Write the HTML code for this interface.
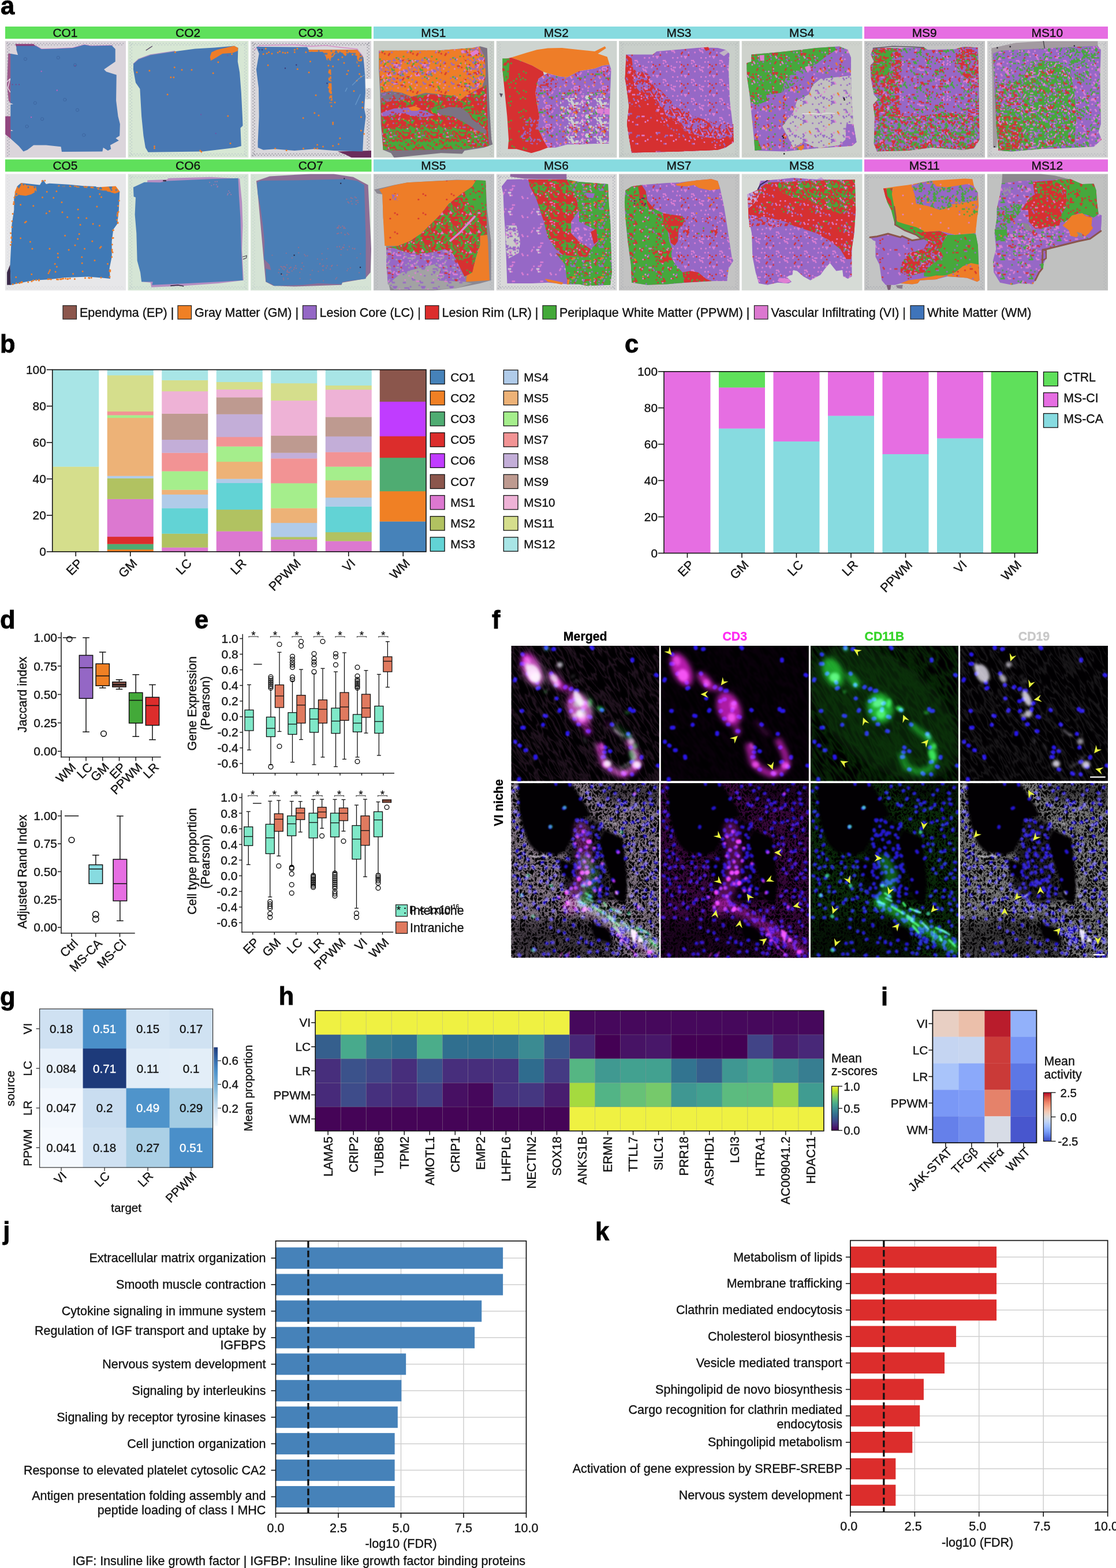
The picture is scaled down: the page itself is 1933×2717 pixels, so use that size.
<!DOCTYPE html>
<html lang="en"><head><meta charset="utf-8"><title>Figure</title>
<style>
html,body{margin:0;padding:0;background:#fff;}
body{width:1933px;height:2717px;overflow:hidden;}
svg{display:block;font-family:"Liberation Sans",sans-serif;fill:#111;}
</style></head><body>
<svg width="1933" height="2717" viewBox="0 0 1933 2717">
<rect x="0" y="0" width="1933" height="2717" fill="#ffffff"/>
<text x="1" y="25" font-size="43.5" font-weight="bold" fill="#000" stroke="#000" stroke-width="0.8">a</text>
<text x="0" y="611" font-size="43.5" font-weight="bold" fill="#000" stroke="#000" stroke-width="0.8">b</text>
<text x="1082" y="611" font-size="43.5" font-weight="bold" fill="#000" stroke="#000" stroke-width="0.8">c</text>
<text x="0" y="1088.5" font-size="43.5" font-weight="bold" fill="#000" stroke="#000" stroke-width="0.8">d</text>
<text x="337" y="1088.5" font-size="43.5" font-weight="bold" fill="#000" stroke="#000" stroke-width="0.8">e</text>
<text x="852" y="1088.5" font-size="43.5" font-weight="bold" fill="#000" stroke="#000" stroke-width="0.8">f</text>
<text x="0" y="1741.5" font-size="43.5" font-weight="bold" fill="#000" stroke="#000" stroke-width="0.8">g</text>
<text x="482.8" y="1741" font-size="43.5" font-weight="bold" fill="#000" stroke="#000" stroke-width="0.8">h</text>
<text x="1526" y="1741.5" font-size="43.5" font-weight="bold" fill="#000" stroke="#000" stroke-width="0.8">i</text>
<text x="5.3" y="2148" font-size="43.5" font-weight="bold" fill="#000" stroke="#000" stroke-width="0.8">j</text>
<text x="1031" y="2148.5" font-size="43.5" font-weight="bold" fill="#000" stroke="#000" stroke-width="0.8">k</text>
<rect x="9" y="46" width="634.5" height="21.2" fill="#5fe05b"/>
<rect x="647" y="46" width="846.5" height="21.2" fill="#87dbe0"/>
<rect x="1497" y="46" width="422" height="21.2" fill="#e66ee2"/>
<rect x="9" y="276.25" width="634.5" height="21.2" fill="#5fe05b"/>
<rect x="647" y="276.25" width="846.5" height="21.2" fill="#87dbe0"/>
<rect x="1497" y="276.25" width="422" height="21.2" fill="#e66ee2"/>
<text x="113" y="63.8" font-size="20.9" text-anchor="middle" stroke="#111" stroke-width="0.35">CO1</text>
<text x="325.6" y="63.8" font-size="20.9" text-anchor="middle" stroke="#111" stroke-width="0.35">CO2</text>
<text x="538.2" y="63.8" font-size="20.9" text-anchor="middle" stroke="#111" stroke-width="0.35">CO3</text>
<text x="750.8" y="63.8" font-size="20.9" text-anchor="middle" stroke="#111" stroke-width="0.35">MS1</text>
<text x="963.4" y="63.8" font-size="20.9" text-anchor="middle" stroke="#111" stroke-width="0.35">MS2</text>
<text x="1176" y="63.8" font-size="20.9" text-anchor="middle" stroke="#111" stroke-width="0.35">MS3</text>
<text x="1388.6" y="63.8" font-size="20.9" text-anchor="middle" stroke="#111" stroke-width="0.35">MS4</text>
<text x="1601.2" y="63.8" font-size="20.9" text-anchor="middle" stroke="#111" stroke-width="0.35">MS9</text>
<text x="1813.8" y="63.8" font-size="20.9" text-anchor="middle" stroke="#111" stroke-width="0.35">MS10</text>
<text x="113" y="294.1" font-size="20.9" text-anchor="middle" stroke="#111" stroke-width="0.35">CO5</text>
<text x="325.6" y="294.1" font-size="20.9" text-anchor="middle" stroke="#111" stroke-width="0.35">CO6</text>
<text x="538.2" y="294.1" font-size="20.9" text-anchor="middle" stroke="#111" stroke-width="0.35">CO7</text>
<text x="750.8" y="294.1" font-size="20.9" text-anchor="middle" stroke="#111" stroke-width="0.35">MS5</text>
<text x="963.4" y="294.1" font-size="20.9" text-anchor="middle" stroke="#111" stroke-width="0.35">MS6</text>
<text x="1176" y="294.1" font-size="20.9" text-anchor="middle" stroke="#111" stroke-width="0.35">MS7</text>
<text x="1388.6" y="294.1" font-size="20.9" text-anchor="middle" stroke="#111" stroke-width="0.35">MS8</text>
<text x="1601.2" y="294.1" font-size="20.9" text-anchor="middle" stroke="#111" stroke-width="0.35">MS11</text>
<text x="1813.8" y="294.1" font-size="20.9" text-anchor="middle" stroke="#111" stroke-width="0.35">MS12</text>
<rect x="109" y="529.5" width="23.5" height="23.5" fill="#8b564c" stroke="#222" stroke-width="1.2"/>
<text x="138" y="548.8" font-size="21.5" stroke="#111" stroke-width="0.35">Ependyma (EP) |</text>
<rect x="308" y="529.5" width="23.5" height="23.5" fill="#f08024" stroke="#222" stroke-width="1.2"/>
<text x="337" y="548.8" font-size="21.5" stroke="#111" stroke-width="0.35">Gray Matter (GM) |</text>
<rect x="524.5" y="529.5" width="23.5" height="23.5" fill="#9467c5" stroke="#222" stroke-width="1.2"/>
<text x="553.5" y="548.8" font-size="21.5" stroke="#111" stroke-width="0.35">Lesion Core (LC) |</text>
<rect x="736.5" y="529.5" width="23.5" height="23.5" fill="#dc2d2c" stroke="#222" stroke-width="1.2"/>
<text x="765.5" y="548.8" font-size="21.5" stroke="#111" stroke-width="0.35">Lesion Rim (LR) |</text>
<rect x="940" y="529.5" width="23.5" height="23.5" fill="#43a939" stroke="#222" stroke-width="1.2"/>
<text x="969" y="548.8" font-size="21.5" stroke="#111" stroke-width="0.35">Periplaque White Matter (PPWM) |</text>
<rect x="1306.5" y="529.5" width="23.5" height="23.5" fill="#dc78d0" stroke="#222" stroke-width="1.2"/>
<text x="1335.5" y="548.8" font-size="21.5" stroke="#111" stroke-width="0.35">Vascular Infiltrating (VI) |</text>
<rect x="1577" y="529.5" width="23.5" height="23.5" fill="#3f74ba" stroke="#222" stroke-width="1.2"/>
<text x="1606" y="548.8" font-size="21.5" stroke="#111" stroke-width="0.35">White Matter (WM)</text>
<defs><pattern id="p0" width="48.96" height="33.04" patternUnits="userSpaceOnUse" stroke-width="3" stroke-linecap="round" fill="none"><rect width="49.96" height="34.04" fill="#ee7d28"/><path d="M4.1 1.2h0M4.1 34.2h0M15 1.2h0M15 34.2h0M17.7 1.2h0M17.7 34.2h0M36.7 1.2h0M36.7 34.2h0M39.4 1.2h0M39.4 34.2h0M47.6 1.2h0M-1.4 1.2h0M47.6 34.2h0M29.9 3.5h0M35.4 3.5h0M40.8 3.5h0M6.8 5.9h0M31.3 5.9h0M47.6 5.9h0M-1.4 5.9h0M2.7 8.3h0M8.2 8.3h0M13.6 8.3h0M32.6 8.3h0M35.4 8.3h0M38.1 8.3h0M25.8 10.6h0M34 10.6h0M36.7 10.6h0M39.4 10.6h0M8.2 13h0M24.5 13h0M38.1 13h0M23.1 15.3h0M25.8 15.3h0M44.9 15.3h0M2.7 17.7h0M24.5 17.7h0M43.5 17.7h0M46.2 17.7h0M13.6 22.4h0M35.4 22.4h0M43.5 22.4h0M1.4 24.8h0M50.3 24.8h0M42.2 24.8h0M44.9 24.8h0M5.4 27.1h0M13.6 27.1h0M21.8 27.1h0M24.5 27.1h0M27.2 27.1h0M38.1 27.1h0M36.7 29.5h0M47.6 29.5h0M-1.4 29.5h0M2.7 31.9h0M2.7 -1.2h0M8.2 31.9h0M8.2 -1.2h0M16.3 31.9h0M16.3 -1.2h0M40.8 31.9h0M40.8 -1.2h0" stroke="#4878b3"/></pattern><pattern id="p1" width="48.96" height="33.04" patternUnits="userSpaceOnUse" stroke-width="3" stroke-linecap="round" fill="none"><rect width="49.96" height="34.04" fill="#ee7d28"/><path d="M9.5 1.2h0M9.5 34.2h0M20.4 1.2h0M20.4 34.2h0M23.1 1.2h0M23.1 34.2h0M31.3 1.2h0M31.3 34.2h0M44.9 1.2h0M44.9 34.2h0M5.4 3.5h0M8.2 3.5h0M13.6 3.5h0M16.3 3.5h0M27.2 3.5h0M38.1 3.5h0M43.5 3.5h0M17.7 5.9h0M20.4 5.9h0M23.1 5.9h0M25.8 5.9h0M34 5.9h0M42.2 5.9h0M47.6 5.9h0M-1.4 5.9h0M10.9 8.3h0M21.8 8.3h0M24.5 8.3h0M29.9 8.3h0M32.6 8.3h0M12.2 10.6h0M15 10.6h0M31.3 10.6h0M34 10.6h0M36.7 10.6h0M39.4 10.6h0M42.2 10.6h0M47.6 10.6h0M-1.4 10.6h0M38.1 13h0M43.5 13h0M49 13h0M0 13h0M1.4 15.3h0M50.3 15.3h0M4.1 15.3h0M6.8 15.3h0M17.7 15.3h0M20.4 15.3h0M39.4 15.3h0M42.2 15.3h0M44.9 15.3h0M2.7 17.7h0M5.4 17.7h0M10.9 17.7h0M13.6 17.7h0M19 17.7h0M27.2 17.7h0M43.5 17.7h0M20.4 20.1h0M23.1 20.1h0M25.8 20.1h0M39.4 20.1h0M42.2 20.1h0M44.9 20.1h0M8.2 22.4h0M27.2 22.4h0M29.9 22.4h0M6.8 24.8h0M9.5 24.8h0M20.4 24.8h0M25.8 24.8h0M36.7 24.8h0M39.4 24.8h0M42.2 24.8h0M44.9 24.8h0M2.7 27.1h0M8.2 27.1h0M10.9 27.1h0M24.5 27.1h0M27.2 27.1h0M38.1 27.1h0M43.5 27.1h0M6.8 29.5h0M12.2 29.5h0M25.8 29.5h0M28.6 29.5h0M31.3 29.5h0M42.2 29.5h0M5.4 31.9h0M5.4 -1.2h0M8.2 31.9h0M8.2 -1.2h0M10.9 31.9h0M10.9 -1.2h0M29.9 31.9h0M29.9 -1.2h0M32.6 31.9h0M32.6 -1.2h0M35.4 31.9h0M35.4 -1.2h0M40.8 31.9h0M40.8 -1.2h0M43.5 31.9h0M43.5 -1.2h0" stroke="#4878b3"/></pattern><pattern id="p2" width="48.96" height="33.04" patternUnits="userSpaceOnUse" stroke-width="3" stroke-linecap="round" fill="none"><rect width="49.96" height="34.04" fill="#ee7d28"/><path d="M8.2 3.5h0M23.1 10.6h0M13.6 13h0M27.2 13h0M36.7 15.3h0M4.1 20.1h0M34 20.1h0M21.8 22.4h0" stroke="#df7fd3"/><path d="M36.7 10.6h0M9.5 15.3h0M12.2 15.3h0M16.3 17.7h0M25.8 24.8h0M29.9 27.1h0M38.1 27.1h0M36.7 29.5h0" stroke="#d63031"/><path d="M1.4 1.2h0M50.3 1.2h0M1.4 34.2h0M5.4 3.5h0M21.8 3.5h0M15 10.6h0M24.5 17.7h0M25.8 20.1h0M27.2 22.4h0M13.6 31.9h0M13.6 -1.2h0" stroke="#46a83c"/><path d="M4.1 1.2h0M4.1 34.2h0M46.2 3.5h0M6.8 5.9h0M28.6 5.9h0M35.4 8.3h0M34 10.6h0M47.6 10.6h0M-1.4 10.6h0M2.7 13h0M49 13h0M0 13h0M10.9 17.7h0M43.5 17.7h0M20.4 24.8h0M42.2 24.8h0" stroke="#9668c6"/></pattern><pattern id="p3" width="48.96" height="33.04" patternUnits="userSpaceOnUse" stroke-width="3" stroke-linecap="round" fill="none"><rect width="49.96" height="34.04" fill="#ee7d28"/><path d="M20.4 1.2h0M20.4 34.2h0M23.1 1.2h0M23.1 34.2h0M2.7 3.5h0M13.6 3.5h0M12.2 5.9h0M23.1 5.9h0M1.4 10.6h0M50.3 10.6h0M28.6 15.3h0M46.2 17.7h0M31.3 24.8h0M38.1 27.1h0M4.1 29.5h0M36.7 29.5h0" stroke="#d63031"/><path d="M39.4 1.2h0M39.4 34.2h0M32.6 3.5h0M25.8 5.9h0M35.4 8.3h0M20.4 10.6h0M31.3 10.6h0M29.9 13h0M42.2 20.1h0M43.5 22.4h0M46.2 22.4h0M46.2 27.1h0M12.2 29.5h0M8.2 31.9h0M8.2 -1.2h0" stroke="#46a83c"/><path d="M25.8 1.2h0M25.8 34.2h0M28.6 5.9h0M34 5.9h0M29.9 8.3h0M9.5 10.6h0M2.7 13h0M46.2 13h0M49 13h0M0 13h0M1.4 15.3h0M50.3 15.3h0M31.3 15.3h0M5.4 17.7h0M8.2 17.7h0M24.5 17.7h0M6.8 20.1h0M13.6 22.4h0M6.8 24.8h0M15 24.8h0M5.4 27.1h0M19 27.1h0M34 29.5h0M39.4 29.5h0M27.2 31.9h0M27.2 -1.2h0M35.4 31.9h0M35.4 -1.2h0M38.1 31.9h0M38.1 -1.2h0M40.8 31.9h0M40.8 -1.2h0" stroke="#df7fd3"/><path d="M19 3.5h0M43.5 3.5h0M46.2 3.5h0M6.8 5.9h0M9.5 5.9h0M36.7 5.9h0M39.4 5.9h0M44.9 5.9h0M47.6 5.9h0M-1.4 5.9h0M8.2 8.3h0M16.3 8.3h0M24.5 8.3h0M38.1 8.3h0M23.1 10.6h0M42.2 10.6h0M44.9 10.6h0M5.4 13h0M8.2 13h0M6.8 15.3h0M39.4 15.3h0M47.6 15.3h0M-1.4 15.3h0M2.7 17.7h0M21.8 17.7h0M32.6 17.7h0M35.4 17.7h0M40.8 17.7h0M49 17.7h0M0 17.7h0M23.1 20.1h0M28.6 20.1h0M36.7 20.1h0M16.3 22.4h0M19 22.4h0M24.5 22.4h0M9.5 24.8h0M12.2 24.8h0M17.7 24.8h0M20.4 24.8h0M28.6 24.8h0M34 24.8h0M36.7 24.8h0M42.2 24.8h0M44.9 24.8h0M10.9 27.1h0M49 27.1h0M0 27.1h0M6.8 29.5h0M9.5 29.5h0M44.9 29.5h0M47.6 29.5h0M-1.4 29.5h0M10.9 31.9h0M10.9 -1.2h0M13.6 31.9h0M13.6 -1.2h0" stroke="#9668c6"/></pattern><pattern id="p4" width="48.96" height="33.04" patternUnits="userSpaceOnUse" stroke-width="3" stroke-linecap="round" fill="none"><rect width="49.96" height="34.04" fill="#ee7d28"/><path d="M36.7 1.2h0M36.7 34.2h0M40.8 8.3h0M9.5 10.6h0M12.2 10.6h0M39.4 10.6h0M21.8 13h0M24.5 13h0M49 13h0M0 13h0M29.9 17.7h0M4.1 20.1h0M31.3 20.1h0M1.4 29.5h0M50.3 29.5h0M5.4 31.9h0M5.4 -1.2h0" stroke="#46a83c"/><path d="M15 1.2h0M15 34.2h0M5.4 3.5h0M46.2 3.5h0M4.1 5.9h0M47.6 5.9h0M-1.4 5.9h0M13.6 8.3h0M21.8 8.3h0M15 10.6h0M43.5 13h0M46.2 13h0M25.8 15.3h0M28.6 15.3h0M44.9 15.3h0M43.5 17.7h0M17.7 20.1h0M16.3 22.4h0M19 22.4h0M27.2 22.4h0M32.6 22.4h0M15 24.8h0M17.7 24.8h0M20.4 24.8h0M43.5 27.1h0M15 29.5h0M16.3 31.9h0M16.3 -1.2h0" stroke="#df7fd3"/><path d="M12.2 1.2h0M12.2 34.2h0M17.7 1.2h0M17.7 34.2h0M8.2 3.5h0M10.9 3.5h0M19 3.5h0M6.8 5.9h0M9.5 5.9h0M23.1 5.9h0M8.2 8.3h0M10.9 8.3h0M16.3 8.3h0M44.9 10.6h0M29.9 13h0M40.8 13h0M21.8 17.7h0M24.5 22.4h0M25.8 24.8h0M44.9 24.8h0M38.1 27.1h0M40.8 27.1h0M46.2 27.1h0M28.6 29.5h0M31.3 29.5h0M42.2 29.5h0M19 31.9h0M19 -1.2h0" stroke="#d63031"/><path d="M1.4 1.2h0M50.3 1.2h0M1.4 34.2h0M4.1 1.2h0M4.1 34.2h0M9.5 1.2h0M9.5 34.2h0M47.6 1.2h0M-1.4 1.2h0M47.6 34.2h0M2.7 3.5h0M13.6 3.5h0M27.2 3.5h0M38.1 3.5h0M43.5 3.5h0M49 3.5h0M0 3.5h0M12.2 5.9h0M31.3 5.9h0M39.4 5.9h0M35.4 8.3h0M38.1 8.3h0M43.5 8.3h0M36.7 10.6h0M5.4 13h0M10.9 13h0M13.6 13h0M6.8 15.3h0M9.5 15.3h0M23.1 15.3h0M39.4 15.3h0M42.2 15.3h0M5.4 17.7h0M8.2 17.7h0M10.9 17.7h0M13.6 17.7h0M24.5 17.7h0M27.2 17.7h0M32.6 17.7h0M40.8 17.7h0M1.4 20.1h0M50.3 20.1h0M34 20.1h0M36.7 20.1h0M39.4 20.1h0M44.9 20.1h0M21.8 22.4h0M43.5 22.4h0M49 22.4h0M0 22.4h0M1.4 24.8h0M50.3 24.8h0M23.1 24.8h0M2.7 27.1h0M16.3 27.1h0M27.2 27.1h0M25.8 29.5h0M36.7 29.5h0M44.9 29.5h0M32.6 31.9h0M32.6 -1.2h0" stroke="#9668c6"/></pattern><pattern id="p5" width="48.96" height="33.04" patternUnits="userSpaceOnUse" stroke-width="3" stroke-linecap="round" fill="none"><rect width="49.96" height="34.04" fill="#d63031"/><path d="M6.8 1.2h0M6.8 34.2h0M25.8 1.2h0M25.8 34.2h0M5.4 8.3h0M5.4 22.4h0M32.6 27.1h0M39.4 29.5h0M8.2 31.9h0M8.2 -1.2h0M24.5 31.9h0M24.5 -1.2h0" stroke="#df7fd3"/><path d="M13.6 8.3h0M23.1 10.6h0M35.4 17.7h0M13.6 27.1h0M1.4 29.5h0M50.3 29.5h0M15 29.5h0M36.7 29.5h0M42.2 29.5h0" stroke="#ee7d28"/><path d="M28.6 1.2h0M28.6 34.2h0M6.8 5.9h0M42.2 5.9h0M43.5 8.3h0M28.6 10.6h0M44.9 15.3h0M34 20.1h0M13.6 22.4h0M19 22.4h0M21.8 22.4h0M38.1 27.1h0M40.8 27.1h0M20.4 29.5h0" stroke="#9668c6"/><path d="M34 1.2h0M34 34.2h0M39.4 1.2h0M39.4 34.2h0M42.2 1.2h0M42.2 34.2h0M44.9 1.2h0M44.9 34.2h0M47.6 1.2h0M-1.4 1.2h0M47.6 34.2h0M38.1 3.5h0M46.2 3.5h0M25.8 5.9h0M10.9 8.3h0M27.2 8.3h0M40.8 8.3h0M49 8.3h0M0 8.3h0M6.8 10.6h0M15 10.6h0M17.7 10.6h0M31.3 10.6h0M19 13h0M21.8 13h0M27.2 13h0M29.9 13h0M1.4 15.3h0M50.3 15.3h0M20.4 15.3h0M23.1 15.3h0M28.6 15.3h0M8.2 17.7h0M19 17.7h0M6.8 20.1h0M27.2 22.4h0M2.7 27.1h0M5.4 27.1h0M4.1 29.5h0M6.8 29.5h0M17.7 29.5h0M34 29.5h0M2.7 31.9h0M2.7 -1.2h0M21.8 31.9h0M21.8 -1.2h0M40.8 31.9h0M40.8 -1.2h0M49 31.9h0M0 31.9h0M49 -1.2h0" stroke="#46a83c"/></pattern><pattern id="p6" width="48.96" height="33.04" patternUnits="userSpaceOnUse" stroke-width="3" stroke-linecap="round" fill="none"><rect width="49.96" height="34.04" fill="#7b7382"/><path d="M10.9 3.5h0M24.5 3.5h0M43.5 3.5h0M9.5 5.9h0M12.2 5.9h0M32.6 8.3h0M35.4 8.3h0M40.8 8.3h0M49 8.3h0M0 8.3h0M1.4 10.6h0M50.3 10.6h0M9.5 10.6h0M4.1 15.3h0M15 15.3h0M16.3 17.7h0M43.5 17.7h0M46.2 17.7h0M49 17.7h0M0 17.7h0M6.8 20.1h0M12.2 20.1h0M15 20.1h0M17.7 20.1h0M10.9 22.4h0M43.5 22.4h0M49 22.4h0M0 22.4h0M1.4 24.8h0M50.3 24.8h0M6.8 24.8h0M20.4 24.8h0M42.2 24.8h0M47.6 24.8h0M-1.4 24.8h0M27.2 27.1h0M29.9 27.1h0M9.5 29.5h0M23.1 29.5h0M31.3 29.5h0M39.4 29.5h0M47.6 29.5h0M-1.4 29.5h0M27.2 31.9h0M27.2 -1.2h0M29.9 31.9h0M29.9 -1.2h0" stroke="#9668c6"/><path d="M9.5 1.2h0M9.5 34.2h0M12.2 1.2h0M12.2 34.2h0M17.7 1.2h0M17.7 34.2h0M44.9 1.2h0M44.9 34.2h0M16.3 3.5h0M21.8 3.5h0M46.2 3.5h0M6.8 5.9h0M17.7 5.9h0M25.8 5.9h0M39.4 5.9h0M44.9 5.9h0M47.6 5.9h0M-1.4 5.9h0M21.8 8.3h0M27.2 8.3h0M43.5 8.3h0M23.1 10.6h0M31.3 10.6h0M42.2 10.6h0M44.9 10.6h0M5.4 13h0M46.2 13h0M49 13h0M0 13h0M6.8 15.3h0M25.8 15.3h0M44.9 15.3h0M10.9 17.7h0M13.6 17.7h0M27.2 17.7h0M20.4 20.1h0M2.7 22.4h0M24.5 22.4h0M9.5 24.8h0M12.2 24.8h0M13.6 27.1h0M16.3 27.1h0M4.1 29.5h0M36.7 29.5h0" stroke="#d63031"/></pattern><pattern id="p7" width="48.96" height="33.04" patternUnits="userSpaceOnUse" stroke-width="3" stroke-linecap="round" fill="none"><rect width="49.96" height="34.04" fill="#9668c6"/><path d="M13.6 3.5h0M4.1 5.9h0M6.8 5.9h0M12.2 5.9h0M9.5 10.6h0M12.2 10.6h0M20.4 10.6h0M39.4 10.6h0M1.4 20.1h0M50.3 20.1h0M4.1 20.1h0M5.4 22.4h0M16.3 27.1h0M21.8 27.1h0" stroke="#ee7d28"/><path d="M39.4 1.2h0M39.4 34.2h0M47.6 1.2h0M-1.4 1.2h0M47.6 34.2h0M19 3.5h0M35.4 3.5h0M38.1 8.3h0M31.3 10.6h0M36.7 10.6h0M5.4 13h0M38.1 13h0M6.8 15.3h0M28.6 15.3h0M42.2 15.3h0M47.6 15.3h0M-1.4 15.3h0M2.7 17.7h0M10.9 17.7h0M39.4 20.1h0M10.9 22.4h0M40.8 22.4h0M28.6 24.8h0M13.6 27.1h0M42.2 29.5h0M44.9 29.5h0M5.4 31.9h0M5.4 -1.2h0M16.3 31.9h0M16.3 -1.2h0M49 31.9h0M0 31.9h0M49 -1.2h0" stroke="#d63031"/></pattern><pattern id="p8" width="48.96" height="33.04" patternUnits="userSpaceOnUse" stroke-width="3" stroke-linecap="round" fill="none"><rect width="49.96" height="34.04" fill="#46a83c"/><path d="M1.4 1.2h0M50.3 1.2h0M1.4 34.2h0M39.4 1.2h0M39.4 34.2h0M2.7 3.5h0M8.2 3.5h0M21.8 3.5h0M38.1 3.5h0M40.8 3.5h0M43.5 3.5h0M39.4 5.9h0M42.2 5.9h0M44.9 5.9h0M47.6 5.9h0M-1.4 5.9h0M16.3 8.3h0M19 8.3h0M29.9 8.3h0M43.5 8.3h0M12.2 10.6h0M20.4 10.6h0M23.1 10.6h0M36.7 10.6h0M39.4 10.6h0M8.2 13h0M16.3 13h0M43.5 13h0M42.2 15.3h0M19 17.7h0M29.9 17.7h0M46.2 17.7h0M4.1 20.1h0M6.8 20.1h0M9.5 20.1h0M12.2 20.1h0M28.6 20.1h0M42.2 20.1h0M44.9 20.1h0M13.6 22.4h0M24.5 22.4h0M29.9 22.4h0M32.6 22.4h0M46.2 22.4h0M49 22.4h0M0 22.4h0M1.4 24.8h0M50.3 24.8h0M44.9 24.8h0M2.7 27.1h0M4.1 29.5h0M6.8 29.5h0M10.9 31.9h0M10.9 -1.2h0M24.5 31.9h0M24.5 -1.2h0M40.8 31.9h0M40.8 -1.2h0M46.2 31.9h0M46.2 -1.2h0" stroke="#d63031"/></pattern><pattern id="p9" width="48.96" height="33.04" patternUnits="userSpaceOnUse" stroke-width="3" stroke-linecap="round" fill="none"><rect width="49.96" height="34.04" fill="#46a83c"/><path d="M1.4 1.2h0M50.3 1.2h0M1.4 34.2h0M17.7 1.2h0M17.7 34.2h0M20.4 1.2h0M20.4 34.2h0M28.6 1.2h0M28.6 34.2h0M31.3 1.2h0M31.3 34.2h0M13.6 3.5h0M19 3.5h0M21.8 3.5h0M32.6 3.5h0M4.1 5.9h0M6.8 5.9h0M12.2 5.9h0M15 5.9h0M23.1 5.9h0M25.8 5.9h0M28.6 5.9h0M44.9 5.9h0M47.6 5.9h0M-1.4 5.9h0M2.7 8.3h0M16.3 8.3h0M19 8.3h0M27.2 8.3h0M29.9 8.3h0M32.6 8.3h0M46.2 8.3h0M1.4 10.6h0M50.3 10.6h0M23.1 10.6h0M28.6 10.6h0M31.3 10.6h0M44.9 10.6h0M5.4 13h0M8.2 13h0M21.8 13h0M29.9 13h0M35.4 13h0M43.5 13h0M6.8 15.3h0M12.2 15.3h0M23.1 15.3h0M31.3 15.3h0M34 15.3h0M42.2 15.3h0M44.9 15.3h0M47.6 15.3h0M-1.4 15.3h0M5.4 17.7h0M27.2 17.7h0M29.9 17.7h0M32.6 17.7h0M38.1 17.7h0M46.2 17.7h0M49 17.7h0M0 17.7h0M4.1 20.1h0M9.5 20.1h0M12.2 20.1h0M39.4 20.1h0M47.6 20.1h0M-1.4 20.1h0M2.7 22.4h0M8.2 22.4h0M13.6 22.4h0M16.3 22.4h0M32.6 22.4h0M35.4 22.4h0M38.1 22.4h0M40.8 22.4h0M49 22.4h0M0 22.4h0M1.4 24.8h0M50.3 24.8h0M6.8 24.8h0M17.7 24.8h0M23.1 24.8h0M25.8 24.8h0M28.6 24.8h0M34 24.8h0M36.7 24.8h0M39.4 24.8h0M42.2 24.8h0M44.9 24.8h0M47.6 24.8h0M-1.4 24.8h0M5.4 27.1h0M8.2 27.1h0M10.9 27.1h0M13.6 27.1h0M16.3 27.1h0M35.4 27.1h0M40.8 27.1h0M46.2 27.1h0M1.4 29.5h0M50.3 29.5h0M6.8 29.5h0M15 29.5h0M28.6 29.5h0M31.3 29.5h0M34 29.5h0M36.7 29.5h0M42.2 29.5h0M47.6 29.5h0M-1.4 29.5h0M5.4 31.9h0M5.4 -1.2h0M19 31.9h0M19 -1.2h0M27.2 31.9h0M27.2 -1.2h0M35.4 31.9h0M35.4 -1.2h0M40.8 31.9h0M40.8 -1.2h0M43.5 31.9h0M43.5 -1.2h0M46.2 31.9h0M46.2 -1.2h0" stroke="#d63031"/></pattern><pattern id="p10" width="48.96" height="33.04" patternUnits="userSpaceOnUse" stroke-width="3" stroke-linecap="round" fill="none"><rect width="49.96" height="34.04" fill="#d63031"/><path d="M39.4 5.9h0M42.2 5.9h0M27.2 8.3h0M27.2 13h0M29.9 13h0M20.4 24.8h0M36.7 24.8h0M40.8 31.9h0M40.8 -1.2h0" stroke="#df7fd3"/><path d="M34 1.2h0M34 34.2h0M46.2 3.5h0M49 3.5h0M0 3.5h0M6.8 10.6h0M23.1 10.6h0M44.9 10.6h0M10.9 13h0M47.6 15.3h0M-1.4 15.3h0M5.4 17.7h0M35.4 17.7h0M38.1 17.7h0M4.1 20.1h0M38.1 27.1h0" stroke="#9668c6"/><path d="M4.1 1.2h0M4.1 34.2h0M12.2 1.2h0M12.2 34.2h0M15 1.2h0M15 34.2h0M17.7 1.2h0M17.7 34.2h0M20.4 1.2h0M20.4 34.2h0M25.8 1.2h0M25.8 34.2h0M36.7 1.2h0M36.7 34.2h0M42.2 1.2h0M42.2 34.2h0M47.6 1.2h0M-1.4 1.2h0M47.6 34.2h0M2.7 3.5h0M8.2 3.5h0M16.3 3.5h0M19 3.5h0M32.6 3.5h0M35.4 3.5h0M38.1 3.5h0M43.5 3.5h0M1.4 5.9h0M50.3 5.9h0M9.5 5.9h0M25.8 5.9h0M34 5.9h0M36.7 5.9h0M44.9 5.9h0M47.6 5.9h0M-1.4 5.9h0M2.7 8.3h0M5.4 8.3h0M10.9 8.3h0M29.9 8.3h0M35.4 8.3h0M38.1 8.3h0M40.8 8.3h0M43.5 8.3h0M46.2 8.3h0M1.4 10.6h0M50.3 10.6h0M4.1 10.6h0M15 10.6h0M17.7 10.6h0M20.4 10.6h0M31.3 10.6h0M34 10.6h0M39.4 10.6h0M47.6 10.6h0M-1.4 10.6h0M16.3 13h0M19 13h0M21.8 13h0M24.5 13h0M32.6 13h0M38.1 13h0M40.8 13h0M49 13h0M0 13h0M1.4 15.3h0M50.3 15.3h0M4.1 15.3h0M6.8 15.3h0M9.5 15.3h0M20.4 15.3h0M23.1 15.3h0M31.3 15.3h0M39.4 15.3h0M42.2 15.3h0M2.7 17.7h0M10.9 17.7h0M24.5 17.7h0M27.2 17.7h0M29.9 17.7h0M32.6 17.7h0M43.5 17.7h0M46.2 17.7h0M12.2 20.1h0M15 20.1h0M20.4 20.1h0M25.8 20.1h0M44.9 20.1h0M47.6 20.1h0M-1.4 20.1h0M2.7 22.4h0M24.5 22.4h0M27.2 22.4h0M29.9 22.4h0M35.4 22.4h0M43.5 22.4h0M49 22.4h0M0 22.4h0M1.4 24.8h0M50.3 24.8h0M4.1 24.8h0M6.8 24.8h0M12.2 24.8h0M17.7 24.8h0M23.1 24.8h0M25.8 24.8h0M28.6 24.8h0M31.3 24.8h0M34 24.8h0M39.4 24.8h0M2.7 27.1h0M5.4 27.1h0M8.2 27.1h0M10.9 27.1h0M13.6 27.1h0M16.3 27.1h0M19 27.1h0M21.8 27.1h0M27.2 27.1h0M29.9 27.1h0M32.6 27.1h0M40.8 27.1h0M43.5 27.1h0M46.2 27.1h0M49 27.1h0M0 27.1h0M6.8 29.5h0M9.5 29.5h0M15 29.5h0M17.7 29.5h0M20.4 29.5h0M23.1 29.5h0M28.6 29.5h0M31.3 29.5h0M36.7 29.5h0M39.4 29.5h0M42.2 29.5h0M47.6 29.5h0M-1.4 29.5h0M2.7 31.9h0M2.7 -1.2h0M10.9 31.9h0M10.9 -1.2h0M27.2 31.9h0M27.2 -1.2h0M29.9 31.9h0M29.9 -1.2h0M32.6 31.9h0M32.6 -1.2h0M35.4 31.9h0M35.4 -1.2h0M43.5 31.9h0M43.5 -1.2h0M46.2 31.9h0M46.2 -1.2h0" stroke="#46a83c"/></pattern><pattern id="p11" width="48.96" height="33.04" patternUnits="userSpaceOnUse" stroke-width="3" stroke-linecap="round" fill="none"><rect width="49.96" height="34.04" fill="#46a83c"/><path d="M12.2 1.2h0M12.2 34.2h0M15 1.2h0M15 34.2h0M17.7 1.2h0M17.7 34.2h0M20.4 1.2h0M20.4 34.2h0M31.3 1.2h0M31.3 34.2h0M39.4 1.2h0M39.4 34.2h0M42.2 1.2h0M42.2 34.2h0M44.9 1.2h0M44.9 34.2h0M32.6 3.5h0M38.1 3.5h0M4.1 5.9h0M9.5 5.9h0M15 5.9h0M42.2 5.9h0M2.7 8.3h0M10.9 8.3h0M29.9 8.3h0M32.6 8.3h0M35.4 8.3h0M38.1 8.3h0M40.8 8.3h0M43.5 8.3h0M1.4 10.6h0M50.3 10.6h0M4.1 10.6h0M6.8 10.6h0M15 10.6h0M39.4 10.6h0M42.2 10.6h0M47.6 10.6h0M-1.4 10.6h0M2.7 13h0M8.2 13h0M10.9 13h0M27.2 13h0M29.9 13h0M38.1 13h0M43.5 13h0M46.2 13h0M17.7 15.3h0M31.3 15.3h0M34 15.3h0M21.8 17.7h0M27.2 17.7h0M32.6 17.7h0M6.8 20.1h0M20.4 20.1h0M23.1 20.1h0M39.4 20.1h0M10.9 22.4h0M35.4 22.4h0M46.2 22.4h0M15 24.8h0M34 24.8h0M36.7 24.8h0M39.4 24.8h0M42.2 24.8h0M44.9 24.8h0M47.6 24.8h0M-1.4 24.8h0M16.3 27.1h0M29.9 27.1h0M32.6 27.1h0M38.1 27.1h0M49 27.1h0M0 27.1h0M1.4 29.5h0M50.3 29.5h0M4.1 29.5h0M6.8 29.5h0M9.5 29.5h0M17.7 29.5h0M20.4 29.5h0M31.3 29.5h0M44.9 29.5h0M8.2 31.9h0M8.2 -1.2h0M19 31.9h0M19 -1.2h0M21.8 31.9h0M21.8 -1.2h0M40.8 31.9h0M40.8 -1.2h0M43.5 31.9h0M43.5 -1.2h0M46.2 31.9h0M46.2 -1.2h0" stroke="#d63031"/></pattern><pattern id="p12" width="48.96" height="33.04" patternUnits="userSpaceOnUse" stroke-width="3" stroke-linecap="round" fill="none"><rect width="49.96" height="34.04" fill="#9668c6"/><path d="M34 1.2h0M34 34.2h0M21.8 3.5h0M27.2 3.5h0M13.6 27.1h0M4.1 29.5h0M6.8 29.5h0M9.5 29.5h0M39.4 29.5h0" stroke="#46a83c"/><path d="M12.2 1.2h0M12.2 34.2h0M49 3.5h0M0 3.5h0M34 10.6h0M16.3 13h0M1.4 15.3h0M50.3 15.3h0M40.8 17.7h0M12.2 24.8h0M44.9 29.5h0" stroke="#ee7d28"/><path d="M24.5 3.5h0M25.8 5.9h0M44.9 5.9h0M1.4 10.6h0M50.3 10.6h0M24.5 17.7h0M24.5 22.4h0M6.8 24.8h0M17.7 24.8h0M23.1 24.8h0M17.7 29.5h0M47.6 29.5h0M-1.4 29.5h0M2.7 31.9h0M2.7 -1.2h0M19 31.9h0M19 -1.2h0" stroke="#d63031"/><path d="M9.5 1.2h0M9.5 34.2h0M10.9 3.5h0M34 5.9h0M2.7 8.3h0M13.6 8.3h0M12.2 10.6h0M13.6 13h0M34 15.3h0M47.6 15.3h0M-1.4 15.3h0M16.3 17.7h0M19 17.7h0M21.8 17.7h0M35.4 17.7h0M49 17.7h0M0 17.7h0M15 20.1h0M23.1 20.1h0M39.4 20.1h0M10.9 22.4h0M16.3 22.4h0M19 22.4h0M29.9 22.4h0M39.4 24.8h0M27.2 27.1h0M25.8 29.5h0M21.8 31.9h0M21.8 -1.2h0" stroke="#df7fd3"/></pattern><pattern id="p13" width="48.96" height="33.04" patternUnits="userSpaceOnUse" stroke-width="3" stroke-linecap="round" fill="none"><rect width="49.96" height="34.04" fill="#9668c6"/><path d="M40.8 3.5h0M42.2 5.9h0M38.1 13h0M42.2 24.8h0M35.4 27.1h0M4.1 29.5h0M5.4 31.9h0M5.4 -1.2h0M49 31.9h0M0 31.9h0M49 -1.2h0" stroke="#46a83c"/><path d="M10.9 22.4h0M40.8 22.4h0M46.2 22.4h0M23.1 24.8h0M46.2 27.1h0M15 29.5h0M17.7 29.5h0M19 31.9h0M19 -1.2h0" stroke="#ee7d28"/><path d="M42.2 1.2h0M42.2 34.2h0M17.7 5.9h0M44.9 5.9h0M36.7 15.3h0M16.3 17.7h0M38.1 17.7h0M31.3 20.1h0M8.2 22.4h0M16.3 22.4h0M12.2 24.8h0M19 27.1h0M32.6 27.1h0M20.4 29.5h0" stroke="#d63031"/><path d="M6.8 1.2h0M6.8 34.2h0M12.2 1.2h0M12.2 34.2h0M28.6 1.2h0M28.6 34.2h0M31.3 1.2h0M31.3 34.2h0M5.4 3.5h0M29.9 3.5h0M23.1 5.9h0M29.9 8.3h0M31.3 10.6h0M34 10.6h0M44.9 10.6h0M27.2 13h0M23.1 15.3h0M31.3 15.3h0M8.2 17.7h0M10.9 17.7h0M35.4 17.7h0M9.5 20.1h0M20.4 20.1h0M15 24.8h0M47.6 24.8h0M-1.4 24.8h0M6.8 29.5h0M9.5 29.5h0M42.2 29.5h0M13.6 31.9h0M13.6 -1.2h0" stroke="#df7fd3"/><path d="M17.7 1.2h0M17.7 34.2h0M36.7 1.2h0M36.7 34.2h0M39.4 1.2h0M39.4 34.2h0M19 3.5h0M35.4 3.5h0M38.1 3.5h0M1.4 5.9h0M50.3 5.9h0M4.1 5.9h0M9.5 5.9h0M12.2 5.9h0M15 5.9h0M36.7 5.9h0M39.4 5.9h0M5.4 8.3h0M10.9 8.3h0M6.8 10.6h0M9.5 10.6h0M12.2 10.6h0M28.6 10.6h0M39.4 10.6h0M10.9 13h0M13.6 13h0M19 13h0M21.8 13h0M29.9 13h0M40.8 13h0M6.8 15.3h0M12.2 15.3h0M15 15.3h0M17.7 15.3h0M20.4 15.3h0M25.8 15.3h0M13.6 17.7h0M29.9 17.7h0M4.1 20.1h0M15 20.1h0M17.7 20.1h0M42.2 20.1h0M44.9 20.1h0M21.8 22.4h0M24.5 22.4h0M43.5 22.4h0M49 22.4h0M0 22.4h0M4.1 24.8h0M5.4 27.1h0M8.2 27.1h0M24.5 27.1h0M31.3 29.5h0M43.5 31.9h0M43.5 -1.2h0M46.2 31.9h0M46.2 -1.2h0" stroke="#cfd2ce"/></pattern><pattern id="p14" width="48.96" height="33.04" patternUnits="userSpaceOnUse" stroke-width="3" stroke-linecap="round" fill="none"><rect width="49.96" height="34.04" fill="#df7fd3"/><path d="M1.4 1.2h0M50.3 1.2h0M1.4 34.2h0M31.3 1.2h0M31.3 34.2h0M36.7 1.2h0M36.7 34.2h0M39.4 1.2h0M39.4 34.2h0M13.6 3.5h0M16.3 3.5h0M6.8 5.9h0M23.1 5.9h0M42.2 5.9h0M44.9 5.9h0M47.6 5.9h0M-1.4 5.9h0M43.5 8.3h0M10.9 13h0M13.6 13h0M16.3 13h0M27.2 13h0M4.1 15.3h0M6.8 15.3h0M31.3 15.3h0M34 15.3h0M5.4 17.7h0M8.2 17.7h0M16.3 17.7h0M40.8 17.7h0M25.8 20.1h0M29.9 22.4h0M35.4 22.4h0M43.5 22.4h0M1.4 24.8h0M50.3 24.8h0M17.7 24.8h0M39.4 24.8h0M42.2 24.8h0M2.7 27.1h0M32.6 27.1h0M49 27.1h0M0 27.1h0M17.7 29.5h0M40.8 31.9h0M40.8 -1.2h0M43.5 31.9h0M43.5 -1.2h0" stroke="#9668c6"/></pattern><pattern id="p15" width="48.96" height="33.04" patternUnits="userSpaceOnUse" stroke-width="3" stroke-linecap="round" fill="none"><rect width="49.96" height="34.04" fill="#d63031"/><path d="M24.5 3.5h0M20.4 5.9h0M28.6 5.9h0M4.1 10.6h0M49 13h0M0 13h0M25.8 24.8h0M29.9 27.1h0M17.7 29.5h0" stroke="#46a83c"/></pattern><pattern id="p16" width="48.96" height="33.04" patternUnits="userSpaceOnUse" stroke-width="3" stroke-linecap="round" fill="none"><rect width="49.96" height="34.04" fill="#d63031"/><path d="M35.4 8.3h0M31.3 10.6h0M34 10.6h0M8.2 13h0M10.9 13h0M24.5 13h0M17.7 15.3h0M32.6 17.7h0" stroke="#46a83c"/><path d="M9.5 1.2h0M9.5 34.2h0M25.8 1.2h0M25.8 34.2h0M28.6 1.2h0M28.6 34.2h0M36.7 1.2h0M36.7 34.2h0M21.8 3.5h0M24.5 3.5h0M12.2 5.9h0M20.4 5.9h0M23.1 5.9h0M36.7 5.9h0M24.5 8.3h0M27.2 8.3h0M38.1 8.3h0M1.4 10.6h0M50.3 10.6h0M4.1 10.6h0M39.4 10.6h0M44.9 10.6h0M5.4 13h0M13.6 13h0M29.9 13h0M32.6 13h0M38.1 13h0M43.5 13h0M9.5 15.3h0M20.4 15.3h0M29.9 17.7h0M38.1 17.7h0M40.8 17.7h0M49 17.7h0M0 17.7h0M20.4 20.1h0M39.4 20.1h0M13.6 22.4h0M24.5 22.4h0M49 22.4h0M0 22.4h0M1.4 24.8h0M50.3 24.8h0M6.8 24.8h0M12.2 24.8h0M17.7 24.8h0M20.4 24.8h0M25.8 24.8h0M36.7 24.8h0M47.6 24.8h0M-1.4 24.8h0M8.2 27.1h0M38.1 27.1h0M28.6 29.5h0M36.7 29.5h0M13.6 31.9h0M13.6 -1.2h0M16.3 31.9h0M16.3 -1.2h0M27.2 31.9h0M27.2 -1.2h0M32.6 31.9h0M32.6 -1.2h0" stroke="#9668c6"/></pattern><pattern id="p17" width="48.96" height="33.04" patternUnits="userSpaceOnUse" stroke-width="3" stroke-linecap="round" fill="none"><rect width="49.96" height="34.04" fill="#9668c6"/><path d="M4.1 1.2h0M4.1 34.2h0M12.2 1.2h0M12.2 34.2h0M20.4 1.2h0M20.4 34.2h0M25.8 1.2h0M25.8 34.2h0M36.7 1.2h0M36.7 34.2h0M2.7 3.5h0M8.2 3.5h0M10.9 3.5h0M13.6 3.5h0M19 3.5h0M27.2 3.5h0M38.1 3.5h0M40.8 3.5h0M43.5 3.5h0M46.2 3.5h0M17.7 5.9h0M25.8 5.9h0M28.6 5.9h0M34 5.9h0M39.4 5.9h0M16.3 8.3h0M24.5 8.3h0M43.5 8.3h0M12.2 10.6h0M36.7 10.6h0M16.3 13h0M19 13h0M24.5 13h0M32.6 13h0M6.8 15.3h0M9.5 15.3h0M12.2 15.3h0M15 15.3h0M17.7 15.3h0M44.9 15.3h0M47.6 15.3h0M-1.4 15.3h0M2.7 17.7h0M5.4 17.7h0M19 17.7h0M32.6 17.7h0M49 17.7h0M0 17.7h0M6.8 20.1h0M23.1 20.1h0M31.3 20.1h0M8.2 22.4h0M13.6 22.4h0M21.8 22.4h0M24.5 22.4h0M27.2 22.4h0M46.2 22.4h0M9.5 24.8h0M23.1 24.8h0M25.8 24.8h0M44.9 24.8h0M2.7 27.1h0M19 27.1h0M27.2 27.1h0M32.6 27.1h0M35.4 27.1h0M43.5 27.1h0M46.2 27.1h0M49 27.1h0M0 27.1h0M15 29.5h0M25.8 29.5h0M34 29.5h0M42.2 29.5h0M44.9 29.5h0M10.9 31.9h0M10.9 -1.2h0M16.3 31.9h0M16.3 -1.2h0M19 31.9h0M19 -1.2h0M21.8 31.9h0M21.8 -1.2h0M24.5 31.9h0M24.5 -1.2h0M35.4 31.9h0M35.4 -1.2h0M38.1 31.9h0M38.1 -1.2h0M40.8 31.9h0M40.8 -1.2h0M49 31.9h0M0 31.9h0M49 -1.2h0" stroke="#d63031"/></pattern><pattern id="p18" width="48.96" height="33.04" patternUnits="userSpaceOnUse" stroke-width="3" stroke-linecap="round" fill="none"><rect width="49.96" height="34.04" fill="#46a83c"/><path d="M6.8 1.2h0M6.8 34.2h0M9.5 1.2h0M9.5 34.2h0M28.6 1.2h0M28.6 34.2h0M34 1.2h0M34 34.2h0M44.9 1.2h0M44.9 34.2h0M8.2 3.5h0M10.9 3.5h0M13.6 3.5h0M24.5 3.5h0M27.2 3.5h0M29.9 3.5h0M17.7 5.9h0M23.1 5.9h0M25.8 5.9h0M47.6 5.9h0M-1.4 5.9h0M13.6 8.3h0M19 8.3h0M21.8 8.3h0M46.2 8.3h0M49 8.3h0M0 8.3h0M12.2 10.6h0M34 10.6h0M42.2 10.6h0M44.9 10.6h0M2.7 13h0M13.6 13h0M21.8 13h0M29.9 13h0M35.4 13h0M40.8 13h0M43.5 13h0M9.5 15.3h0M12.2 15.3h0M15 15.3h0M20.4 15.3h0M23.1 15.3h0M5.4 17.7h0M8.2 17.7h0M10.9 17.7h0M13.6 17.7h0M19 17.7h0M21.8 17.7h0M24.5 17.7h0M29.9 17.7h0M4.1 20.1h0M6.8 20.1h0M9.5 20.1h0M20.4 20.1h0M28.6 20.1h0M31.3 20.1h0M34 20.1h0M39.4 20.1h0M2.7 22.4h0M8.2 22.4h0M16.3 22.4h0M27.2 22.4h0M32.6 22.4h0M35.4 22.4h0M38.1 22.4h0M40.8 22.4h0M4.1 24.8h0M9.5 24.8h0M15 24.8h0M20.4 24.8h0M23.1 24.8h0M25.8 24.8h0M47.6 24.8h0M-1.4 24.8h0M2.7 27.1h0M10.9 27.1h0M13.6 27.1h0M16.3 27.1h0M19 27.1h0M21.8 27.1h0M29.9 27.1h0M32.6 27.1h0M4.1 29.5h0M6.8 29.5h0M9.5 29.5h0M15 29.5h0M17.7 29.5h0M31.3 29.5h0M34 29.5h0M8.2 31.9h0M8.2 -1.2h0M13.6 31.9h0M13.6 -1.2h0M19 31.9h0M19 -1.2h0M21.8 31.9h0M21.8 -1.2h0M29.9 31.9h0M29.9 -1.2h0M35.4 31.9h0M35.4 -1.2h0" stroke="#d63031"/></pattern><pattern id="p19" width="48.96" height="33.04" patternUnits="userSpaceOnUse" stroke-width="3" stroke-linecap="round" fill="none"><rect width="49.96" height="34.04" fill="#9668c6"/><path d="M5.4 13h0M16.3 13h0M9.5 15.3h0M31.3 15.3h0M12.2 20.1h0M6.8 24.8h0M5.4 27.1h0M17.7 29.5h0" stroke="#d63031"/><path d="M12.2 1.2h0M12.2 34.2h0M39.4 1.2h0M39.4 34.2h0M47.6 1.2h0M-1.4 1.2h0M47.6 34.2h0M23.1 5.9h0M25.8 5.9h0M2.7 8.3h0M27.2 8.3h0M46.2 8.3h0M23.1 10.6h0M29.9 13h0M4.1 15.3h0M25.8 15.3h0M36.7 15.3h0M2.7 17.7h0M40.8 17.7h0M43.5 17.7h0M36.7 20.1h0M38.1 22.4h0M40.8 22.4h0M17.7 24.8h0M28.6 24.8h0M42.2 24.8h0M5.4 31.9h0M5.4 -1.2h0M10.9 31.9h0M10.9 -1.2h0M13.6 31.9h0M13.6 -1.2h0" stroke="#df7fd3"/></pattern><pattern id="p20" width="48.96" height="33.04" patternUnits="userSpaceOnUse" stroke-width="3" stroke-linecap="round" fill="none"><rect width="49.96" height="34.04" fill="#9668c6"/><path d="M4.1 1.2h0M4.1 34.2h0M9.5 1.2h0M9.5 34.2h0M20.4 1.2h0M20.4 34.2h0M28.6 1.2h0M28.6 34.2h0M42.2 1.2h0M42.2 34.2h0M21.8 3.5h0M6.8 5.9h0M47.6 5.9h0M-1.4 5.9h0M2.7 8.3h0M13.6 8.3h0M49 8.3h0M0 8.3h0M1.4 10.6h0M50.3 10.6h0M21.8 13h0M43.5 13h0M23.1 15.3h0M17.7 20.1h0M39.4 20.1h0M10.9 22.4h0M40.8 22.4h0M43.5 22.4h0M16.3 27.1h0M27.2 27.1h0M31.3 29.5h0M2.7 31.9h0M2.7 -1.2h0M40.8 31.9h0M40.8 -1.2h0" stroke="#df7fd3"/><path d="M1.4 1.2h0M50.3 1.2h0M1.4 34.2h0M6.8 1.2h0M6.8 34.2h0M17.7 1.2h0M17.7 34.2h0M25.8 1.2h0M25.8 34.2h0M36.7 1.2h0M36.7 34.2h0M39.4 1.2h0M39.4 34.2h0M44.9 1.2h0M44.9 34.2h0M47.6 1.2h0M-1.4 1.2h0M47.6 34.2h0M5.4 3.5h0M8.2 3.5h0M13.6 3.5h0M16.3 3.5h0M29.9 3.5h0M46.2 3.5h0M15 5.9h0M20.4 5.9h0M34 5.9h0M36.7 5.9h0M44.9 5.9h0M8.2 8.3h0M10.9 8.3h0M16.3 8.3h0M27.2 8.3h0M29.9 8.3h0M32.6 8.3h0M35.4 8.3h0M38.1 8.3h0M40.8 8.3h0M43.5 8.3h0M46.2 8.3h0M12.2 10.6h0M20.4 10.6h0M25.8 10.6h0M31.3 10.6h0M36.7 10.6h0M42.2 10.6h0M44.9 10.6h0M8.2 13h0M13.6 13h0M24.5 13h0M27.2 13h0M35.4 13h0M46.2 13h0M49 13h0M0 13h0M1.4 15.3h0M50.3 15.3h0M4.1 15.3h0M12.2 15.3h0M15 15.3h0M2.7 17.7h0M5.4 17.7h0M24.5 17.7h0M38.1 17.7h0M46.2 17.7h0M1.4 20.1h0M50.3 20.1h0M4.1 20.1h0M6.8 20.1h0M23.1 20.1h0M34 20.1h0M2.7 22.4h0M8.2 22.4h0M13.6 22.4h0M21.8 22.4h0M38.1 22.4h0M46.2 22.4h0M49 22.4h0M0 22.4h0M1.4 24.8h0M50.3 24.8h0M15 24.8h0M17.7 24.8h0M20.4 24.8h0M23.1 24.8h0M34 24.8h0M39.4 24.8h0M42.2 24.8h0M44.9 24.8h0M47.6 24.8h0M-1.4 24.8h0M2.7 27.1h0M10.9 27.1h0M21.8 27.1h0M29.9 27.1h0M35.4 27.1h0M40.8 27.1h0M4.1 29.5h0M9.5 29.5h0M15 29.5h0M23.1 29.5h0M28.6 29.5h0M34 29.5h0M36.7 29.5h0M42.2 29.5h0M44.9 29.5h0M47.6 29.5h0M-1.4 29.5h0M5.4 31.9h0M5.4 -1.2h0M8.2 31.9h0M8.2 -1.2h0M13.6 31.9h0M13.6 -1.2h0M16.3 31.9h0M16.3 -1.2h0M21.8 31.9h0M21.8 -1.2h0M24.5 31.9h0M24.5 -1.2h0M32.6 31.9h0M32.6 -1.2h0M35.4 31.9h0M35.4 -1.2h0M38.1 31.9h0M38.1 -1.2h0M49 31.9h0M0 31.9h0M49 -1.2h0" stroke="#d63031"/></pattern><pattern id="p21" width="48.96" height="33.04" patternUnits="userSpaceOnUse" stroke-width="3" stroke-linecap="round" fill="none"><rect width="49.96" height="34.04" fill="#d63031"/><path d="M34 1.2h0M34 34.2h0M43.5 3.5h0M34 5.9h0M28.6 10.6h0M24.5 13h0M44.9 15.3h0M15 20.1h0M12.2 24.8h0M15 24.8h0M13.6 27.1h0M31.3 29.5h0M19 31.9h0M19 -1.2h0M21.8 31.9h0M21.8 -1.2h0" stroke="#df7fd3"/><path d="M1.4 1.2h0M50.3 1.2h0M1.4 34.2h0M42.2 1.2h0M42.2 34.2h0M44.9 1.2h0M44.9 34.2h0M8.2 3.5h0M38.1 3.5h0M9.5 5.9h0M20.4 5.9h0M44.9 5.9h0M21.8 8.3h0M27.2 8.3h0M40.8 8.3h0M13.6 13h0M9.5 15.3h0M17.7 15.3h0M29.9 17.7h0M23.1 20.1h0M31.3 20.1h0M31.3 24.8h0M36.7 24.8h0M10.9 27.1h0M40.8 27.1h0M46.2 27.1h0M27.2 31.9h0M27.2 -1.2h0M29.9 31.9h0M29.9 -1.2h0M40.8 31.9h0M40.8 -1.2h0" stroke="#9668c6"/></pattern><pattern id="p22" width="48.96" height="33.04" patternUnits="userSpaceOnUse" stroke-width="3" stroke-linecap="round" fill="none"><rect width="49.96" height="34.04" fill="#d63031"/><path d="M35.4 3.5h0M38.1 3.5h0M12.2 10.6h0M44.9 10.6h0M19 13h0M40.8 13h0M27.2 17.7h0M10.9 31.9h0M10.9 -1.2h0" stroke="#df7fd3"/><path d="M12.2 1.2h0M12.2 34.2h0M27.2 3.5h0M29.9 3.5h0M1.4 5.9h0M50.3 5.9h0M25.8 5.9h0M24.5 17.7h0M13.6 31.9h0M13.6 -1.2h0M16.3 31.9h0M16.3 -1.2h0" stroke="#9668c6"/></pattern><pattern id="p23" width="48.96" height="33.04" patternUnits="userSpaceOnUse" stroke-width="3" stroke-linecap="round" fill="none"><rect width="49.96" height="34.04" fill="#9668c6"/><path d="M36.7 5.9h0M39.4 5.9h0M28.6 10.6h0M29.9 13h0M2.7 22.4h0M8.2 22.4h0M4.1 24.8h0M13.6 27.1h0" stroke="#ee7d28"/><path d="M20.4 1.2h0M20.4 34.2h0M9.5 5.9h0M15 15.3h0M36.7 15.3h0M40.8 17.7h0M16.3 22.4h0M44.9 24.8h0M10.9 27.1h0" stroke="#46a83c"/><path d="M38.1 3.5h0M43.5 3.5h0M6.8 10.6h0M16.3 17.7h0M6.8 20.1h0M27.2 22.4h0M29.9 22.4h0M49 22.4h0M0 22.4h0M1.4 24.8h0M50.3 24.8h0M28.6 24.8h0M47.6 24.8h0M-1.4 24.8h0M5.4 27.1h0M39.4 29.5h0" stroke="#df7fd3"/><path d="M36.7 1.2h0M36.7 34.2h0M35.4 3.5h0M17.7 5.9h0M8.2 8.3h0M38.1 8.3h0M35.4 13h0M8.2 17.7h0M35.4 17.7h0M1.4 20.1h0M50.3 20.1h0M9.5 20.1h0M20.4 20.1h0M28.6 20.1h0M35.4 22.4h0" stroke="#d63031"/></pattern><pattern id="p24" width="48.96" height="33.04" patternUnits="userSpaceOnUse" stroke-width="3" stroke-linecap="round" fill="none"><rect width="49.96" height="34.04" fill="#46a83c"/><path d="M23.1 1.2h0M23.1 34.2h0M32.6 8.3h0M34 10.6h0M29.9 13h0M17.7 20.1h0M9.5 24.8h0M21.8 31.9h0M21.8 -1.2h0M40.8 31.9h0M40.8 -1.2h0" stroke="#df7fd3"/><path d="M44.9 1.2h0M44.9 34.2h0M13.6 3.5h0M27.2 3.5h0M40.8 3.5h0M42.2 5.9h0M49 8.3h0M0 8.3h0M12.2 10.6h0M39.4 10.6h0M42.2 15.3h0M4.1 24.8h0M17.7 24.8h0M12.2 29.5h0M13.6 31.9h0M13.6 -1.2h0" stroke="#9668c6"/><path d="M28.6 1.2h0M28.6 34.2h0M31.3 1.2h0M31.3 34.2h0M39.4 1.2h0M39.4 34.2h0M10.9 3.5h0M32.6 3.5h0M6.8 5.9h0M44.9 5.9h0M21.8 8.3h0M29.9 8.3h0M20.4 10.6h0M47.6 15.3h0M-1.4 15.3h0M16.3 17.7h0M39.4 20.1h0M16.3 22.4h0M38.1 22.4h0M49 22.4h0M0 22.4h0M16.3 27.1h0M19 27.1h0M21.8 27.1h0M24.5 27.1h0M17.7 29.5h0M23.1 29.5h0M31.3 29.5h0M36.7 29.5h0M8.2 31.9h0M8.2 -1.2h0" stroke="#d63031"/></pattern><pattern id="p25" width="48.96" height="33.04" patternUnits="userSpaceOnUse" stroke-width="3" stroke-linecap="round" fill="none"><rect width="49.96" height="34.04" fill="#9668c6"/><path d="M6.8 1.2h0M6.8 34.2h0M42.2 1.2h0M42.2 34.2h0M5.4 3.5h0M8.2 3.5h0M32.6 3.5h0M36.7 5.9h0M24.5 8.3h0M5.4 13h0M6.8 15.3h0M8.2 17.7h0M6.8 20.1h0M8.2 22.4h0M46.2 22.4h0" stroke="#d63031"/><path d="M9.5 1.2h0M9.5 34.2h0M23.1 1.2h0M23.1 34.2h0M25.8 1.2h0M25.8 34.2h0M28.6 1.2h0M28.6 34.2h0M34 1.2h0M34 34.2h0M36.7 1.2h0M36.7 34.2h0M44.9 1.2h0M44.9 34.2h0M2.7 3.5h0M10.9 3.5h0M16.3 3.5h0M24.5 3.5h0M35.4 3.5h0M38.1 3.5h0M43.5 3.5h0M17.7 5.9h0M23.1 5.9h0M25.8 5.9h0M42.2 5.9h0M44.9 5.9h0M10.9 8.3h0M13.6 8.3h0M29.9 8.3h0M32.6 8.3h0M35.4 8.3h0M49 8.3h0M0 8.3h0M9.5 10.6h0M12.2 10.6h0M20.4 10.6h0M28.6 10.6h0M34 10.6h0M36.7 10.6h0M39.4 10.6h0M2.7 13h0M29.9 13h0M32.6 13h0M40.8 13h0M46.2 13h0M1.4 15.3h0M50.3 15.3h0M20.4 15.3h0M31.3 15.3h0M34 15.3h0M42.2 15.3h0M47.6 15.3h0M-1.4 15.3h0M13.6 17.7h0M19 17.7h0M21.8 17.7h0M27.2 17.7h0M32.6 17.7h0M38.1 17.7h0M43.5 17.7h0M20.4 20.1h0M23.1 20.1h0M34 20.1h0M39.4 20.1h0M42.2 20.1h0M44.9 20.1h0M2.7 22.4h0M5.4 22.4h0M13.6 22.4h0M24.5 22.4h0M32.6 22.4h0M35.4 22.4h0M49 22.4h0M0 22.4h0M4.1 24.8h0M6.8 24.8h0M15 24.8h0M17.7 24.8h0M25.8 24.8h0M28.6 24.8h0M31.3 24.8h0M34 24.8h0M42.2 24.8h0M47.6 24.8h0M-1.4 24.8h0M2.7 27.1h0M19 27.1h0M32.6 27.1h0M43.5 27.1h0M49 27.1h0M0 27.1h0M1.4 29.5h0M50.3 29.5h0M4.1 29.5h0M6.8 29.5h0M28.6 29.5h0M31.3 29.5h0M36.7 29.5h0M42.2 29.5h0M47.6 29.5h0M-1.4 29.5h0M27.2 31.9h0M27.2 -1.2h0M32.6 31.9h0M32.6 -1.2h0" stroke="#46a83c"/></pattern><pattern id="p26" width="48.96" height="33.04" patternUnits="userSpaceOnUse" stroke-width="3" stroke-linecap="round" fill="none"><rect width="49.96" height="34.04" fill="#c3c2c0"/><path d="M16.3 17.7h0M31.3 29.5h0M32.6 31.9h0M32.6 -1.2h0" stroke="#ee7d28"/><path d="M34 1.2h0M34 34.2h0M25.8 10.6h0M27.2 13h0M10.9 22.4h0M8.2 27.1h0M44.9 29.5h0M2.7 31.9h0M2.7 -1.2h0M24.5 31.9h0M24.5 -1.2h0" stroke="#df7fd3"/><path d="M1.4 1.2h0M50.3 1.2h0M1.4 34.2h0M20.4 1.2h0M20.4 34.2h0M5.4 3.5h0M8.2 3.5h0M21.8 3.5h0M40.8 3.5h0M46.2 3.5h0M6.8 5.9h0M12.2 5.9h0M20.4 5.9h0M42.2 5.9h0M16.3 8.3h0M20.4 10.6h0M23.1 10.6h0M2.7 13h0M21.8 13h0M24.5 13h0M20.4 15.3h0M36.7 15.3h0M47.6 15.3h0M-1.4 15.3h0M6.8 20.1h0M42.2 24.8h0M44.9 24.8h0M46.2 27.1h0M47.6 29.5h0M-1.4 29.5h0" stroke="#9668c6"/></pattern><pattern id="p27" width="48.96" height="33.04" patternUnits="userSpaceOnUse" stroke-width="3" stroke-linecap="round" fill="none"><rect width="49.96" height="34.04" fill="#9668c6"/><path d="M9.5 1.2h0M9.5 34.2h0M1.4 5.9h0M50.3 5.9h0M42.2 5.9h0M44.9 5.9h0M47.6 5.9h0M-1.4 5.9h0M2.7 8.3h0M8.2 17.7h0M38.1 17.7h0M19 22.4h0M17.7 24.8h0M1.4 29.5h0M50.3 29.5h0M8.2 31.9h0M8.2 -1.2h0M24.5 31.9h0M24.5 -1.2h0" stroke="#df7fd3"/></pattern><pattern id="p28" width="81.6" height="61.36" patternUnits="userSpaceOnUse" stroke-width="3" stroke-linecap="round" fill="none"><rect width="82.6" height="62.36" fill="#9668c6"/><path d="M57.1 3.5h0M50.3 5.9h0M17.7 10.6h0M34 10.6h0M70.7 13h0M74.8 15.3h0M77.5 15.3h0M10.9 17.7h0M70.7 17.7h0M6.8 20.1h0M9.5 20.1h0M8.2 22.4h0M10.9 22.4h0M36.7 24.8h0M72.1 24.8h0M35.4 27.1h0M72.1 29.5h0M2.7 36.6h0M8.2 36.6h0M9.5 38.9h0M24.5 41.3h0M9.5 43.7h0M53 43.7h0M77.5 43.7h0M2.7 46h0M13.6 46h0M1.4 48.4h0M83 48.4h0M9.5 48.4h0M2.7 50.7h0M8.2 50.7h0M13.6 50.7h0M54.4 50.7h0M28.6 53.1h0M23.1 57.8h0M39.4 57.8h0M42.2 57.8h0M43.5 60.2h0M43.5 -1.2h0M46.2 60.2h0M46.2 -1.2h0M49 60.2h0M49 -1.2h0" stroke="#df7fd3"/><path d="M1.4 1.2h0M83 1.2h0M1.4 62.5h0M20.4 1.2h0M20.4 62.5h0M77.5 1.2h0M77.5 62.5h0M70.7 3.5h0M36.7 5.9h0M39.4 5.9h0M47.6 5.9h0M55.8 5.9h0M72.1 5.9h0M5.4 8.3h0M65.3 8.3h0M23.1 10.6h0M13.6 13h0M29.9 13h0M1.4 15.3h0M83 15.3h0M12.2 15.3h0M28.6 15.3h0M39.4 15.3h0M2.7 17.7h0M5.4 17.7h0M13.6 17.7h0M29.9 17.7h0M57.1 17.7h0M59.8 17.7h0M78.9 17.7h0M39.4 20.1h0M44.9 20.1h0M47.6 20.1h0M46.2 22.4h0M49 22.4h0M57.1 22.4h0M78.9 22.4h0M81.6 22.4h0M0 22.4h0M50.3 24.8h0M65.3 27.1h0M68 27.1h0M76.2 27.1h0M78.9 27.1h0M81.6 27.1h0M0 27.1h0M34 29.5h0M36.7 29.5h0M66.6 29.5h0M54.4 31.9h0M78.9 31.9h0M55.8 34.2h0M5.4 36.6h0M10.9 36.6h0M59.8 36.6h0M65.3 36.6h0M29.9 41.3h0M32.6 41.3h0M54.4 41.3h0M59.8 41.3h0M73.4 41.3h0M78.9 41.3h0M81.6 41.3h0M0 41.3h0M20.4 43.7h0M55.8 43.7h0M72.1 43.7h0M76.2 46h0M23.1 48.4h0M25.8 48.4h0M81.6 50.7h0M0 50.7h0M23.1 53.1h0M42.2 53.1h0M44.9 53.1h0M32.6 55.5h0M46.2 55.5h0M49 55.5h0M54.4 55.5h0M57.1 55.5h0M4.1 57.8h0M9.5 57.8h0M61.2 57.8h0M70.7 60.2h0M70.7 -1.2h0M73.4 60.2h0M73.4 -1.2h0M78.9 60.2h0M78.9 -1.2h0M81.6 60.2h0M0 60.2h0M81.6 -1.2h0" stroke="#d63031"/><path d="M28.6 1.2h0M28.6 62.5h0M53 1.2h0M53 62.5h0M69.4 1.2h0M69.4 62.5h0M72.1 1.2h0M72.1 62.5h0M74.8 1.2h0M74.8 62.5h0M80.2 1.2h0M-1.4 1.2h0M80.2 62.5h0M2.7 3.5h0M32.6 3.5h0M54.4 3.5h0M73.4 3.5h0M34 5.9h0M42.2 5.9h0M66.6 5.9h0M74.8 5.9h0M46.2 8.3h0M70.7 8.3h0M1.4 10.6h0M83 10.6h0M39.4 10.6h0M47.6 10.6h0M80.2 10.6h0M-1.4 10.6h0M61.2 15.3h0M66.6 15.3h0M80.2 15.3h0M-1.4 15.3h0M62.6 17.7h0M17.7 20.1h0M5.4 22.4h0M16.3 22.4h0M32.6 22.4h0M51.7 22.4h0M54.4 22.4h0M9.5 24.8h0M15 24.8h0M17.7 24.8h0M25.8 24.8h0M44.9 24.8h0M2.7 27.1h0M5.4 27.1h0M8.2 27.1h0M10.9 27.1h0M19 27.1h0M43.5 27.1h0M6.8 29.5h0M20.4 29.5h0M39.4 29.5h0M42.2 29.5h0M44.9 29.5h0M77.5 29.5h0M38.1 31.9h0M43.5 31.9h0M57.1 31.9h0M44.9 34.2h0M13.6 36.6h0M38.1 36.6h0M49 36.6h0M1.4 38.9h0M83 38.9h0M53 38.9h0M63.9 38.9h0M72.1 38.9h0M2.7 41.3h0M39.4 43.7h0M58.5 43.7h0M16.3 46h0M24.5 46h0M32.6 46h0M35.4 46h0M57.1 46h0M62.6 46h0M34 48.4h0M36.7 48.4h0M55.8 48.4h0M58.5 48.4h0M69.4 48.4h0M55.8 53.1h0M61.2 53.1h0M78.9 55.5h0M81.6 55.5h0M0 55.5h0M77.5 57.8h0M27.2 60.2h0M27.2 -1.2h0" stroke="#46a83c"/></pattern><pattern id="p29" width="81.6" height="61.36" patternUnits="userSpaceOnUse" stroke-width="3" stroke-linecap="round" fill="none"><rect width="82.6" height="62.36" fill="#9668c6"/><path d="M23.1 1.2h0M23.1 62.5h0M28.6 1.2h0M28.6 62.5h0M69.4 1.2h0M69.4 62.5h0M68 3.5h0M70.7 3.5h0M69.4 5.9h0M58.5 10.6h0M61.2 10.6h0M24.5 13h0M6.8 15.3h0M2.7 17.7h0M5.4 17.7h0M1.4 20.1h0M83 20.1h0M8.2 22.4h0M29.9 22.4h0M65.3 22.4h0M66.6 24.8h0M44.9 34.2h0M2.7 36.6h0M51.7 36.6h0M62.6 36.6h0M76.2 36.6h0M61.2 38.9h0M65.3 41.3h0M17.7 43.7h0M66.6 43.7h0M12.2 48.4h0M13.6 50.7h0M16.3 50.7h0M12.2 53.1h0M15 53.1h0M17.7 53.1h0M28.6 53.1h0M16.3 55.5h0M19 55.5h0M32.6 55.5h0M12.2 57.8h0M15 57.8h0M46.2 60.2h0M46.2 -1.2h0" stroke="#df7fd3"/><path d="M17.7 1.2h0M17.7 62.5h0M34 1.2h0M34 62.5h0M74.8 1.2h0M74.8 62.5h0M77.5 1.2h0M77.5 62.5h0M16.3 3.5h0M19 3.5h0M40.8 3.5h0M65.3 3.5h0M73.4 3.5h0M76.2 3.5h0M81.6 3.5h0M0 3.5h0M15 5.9h0M53 5.9h0M55.8 5.9h0M66.6 5.9h0M16.3 8.3h0M19 8.3h0M24.5 8.3h0M46.2 8.3h0M62.6 8.3h0M70.7 8.3h0M76.2 8.3h0M4.1 10.6h0M15 10.6h0M17.7 10.6h0M25.8 10.6h0M42.2 10.6h0M44.9 10.6h0M72.1 10.6h0M27.2 13h0M38.1 13h0M46.2 13h0M68 13h0M70.7 13h0M73.4 13h0M78.9 13h0M1.4 15.3h0M83 15.3h0M4.1 15.3h0M23.1 15.3h0M47.6 15.3h0M66.6 15.3h0M69.4 15.3h0M24.5 17.7h0M35.4 17.7h0M49 17.7h0M57.1 17.7h0M59.8 17.7h0M68 17.7h0M4.1 20.1h0M34 20.1h0M36.7 20.1h0M47.6 20.1h0M50.3 20.1h0M58.5 20.1h0M61.2 20.1h0M66.6 20.1h0M2.7 22.4h0M76.2 22.4h0M15 24.8h0M17.7 24.8h0M23.1 24.8h0M47.6 24.8h0M69.4 24.8h0M74.8 24.8h0M77.5 24.8h0M2.7 27.1h0M51.7 27.1h0M78.9 27.1h0M81.6 27.1h0M0 27.1h0M34 29.5h0M42.2 29.5h0M53 29.5h0M63.9 29.5h0M10.9 31.9h0M43.5 31.9h0M46.2 31.9h0M54.4 31.9h0M65.3 31.9h0M68 31.9h0M25.8 34.2h0M47.6 34.2h0M55.8 34.2h0M63.9 34.2h0M66.6 34.2h0M72.1 34.2h0M8.2 36.6h0M16.3 36.6h0M43.5 36.6h0M46.2 36.6h0M49 36.6h0M70.7 36.6h0M73.4 36.6h0M78.9 36.6h0M15 38.9h0M17.7 38.9h0M34 38.9h0M36.7 38.9h0M72.1 38.9h0M74.8 38.9h0M77.5 38.9h0M27.2 41.3h0M29.9 41.3h0M38.1 41.3h0M43.5 41.3h0M9.5 43.7h0M31.3 43.7h0M39.4 43.7h0M53 43.7h0M58.5 43.7h0M74.8 43.7h0M77.5 43.7h0M80.2 43.7h0M-1.4 43.7h0M21.8 46h0M32.6 46h0M49 46h0M65.3 46h0M73.4 46h0M78.9 46h0M6.8 48.4h0M20.4 48.4h0M25.8 48.4h0M47.6 48.4h0M50.3 48.4h0M53 48.4h0M66.6 48.4h0M80.2 48.4h0M-1.4 48.4h0M19 50.7h0M38.1 50.7h0M43.5 50.7h0M49 50.7h0M51.7 50.7h0M54.4 50.7h0M62.6 50.7h0M68 50.7h0M70.7 50.7h0M4.1 53.1h0M20.4 53.1h0M63.9 53.1h0M69.4 53.1h0M72.1 53.1h0M8.2 55.5h0M13.6 55.5h0M46.2 55.5h0M54.4 55.5h0M57.1 55.5h0M17.7 57.8h0M23.1 57.8h0M28.6 57.8h0M55.8 57.8h0M72.1 57.8h0M2.7 60.2h0M2.7 -1.2h0M10.9 60.2h0M10.9 -1.2h0M13.6 60.2h0M13.6 -1.2h0M24.5 60.2h0M24.5 -1.2h0M29.9 60.2h0M29.9 -1.2h0M62.6 60.2h0M62.6 -1.2h0" stroke="#46a83c"/><path d="M1.4 1.2h0M83 1.2h0M1.4 62.5h0M9.5 1.2h0M9.5 62.5h0M15 1.2h0M15 62.5h0M20.4 1.2h0M20.4 62.5h0M25.8 1.2h0M25.8 62.5h0M44.9 1.2h0M44.9 62.5h0M47.6 1.2h0M47.6 62.5h0M58.5 1.2h0M58.5 62.5h0M61.2 1.2h0M61.2 62.5h0M66.6 1.2h0M66.6 62.5h0M2.7 3.5h0M5.4 3.5h0M21.8 3.5h0M27.2 3.5h0M29.9 3.5h0M38.1 3.5h0M46.2 3.5h0M51.7 3.5h0M57.1 3.5h0M59.8 3.5h0M78.9 3.5h0M1.4 5.9h0M83 5.9h0M4.1 5.9h0M12.2 5.9h0M17.7 5.9h0M23.1 5.9h0M42.2 5.9h0M44.9 5.9h0M47.6 5.9h0M50.3 5.9h0M58.5 5.9h0M61.2 5.9h0M74.8 5.9h0M80.2 5.9h0M-1.4 5.9h0M2.7 8.3h0M5.4 8.3h0M8.2 8.3h0M13.6 8.3h0M21.8 8.3h0M29.9 8.3h0M32.6 8.3h0M43.5 8.3h0M51.7 8.3h0M54.4 8.3h0M57.1 8.3h0M59.8 8.3h0M65.3 8.3h0M1.4 10.6h0M83 10.6h0M6.8 10.6h0M9.5 10.6h0M31.3 10.6h0M34 10.6h0M36.7 10.6h0M50.3 10.6h0M53 10.6h0M66.6 10.6h0M69.4 10.6h0M77.5 10.6h0M80.2 10.6h0M-1.4 10.6h0M2.7 13h0M5.4 13h0M8.2 13h0M32.6 13h0M40.8 13h0M43.5 13h0M49 13h0M51.7 13h0M65.3 13h0M9.5 15.3h0M12.2 15.3h0M15 15.3h0M17.7 15.3h0M28.6 15.3h0M31.3 15.3h0M34 15.3h0M39.4 15.3h0M42.2 15.3h0M50.3 15.3h0M53 15.3h0M61.2 15.3h0M63.9 15.3h0M72.1 15.3h0M74.8 15.3h0M77.5 15.3h0M80.2 15.3h0M-1.4 15.3h0M10.9 17.7h0M16.3 17.7h0M19 17.7h0M32.6 17.7h0M38.1 17.7h0M43.5 17.7h0M46.2 17.7h0M51.7 17.7h0M62.6 17.7h0M70.7 17.7h0M73.4 17.7h0M76.2 17.7h0M78.9 17.7h0M6.8 20.1h0M9.5 20.1h0M12.2 20.1h0M17.7 20.1h0M20.4 20.1h0M23.1 20.1h0M25.8 20.1h0M28.6 20.1h0M44.9 20.1h0M63.9 20.1h0M69.4 20.1h0M74.8 20.1h0M77.5 20.1h0M80.2 20.1h0M-1.4 20.1h0M16.3 22.4h0M24.5 22.4h0M27.2 22.4h0M40.8 22.4h0M49 22.4h0M57.1 22.4h0M59.8 22.4h0M62.6 22.4h0M68 22.4h0M70.7 22.4h0M73.4 22.4h0M1.4 24.8h0M83 24.8h0M6.8 24.8h0M9.5 24.8h0M12.2 24.8h0M28.6 24.8h0M34 24.8h0M44.9 24.8h0M50.3 24.8h0M61.2 24.8h0M63.9 24.8h0M80.2 24.8h0M-1.4 24.8h0M10.9 27.1h0M13.6 27.1h0M16.3 27.1h0M19 27.1h0M24.5 27.1h0M27.2 27.1h0M32.6 27.1h0M35.4 27.1h0M40.8 27.1h0M43.5 27.1h0M46.2 27.1h0M54.4 27.1h0M59.8 27.1h0M62.6 27.1h0M68 27.1h0M73.4 27.1h0M76.2 27.1h0M1.4 29.5h0M83 29.5h0M4.1 29.5h0M12.2 29.5h0M15 29.5h0M17.7 29.5h0M25.8 29.5h0M28.6 29.5h0M66.6 29.5h0M69.4 29.5h0M74.8 29.5h0M2.7 31.9h0M5.4 31.9h0M8.2 31.9h0M13.6 31.9h0M16.3 31.9h0M19 31.9h0M35.4 31.9h0M51.7 31.9h0M73.4 31.9h0M76.2 31.9h0M81.6 31.9h0M0 31.9h0M1.4 34.2h0M83 34.2h0M4.1 34.2h0M6.8 34.2h0M9.5 34.2h0M12.2 34.2h0M20.4 34.2h0M28.6 34.2h0M34 34.2h0M36.7 34.2h0M50.3 34.2h0M53 34.2h0M58.5 34.2h0M77.5 34.2h0M5.4 36.6h0M10.9 36.6h0M13.6 36.6h0M19 36.6h0M27.2 36.6h0M29.9 36.6h0M32.6 36.6h0M38.1 36.6h0M40.8 36.6h0M54.4 36.6h0M57.1 36.6h0M59.8 36.6h0M68 36.6h0M81.6 36.6h0M0 36.6h0M1.4 38.9h0M83 38.9h0M12.2 38.9h0M25.8 38.9h0M28.6 38.9h0M39.4 38.9h0M42.2 38.9h0M47.6 38.9h0M50.3 38.9h0M53 38.9h0M58.5 38.9h0M69.4 38.9h0M10.9 41.3h0M13.6 41.3h0M24.5 41.3h0M35.4 41.3h0M40.8 41.3h0M54.4 41.3h0M57.1 41.3h0M62.6 41.3h0M73.4 41.3h0M1.4 43.7h0M83 43.7h0M4.1 43.7h0M6.8 43.7h0M25.8 43.7h0M28.6 43.7h0M36.7 43.7h0M61.2 43.7h0M63.9 43.7h0M69.4 43.7h0M2.7 46h0M5.4 46h0M8.2 46h0M10.9 46h0M16.3 46h0M29.9 46h0M35.4 46h0M38.1 46h0M40.8 46h0M59.8 46h0M62.6 46h0M68 46h0M70.7 46h0M1.4 48.4h0M83 48.4h0M4.1 48.4h0M9.5 48.4h0M15 48.4h0M17.7 48.4h0M31.3 48.4h0M34 48.4h0M36.7 48.4h0M39.4 48.4h0M44.9 48.4h0M58.5 48.4h0M61.2 48.4h0M63.9 48.4h0M69.4 48.4h0M72.1 48.4h0M77.5 48.4h0M10.9 50.7h0M32.6 50.7h0M35.4 50.7h0M40.8 50.7h0M57.1 50.7h0M59.8 50.7h0M65.3 50.7h0M73.4 50.7h0M76.2 50.7h0M78.9 50.7h0M81.6 50.7h0M0 50.7h0M6.8 53.1h0M9.5 53.1h0M23.1 53.1h0M44.9 53.1h0M47.6 53.1h0M58.5 53.1h0M61.2 53.1h0M77.5 53.1h0M2.7 55.5h0M5.4 55.5h0M21.8 55.5h0M24.5 55.5h0M35.4 55.5h0M38.1 55.5h0M40.8 55.5h0M49 55.5h0M59.8 55.5h0M68 55.5h0M73.4 55.5h0M81.6 55.5h0M0 55.5h0M1.4 57.8h0M83 57.8h0M6.8 57.8h0M9.5 57.8h0M25.8 57.8h0M34 57.8h0M36.7 57.8h0M39.4 57.8h0M44.9 57.8h0M50.3 57.8h0M61.2 57.8h0M63.9 57.8h0M66.6 57.8h0M69.4 57.8h0M21.8 60.2h0M21.8 -1.2h0M27.2 60.2h0M27.2 -1.2h0M35.4 60.2h0M35.4 -1.2h0M40.8 60.2h0M40.8 -1.2h0M43.5 60.2h0M43.5 -1.2h0M49 60.2h0M49 -1.2h0M51.7 60.2h0M51.7 -1.2h0M59.8 60.2h0M59.8 -1.2h0M65.3 60.2h0M65.3 -1.2h0M78.9 60.2h0M78.9 -1.2h0M81.6 60.2h0M0 60.2h0M81.6 -1.2h0" stroke="#d63031"/></pattern><pattern id="p30" width="81.6" height="61.36" patternUnits="userSpaceOnUse" stroke-width="3" stroke-linecap="round" fill="none"><rect width="82.6" height="62.36" fill="#46a83c"/><path d="M10.9 3.5h0M72.1 5.9h0M74.8 5.9h0M21.8 13h0M23.1 15.3h0M69.4 15.3h0M5.4 22.4h0M27.2 22.4h0M54.4 22.4h0M72.1 24.8h0M2.7 27.1h0M4.1 29.5h0M9.5 29.5h0M16.3 31.9h0M38.1 31.9h0M46.2 31.9h0M47.6 34.2h0M50.3 34.2h0M16.3 36.6h0M51.7 36.6h0M10.9 46h0M24.5 46h0M62.6 46h0M73.4 46h0M20.4 48.4h0M23.1 48.4h0M50.3 48.4h0M53 48.4h0M8.2 50.7h0M16.3 50.7h0M35.4 50.7h0M38.1 50.7h0M40.8 50.7h0M57.1 50.7h0M42.2 53.1h0M12.2 57.8h0M25.8 57.8h0M72.1 57.8h0M29.9 60.2h0M29.9 -1.2h0" stroke="#9668c6"/><path d="M15 1.2h0M15 62.5h0M17.7 1.2h0M17.7 62.5h0M36.7 1.2h0M36.7 62.5h0M44.9 1.2h0M44.9 62.5h0M50.3 1.2h0M50.3 62.5h0M55.8 1.2h0M55.8 62.5h0M61.2 1.2h0M61.2 62.5h0M2.7 3.5h0M5.4 3.5h0M8.2 3.5h0M16.3 3.5h0M19 3.5h0M27.2 3.5h0M32.6 3.5h0M38.1 3.5h0M40.8 3.5h0M49 3.5h0M51.7 3.5h0M70.7 3.5h0M76.2 3.5h0M78.9 3.5h0M6.8 5.9h0M17.7 5.9h0M31.3 5.9h0M34 5.9h0M36.7 5.9h0M39.4 5.9h0M47.6 5.9h0M50.3 5.9h0M58.5 5.9h0M69.4 5.9h0M77.5 5.9h0M13.6 8.3h0M16.3 8.3h0M29.9 8.3h0M35.4 8.3h0M40.8 8.3h0M59.8 8.3h0M65.3 8.3h0M70.7 8.3h0M78.9 8.3h0M81.6 8.3h0M0 8.3h0M15 10.6h0M20.4 10.6h0M34 10.6h0M44.9 10.6h0M63.9 10.6h0M80.2 10.6h0M-1.4 10.6h0M10.9 13h0M19 13h0M24.5 13h0M59.8 13h0M65.3 13h0M68 13h0M81.6 13h0M0 13h0M1.4 15.3h0M83 15.3h0M6.8 15.3h0M17.7 15.3h0M20.4 15.3h0M31.3 15.3h0M36.7 15.3h0M39.4 15.3h0M66.6 15.3h0M72.1 15.3h0M74.8 15.3h0M8.2 17.7h0M19 17.7h0M40.8 17.7h0M51.7 17.7h0M54.4 17.7h0M73.4 17.7h0M78.9 17.7h0M17.7 20.1h0M28.6 20.1h0M31.3 20.1h0M44.9 20.1h0M53 20.1h0M66.6 20.1h0M69.4 20.1h0M74.8 20.1h0M77.5 20.1h0M2.7 22.4h0M24.5 22.4h0M32.6 22.4h0M51.7 22.4h0M57.1 22.4h0M59.8 22.4h0M78.9 22.4h0M4.1 24.8h0M20.4 24.8h0M34 24.8h0M47.6 24.8h0M55.8 24.8h0M58.5 24.8h0M61.2 24.8h0M69.4 24.8h0M74.8 24.8h0M19 27.1h0M21.8 27.1h0M32.6 27.1h0M35.4 27.1h0M38.1 27.1h0M54.4 27.1h0M57.1 27.1h0M59.8 27.1h0M62.6 27.1h0M78.9 27.1h0M81.6 27.1h0M0 27.1h0M6.8 29.5h0M20.4 29.5h0M23.1 29.5h0M36.7 29.5h0M44.9 29.5h0M47.6 29.5h0M58.5 29.5h0M63.9 29.5h0M2.7 31.9h0M5.4 31.9h0M8.2 31.9h0M10.9 31.9h0M29.9 31.9h0M40.8 31.9h0M49 31.9h0M51.7 31.9h0M54.4 31.9h0M76.2 31.9h0M81.6 31.9h0M0 31.9h0M6.8 34.2h0M15 34.2h0M17.7 34.2h0M74.8 34.2h0M77.5 34.2h0M8.2 36.6h0M19 36.6h0M49 36.6h0M57.1 36.6h0M62.6 36.6h0M76.2 36.6h0M1.4 38.9h0M83 38.9h0M15 38.9h0M17.7 38.9h0M20.4 38.9h0M23.1 38.9h0M25.8 38.9h0M31.3 38.9h0M34 38.9h0M47.6 38.9h0M55.8 38.9h0M61.2 38.9h0M63.9 38.9h0M66.6 38.9h0M69.4 38.9h0M10.9 41.3h0M21.8 41.3h0M35.4 41.3h0M49 41.3h0M51.7 41.3h0M54.4 41.3h0M57.1 41.3h0M65.3 41.3h0M15 43.7h0M20.4 43.7h0M25.8 43.7h0M34 43.7h0M42.2 43.7h0M44.9 43.7h0M53 43.7h0M55.8 43.7h0M58.5 43.7h0M61.2 43.7h0M74.8 43.7h0M2.7 46h0M19 46h0M27.2 46h0M46.2 46h0M49 46h0M51.7 46h0M54.4 46h0M65.3 46h0M1.4 48.4h0M83 48.4h0M9.5 48.4h0M12.2 48.4h0M17.7 48.4h0M34 48.4h0M36.7 48.4h0M72.1 48.4h0M2.7 50.7h0M5.4 50.7h0M13.6 50.7h0M19 50.7h0M21.8 50.7h0M24.5 50.7h0M32.6 50.7h0M43.5 50.7h0M46.2 50.7h0M49 50.7h0M65.3 50.7h0M76.2 50.7h0M78.9 50.7h0M81.6 50.7h0M0 50.7h0M9.5 53.1h0M12.2 53.1h0M23.1 53.1h0M31.3 53.1h0M34 53.1h0M61.2 53.1h0M66.6 53.1h0M74.8 53.1h0M77.5 53.1h0M13.6 55.5h0M29.9 55.5h0M32.6 55.5h0M49 55.5h0M54.4 55.5h0M57.1 55.5h0M59.8 55.5h0M62.6 55.5h0M76.2 55.5h0M1.4 57.8h0M83 57.8h0M4.1 57.8h0M6.8 57.8h0M20.4 57.8h0M44.9 57.8h0M58.5 57.8h0M61.2 57.8h0M80.2 57.8h0M-1.4 57.8h0M5.4 60.2h0M5.4 -1.2h0M10.9 60.2h0M10.9 -1.2h0M16.3 60.2h0M16.3 -1.2h0M32.6 60.2h0M32.6 -1.2h0M40.8 60.2h0M40.8 -1.2h0M57.1 60.2h0M57.1 -1.2h0M76.2 60.2h0M76.2 -1.2h0M78.9 60.2h0M78.9 -1.2h0" stroke="#d63031"/></pattern><pattern id="p31" width="81.6" height="61.36" patternUnits="userSpaceOnUse" stroke-width="3" stroke-linecap="round" fill="none"><rect width="82.6" height="62.36" fill="#9668c6"/><path d="M24.5 3.5h0M27.2 3.5h0M76.2 3.5h0M77.5 10.6h0M5.4 13h0M27.2 13h0M29.9 13h0M35.4 13h0M77.5 15.3h0M40.8 17.7h0M80.2 20.1h0M-1.4 20.1h0M66.6 24.8h0M69.4 24.8h0M72.1 24.8h0M13.6 27.1h0M32.6 27.1h0M17.7 29.5h0M2.7 36.6h0M13.6 36.6h0M4.1 38.9h0M74.8 38.9h0M62.6 41.3h0M65.3 41.3h0M70.7 41.3h0M69.4 43.7h0M21.8 46h0M24.5 46h0M73.4 46h0M23.1 48.4h0M44.9 48.4h0M65.3 50.7h0M58.5 53.1h0M61.2 53.1h0M2.7 60.2h0M2.7 -1.2h0M5.4 60.2h0M5.4 -1.2h0M27.2 60.2h0M27.2 -1.2h0M70.7 60.2h0M70.7 -1.2h0M73.4 60.2h0M73.4 -1.2h0M81.6 60.2h0M0 60.2h0M81.6 -1.2h0" stroke="#df7fd3"/><path d="M20.4 1.2h0M20.4 62.5h0M31.3 1.2h0M31.3 62.5h0M42.2 1.2h0M42.2 62.5h0M50.3 1.2h0M50.3 62.5h0M53 1.2h0M53 62.5h0M55.8 1.2h0M55.8 62.5h0M32.6 3.5h0M35.4 3.5h0M43.5 3.5h0M46.2 3.5h0M54.4 3.5h0M70.7 3.5h0M6.8 5.9h0M53 5.9h0M58.5 5.9h0M77.5 5.9h0M8.2 8.3h0M76.2 8.3h0M78.9 8.3h0M81.6 8.3h0M0 8.3h0M25.8 10.6h0M47.6 10.6h0M55.8 10.6h0M66.6 10.6h0M10.9 13h0M16.3 13h0M38.1 13h0M40.8 13h0M49 13h0M51.7 13h0M57.1 13h0M78.9 13h0M36.7 15.3h0M47.6 15.3h0M50.3 15.3h0M58.5 15.3h0M69.4 15.3h0M19 17.7h0M54.4 17.7h0M81.6 17.7h0M0 17.7h0M17.7 20.1h0M23.1 20.1h0M39.4 20.1h0M53 20.1h0M63.9 20.1h0M2.7 22.4h0M8.2 22.4h0M16.3 22.4h0M19 22.4h0M29.9 22.4h0M65.3 22.4h0M1.4 24.8h0M83 24.8h0M20.4 24.8h0M77.5 24.8h0M65.3 27.1h0M68 27.1h0M70.7 27.1h0M20.4 29.5h0M36.7 29.5h0M19 31.9h0M29.9 31.9h0M15 34.2h0M20.4 34.2h0M36.7 34.2h0M50.3 34.2h0M53 34.2h0M55.8 34.2h0M61.2 34.2h0M66.6 34.2h0M77.5 34.2h0M8.2 36.6h0M40.8 36.6h0M54.4 36.6h0M57.1 36.6h0M68 36.6h0M36.7 38.9h0M58.5 38.9h0M69.4 38.9h0M72.1 38.9h0M5.4 41.3h0M19 41.3h0M27.2 41.3h0M29.9 41.3h0M59.8 41.3h0M15 43.7h0M25.8 43.7h0M31.3 43.7h0M39.4 43.7h0M42.2 43.7h0M44.9 43.7h0M58.5 43.7h0M77.5 43.7h0M27.2 46h0M40.8 46h0M49 46h0M70.7 46h0M12.2 48.4h0M25.8 48.4h0M42.2 48.4h0M69.4 48.4h0M16.3 50.7h0M46.2 50.7h0M57.1 50.7h0M68 50.7h0M70.7 50.7h0M23.1 53.1h0M31.3 53.1h0M44.9 53.1h0M69.4 53.1h0M72.1 53.1h0M21.8 55.5h0M27.2 55.5h0M46.2 55.5h0M28.6 57.8h0M42.2 57.8h0M44.9 57.8h0M46.2 60.2h0M46.2 -1.2h0" stroke="#46a83c"/><path d="M1.4 1.2h0M83 1.2h0M1.4 62.5h0M4.1 1.2h0M4.1 62.5h0M6.8 1.2h0M6.8 62.5h0M12.2 1.2h0M12.2 62.5h0M15 1.2h0M15 62.5h0M17.7 1.2h0M17.7 62.5h0M25.8 1.2h0M25.8 62.5h0M28.6 1.2h0M28.6 62.5h0M58.5 1.2h0M58.5 62.5h0M61.2 1.2h0M61.2 62.5h0M66.6 1.2h0M66.6 62.5h0M69.4 1.2h0M69.4 62.5h0M72.1 1.2h0M72.1 62.5h0M77.5 1.2h0M77.5 62.5h0M2.7 3.5h0M8.2 3.5h0M16.3 3.5h0M29.9 3.5h0M38.1 3.5h0M51.7 3.5h0M57.1 3.5h0M59.8 3.5h0M62.6 3.5h0M65.3 3.5h0M73.4 3.5h0M81.6 3.5h0M0 3.5h0M9.5 5.9h0M15 5.9h0M17.7 5.9h0M25.8 5.9h0M34 5.9h0M36.7 5.9h0M39.4 5.9h0M42.2 5.9h0M44.9 5.9h0M47.6 5.9h0M55.8 5.9h0M69.4 5.9h0M2.7 8.3h0M5.4 8.3h0M10.9 8.3h0M16.3 8.3h0M19 8.3h0M21.8 8.3h0M24.5 8.3h0M27.2 8.3h0M35.4 8.3h0M38.1 8.3h0M40.8 8.3h0M43.5 8.3h0M46.2 8.3h0M49 8.3h0M59.8 8.3h0M4.1 10.6h0M6.8 10.6h0M17.7 10.6h0M31.3 10.6h0M34 10.6h0M36.7 10.6h0M39.4 10.6h0M42.2 10.6h0M44.9 10.6h0M50.3 10.6h0M53 10.6h0M63.9 10.6h0M69.4 10.6h0M74.8 10.6h0M19 13h0M24.5 13h0M43.5 13h0M62.6 13h0M65.3 13h0M68 13h0M70.7 13h0M73.4 13h0M76.2 13h0M4.1 15.3h0M15 15.3h0M17.7 15.3h0M23.1 15.3h0M25.8 15.3h0M28.6 15.3h0M31.3 15.3h0M39.4 15.3h0M42.2 15.3h0M55.8 15.3h0M61.2 15.3h0M63.9 15.3h0M72.1 15.3h0M80.2 15.3h0M-1.4 15.3h0M16.3 17.7h0M21.8 17.7h0M24.5 17.7h0M27.2 17.7h0M29.9 17.7h0M32.6 17.7h0M43.5 17.7h0M46.2 17.7h0M49 17.7h0M59.8 17.7h0M62.6 17.7h0M70.7 17.7h0M73.4 17.7h0M76.2 17.7h0M78.9 17.7h0M1.4 20.1h0M83 20.1h0M12.2 20.1h0M15 20.1h0M31.3 20.1h0M42.2 20.1h0M47.6 20.1h0M50.3 20.1h0M66.6 20.1h0M27.2 22.4h0M32.6 22.4h0M38.1 22.4h0M59.8 22.4h0M15 24.8h0M34 24.8h0M42.2 24.8h0M44.9 24.8h0M47.6 24.8h0M50.3 24.8h0M80.2 24.8h0M-1.4 24.8h0M2.7 27.1h0M19 27.1h0M21.8 27.1h0M29.9 27.1h0M35.4 27.1h0M38.1 27.1h0M43.5 27.1h0M46.2 27.1h0M49 27.1h0M51.7 27.1h0M54.4 27.1h0M76.2 27.1h0M78.9 27.1h0M1.4 29.5h0M83 29.5h0M4.1 29.5h0M6.8 29.5h0M9.5 29.5h0M34 29.5h0M39.4 29.5h0M42.2 29.5h0M44.9 29.5h0M50.3 29.5h0M58.5 29.5h0M63.9 29.5h0M66.6 29.5h0M69.4 29.5h0M72.1 29.5h0M74.8 29.5h0M2.7 31.9h0M5.4 31.9h0M13.6 31.9h0M24.5 31.9h0M35.4 31.9h0M38.1 31.9h0M46.2 31.9h0M49 31.9h0M51.7 31.9h0M54.4 31.9h0M57.1 31.9h0M62.6 31.9h0M68 31.9h0M70.7 31.9h0M78.9 31.9h0M1.4 34.2h0M83 34.2h0M6.8 34.2h0M9.5 34.2h0M25.8 34.2h0M28.6 34.2h0M31.3 34.2h0M34 34.2h0M42.2 34.2h0M44.9 34.2h0M58.5 34.2h0M63.9 34.2h0M69.4 34.2h0M16.3 36.6h0M19 36.6h0M21.8 36.6h0M24.5 36.6h0M27.2 36.6h0M32.6 36.6h0M35.4 36.6h0M38.1 36.6h0M43.5 36.6h0M46.2 36.6h0M51.7 36.6h0M65.3 36.6h0M6.8 38.9h0M20.4 38.9h0M23.1 38.9h0M31.3 38.9h0M34 38.9h0M55.8 38.9h0M63.9 38.9h0M10.9 41.3h0M13.6 41.3h0M16.3 41.3h0M24.5 41.3h0M35.4 41.3h0M38.1 41.3h0M43.5 41.3h0M46.2 41.3h0M51.7 41.3h0M54.4 41.3h0M57.1 41.3h0M73.4 41.3h0M1.4 43.7h0M83 43.7h0M12.2 43.7h0M20.4 43.7h0M23.1 43.7h0M28.6 43.7h0M34 43.7h0M47.6 43.7h0M61.2 43.7h0M63.9 43.7h0M66.6 43.7h0M72.1 43.7h0M74.8 43.7h0M80.2 43.7h0M-1.4 43.7h0M2.7 46h0M5.4 46h0M13.6 46h0M19 46h0M35.4 46h0M38.1 46h0M57.1 46h0M62.6 46h0M65.3 46h0M68 46h0M76.2 46h0M78.9 46h0M1.4 48.4h0M83 48.4h0M4.1 48.4h0M6.8 48.4h0M9.5 48.4h0M15 48.4h0M17.7 48.4h0M28.6 48.4h0M31.3 48.4h0M34 48.4h0M36.7 48.4h0M47.6 48.4h0M55.8 48.4h0M61.2 48.4h0M63.9 48.4h0M72.1 48.4h0M74.8 48.4h0M77.5 48.4h0M80.2 48.4h0M-1.4 48.4h0M5.4 50.7h0M8.2 50.7h0M10.9 50.7h0M13.6 50.7h0M19 50.7h0M21.8 50.7h0M32.6 50.7h0M35.4 50.7h0M38.1 50.7h0M40.8 50.7h0M43.5 50.7h0M73.4 50.7h0M76.2 50.7h0M4.1 53.1h0M9.5 53.1h0M20.4 53.1h0M34 53.1h0M42.2 53.1h0M53 53.1h0M55.8 53.1h0M63.9 53.1h0M74.8 53.1h0M5.4 55.5h0M24.5 55.5h0M32.6 55.5h0M35.4 55.5h0M43.5 55.5h0M54.4 55.5h0M59.8 55.5h0M62.6 55.5h0M68 55.5h0M73.4 55.5h0M76.2 55.5h0M78.9 55.5h0M1.4 57.8h0M83 57.8h0M6.8 57.8h0M12.2 57.8h0M34 57.8h0M47.6 57.8h0M50.3 57.8h0M53 57.8h0M61.2 57.8h0M66.6 57.8h0M69.4 57.8h0M72.1 57.8h0M77.5 57.8h0M8.2 60.2h0M8.2 -1.2h0M10.9 60.2h0M10.9 -1.2h0M13.6 60.2h0M13.6 -1.2h0M19 60.2h0M19 -1.2h0M24.5 60.2h0M24.5 -1.2h0M40.8 60.2h0M40.8 -1.2h0M43.5 60.2h0M43.5 -1.2h0M49 60.2h0M49 -1.2h0M51.7 60.2h0M51.7 -1.2h0M57.1 60.2h0M57.1 -1.2h0M59.8 60.2h0M59.8 -1.2h0M68 60.2h0M68 -1.2h0M78.9 60.2h0M78.9 -1.2h0" stroke="#d63031"/></pattern><pattern id="p32" width="81.6" height="61.36" patternUnits="userSpaceOnUse" stroke-width="3" stroke-linecap="round" fill="none"><rect width="82.6" height="62.36" fill="#9668c6"/><path d="M15 1.2h0M15 62.5h0M25.8 1.2h0M25.8 62.5h0M34 1.2h0M34 62.5h0M42.2 1.2h0M42.2 62.5h0M72.1 1.2h0M72.1 62.5h0M24.5 3.5h0M27.2 3.5h0M35.4 3.5h0M20.4 5.9h0M23.1 5.9h0M25.8 5.9h0M36.7 5.9h0M50.3 5.9h0M13.6 8.3h0M29.9 8.3h0M4.1 10.6h0M25.8 10.6h0M31.3 10.6h0M5.4 13h0M57.1 13h0M17.7 15.3h0M42.2 15.3h0M53 15.3h0M55.8 15.3h0M10.9 17.7h0M13.6 17.7h0M16.3 17.7h0M35.4 17.7h0M38.1 17.7h0M40.8 17.7h0M43.5 17.7h0M57.1 17.7h0M59.8 17.7h0M70.7 17.7h0M17.7 20.1h0M31.3 20.1h0M36.7 20.1h0M42.2 20.1h0M77.5 20.1h0M8.2 22.4h0M51.7 22.4h0M25.8 29.5h0M28.6 29.5h0M69.4 29.5h0M13.6 31.9h0M27.2 31.9h0M40.8 31.9h0M43.5 31.9h0M72.1 34.2h0M27.2 36.6h0M53 38.9h0M55.8 38.9h0M69.4 38.9h0M10.9 41.3h0M78.9 41.3h0M25.8 43.7h0M42.2 43.7h0M74.8 43.7h0M77.5 43.7h0M35.4 46h0M1.4 48.4h0M83 48.4h0M12.2 48.4h0M69.4 48.4h0M13.6 50.7h0M16.3 50.7h0M51.7 50.7h0M70.7 50.7h0M29.9 55.5h0M70.7 55.5h0M78.9 55.5h0M6.8 57.8h0M55.8 57.8h0M72.1 57.8h0M10.9 60.2h0M10.9 -1.2h0M19 60.2h0M19 -1.2h0M38.1 60.2h0M38.1 -1.2h0M54.4 60.2h0M54.4 -1.2h0M78.9 60.2h0M78.9 -1.2h0" stroke="#df7fd3"/><path d="M1.4 1.2h0M83 1.2h0M1.4 62.5h0M6.8 1.2h0M6.8 62.5h0M9.5 1.2h0M9.5 62.5h0M12.2 1.2h0M12.2 62.5h0M39.4 1.2h0M39.4 62.5h0M58.5 1.2h0M58.5 62.5h0M10.9 3.5h0M13.6 3.5h0M43.5 3.5h0M46.2 3.5h0M76.2 3.5h0M28.6 5.9h0M42.2 5.9h0M27.2 8.3h0M62.6 8.3h0M68 8.3h0M70.7 8.3h0M78.9 8.3h0M1.4 10.6h0M83 10.6h0M6.8 10.6h0M28.6 10.6h0M8.2 13h0M27.2 13h0M38.1 13h0M40.8 13h0M65.3 13h0M9.5 15.3h0M12.2 15.3h0M36.7 15.3h0M63.9 15.3h0M80.2 15.3h0M-1.4 15.3h0M24.5 17.7h0M32.6 17.7h0M62.6 17.7h0M65.3 17.7h0M73.4 17.7h0M81.6 17.7h0M0 17.7h0M4.1 20.1h0M47.6 20.1h0M63.9 20.1h0M2.7 22.4h0M13.6 22.4h0M24.5 22.4h0M49 22.4h0M68 22.4h0M1.4 24.8h0M83 24.8h0M4.1 24.8h0M23.1 24.8h0M44.9 24.8h0M50.3 24.8h0M58.5 24.8h0M2.7 27.1h0M5.4 27.1h0M27.2 27.1h0M68 27.1h0M4.1 29.5h0M12.2 29.5h0M23.1 29.5h0M66.6 29.5h0M74.8 29.5h0M51.7 31.9h0M70.7 31.9h0M28.6 34.2h0M39.4 34.2h0M44.9 34.2h0M50.3 34.2h0M66.6 34.2h0M74.8 34.2h0M13.6 36.6h0M43.5 36.6h0M46.2 36.6h0M59.8 36.6h0M76.2 36.6h0M6.8 38.9h0M15 38.9h0M17.7 38.9h0M23.1 38.9h0M77.5 38.9h0M5.4 41.3h0M13.6 41.3h0M29.9 41.3h0M40.8 41.3h0M65.3 41.3h0M9.5 43.7h0M20.4 43.7h0M31.3 43.7h0M34 43.7h0M58.5 43.7h0M72.1 43.7h0M21.8 46h0M65.3 46h0M73.4 46h0M78.9 46h0M15 48.4h0M58.5 48.4h0M80.2 48.4h0M-1.4 48.4h0M49 50.7h0M54.4 50.7h0M62.6 50.7h0M65.3 50.7h0M73.4 50.7h0M6.8 53.1h0M12.2 53.1h0M28.6 53.1h0M50.3 53.1h0M55.8 53.1h0M61.2 53.1h0M21.8 55.5h0M38.1 55.5h0M65.3 55.5h0M42.2 57.8h0M44.9 57.8h0M58.5 57.8h0M5.4 60.2h0M5.4 -1.2h0M13.6 60.2h0M13.6 -1.2h0M16.3 60.2h0M16.3 -1.2h0M40.8 60.2h0M40.8 -1.2h0" stroke="#46a83c"/><path d="M4.1 1.2h0M4.1 62.5h0M28.6 1.2h0M28.6 62.5h0M66.6 1.2h0M66.6 62.5h0M69.4 1.2h0M69.4 62.5h0M77.5 1.2h0M77.5 62.5h0M80.2 1.2h0M-1.4 1.2h0M80.2 62.5h0M5.4 3.5h0M21.8 3.5h0M29.9 3.5h0M32.6 3.5h0M38.1 3.5h0M59.8 3.5h0M62.6 3.5h0M70.7 3.5h0M73.4 3.5h0M78.9 3.5h0M6.8 5.9h0M31.3 5.9h0M34 5.9h0M44.9 5.9h0M53 5.9h0M55.8 5.9h0M66.6 5.9h0M72.1 5.9h0M46.2 8.3h0M49 8.3h0M59.8 8.3h0M23.1 10.6h0M39.4 10.6h0M50.3 10.6h0M53 10.6h0M55.8 10.6h0M74.8 10.6h0M77.5 10.6h0M10.9 13h0M46.2 13h0M59.8 13h0M62.6 13h0M1.4 15.3h0M83 15.3h0M39.4 15.3h0M47.6 15.3h0M77.5 15.3h0M2.7 17.7h0M27.2 17.7h0M46.2 17.7h0M51.7 17.7h0M54.4 17.7h0M76.2 17.7h0M78.9 17.7h0M1.4 20.1h0M83 20.1h0M6.8 20.1h0M12.2 20.1h0M15 20.1h0M34 20.1h0M44.9 20.1h0M58.5 20.1h0M80.2 20.1h0M-1.4 20.1h0M5.4 22.4h0M16.3 22.4h0M19 22.4h0M35.4 22.4h0M62.6 22.4h0M15 24.8h0M17.7 24.8h0M20.4 24.8h0M34 24.8h0M53 24.8h0M55.8 24.8h0M69.4 24.8h0M51.7 27.1h0M57.1 27.1h0M59.8 27.1h0M62.6 27.1h0M6.8 29.5h0M9.5 29.5h0M50.3 29.5h0M55.8 29.5h0M77.5 29.5h0M8.2 31.9h0M32.6 31.9h0M38.1 31.9h0M46.2 31.9h0M73.4 31.9h0M78.9 31.9h0M81.6 31.9h0M0 31.9h0M15 34.2h0M25.8 34.2h0M34 34.2h0M36.7 34.2h0M69.4 34.2h0M8.2 36.6h0M54.4 36.6h0M65.3 36.6h0M68 36.6h0M4.1 38.9h0M31.3 38.9h0M50.3 38.9h0M58.5 38.9h0M66.6 38.9h0M72.1 38.9h0M74.8 38.9h0M19 41.3h0M46.2 41.3h0M59.8 41.3h0M73.4 41.3h0M76.2 41.3h0M4.1 43.7h0M12.2 43.7h0M15 43.7h0M44.9 43.7h0M47.6 43.7h0M2.7 46h0M5.4 46h0M8.2 46h0M6.8 48.4h0M20.4 48.4h0M50.3 48.4h0M63.9 48.4h0M74.8 48.4h0M2.7 50.7h0M24.5 50.7h0M46.2 50.7h0M44.9 53.1h0M47.6 53.1h0M58.5 53.1h0M63.9 53.1h0M72.1 53.1h0M77.5 53.1h0M80.2 53.1h0M-1.4 53.1h0M2.7 55.5h0M5.4 55.5h0M8.2 55.5h0M24.5 55.5h0M35.4 55.5h0M59.8 55.5h0M73.4 55.5h0M1.4 57.8h0M83 57.8h0M4.1 57.8h0M9.5 57.8h0M25.8 57.8h0M31.3 57.8h0M34 57.8h0M36.7 57.8h0M80.2 57.8h0M-1.4 57.8h0M2.7 60.2h0M2.7 -1.2h0M8.2 60.2h0M8.2 -1.2h0M24.5 60.2h0M24.5 -1.2h0M29.9 60.2h0M29.9 -1.2h0M32.6 60.2h0M32.6 -1.2h0M51.7 60.2h0M51.7 -1.2h0M59.8 60.2h0M59.8 -1.2h0M62.6 60.2h0M62.6 -1.2h0M65.3 60.2h0M65.3 -1.2h0M70.7 60.2h0M70.7 -1.2h0M76.2 60.2h0M76.2 -1.2h0M81.6 60.2h0M0 60.2h0M81.6 -1.2h0" stroke="#d63031"/></pattern><pattern id="p33" width="81.6" height="61.36" patternUnits="userSpaceOnUse" stroke-width="3" stroke-linecap="round" fill="none"><rect width="82.6" height="62.36" fill="#9668c6"/><path d="M55.8 1.2h0M55.8 62.5h0M59.8 3.5h0M73.4 8.3h0M76.2 8.3h0M25.8 10.6h0M35.4 13h0M38.1 13h0M68 13h0M13.6 17.7h0M27.2 17.7h0M65.3 17.7h0M9.5 20.1h0M36.7 20.1h0M39.4 20.1h0M42.2 20.1h0M10.9 22.4h0M13.6 22.4h0M35.4 27.1h0M76.2 27.1h0M50.3 29.5h0M28.6 34.2h0M50.3 34.2h0M27.2 36.6h0M46.2 36.6h0M73.4 36.6h0M24.5 41.3h0M65.3 41.3h0M8.2 46h0M81.6 46h0M0 46h0M9.5 48.4h0M77.5 48.4h0M57.1 50.7h0M53 53.1h0M17.7 57.8h0M28.6 57.8h0M77.5 57.8h0M19 60.2h0M19 -1.2h0M57.1 60.2h0M57.1 -1.2h0M59.8 60.2h0M59.8 -1.2h0" stroke="#df7fd3"/><path d="M4.1 1.2h0M4.1 62.5h0M9.5 1.2h0M9.5 62.5h0M20.4 1.2h0M20.4 62.5h0M28.6 1.2h0M28.6 62.5h0M58.5 1.2h0M58.5 62.5h0M61.2 1.2h0M61.2 62.5h0M77.5 1.2h0M77.5 62.5h0M80.2 1.2h0M-1.4 1.2h0M80.2 62.5h0M24.5 3.5h0M27.2 3.5h0M35.4 3.5h0M51.7 3.5h0M54.4 3.5h0M57.1 3.5h0M62.6 3.5h0M78.9 3.5h0M1.4 5.9h0M83 5.9h0M34 5.9h0M44.9 5.9h0M47.6 5.9h0M50.3 5.9h0M55.8 5.9h0M63.9 5.9h0M77.5 5.9h0M8.2 8.3h0M16.3 8.3h0M21.8 8.3h0M27.2 8.3h0M29.9 8.3h0M38.1 8.3h0M49 8.3h0M51.7 8.3h0M54.4 8.3h0M65.3 8.3h0M78.9 8.3h0M4.1 10.6h0M20.4 10.6h0M23.1 10.6h0M36.7 10.6h0M39.4 10.6h0M44.9 10.6h0M47.6 10.6h0M50.3 10.6h0M53 10.6h0M63.9 10.6h0M72.1 10.6h0M74.8 10.6h0M13.6 13h0M16.3 13h0M43.5 13h0M57.1 13h0M76.2 13h0M78.9 13h0M6.8 15.3h0M15 15.3h0M17.7 15.3h0M23.1 15.3h0M25.8 15.3h0M34 15.3h0M44.9 15.3h0M55.8 15.3h0M61.2 15.3h0M66.6 15.3h0M69.4 15.3h0M74.8 15.3h0M77.5 15.3h0M2.7 17.7h0M5.4 17.7h0M8.2 17.7h0M10.9 17.7h0M16.3 17.7h0M19 17.7h0M21.8 17.7h0M24.5 17.7h0M35.4 17.7h0M46.2 17.7h0M49 17.7h0M51.7 17.7h0M70.7 17.7h0M76.2 17.7h0M81.6 17.7h0M0 17.7h0M6.8 20.1h0M31.3 20.1h0M44.9 20.1h0M53 20.1h0M24.5 22.4h0M38.1 22.4h0M49 22.4h0M51.7 22.4h0M59.8 22.4h0M62.6 22.4h0M76.2 22.4h0M1.4 24.8h0M83 24.8h0M9.5 24.8h0M39.4 24.8h0M42.2 24.8h0M53 24.8h0M61.2 24.8h0M63.9 24.8h0M2.7 27.1h0M10.9 27.1h0M13.6 27.1h0M16.3 27.1h0M21.8 27.1h0M27.2 27.1h0M38.1 27.1h0M46.2 27.1h0M81.6 27.1h0M0 27.1h0M12.2 29.5h0M17.7 29.5h0M20.4 29.5h0M34 29.5h0M36.7 29.5h0M58.5 29.5h0M61.2 29.5h0M74.8 29.5h0M19 31.9h0M35.4 31.9h0M38.1 31.9h0M62.6 31.9h0M25.8 34.2h0M42.2 34.2h0M53 34.2h0M61.2 34.2h0M63.9 34.2h0M29.9 36.6h0M43.5 36.6h0M54.4 36.6h0M62.6 36.6h0M65.3 36.6h0M68 36.6h0M76.2 36.6h0M6.8 38.9h0M34 38.9h0M53 38.9h0M72.1 38.9h0M2.7 41.3h0M5.4 41.3h0M8.2 41.3h0M10.9 41.3h0M40.8 41.3h0M43.5 41.3h0M76.2 41.3h0M81.6 41.3h0M0 41.3h0M1.4 43.7h0M83 43.7h0M6.8 43.7h0M9.5 43.7h0M47.6 43.7h0M5.4 46h0M13.6 46h0M43.5 46h0M46.2 46h0M49 46h0M62.6 46h0M65.3 46h0M6.8 48.4h0M12.2 48.4h0M15 48.4h0M23.1 48.4h0M31.3 48.4h0M42.2 48.4h0M44.9 48.4h0M47.6 48.4h0M53 48.4h0M19 50.7h0M65.3 50.7h0M68 50.7h0M73.4 50.7h0M76.2 50.7h0M81.6 50.7h0M0 50.7h0M15 53.1h0M23.1 53.1h0M28.6 53.1h0M31.3 53.1h0M34 53.1h0M36.7 53.1h0M80.2 53.1h0M-1.4 53.1h0M16.3 55.5h0M32.6 55.5h0M35.4 55.5h0M38.1 55.5h0M6.8 57.8h0M9.5 57.8h0M20.4 57.8h0M23.1 57.8h0M31.3 57.8h0M36.7 57.8h0M61.2 57.8h0M69.4 57.8h0M27.2 60.2h0M27.2 -1.2h0M49 60.2h0M49 -1.2h0M62.6 60.2h0M62.6 -1.2h0M76.2 60.2h0M76.2 -1.2h0M78.9 60.2h0M78.9 -1.2h0M81.6 60.2h0M0 60.2h0M81.6 -1.2h0" stroke="#d63031"/><path d="M6.8 1.2h0M6.8 62.5h0M12.2 1.2h0M12.2 62.5h0M15 1.2h0M15 62.5h0M23.1 1.2h0M23.1 62.5h0M31.3 1.2h0M31.3 62.5h0M34 1.2h0M34 62.5h0M36.7 1.2h0M36.7 62.5h0M44.9 1.2h0M44.9 62.5h0M53 1.2h0M53 62.5h0M2.7 3.5h0M5.4 3.5h0M16.3 3.5h0M29.9 3.5h0M32.6 3.5h0M38.1 3.5h0M40.8 3.5h0M4.1 5.9h0M20.4 5.9h0M28.6 5.9h0M31.3 5.9h0M36.7 5.9h0M39.4 5.9h0M53 5.9h0M61.2 5.9h0M66.6 5.9h0M69.4 5.9h0M5.4 8.3h0M35.4 8.3h0M40.8 8.3h0M43.5 8.3h0M57.1 8.3h0M62.6 8.3h0M70.7 8.3h0M1.4 10.6h0M83 10.6h0M9.5 10.6h0M15 10.6h0M31.3 10.6h0M42.2 10.6h0M58.5 10.6h0M69.4 10.6h0M77.5 10.6h0M80.2 10.6h0M-1.4 10.6h0M2.7 13h0M5.4 13h0M10.9 13h0M19 13h0M27.2 13h0M32.6 13h0M40.8 13h0M46.2 13h0M54.4 13h0M65.3 13h0M70.7 13h0M4.1 15.3h0M9.5 15.3h0M12.2 15.3h0M20.4 15.3h0M28.6 15.3h0M36.7 15.3h0M39.4 15.3h0M53 15.3h0M72.1 15.3h0M80.2 15.3h0M-1.4 15.3h0M29.9 17.7h0M32.6 17.7h0M38.1 17.7h0M59.8 17.7h0M73.4 17.7h0M78.9 17.7h0M12.2 20.1h0M15 20.1h0M23.1 20.1h0M25.8 20.1h0M34 20.1h0M55.8 20.1h0M58.5 20.1h0M72.1 20.1h0M74.8 20.1h0M77.5 20.1h0M5.4 22.4h0M8.2 22.4h0M21.8 22.4h0M27.2 22.4h0M35.4 22.4h0M43.5 22.4h0M57.1 22.4h0M65.3 22.4h0M78.9 22.4h0M81.6 22.4h0M0 22.4h0M6.8 24.8h0M15 24.8h0M17.7 24.8h0M36.7 24.8h0M55.8 24.8h0M66.6 24.8h0M29.9 27.1h0M40.8 27.1h0M43.5 27.1h0M62.6 27.1h0M70.7 27.1h0M6.8 29.5h0M28.6 29.5h0M31.3 29.5h0M42.2 29.5h0M55.8 29.5h0M80.2 29.5h0M-1.4 29.5h0M5.4 31.9h0M8.2 31.9h0M16.3 31.9h0M24.5 31.9h0M51.7 31.9h0M57.1 31.9h0M59.8 31.9h0M65.3 31.9h0M6.8 34.2h0M9.5 34.2h0M17.7 34.2h0M34 34.2h0M36.7 34.2h0M44.9 34.2h0M55.8 34.2h0M66.6 34.2h0M69.4 34.2h0M74.8 34.2h0M77.5 34.2h0M5.4 36.6h0M8.2 36.6h0M21.8 36.6h0M32.6 36.6h0M51.7 36.6h0M70.7 36.6h0M78.9 36.6h0M4.1 38.9h0M20.4 38.9h0M28.6 38.9h0M31.3 38.9h0M36.7 38.9h0M42.2 38.9h0M50.3 38.9h0M58.5 38.9h0M69.4 38.9h0M16.3 41.3h0M35.4 41.3h0M54.4 41.3h0M59.8 41.3h0M70.7 41.3h0M78.9 41.3h0M12.2 43.7h0M20.4 43.7h0M23.1 43.7h0M34 43.7h0M36.7 43.7h0M39.4 43.7h0M44.9 43.7h0M50.3 43.7h0M53 43.7h0M55.8 43.7h0M61.2 43.7h0M69.4 43.7h0M72.1 43.7h0M10.9 46h0M16.3 46h0M19 46h0M24.5 46h0M27.2 46h0M29.9 46h0M32.6 46h0M35.4 46h0M38.1 46h0M40.8 46h0M51.7 46h0M54.4 46h0M73.4 46h0M76.2 46h0M78.9 46h0M17.7 48.4h0M25.8 48.4h0M28.6 48.4h0M50.3 48.4h0M55.8 48.4h0M58.5 48.4h0M69.4 48.4h0M72.1 48.4h0M74.8 48.4h0M2.7 50.7h0M8.2 50.7h0M13.6 50.7h0M16.3 50.7h0M29.9 50.7h0M32.6 50.7h0M35.4 50.7h0M43.5 50.7h0M49 50.7h0M51.7 50.7h0M54.4 50.7h0M59.8 50.7h0M70.7 50.7h0M4.1 53.1h0M9.5 53.1h0M17.7 53.1h0M20.4 53.1h0M39.4 53.1h0M42.2 53.1h0M44.9 53.1h0M47.6 53.1h0M55.8 53.1h0M66.6 53.1h0M69.4 53.1h0M77.5 53.1h0M5.4 55.5h0M21.8 55.5h0M24.5 55.5h0M27.2 55.5h0M49 55.5h0M57.1 55.5h0M65.3 55.5h0M68 55.5h0M70.7 55.5h0M76.2 55.5h0M81.6 55.5h0M0 55.5h0M1.4 57.8h0M83 57.8h0M4.1 57.8h0M44.9 57.8h0M53 57.8h0M63.9 57.8h0M72.1 57.8h0M5.4 60.2h0M5.4 -1.2h0M8.2 60.2h0M8.2 -1.2h0M10.9 60.2h0M10.9 -1.2h0M13.6 60.2h0M13.6 -1.2h0M43.5 60.2h0M43.5 -1.2h0M46.2 60.2h0M46.2 -1.2h0M70.7 60.2h0M70.7 -1.2h0M73.4 60.2h0M73.4 -1.2h0" stroke="#46a83c"/></pattern><pattern id="p34" width="81.6" height="61.36" patternUnits="userSpaceOnUse" stroke-width="3" stroke-linecap="round" fill="none"><rect width="82.6" height="62.36" fill="#9668c6"/><path d="M44.9 1.2h0M44.9 62.5h0M53 5.9h0M74.8 5.9h0M12.2 10.6h0M31.3 10.6h0M34 10.6h0M70.7 13h0M57.1 17.7h0M34 20.1h0M72.1 20.1h0M74.8 20.1h0M76.2 22.4h0M25.8 29.5h0M80.2 34.2h0M-1.4 34.2h0M32.6 36.6h0M61.2 38.9h0M6.8 43.7h0M9.5 43.7h0M6.8 48.4h0M20.4 48.4h0M61.2 48.4h0M73.4 55.5h0M31.3 57.8h0" stroke="#d63031"/><path d="M1.4 1.2h0M83 1.2h0M1.4 62.5h0M28.6 1.2h0M28.6 62.5h0M31.3 1.2h0M31.3 62.5h0M29.9 3.5h0M32.6 3.5h0M40.8 3.5h0M12.2 5.9h0M20.4 5.9h0M31.3 5.9h0M34 5.9h0M5.4 8.3h0M21.8 8.3h0M6.8 10.6h0M10.9 13h0M62.6 13h0M20.4 15.3h0M27.2 17.7h0M17.7 20.1h0M23.1 20.1h0M19 22.4h0M27.2 22.4h0M15 24.8h0M35.4 27.1h0M51.7 27.1h0M57.1 27.1h0M68 27.1h0M78.9 27.1h0M17.7 29.5h0M20.4 29.5h0M66.6 29.5h0M69.4 29.5h0M38.1 31.9h0M76.2 31.9h0M1.4 34.2h0M83 34.2h0M38.1 36.6h0M70.7 36.6h0M81.6 36.6h0M0 36.6h0M1.4 38.9h0M83 38.9h0M17.7 38.9h0M34 38.9h0M36.7 38.9h0M2.7 41.3h0M16.3 41.3h0M19 41.3h0M47.6 43.7h0M50.3 43.7h0M66.6 43.7h0M2.7 46h0M24.5 46h0M51.7 46h0M62.6 46h0M76.2 46h0M81.6 46h0M0 46h0M15 48.4h0M17.7 48.4h0M31.3 48.4h0M39.4 48.4h0M80.2 48.4h0M-1.4 48.4h0M5.4 50.7h0M13.6 50.7h0M16.3 50.7h0M19 50.7h0M6.8 53.1h0M20.4 53.1h0M61.2 53.1h0M29.9 55.5h0M54.4 55.5h0M76.2 55.5h0M15 57.8h0M25.8 57.8h0M28.6 57.8h0M69.4 57.8h0M72.1 57.8h0M8.2 60.2h0M8.2 -1.2h0M24.5 60.2h0M24.5 -1.2h0M27.2 60.2h0M27.2 -1.2h0M32.6 60.2h0M32.6 -1.2h0M38.1 60.2h0M38.1 -1.2h0" stroke="#df7fd3"/><path d="M4.1 1.2h0M4.1 62.5h0M6.8 1.2h0M6.8 62.5h0M5.4 3.5h0M8.2 3.5h0M35.4 3.5h0M70.7 3.5h0M81.6 3.5h0M0 3.5h0M6.8 5.9h0M28.6 5.9h0M66.6 5.9h0M77.5 5.9h0M8.2 8.3h0M29.9 8.3h0M40.8 8.3h0M51.7 8.3h0M54.4 8.3h0M57.1 8.3h0M59.8 8.3h0M68 8.3h0M70.7 8.3h0M78.9 8.3h0M81.6 8.3h0M0 8.3h0M1.4 10.6h0M83 10.6h0M42.2 10.6h0M58.5 10.6h0M72.1 10.6h0M74.8 10.6h0M5.4 13h0M54.4 13h0M68 13h0M76.2 13h0M12.2 15.3h0M25.8 15.3h0M42.2 15.3h0M53 15.3h0M72.1 15.3h0M77.5 15.3h0M80.2 15.3h0M-1.4 15.3h0M24.5 17.7h0M35.4 17.7h0M46.2 17.7h0M49 17.7h0M81.6 17.7h0M0 17.7h0M36.7 20.1h0M47.6 20.1h0M55.8 20.1h0M77.5 20.1h0M5.4 22.4h0M10.9 22.4h0M21.8 22.4h0M35.4 22.4h0M43.5 22.4h0M57.1 22.4h0M59.8 22.4h0M20.4 24.8h0M23.1 24.8h0M42.2 24.8h0M53 24.8h0M21.8 27.1h0M40.8 27.1h0M59.8 27.1h0M53 29.5h0M13.6 31.9h0M24.5 31.9h0M40.8 31.9h0M49 31.9h0M62.6 31.9h0M65.3 31.9h0M12.2 34.2h0M53 34.2h0M61.2 34.2h0M66.6 34.2h0M16.3 36.6h0M19 36.6h0M46.2 36.6h0M6.8 38.9h0M15 38.9h0M23.1 38.9h0M25.8 38.9h0M39.4 38.9h0M42.2 38.9h0M13.6 41.3h0M59.8 41.3h0M58.5 43.7h0M61.2 43.7h0M8.2 46h0M35.4 46h0M38.1 46h0M73.4 46h0M1.4 48.4h0M83 48.4h0M42.2 48.4h0M44.9 48.4h0M50.3 48.4h0M74.8 48.4h0M57.1 50.7h0M59.8 50.7h0M70.7 50.7h0M78.9 50.7h0M81.6 50.7h0M0 50.7h0M4.1 53.1h0M36.7 53.1h0M63.9 53.1h0M80.2 53.1h0M-1.4 53.1h0M5.4 55.5h0M8.2 55.5h0M24.5 55.5h0M49 55.5h0M59.8 55.5h0M70.7 55.5h0M47.6 57.8h0M53 57.8h0M61.2 57.8h0M21.8 60.2h0M21.8 -1.2h0M35.4 60.2h0M35.4 -1.2h0M54.4 60.2h0M54.4 -1.2h0M57.1 60.2h0M57.1 -1.2h0M65.3 60.2h0M65.3 -1.2h0" stroke="#46a83c"/></pattern><pattern id="p35" width="81.6" height="61.36" patternUnits="userSpaceOnUse" stroke-width="3" stroke-linecap="round" fill="none"><rect width="82.6" height="62.36" fill="#46a83c"/><path d="M9.5 1.2h0M9.5 62.5h0M20.4 1.2h0M20.4 62.5h0M25.8 1.2h0M25.8 62.5h0M28.6 1.2h0M28.6 62.5h0M44.9 1.2h0M44.9 62.5h0M10.9 3.5h0M13.6 3.5h0M21.8 3.5h0M24.5 3.5h0M27.2 3.5h0M73.4 3.5h0M17.7 5.9h0M47.6 5.9h0M50.3 5.9h0M69.4 5.9h0M10.9 8.3h0M57.1 8.3h0M62.6 8.3h0M65.3 8.3h0M70.7 8.3h0M36.7 10.6h0M63.9 10.6h0M66.6 10.6h0M8.2 13h0M19 13h0M17.7 15.3h0M74.8 15.3h0M19 17.7h0M78.9 17.7h0M47.6 20.1h0M74.8 20.1h0M49 22.4h0M51.7 22.4h0M25.8 24.8h0M28.6 24.8h0M66.6 24.8h0M5.4 27.1h0M59.8 27.1h0M62.6 27.1h0M70.7 27.1h0M76.2 27.1h0M72.1 29.5h0M8.2 31.9h0M27.2 31.9h0M6.8 34.2h0M12.2 34.2h0M25.8 34.2h0M44.9 34.2h0M50.3 34.2h0M2.7 36.6h0M13.6 36.6h0M27.2 36.6h0M38.1 36.6h0M40.8 36.6h0M51.7 36.6h0M54.4 36.6h0M15 38.9h0M50.3 38.9h0M53 38.9h0M55.8 38.9h0M17.7 43.7h0M34 43.7h0M40.8 46h0M66.6 48.4h0M5.4 50.7h0M8.2 50.7h0M57.1 50.7h0M42.2 53.1h0M55.8 53.1h0M58.5 53.1h0M77.5 53.1h0M32.6 55.5h0M61.2 57.8h0M63.9 57.8h0M24.5 60.2h0M24.5 -1.2h0M29.9 60.2h0M29.9 -1.2h0M62.6 60.2h0M62.6 -1.2h0M65.3 60.2h0M65.3 -1.2h0" stroke="#d63031"/><path d="M17.7 1.2h0M17.7 62.5h0M47.6 1.2h0M47.6 62.5h0M72.1 1.2h0M72.1 62.5h0M74.8 1.2h0M74.8 62.5h0M5.4 3.5h0M19 3.5h0M40.8 3.5h0M57.1 3.5h0M65.3 3.5h0M76.2 3.5h0M78.9 3.5h0M4.1 5.9h0M20.4 5.9h0M25.8 5.9h0M44.9 5.9h0M63.9 5.9h0M66.6 5.9h0M74.8 5.9h0M2.7 8.3h0M49 8.3h0M51.7 8.3h0M9.5 10.6h0M23.1 10.6h0M55.8 10.6h0M72.1 10.6h0M74.8 10.6h0M77.5 10.6h0M57.1 13h0M20.4 15.3h0M62.6 17.7h0M70.7 17.7h0M9.5 20.1h0M13.6 22.4h0M38.1 22.4h0M40.8 22.4h0M12.2 24.8h0M15 24.8h0M72.1 24.8h0M40.8 27.1h0M31.3 29.5h0M63.9 29.5h0M2.7 31.9h0M24.5 31.9h0M54.4 31.9h0M57.1 31.9h0M65.3 31.9h0M68 31.9h0M76.2 31.9h0M78.9 31.9h0M9.5 34.2h0M31.3 34.2h0M72.1 38.9h0M74.8 38.9h0M13.6 41.3h0M32.6 41.3h0M40.8 41.3h0M49 41.3h0M62.6 41.3h0M20.4 43.7h0M61.2 43.7h0M72.1 43.7h0M46.2 46h0M59.8 46h0M78.9 46h0M25.8 48.4h0M34 48.4h0M72.1 48.4h0M80.2 48.4h0M-1.4 48.4h0M32.6 50.7h0M20.4 53.1h0M31.3 53.1h0M72.1 53.1h0M57.1 55.5h0M17.7 57.8h0M5.4 60.2h0M5.4 -1.2h0M8.2 60.2h0M8.2 -1.2h0M21.8 60.2h0M21.8 -1.2h0M46.2 60.2h0M46.2 -1.2h0" stroke="#df7fd3"/><path d="M4.1 1.2h0M4.1 62.5h0M15 1.2h0M15 62.5h0M53 1.2h0M53 62.5h0M35.4 3.5h0M49 3.5h0M54.4 3.5h0M23.1 5.9h0M31.3 5.9h0M34 5.9h0M55.8 5.9h0M58.5 5.9h0M38.1 8.3h0M43.5 8.3h0M59.8 8.3h0M76.2 8.3h0M78.9 8.3h0M81.6 8.3h0M0 8.3h0M12.2 10.6h0M20.4 10.6h0M61.2 10.6h0M69.4 10.6h0M80.2 10.6h0M-1.4 10.6h0M13.6 13h0M16.3 13h0M24.5 13h0M27.2 13h0M29.9 13h0M46.2 13h0M54.4 13h0M68 13h0M70.7 13h0M81.6 13h0M0 13h0M4.1 15.3h0M15 15.3h0M36.7 15.3h0M47.6 15.3h0M50.3 15.3h0M55.8 15.3h0M66.6 15.3h0M69.4 15.3h0M5.4 17.7h0M8.2 17.7h0M24.5 17.7h0M38.1 17.7h0M40.8 17.7h0M49 17.7h0M57.1 17.7h0M58.5 20.1h0M10.9 22.4h0M21.8 22.4h0M32.6 22.4h0M57.1 22.4h0M76.2 22.4h0M78.9 22.4h0M1.4 24.8h0M83 24.8h0M6.8 24.8h0M17.7 24.8h0M31.3 24.8h0M34 24.8h0M44.9 24.8h0M50.3 24.8h0M53 24.8h0M61.2 24.8h0M80.2 24.8h0M-1.4 24.8h0M2.7 27.1h0M16.3 27.1h0M19 27.1h0M24.5 27.1h0M35.4 27.1h0M46.2 27.1h0M65.3 27.1h0M23.1 29.5h0M25.8 29.5h0M28.6 29.5h0M34 29.5h0M39.4 29.5h0M69.4 29.5h0M77.5 29.5h0M29.9 31.9h0M43.5 31.9h0M46.2 31.9h0M49 31.9h0M1.4 34.2h0M83 34.2h0M28.6 34.2h0M47.6 34.2h0M63.9 34.2h0M77.5 34.2h0M8.2 36.6h0M29.9 36.6h0M32.6 36.6h0M46.2 36.6h0M49 36.6h0M68 36.6h0M17.7 38.9h0M23.1 38.9h0M25.8 38.9h0M34 38.9h0M36.7 38.9h0M58.5 38.9h0M2.7 41.3h0M5.4 41.3h0M19 41.3h0M21.8 41.3h0M24.5 41.3h0M29.9 41.3h0M51.7 41.3h0M4.1 43.7h0M69.4 43.7h0M74.8 43.7h0M77.5 43.7h0M2.7 46h0M5.4 46h0M8.2 46h0M16.3 46h0M38.1 46h0M57.1 46h0M65.3 46h0M81.6 46h0M0 46h0M1.4 48.4h0M83 48.4h0M15 48.4h0M20.4 48.4h0M36.7 48.4h0M55.8 48.4h0M58.5 48.4h0M63.9 48.4h0M74.8 48.4h0M19 50.7h0M43.5 50.7h0M70.7 50.7h0M73.4 50.7h0M78.9 50.7h0M81.6 50.7h0M0 50.7h0M1.4 53.1h0M83 53.1h0M15 53.1h0M28.6 53.1h0M47.6 53.1h0M69.4 53.1h0M80.2 53.1h0M-1.4 53.1h0M21.8 55.5h0M24.5 55.5h0M27.2 55.5h0M38.1 55.5h0M46.2 55.5h0M59.8 55.5h0M70.7 55.5h0M76.2 55.5h0M50.3 57.8h0M58.5 57.8h0M72.1 57.8h0M74.8 57.8h0M13.6 60.2h0M13.6 -1.2h0M16.3 60.2h0M16.3 -1.2h0M27.2 60.2h0M27.2 -1.2h0M43.5 60.2h0M43.5 -1.2h0M68 60.2h0M68 -1.2h0M76.2 60.2h0M76.2 -1.2h0" stroke="#9668c6"/></pattern><pattern id="p36" width="81.6" height="61.36" patternUnits="userSpaceOnUse" stroke-width="3" stroke-linecap="round" fill="none"><rect width="82.6" height="62.36" fill="#46a83c"/><path d="M63.9 1.2h0M63.9 62.5h0M5.4 3.5h0M38.1 3.5h0M69.4 5.9h0M72.1 5.9h0M10.9 8.3h0M19 8.3h0M51.7 8.3h0M57.1 8.3h0M20.4 10.6h0M50.3 10.6h0M10.9 13h0M13.6 13h0M4.1 15.3h0M6.8 15.3h0M9.5 15.3h0M12.2 15.3h0M17.7 15.3h0M34 15.3h0M36.7 15.3h0M5.4 17.7h0M38.1 17.7h0M17.7 20.1h0M23.1 20.1h0M2.7 22.4h0M16.3 22.4h0M65.3 22.4h0M81.6 22.4h0M0 22.4h0M17.7 24.8h0M23.1 24.8h0M63.9 24.8h0M77.5 24.8h0M80.2 24.8h0M-1.4 24.8h0M16.3 27.1h0M24.5 27.1h0M29.9 27.1h0M38.1 27.1h0M73.4 27.1h0M17.7 29.5h0M20.4 29.5h0M31.3 29.5h0M47.6 29.5h0M19 31.9h0M35.4 31.9h0M76.2 31.9h0M55.8 34.2h0M8.2 41.3h0M24.5 41.3h0M81.6 41.3h0M0 41.3h0M44.9 43.7h0M49 46h0M28.6 48.4h0M31.3 48.4h0M66.6 48.4h0M8.2 50.7h0M65.3 50.7h0M78.9 50.7h0M4.1 53.1h0M23.1 53.1h0M34 53.1h0M42.2 53.1h0M77.5 53.1h0M32.6 55.5h0M35.4 55.5h0M46.2 55.5h0M62.6 55.5h0M65.3 55.5h0M1.4 57.8h0M83 57.8h0M15 57.8h0M20.4 57.8h0M58.5 57.8h0M69.4 57.8h0M74.8 57.8h0M77.5 57.8h0M8.2 60.2h0M8.2 -1.2h0M10.9 60.2h0M10.9 -1.2h0M59.8 60.2h0M59.8 -1.2h0M78.9 60.2h0M78.9 -1.2h0" stroke="#df7fd3"/><path d="M28.6 1.2h0M28.6 62.5h0M36.7 1.2h0M36.7 62.5h0M39.4 1.2h0M39.4 62.5h0M42.2 1.2h0M42.2 62.5h0M43.5 3.5h0M51.7 3.5h0M65.3 3.5h0M81.6 3.5h0M0 3.5h0M20.4 5.9h0M23.1 5.9h0M25.8 5.9h0M53 5.9h0M12.2 10.6h0M42.2 10.6h0M2.7 13h0M78.9 13h0M81.6 13h0M0 13h0M23.1 15.3h0M63.9 15.3h0M72.1 15.3h0M77.5 15.3h0M80.2 15.3h0M-1.4 15.3h0M68 17.7h0M73.4 17.7h0M76.2 17.7h0M78.9 17.7h0M50.3 20.1h0M74.8 20.1h0M5.4 22.4h0M8.2 22.4h0M78.9 22.4h0M6.8 24.8h0M39.4 24.8h0M66.6 24.8h0M21.8 27.1h0M35.4 27.1h0M4.1 29.5h0M53 29.5h0M58.5 29.5h0M1.4 34.2h0M83 34.2h0M42.2 34.2h0M44.9 34.2h0M53 34.2h0M10.9 36.6h0M16.3 36.6h0M54.4 36.6h0M65.3 36.6h0M81.6 36.6h0M0 36.6h0M25.8 38.9h0M34 38.9h0M69.4 38.9h0M5.4 41.3h0M38.1 41.3h0M40.8 41.3h0M4.1 43.7h0M25.8 43.7h0M42.2 43.7h0M54.4 46h0M78.9 46h0M6.8 48.4h0M36.7 48.4h0M16.3 50.7h0M19 50.7h0M38.1 50.7h0M46.2 50.7h0M59.8 50.7h0M76.2 50.7h0M20.4 53.1h0M50.3 53.1h0M66.6 53.1h0M10.9 55.5h0M51.7 55.5h0M17.7 57.8h0M23.1 57.8h0M36.7 57.8h0M50.3 57.8h0M2.7 60.2h0M2.7 -1.2h0M24.5 60.2h0M24.5 -1.2h0" stroke="#9668c6"/><path d="M1.4 1.2h0M83 1.2h0M1.4 62.5h0M12.2 1.2h0M12.2 62.5h0M15 1.2h0M15 62.5h0M23.1 1.2h0M23.1 62.5h0M44.9 1.2h0M44.9 62.5h0M50.3 1.2h0M50.3 62.5h0M53 1.2h0M53 62.5h0M72.1 1.2h0M72.1 62.5h0M80.2 1.2h0M-1.4 1.2h0M80.2 62.5h0M2.7 3.5h0M10.9 3.5h0M19 3.5h0M21.8 3.5h0M29.9 3.5h0M32.6 3.5h0M35.4 3.5h0M40.8 3.5h0M46.2 3.5h0M49 3.5h0M68 3.5h0M70.7 3.5h0M73.4 3.5h0M76.2 3.5h0M4.1 5.9h0M17.7 5.9h0M31.3 5.9h0M39.4 5.9h0M42.2 5.9h0M44.9 5.9h0M50.3 5.9h0M58.5 5.9h0M61.2 5.9h0M80.2 5.9h0M-1.4 5.9h0M21.8 8.3h0M29.9 8.3h0M32.6 8.3h0M35.4 8.3h0M40.8 8.3h0M43.5 8.3h0M46.2 8.3h0M49 8.3h0M59.8 8.3h0M62.6 8.3h0M65.3 8.3h0M70.7 8.3h0M73.4 8.3h0M76.2 8.3h0M1.4 10.6h0M83 10.6h0M4.1 10.6h0M6.8 10.6h0M9.5 10.6h0M23.1 10.6h0M25.8 10.6h0M39.4 10.6h0M44.9 10.6h0M47.6 10.6h0M55.8 10.6h0M63.9 10.6h0M66.6 10.6h0M69.4 10.6h0M74.8 10.6h0M77.5 10.6h0M16.3 13h0M21.8 13h0M24.5 13h0M29.9 13h0M32.6 13h0M35.4 13h0M40.8 13h0M49 13h0M62.6 13h0M68 13h0M76.2 13h0M1.4 15.3h0M83 15.3h0M15 15.3h0M31.3 15.3h0M42.2 15.3h0M47.6 15.3h0M50.3 15.3h0M66.6 15.3h0M8.2 17.7h0M13.6 17.7h0M16.3 17.7h0M19 17.7h0M27.2 17.7h0M29.9 17.7h0M32.6 17.7h0M35.4 17.7h0M46.2 17.7h0M49 17.7h0M51.7 17.7h0M59.8 17.7h0M62.6 17.7h0M70.7 17.7h0M81.6 17.7h0M0 17.7h0M12.2 20.1h0M15 20.1h0M25.8 20.1h0M28.6 20.1h0M34 20.1h0M42.2 20.1h0M44.9 20.1h0M47.6 20.1h0M69.4 20.1h0M10.9 22.4h0M13.6 22.4h0M27.2 22.4h0M35.4 22.4h0M43.5 22.4h0M57.1 22.4h0M59.8 22.4h0M70.7 22.4h0M4.1 24.8h0M9.5 24.8h0M15 24.8h0M53 24.8h0M58.5 24.8h0M69.4 24.8h0M72.1 24.8h0M8.2 27.1h0M19 27.1h0M27.2 27.1h0M43.5 27.1h0M46.2 27.1h0M59.8 27.1h0M68 27.1h0M78.9 27.1h0M81.6 27.1h0M0 27.1h0M1.4 29.5h0M83 29.5h0M6.8 29.5h0M9.5 29.5h0M23.1 29.5h0M28.6 29.5h0M44.9 29.5h0M55.8 29.5h0M61.2 29.5h0M69.4 29.5h0M72.1 29.5h0M74.8 29.5h0M77.5 29.5h0M80.2 29.5h0M-1.4 29.5h0M5.4 31.9h0M13.6 31.9h0M16.3 31.9h0M24.5 31.9h0M27.2 31.9h0M29.9 31.9h0M40.8 31.9h0M43.5 31.9h0M46.2 31.9h0M51.7 31.9h0M57.1 31.9h0M68 31.9h0M70.7 31.9h0M73.4 31.9h0M81.6 31.9h0M0 31.9h0M15 34.2h0M17.7 34.2h0M20.4 34.2h0M23.1 34.2h0M36.7 34.2h0M39.4 34.2h0M58.5 34.2h0M61.2 34.2h0M63.9 34.2h0M66.6 34.2h0M69.4 34.2h0M72.1 34.2h0M74.8 34.2h0M2.7 36.6h0M8.2 36.6h0M19 36.6h0M21.8 36.6h0M24.5 36.6h0M27.2 36.6h0M35.4 36.6h0M40.8 36.6h0M43.5 36.6h0M49 36.6h0M57.1 36.6h0M59.8 36.6h0M62.6 36.6h0M70.7 36.6h0M78.9 36.6h0M1.4 38.9h0M83 38.9h0M4.1 38.9h0M6.8 38.9h0M17.7 38.9h0M23.1 38.9h0M39.4 38.9h0M42.2 38.9h0M44.9 38.9h0M50.3 38.9h0M53 38.9h0M58.5 38.9h0M63.9 38.9h0M66.6 38.9h0M74.8 38.9h0M77.5 38.9h0M19 41.3h0M21.8 41.3h0M27.2 41.3h0M32.6 41.3h0M51.7 41.3h0M54.4 41.3h0M57.1 41.3h0M65.3 41.3h0M68 41.3h0M70.7 41.3h0M76.2 41.3h0M78.9 41.3h0M1.4 43.7h0M83 43.7h0M6.8 43.7h0M9.5 43.7h0M12.2 43.7h0M15 43.7h0M20.4 43.7h0M23.1 43.7h0M28.6 43.7h0M34 43.7h0M36.7 43.7h0M39.4 43.7h0M50.3 43.7h0M53 43.7h0M58.5 43.7h0M66.6 43.7h0M69.4 43.7h0M72.1 43.7h0M74.8 43.7h0M77.5 43.7h0M2.7 46h0M8.2 46h0M10.9 46h0M19 46h0M29.9 46h0M40.8 46h0M43.5 46h0M46.2 46h0M57.1 46h0M62.6 46h0M70.7 46h0M73.4 46h0M81.6 46h0M0 46h0M4.1 48.4h0M9.5 48.4h0M17.7 48.4h0M20.4 48.4h0M23.1 48.4h0M25.8 48.4h0M39.4 48.4h0M42.2 48.4h0M44.9 48.4h0M47.6 48.4h0M50.3 48.4h0M55.8 48.4h0M58.5 48.4h0M61.2 48.4h0M69.4 48.4h0M72.1 48.4h0M77.5 48.4h0M2.7 50.7h0M10.9 50.7h0M24.5 50.7h0M49 50.7h0M57.1 50.7h0M68 50.7h0M81.6 50.7h0M0 50.7h0M1.4 53.1h0M83 53.1h0M9.5 53.1h0M12.2 53.1h0M17.7 53.1h0M25.8 53.1h0M28.6 53.1h0M39.4 53.1h0M44.9 53.1h0M47.6 53.1h0M55.8 53.1h0M58.5 53.1h0M61.2 53.1h0M63.9 53.1h0M69.4 53.1h0M74.8 53.1h0M5.4 55.5h0M8.2 55.5h0M19 55.5h0M21.8 55.5h0M29.9 55.5h0M38.1 55.5h0M40.8 55.5h0M43.5 55.5h0M49 55.5h0M70.7 55.5h0M76.2 55.5h0M4.1 57.8h0M6.8 57.8h0M9.5 57.8h0M12.2 57.8h0M31.3 57.8h0M39.4 57.8h0M44.9 57.8h0M47.6 57.8h0M53 57.8h0M55.8 57.8h0M61.2 57.8h0M13.6 60.2h0M13.6 -1.2h0M16.3 60.2h0M16.3 -1.2h0M32.6 60.2h0M32.6 -1.2h0M38.1 60.2h0M38.1 -1.2h0M46.2 60.2h0M46.2 -1.2h0M51.7 60.2h0M51.7 -1.2h0M57.1 60.2h0M57.1 -1.2h0M68 60.2h0M68 -1.2h0" stroke="#d63031"/></pattern><pattern id="p37" width="81.6" height="61.36" patternUnits="userSpaceOnUse" stroke-width="3" stroke-linecap="round" fill="none"><rect width="82.6" height="62.36" fill="#9668c6"/><path d="M1.4 1.2h0M83 1.2h0M1.4 62.5h0M4.1 1.2h0M4.1 62.5h0M5.4 3.5h0M54.4 3.5h0M4.1 5.9h0M20.4 5.9h0M47.6 5.9h0M66.6 5.9h0M68 8.3h0M78.9 8.3h0M36.7 10.6h0M6.8 15.3h0M9.5 15.3h0M42.2 15.3h0M10.9 17.7h0M13.6 17.7h0M4.1 24.8h0M5.4 27.1h0M9.5 29.5h0M25.8 29.5h0M50.3 29.5h0M59.8 31.9h0M58.5 34.2h0M21.8 36.6h0M16.3 41.3h0M51.7 41.3h0M76.2 41.3h0M9.5 43.7h0M23.1 43.7h0M50.3 48.4h0M13.6 50.7h0M19 50.7h0M62.6 50.7h0M15 53.1h0M17.7 53.1h0M20.4 53.1h0M13.6 55.5h0M19 55.5h0M68 55.5h0" stroke="#df7fd3"/><path d="M6.8 1.2h0M6.8 62.5h0M12.2 1.2h0M12.2 62.5h0M20.4 1.2h0M20.4 62.5h0M34 1.2h0M34 62.5h0M36.7 1.2h0M36.7 62.5h0M39.4 1.2h0M39.4 62.5h0M47.6 1.2h0M47.6 62.5h0M50.3 1.2h0M50.3 62.5h0M58.5 1.2h0M58.5 62.5h0M61.2 1.2h0M61.2 62.5h0M63.9 1.2h0M63.9 62.5h0M72.1 1.2h0M72.1 62.5h0M8.2 3.5h0M13.6 3.5h0M21.8 3.5h0M24.5 3.5h0M35.4 3.5h0M43.5 3.5h0M49 3.5h0M51.7 3.5h0M57.1 3.5h0M59.8 3.5h0M62.6 3.5h0M17.7 5.9h0M34 5.9h0M36.7 5.9h0M50.3 5.9h0M53 5.9h0M55.8 5.9h0M63.9 5.9h0M69.4 5.9h0M72.1 5.9h0M74.8 5.9h0M80.2 5.9h0M-1.4 5.9h0M5.4 8.3h0M19 8.3h0M21.8 8.3h0M32.6 8.3h0M38.1 8.3h0M57.1 8.3h0M59.8 8.3h0M65.3 8.3h0M70.7 8.3h0M73.4 8.3h0M9.5 10.6h0M31.3 10.6h0M47.6 10.6h0M53 10.6h0M61.2 10.6h0M72.1 10.6h0M77.5 10.6h0M80.2 10.6h0M-1.4 10.6h0M2.7 13h0M16.3 13h0M27.2 13h0M29.9 13h0M32.6 13h0M40.8 13h0M49 13h0M57.1 13h0M62.6 13h0M65.3 13h0M68 13h0M70.7 13h0M73.4 13h0M76.2 13h0M12.2 15.3h0M15 15.3h0M17.7 15.3h0M23.1 15.3h0M25.8 15.3h0M31.3 15.3h0M36.7 15.3h0M39.4 15.3h0M47.6 15.3h0M58.5 15.3h0M61.2 15.3h0M63.9 15.3h0M66.6 15.3h0M74.8 15.3h0M77.5 15.3h0M8.2 17.7h0M19 17.7h0M24.5 17.7h0M27.2 17.7h0M32.6 17.7h0M35.4 17.7h0M38.1 17.7h0M43.5 17.7h0M65.3 17.7h0M73.4 17.7h0M76.2 17.7h0M78.9 17.7h0M81.6 17.7h0M0 17.7h0M1.4 20.1h0M83 20.1h0M4.1 20.1h0M12.2 20.1h0M15 20.1h0M20.4 20.1h0M23.1 20.1h0M28.6 20.1h0M34 20.1h0M39.4 20.1h0M47.6 20.1h0M50.3 20.1h0M58.5 20.1h0M61.2 20.1h0M63.9 20.1h0M66.6 20.1h0M74.8 20.1h0M2.7 22.4h0M5.4 22.4h0M8.2 22.4h0M10.9 22.4h0M16.3 22.4h0M24.5 22.4h0M29.9 22.4h0M32.6 22.4h0M40.8 22.4h0M46.2 22.4h0M49 22.4h0M51.7 22.4h0M62.6 22.4h0M65.3 22.4h0M20.4 24.8h0M25.8 24.8h0M28.6 24.8h0M34 24.8h0M44.9 24.8h0M50.3 24.8h0M58.5 24.8h0M63.9 24.8h0M69.4 24.8h0M80.2 24.8h0M-1.4 24.8h0M2.7 27.1h0M8.2 27.1h0M27.2 27.1h0M29.9 27.1h0M49 27.1h0M54.4 27.1h0M59.8 27.1h0M62.6 27.1h0M65.3 27.1h0M70.7 27.1h0M78.9 27.1h0M81.6 27.1h0M0 27.1h0M1.4 29.5h0M83 29.5h0M4.1 29.5h0M6.8 29.5h0M20.4 29.5h0M23.1 29.5h0M28.6 29.5h0M31.3 29.5h0M34 29.5h0M44.9 29.5h0M53 29.5h0M58.5 29.5h0M69.4 29.5h0M72.1 29.5h0M74.8 29.5h0M80.2 29.5h0M-1.4 29.5h0M5.4 31.9h0M13.6 31.9h0M19 31.9h0M24.5 31.9h0M51.7 31.9h0M68 31.9h0M81.6 31.9h0M0 31.9h0M1.4 34.2h0M83 34.2h0M4.1 34.2h0M6.8 34.2h0M9.5 34.2h0M15 34.2h0M17.7 34.2h0M20.4 34.2h0M50.3 34.2h0M53 34.2h0M55.8 34.2h0M61.2 34.2h0M66.6 34.2h0M72.1 34.2h0M2.7 36.6h0M5.4 36.6h0M13.6 36.6h0M16.3 36.6h0M24.5 36.6h0M27.2 36.6h0M38.1 36.6h0M40.8 36.6h0M43.5 36.6h0M46.2 36.6h0M49 36.6h0M57.1 36.6h0M59.8 36.6h0M81.6 36.6h0M0 36.6h0M1.4 38.9h0M83 38.9h0M6.8 38.9h0M9.5 38.9h0M15 38.9h0M17.7 38.9h0M20.4 38.9h0M28.6 38.9h0M34 38.9h0M44.9 38.9h0M47.6 38.9h0M50.3 38.9h0M58.5 38.9h0M69.4 38.9h0M80.2 38.9h0M-1.4 38.9h0M10.9 41.3h0M29.9 41.3h0M32.6 41.3h0M38.1 41.3h0M54.4 41.3h0M65.3 41.3h0M70.7 41.3h0M73.4 41.3h0M78.9 41.3h0M1.4 43.7h0M83 43.7h0M12.2 43.7h0M17.7 43.7h0M28.6 43.7h0M34 43.7h0M36.7 43.7h0M39.4 43.7h0M42.2 43.7h0M55.8 43.7h0M61.2 43.7h0M63.9 43.7h0M66.6 43.7h0M69.4 43.7h0M72.1 43.7h0M74.8 43.7h0M19 46h0M21.8 46h0M35.4 46h0M43.5 46h0M49 46h0M54.4 46h0M57.1 46h0M59.8 46h0M62.6 46h0M65.3 46h0M68 46h0M70.7 46h0M78.9 46h0M81.6 46h0M0 46h0M4.1 48.4h0M23.1 48.4h0M25.8 48.4h0M28.6 48.4h0M31.3 48.4h0M44.9 48.4h0M47.6 48.4h0M55.8 48.4h0M61.2 48.4h0M63.9 48.4h0M77.5 48.4h0M5.4 50.7h0M16.3 50.7h0M21.8 50.7h0M24.5 50.7h0M27.2 50.7h0M49 50.7h0M57.1 50.7h0M73.4 50.7h0M4.1 53.1h0M23.1 53.1h0M28.6 53.1h0M31.3 53.1h0M42.2 53.1h0M44.9 53.1h0M47.6 53.1h0M61.2 53.1h0M69.4 53.1h0M72.1 53.1h0M74.8 53.1h0M77.5 53.1h0M24.5 55.5h0M27.2 55.5h0M29.9 55.5h0M32.6 55.5h0M38.1 55.5h0M40.8 55.5h0M46.2 55.5h0M57.1 55.5h0M59.8 55.5h0M65.3 55.5h0M76.2 55.5h0M1.4 57.8h0M83 57.8h0M4.1 57.8h0M6.8 57.8h0M17.7 57.8h0M25.8 57.8h0M28.6 57.8h0M36.7 57.8h0M39.4 57.8h0M42.2 57.8h0M47.6 57.8h0M61.2 57.8h0M69.4 57.8h0M74.8 57.8h0M8.2 60.2h0M8.2 -1.2h0M13.6 60.2h0M13.6 -1.2h0M27.2 60.2h0M27.2 -1.2h0M32.6 60.2h0M32.6 -1.2h0M35.4 60.2h0M35.4 -1.2h0M49 60.2h0M49 -1.2h0M51.7 60.2h0M51.7 -1.2h0M65.3 60.2h0M65.3 -1.2h0M76.2 60.2h0M76.2 -1.2h0M78.9 60.2h0M78.9 -1.2h0" stroke="#46a83c"/></pattern><pattern id="p38" width="81.6" height="61.36" patternUnits="userSpaceOnUse" stroke-width="3" stroke-linecap="round" fill="none"><rect width="82.6" height="62.36" fill="#9668c6"/><path d="M1.4 1.2h0M83 1.2h0M1.4 62.5h0M6.8 1.2h0M6.8 62.5h0M55.8 1.2h0M55.8 62.5h0M61.2 1.2h0M61.2 62.5h0M51.7 3.5h0M47.6 5.9h0M13.6 8.3h0M40.8 8.3h0M59.8 8.3h0M12.2 10.6h0M15 10.6h0M42.2 10.6h0M38.1 13h0M49 13h0M51.7 13h0M12.2 15.3h0M58.5 15.3h0M21.8 17.7h0M57.1 17.7h0M65.3 17.7h0M6.8 20.1h0M61.2 20.1h0M77.5 20.1h0M5.4 22.4h0M10.9 22.4h0M1.4 24.8h0M83 24.8h0M4.1 24.8h0M6.8 24.8h0M19 27.1h0M27.2 27.1h0M51.7 27.1h0M57.1 27.1h0M59.8 27.1h0M23.1 29.5h0M25.8 29.5h0M53 29.5h0M58.5 29.5h0M61.2 29.5h0M43.5 31.9h0M62.6 31.9h0M9.5 34.2h0M15 34.2h0M17.7 34.2h0M34 34.2h0M50.3 34.2h0M53 34.2h0M55.8 34.2h0M8.2 36.6h0M51.7 36.6h0M12.2 38.9h0M15 38.9h0M61.2 38.9h0M69.4 38.9h0M16.3 41.3h0M35.4 41.3h0M73.4 41.3h0M28.6 43.7h0M36.7 43.7h0M66.6 43.7h0M32.6 46h0M49 46h0M25.8 48.4h0M19 50.7h0M32.6 50.7h0M49 50.7h0M59.8 50.7h0M62.6 50.7h0M39.4 53.1h0M61.2 53.1h0M43.5 55.5h0M70.7 55.5h0M23.1 57.8h0M31.3 57.8h0M44.9 57.8h0M55.8 57.8h0M77.5 57.8h0M5.4 60.2h0M5.4 -1.2h0M24.5 60.2h0M24.5 -1.2h0" stroke="#df7fd3"/><path d="M12.2 1.2h0M12.2 62.5h0M17.7 1.2h0M17.7 62.5h0M72.1 1.2h0M72.1 62.5h0M13.6 3.5h0M16.3 3.5h0M46.2 3.5h0M70.7 3.5h0M73.4 3.5h0M25.8 5.9h0M39.4 5.9h0M44.9 5.9h0M72.1 5.9h0M74.8 5.9h0M77.5 5.9h0M2.7 8.3h0M21.8 8.3h0M24.5 8.3h0M29.9 8.3h0M32.6 8.3h0M35.4 8.3h0M46.2 8.3h0M65.3 8.3h0M81.6 8.3h0M0 8.3h0M1.4 10.6h0M83 10.6h0M23.1 10.6h0M25.8 10.6h0M53 10.6h0M55.8 10.6h0M66.6 10.6h0M21.8 13h0M24.5 13h0M27.2 13h0M29.9 13h0M20.4 15.3h0M23.1 15.3h0M42.2 15.3h0M2.7 17.7h0M51.7 17.7h0M54.4 17.7h0M70.7 17.7h0M78.9 17.7h0M12.2 20.1h0M23.1 20.1h0M47.6 20.1h0M53 20.1h0M80.2 20.1h0M-1.4 20.1h0M2.7 22.4h0M29.9 22.4h0M70.7 22.4h0M9.5 24.8h0M17.7 24.8h0M20.4 24.8h0M23.1 24.8h0M39.4 24.8h0M44.9 24.8h0M53 24.8h0M58.5 24.8h0M2.7 27.1h0M8.2 27.1h0M21.8 27.1h0M24.5 27.1h0M38.1 27.1h0M62.6 27.1h0M68 27.1h0M12.2 29.5h0M28.6 29.5h0M36.7 29.5h0M42.2 29.5h0M29.9 31.9h0M32.6 31.9h0M38.1 31.9h0M51.7 31.9h0M54.4 31.9h0M59.8 31.9h0M65.3 31.9h0M31.3 34.2h0M19 36.6h0M21.8 36.6h0M24.5 36.6h0M43.5 36.6h0M57.1 36.6h0M1.4 38.9h0M83 38.9h0M9.5 38.9h0M17.7 38.9h0M23.1 38.9h0M36.7 38.9h0M42.2 38.9h0M58.5 38.9h0M21.8 41.3h0M43.5 41.3h0M46.2 41.3h0M59.8 41.3h0M62.6 41.3h0M70.7 41.3h0M76.2 41.3h0M9.5 43.7h0M15 43.7h0M23.1 43.7h0M44.9 43.7h0M47.6 43.7h0M61.2 43.7h0M13.6 46h0M27.2 46h0M43.5 46h0M65.3 46h0M17.7 48.4h0M20.4 48.4h0M36.7 48.4h0M39.4 48.4h0M42.2 48.4h0M53 48.4h0M61.2 48.4h0M8.2 50.7h0M16.3 50.7h0M21.8 50.7h0M29.9 50.7h0M35.4 50.7h0M46.2 50.7h0M70.7 50.7h0M78.9 50.7h0M20.4 53.1h0M31.3 53.1h0M42.2 53.1h0M69.4 53.1h0M72.1 53.1h0M8.2 55.5h0M10.9 55.5h0M13.6 55.5h0M32.6 55.5h0M35.4 55.5h0M49 55.5h0M65.3 55.5h0M73.4 55.5h0M76.2 55.5h0M78.9 55.5h0M1.4 57.8h0M83 57.8h0M4.1 57.8h0M9.5 57.8h0M36.7 57.8h0M39.4 57.8h0M42.2 57.8h0M47.6 57.8h0M50.3 57.8h0M53 57.8h0M63.9 57.8h0M74.8 57.8h0M10.9 60.2h0M10.9 -1.2h0M13.6 60.2h0M13.6 -1.2h0M16.3 60.2h0M16.3 -1.2h0M19 60.2h0M19 -1.2h0M32.6 60.2h0M32.6 -1.2h0M35.4 60.2h0M35.4 -1.2h0M62.6 60.2h0M62.6 -1.2h0M73.4 60.2h0M73.4 -1.2h0M76.2 60.2h0M76.2 -1.2h0M78.9 60.2h0M78.9 -1.2h0" stroke="#d63031"/><path d="M4.1 1.2h0M4.1 62.5h0M15 1.2h0M15 62.5h0M28.6 1.2h0M28.6 62.5h0M34 1.2h0M34 62.5h0M36.7 1.2h0M36.7 62.5h0M50.3 1.2h0M50.3 62.5h0M53 1.2h0M53 62.5h0M69.4 1.2h0M69.4 62.5h0M74.8 1.2h0M74.8 62.5h0M77.5 1.2h0M77.5 62.5h0M2.7 3.5h0M10.9 3.5h0M19 3.5h0M24.5 3.5h0M27.2 3.5h0M32.6 3.5h0M54.4 3.5h0M57.1 3.5h0M68 3.5h0M78.9 3.5h0M4.1 5.9h0M9.5 5.9h0M12.2 5.9h0M20.4 5.9h0M23.1 5.9h0M55.8 5.9h0M58.5 5.9h0M66.6 5.9h0M80.2 5.9h0M-1.4 5.9h0M5.4 8.3h0M8.2 8.3h0M27.2 8.3h0M38.1 8.3h0M51.7 8.3h0M54.4 8.3h0M57.1 8.3h0M62.6 8.3h0M76.2 8.3h0M78.9 8.3h0M4.1 10.6h0M6.8 10.6h0M17.7 10.6h0M34 10.6h0M39.4 10.6h0M44.9 10.6h0M50.3 10.6h0M61.2 10.6h0M63.9 10.6h0M80.2 10.6h0M-1.4 10.6h0M8.2 13h0M16.3 13h0M19 13h0M32.6 13h0M35.4 13h0M43.5 13h0M46.2 13h0M57.1 13h0M68 13h0M70.7 13h0M78.9 13h0M81.6 13h0M0 13h0M17.7 15.3h0M28.6 15.3h0M39.4 15.3h0M44.9 15.3h0M50.3 15.3h0M61.2 15.3h0M63.9 15.3h0M69.4 15.3h0M72.1 15.3h0M77.5 15.3h0M80.2 15.3h0M-1.4 15.3h0M8.2 17.7h0M10.9 17.7h0M13.6 17.7h0M16.3 17.7h0M24.5 17.7h0M29.9 17.7h0M35.4 17.7h0M38.1 17.7h0M40.8 17.7h0M59.8 17.7h0M62.6 17.7h0M68 17.7h0M81.6 17.7h0M0 17.7h0M9.5 20.1h0M15 20.1h0M20.4 20.1h0M28.6 20.1h0M55.8 20.1h0M58.5 20.1h0M66.6 20.1h0M69.4 20.1h0M8.2 22.4h0M21.8 22.4h0M24.5 22.4h0M32.6 22.4h0M43.5 22.4h0M49 22.4h0M59.8 22.4h0M73.4 22.4h0M76.2 22.4h0M81.6 22.4h0M0 22.4h0M15 24.8h0M31.3 24.8h0M34 24.8h0M47.6 24.8h0M50.3 24.8h0M69.4 24.8h0M72.1 24.8h0M5.4 27.1h0M16.3 27.1h0M40.8 27.1h0M43.5 27.1h0M46.2 27.1h0M49 27.1h0M54.4 27.1h0M76.2 27.1h0M4.1 29.5h0M6.8 29.5h0M15 29.5h0M34 29.5h0M44.9 29.5h0M66.6 29.5h0M5.4 31.9h0M8.2 31.9h0M10.9 31.9h0M24.5 31.9h0M27.2 31.9h0M57.1 31.9h0M68 31.9h0M81.6 31.9h0M0 31.9h0M1.4 34.2h0M83 34.2h0M6.8 34.2h0M12.2 34.2h0M25.8 34.2h0M28.6 34.2h0M36.7 34.2h0M39.4 34.2h0M42.2 34.2h0M44.9 34.2h0M47.6 34.2h0M58.5 34.2h0M61.2 34.2h0M74.8 34.2h0M10.9 36.6h0M13.6 36.6h0M16.3 36.6h0M27.2 36.6h0M32.6 36.6h0M40.8 36.6h0M46.2 36.6h0M49 36.6h0M54.4 36.6h0M70.7 36.6h0M73.4 36.6h0M76.2 36.6h0M4.1 38.9h0M6.8 38.9h0M25.8 38.9h0M28.6 38.9h0M39.4 38.9h0M50.3 38.9h0M74.8 38.9h0M77.5 38.9h0M80.2 38.9h0M-1.4 38.9h0M2.7 41.3h0M10.9 41.3h0M13.6 41.3h0M29.9 41.3h0M40.8 41.3h0M51.7 41.3h0M65.3 41.3h0M68 41.3h0M78.9 41.3h0M6.8 43.7h0M12.2 43.7h0M31.3 43.7h0M39.4 43.7h0M42.2 43.7h0M50.3 43.7h0M53 43.7h0M58.5 43.7h0M63.9 43.7h0M69.4 43.7h0M80.2 43.7h0M-1.4 43.7h0M16.3 46h0M19 46h0M24.5 46h0M57.1 46h0M62.6 46h0M68 46h0M81.6 46h0M0 46h0M12.2 48.4h0M15 48.4h0M23.1 48.4h0M47.6 48.4h0M50.3 48.4h0M55.8 48.4h0M66.6 48.4h0M69.4 48.4h0M72.1 48.4h0M74.8 48.4h0M2.7 50.7h0M68 50.7h0M76.2 50.7h0M81.6 50.7h0M0 50.7h0M1.4 53.1h0M83 53.1h0M28.6 53.1h0M34 53.1h0M44.9 53.1h0M47.6 53.1h0M58.5 53.1h0M66.6 53.1h0M2.7 55.5h0M5.4 55.5h0M16.3 55.5h0M19 55.5h0M38.1 55.5h0M40.8 55.5h0M54.4 55.5h0M68 55.5h0M6.8 57.8h0M12.2 57.8h0M17.7 57.8h0M25.8 57.8h0M66.6 57.8h0M8.2 60.2h0M8.2 -1.2h0M27.2 60.2h0M27.2 -1.2h0M29.9 60.2h0M29.9 -1.2h0M57.1 60.2h0M57.1 -1.2h0M59.8 60.2h0M59.8 -1.2h0M68 60.2h0M68 -1.2h0M70.7 60.2h0M70.7 -1.2h0" stroke="#46a83c"/></pattern><pattern id="p39" width="48.96" height="33.04" patternUnits="userSpaceOnUse" stroke-width="3" stroke-linecap="round" fill="none"><rect width="49.96" height="34.04" fill="#ee7d28"/><path d="M12.2 1.2h0M12.2 34.2h0M28.6 5.9h0M32.6 8.3h0M4.1 15.3h0M31.3 15.3h0M39.4 15.3h0M44.9 15.3h0M16.3 17.7h0M12.2 20.1h0M15 20.1h0M47.6 20.1h0M-1.4 20.1h0M19 22.4h0M24.5 22.4h0M27.2 22.4h0M32.6 22.4h0M35.4 22.4h0M40.8 22.4h0M46.2 22.4h0M25.8 24.8h0M28.6 24.8h0M31.3 24.8h0M34 24.8h0M10.9 27.1h0M32.6 27.1h0M49 27.1h0M0 27.1h0" stroke="#3f79b6"/></pattern><pattern id="p40" width="48.96" height="33.04" patternUnits="userSpaceOnUse" stroke-width="3" stroke-linecap="round" fill="none"><rect width="49.96" height="34.04" fill="#ee7d28"/><path d="M34 1.2h0M34 34.2h0M36.7 1.2h0M36.7 34.2h0M10.9 3.5h0M35.4 3.5h0M43.5 3.5h0M12.2 5.9h0M15 5.9h0M17.7 5.9h0M25.8 5.9h0M36.7 5.9h0M5.4 8.3h0M13.6 8.3h0M16.3 8.3h0M19 8.3h0M32.6 8.3h0M38.1 8.3h0M4.1 10.6h0M9.5 10.6h0M17.7 10.6h0M23.1 10.6h0M31.3 10.6h0M34 10.6h0M39.4 10.6h0M44.9 10.6h0M2.7 13h0M8.2 13h0M10.9 13h0M16.3 13h0M27.2 13h0M32.6 13h0M35.4 13h0M40.8 13h0M46.2 13h0M49 13h0M0 13h0M6.8 15.3h0M9.5 15.3h0M28.6 15.3h0M31.3 15.3h0M36.7 15.3h0M39.4 15.3h0M42.2 15.3h0M44.9 15.3h0M5.4 17.7h0M8.2 17.7h0M10.9 17.7h0M13.6 17.7h0M32.6 17.7h0M35.4 17.7h0M40.8 17.7h0M43.5 17.7h0M9.5 20.1h0M12.2 20.1h0M25.8 20.1h0M36.7 20.1h0M5.4 22.4h0M8.2 22.4h0M13.6 22.4h0M16.3 22.4h0M21.8 22.4h0M40.8 22.4h0M20.4 24.8h0M23.1 24.8h0M39.4 24.8h0M42.2 24.8h0M21.8 27.1h0M27.2 27.1h0M43.5 27.1h0M46.2 27.1h0M17.7 29.5h0M25.8 29.5h0M28.6 29.5h0M44.9 29.5h0M5.4 31.9h0M5.4 -1.2h0M13.6 31.9h0M13.6 -1.2h0M16.3 31.9h0M16.3 -1.2h0M46.2 31.9h0M46.2 -1.2h0" stroke="#3f79b6"/></pattern><pattern id="p41" width="48.96" height="33.04" patternUnits="userSpaceOnUse" stroke-width="3" stroke-linecap="round" fill="none"><rect width="49.96" height="34.04" fill="#3f79b6"/><path d="M1.4 1.2h0M50.3 1.2h0M1.4 34.2h0M9.5 1.2h0M9.5 34.2h0M23.1 1.2h0M23.1 34.2h0M31.3 1.2h0M31.3 34.2h0M34 1.2h0M34 34.2h0M36.7 1.2h0M36.7 34.2h0M47.6 1.2h0M-1.4 1.2h0M47.6 34.2h0M10.9 3.5h0M13.6 3.5h0M16.3 3.5h0M19 3.5h0M32.6 3.5h0M46.2 3.5h0M1.4 5.9h0M50.3 5.9h0M4.1 5.9h0M6.8 5.9h0M12.2 5.9h0M28.6 5.9h0M44.9 5.9h0M2.7 8.3h0M8.2 8.3h0M13.6 8.3h0M29.9 8.3h0M32.6 8.3h0M35.4 8.3h0M4.1 10.6h0M6.8 10.6h0M9.5 10.6h0M12.2 10.6h0M36.7 10.6h0M21.8 13h0M35.4 13h0M46.2 13h0M17.7 15.3h0M20.4 15.3h0M39.4 15.3h0M42.2 15.3h0M2.7 17.7h0M5.4 17.7h0M24.5 17.7h0M35.4 17.7h0M38.1 17.7h0M40.8 17.7h0M46.2 17.7h0M4.1 20.1h0M9.5 20.1h0M17.7 20.1h0M44.9 20.1h0M47.6 20.1h0M-1.4 20.1h0M13.6 22.4h0M49 22.4h0M0 22.4h0M4.1 24.8h0M23.1 24.8h0M31.3 24.8h0M34 24.8h0M47.6 24.8h0M-1.4 24.8h0M2.7 27.1h0M10.9 27.1h0M13.6 27.1h0M24.5 27.1h0M35.4 27.1h0M38.1 27.1h0M49 27.1h0M0 27.1h0M4.1 29.5h0M12.2 29.5h0M15 29.5h0M25.8 29.5h0M36.7 29.5h0M39.4 29.5h0M5.4 31.9h0M5.4 -1.2h0M19 31.9h0M19 -1.2h0M21.8 31.9h0M21.8 -1.2h0M24.5 31.9h0M24.5 -1.2h0M38.1 31.9h0M38.1 -1.2h0M40.8 31.9h0M40.8 -1.2h0M46.2 31.9h0M46.2 -1.2h0" stroke="#ee7d28"/></pattern><pattern id="p42" width="48.96" height="33.04" patternUnits="userSpaceOnUse" stroke-width="3" stroke-linecap="round" fill="none"><rect width="49.96" height="34.04" fill="#a2a2a3"/><path d="M6.8 5.9h0M34 10.6h0M43.5 13h0M23.1 15.3h0M29.9 17.7h0M16.3 22.4h0M36.7 24.8h0M39.4 24.8h0" stroke="#df7fd3"/><path d="M1.4 1.2h0M50.3 1.2h0M1.4 34.2h0M25.8 1.2h0M25.8 34.2h0M44.9 1.2h0M44.9 34.2h0M47.6 1.2h0M-1.4 1.2h0M47.6 34.2h0M16.3 3.5h0M19 3.5h0M21.8 3.5h0M46.2 3.5h0M49 3.5h0M0 3.5h0M23.1 5.9h0M16.3 8.3h0M19 8.3h0M38.1 8.3h0M17.7 10.6h0M13.6 13h0M1.4 15.3h0M50.3 15.3h0M28.6 20.1h0M29.9 22.4h0M32.6 22.4h0M42.2 24.8h0M13.6 27.1h0M16.3 27.1h0M43.5 27.1h0M46.2 27.1h0M40.8 31.9h0M40.8 -1.2h0" stroke="#9668c6"/></pattern><pattern id="p43" width="48.96" height="33.04" patternUnits="userSpaceOnUse" stroke-width="3" stroke-linecap="round" fill="none"><rect width="49.96" height="34.04" fill="#9668c6"/><path d="M9.5 1.2h0M9.5 34.2h0M34 1.2h0M34 34.2h0M5.4 8.3h0M24.5 8.3h0M27.2 8.3h0M36.7 10.6h0M39.4 10.6h0M43.5 13h0M43.5 17.7h0M5.4 22.4h0M8.2 22.4h0M6.8 24.8h0M46.2 31.9h0M46.2 -1.2h0" stroke="#d63031"/><path d="M12.2 5.9h0M36.7 5.9h0M39.4 5.9h0M46.2 8.3h0M1.4 10.6h0M50.3 10.6h0M44.9 10.6h0M2.7 13h0M5.4 13h0M8.2 13h0M27.2 13h0M29.9 13h0M32.6 13h0M15 15.3h0M13.6 17.7h0M29.9 17.7h0M24.5 22.4h0M12.2 24.8h0M36.7 24.8h0M10.9 27.1h0M32.6 27.1h0M4.1 29.5h0M9.5 29.5h0M28.6 29.5h0M27.2 31.9h0M27.2 -1.2h0M29.9 31.9h0M29.9 -1.2h0" stroke="#df7fd3"/><path d="M1.4 1.2h0M50.3 1.2h0M1.4 34.2h0M4.1 1.2h0M4.1 34.2h0M23.1 1.2h0M23.1 34.2h0M39.4 1.2h0M39.4 34.2h0M8.2 3.5h0M4.1 5.9h0M34 5.9h0M40.8 8.3h0M15 10.6h0M17.7 15.3h0M34 15.3h0M21.8 17.7h0M24.5 17.7h0M27.2 17.7h0M32.6 17.7h0M1.4 20.1h0M50.3 20.1h0M9.5 20.1h0M28.6 20.1h0M38.1 22.4h0M21.8 27.1h0M35.4 27.1h0M17.7 29.5h0M25.8 29.5h0M35.4 31.9h0M35.4 -1.2h0M38.1 31.9h0M38.1 -1.2h0" stroke="#a2a2a3"/></pattern><pattern id="p44" width="48.96" height="33.04" patternUnits="userSpaceOnUse" stroke-width="3" stroke-linecap="round" fill="none"><rect width="49.96" height="34.04" fill="#ee7d28"/><path d="M47.6 5.9h0M-1.4 5.9h0M2.7 8.3h0M39.4 15.3h0" stroke="#d63031"/></pattern><pattern id="p45" width="48.96" height="33.04" patternUnits="userSpaceOnUse" stroke-width="3" stroke-linecap="round" fill="none"><rect width="49.96" height="34.04" fill="#d63031"/><path d="M46.2 3.5h0M17.7 5.9h0M31.3 5.9h0M44.9 5.9h0M47.6 5.9h0M-1.4 5.9h0M24.5 8.3h0M29.9 8.3h0M32.6 8.3h0M44.9 20.1h0M27.2 22.4h0M23.1 24.8h0M31.3 24.8h0M9.5 29.5h0" stroke="#df7fd3"/><path d="M1.4 1.2h0M50.3 1.2h0M1.4 34.2h0M6.8 1.2h0M6.8 34.2h0M20.4 1.2h0M20.4 34.2h0M23.1 1.2h0M23.1 34.2h0M28.6 1.2h0M28.6 34.2h0M47.6 1.2h0M-1.4 1.2h0M47.6 34.2h0M2.7 3.5h0M10.9 3.5h0M24.5 3.5h0M27.2 3.5h0M29.9 3.5h0M49 3.5h0M0 3.5h0M4.1 5.9h0M6.8 5.9h0M12.2 5.9h0M25.8 5.9h0M28.6 5.9h0M42.2 5.9h0M2.7 8.3h0M5.4 8.3h0M16.3 8.3h0M35.4 8.3h0M43.5 8.3h0M1.4 10.6h0M50.3 10.6h0M4.1 10.6h0M9.5 10.6h0M12.2 10.6h0M15 10.6h0M17.7 10.6h0M23.1 10.6h0M31.3 10.6h0M34 10.6h0M36.7 10.6h0M39.4 10.6h0M42.2 10.6h0M19 13h0M21.8 13h0M29.9 13h0M38.1 13h0M40.8 13h0M12.2 15.3h0M20.4 15.3h0M28.6 15.3h0M36.7 15.3h0M39.4 15.3h0M42.2 15.3h0M44.9 15.3h0M5.4 17.7h0M8.2 17.7h0M13.6 17.7h0M19 17.7h0M21.8 17.7h0M24.5 17.7h0M27.2 17.7h0M35.4 17.7h0M40.8 17.7h0M43.5 17.7h0M12.2 20.1h0M15 20.1h0M28.6 20.1h0M34 20.1h0M39.4 20.1h0M42.2 20.1h0M16.3 22.4h0M24.5 22.4h0M35.4 22.4h0M38.1 22.4h0M43.5 22.4h0M46.2 22.4h0M15 24.8h0M17.7 24.8h0M25.8 24.8h0M34 24.8h0M36.7 24.8h0M42.2 24.8h0M47.6 24.8h0M-1.4 24.8h0M10.9 27.1h0M16.3 27.1h0M21.8 27.1h0M24.5 27.1h0M27.2 27.1h0M29.9 27.1h0M43.5 27.1h0M46.2 27.1h0M49 27.1h0M0 27.1h0M4.1 29.5h0M15 29.5h0M23.1 29.5h0M25.8 29.5h0M31.3 29.5h0M34 29.5h0M47.6 29.5h0M-1.4 29.5h0M5.4 31.9h0M5.4 -1.2h0M10.9 31.9h0M10.9 -1.2h0M21.8 31.9h0M21.8 -1.2h0M24.5 31.9h0M24.5 -1.2h0M27.2 31.9h0M27.2 -1.2h0M35.4 31.9h0M35.4 -1.2h0M43.5 31.9h0M43.5 -1.2h0M46.2 31.9h0M46.2 -1.2h0M49 31.9h0M0 31.9h0M49 -1.2h0" stroke="#46a83c"/></pattern><pattern id="p46" width="48.96" height="33.04" patternUnits="userSpaceOnUse" stroke-width="3" stroke-linecap="round" fill="none"><rect width="49.96" height="34.04" fill="#46a83c"/><path d="M36.7 1.2h0M36.7 34.2h0M44.9 1.2h0M44.9 34.2h0M47.6 1.2h0M-1.4 1.2h0M47.6 34.2h0M2.7 3.5h0M40.8 3.5h0M20.4 5.9h0M31.3 5.9h0M16.3 8.3h0M19 8.3h0M21.8 8.3h0M15 10.6h0M47.6 10.6h0M-1.4 10.6h0M19 13h0M20.4 15.3h0M25.8 15.3h0M36.7 15.3h0M39.4 15.3h0M25.8 20.1h0M2.7 22.4h0M9.5 24.8h0M28.6 24.8h0M32.6 27.1h0M35.4 27.1h0M4.1 29.5h0M36.7 29.5h0" stroke="#d63031"/></pattern><pattern id="p47" width="48.96" height="33.04" patternUnits="userSpaceOnUse" stroke-width="3" stroke-linecap="round" fill="none"><rect width="49.96" height="34.04" fill="#d63031"/><path d="M25.8 5.9h0M29.9 8.3h0M31.3 10.6h0M34 10.6h0M44.9 10.6h0M10.9 13h0M47.6 15.3h0M-1.4 15.3h0M17.7 20.1h0M35.4 22.4h0M43.5 22.4h0M1.4 24.8h0M50.3 24.8h0M25.8 24.8h0M35.4 27.1h0" stroke="#46a83c"/></pattern><pattern id="p48" width="48.96" height="33.04" patternUnits="userSpaceOnUse" stroke-width="3" stroke-linecap="round" fill="none"><rect width="49.96" height="34.04" fill="#ee7d28"/><path d="M40.8 3.5h0M6.8 5.9h0M2.7 8.3h0M8.2 8.3h0M10.9 8.3h0M9.5 10.6h0M8.2 13h0M10.9 13h0M29.9 13h0M32.6 13h0M6.8 15.3h0M9.5 15.3h0M19 17.7h0M21.8 17.7h0M35.4 17.7h0M20.4 20.1h0M25.8 20.1h0M2.7 22.4h0M32.6 22.4h0M35.4 22.4h0M2.7 27.1h0M38.1 27.1h0M1.4 29.5h0M50.3 29.5h0M47.6 29.5h0M-1.4 29.5h0M13.6 31.9h0M13.6 -1.2h0" stroke="#df7fd3"/><path d="M1.4 1.2h0M50.3 1.2h0M1.4 34.2h0M4.1 1.2h0M4.1 34.2h0M6.8 1.2h0M6.8 34.2h0M9.5 1.2h0M9.5 34.2h0M20.4 1.2h0M20.4 34.2h0M25.8 1.2h0M25.8 34.2h0M10.9 3.5h0M13.6 3.5h0M16.3 3.5h0M21.8 3.5h0M27.2 3.5h0M49 3.5h0M0 3.5h0M4.1 5.9h0M28.6 5.9h0M34 5.9h0M42.2 5.9h0M21.8 8.3h0M29.9 8.3h0M32.6 8.3h0M35.4 8.3h0M40.8 8.3h0M43.5 8.3h0M46.2 8.3h0M12.2 10.6h0M23.1 10.6h0M31.3 10.6h0M36.7 10.6h0M44.9 10.6h0M13.6 13h0M16.3 13h0M27.2 13h0M35.4 13h0M38.1 13h0M43.5 13h0M49 13h0M0 13h0M12.2 15.3h0M15 15.3h0M17.7 15.3h0M23.1 15.3h0M31.3 15.3h0M36.7 15.3h0M47.6 15.3h0M-1.4 15.3h0M2.7 17.7h0M24.5 17.7h0M27.2 17.7h0M12.2 20.1h0M15 20.1h0M31.3 20.1h0M34 20.1h0M36.7 20.1h0M39.4 20.1h0M42.2 20.1h0M5.4 22.4h0M8.2 22.4h0M10.9 22.4h0M13.6 22.4h0M16.3 22.4h0M19 22.4h0M40.8 22.4h0M43.5 22.4h0M46.2 22.4h0M49 22.4h0M0 22.4h0M9.5 24.8h0M12.2 24.8h0M15 24.8h0M17.7 24.8h0M31.3 24.8h0M39.4 24.8h0M42.2 24.8h0M47.6 24.8h0M-1.4 24.8h0M24.5 27.1h0M40.8 27.1h0M43.5 27.1h0M49 27.1h0M0 27.1h0M4.1 29.5h0M9.5 29.5h0M20.4 29.5h0M28.6 29.5h0M36.7 29.5h0M42.2 29.5h0M2.7 31.9h0M2.7 -1.2h0M5.4 31.9h0M5.4 -1.2h0M21.8 31.9h0M21.8 -1.2h0M24.5 31.9h0M24.5 -1.2h0M32.6 31.9h0M32.6 -1.2h0M38.1 31.9h0M38.1 -1.2h0M40.8 31.9h0M40.8 -1.2h0M43.5 31.9h0M43.5 -1.2h0" stroke="#9668c6"/></pattern><pattern id="p49" width="48.96" height="33.04" patternUnits="userSpaceOnUse" stroke-width="3" stroke-linecap="round" fill="none"><rect width="49.96" height="34.04" fill="#9668c6"/><path d="M2.7 3.5h0M49 3.5h0M0 3.5h0M2.7 8.3h0" stroke="#d6d6d8"/><path d="M40.8 3.5h0M1.4 5.9h0M50.3 5.9h0M39.4 5.9h0M5.4 8.3h0M23.1 10.6h0M24.5 13h0M32.6 13h0M6.8 24.8h0M9.5 24.8h0M6.8 29.5h0M2.7 31.9h0M2.7 -1.2h0M5.4 31.9h0M5.4 -1.2h0M43.5 31.9h0M43.5 -1.2h0" stroke="#df7fd3"/></pattern><pattern id="p50" width="48.96" height="33.04" patternUnits="userSpaceOnUse" stroke-width="3" stroke-linecap="round" fill="none"><rect width="49.96" height="34.04" fill="#cbcbc9"/><path d="M12.2 1.2h0M12.2 34.2h0M1.4 5.9h0M50.3 5.9h0M4.1 5.9h0M19 8.3h0M21.8 8.3h0M43.5 8.3h0M4.1 10.6h0M12.2 10.6h0M44.9 10.6h0M49 13h0M0 13h0M20.4 20.1h0M12.2 24.8h0M13.6 27.1h0" stroke="#df7fd3"/><path d="M1.4 1.2h0M50.3 1.2h0M1.4 34.2h0M4.1 1.2h0M4.1 34.2h0M6.8 1.2h0M6.8 34.2h0M9.5 1.2h0M9.5 34.2h0M15 1.2h0M15 34.2h0M17.7 1.2h0M17.7 34.2h0M31.3 1.2h0M31.3 34.2h0M39.4 1.2h0M39.4 34.2h0M42.2 1.2h0M42.2 34.2h0M47.6 1.2h0M-1.4 1.2h0M47.6 34.2h0M8.2 3.5h0M10.9 3.5h0M19 3.5h0M24.5 3.5h0M43.5 3.5h0M46.2 3.5h0M15 5.9h0M23.1 5.9h0M25.8 5.9h0M31.3 5.9h0M36.7 5.9h0M2.7 8.3h0M10.9 8.3h0M24.5 8.3h0M38.1 8.3h0M17.7 10.6h0M25.8 10.6h0M47.6 10.6h0M-1.4 10.6h0M2.7 13h0M5.4 13h0M16.3 13h0M38.1 13h0M20.4 15.3h0M36.7 15.3h0M47.6 15.3h0M-1.4 15.3h0M10.9 17.7h0M38.1 17.7h0M9.5 20.1h0M12.2 20.1h0M15 20.1h0M23.1 20.1h0M25.8 20.1h0M31.3 20.1h0M34 20.1h0M42.2 20.1h0M10.9 22.4h0M19 22.4h0M27.2 22.4h0M29.9 22.4h0M32.6 22.4h0M40.8 22.4h0M43.5 22.4h0M15 24.8h0M34 24.8h0M36.7 24.8h0M39.4 24.8h0M42.2 24.8h0M24.5 27.1h0M27.2 27.1h0M35.4 27.1h0M43.5 27.1h0M20.4 29.5h0M25.8 29.5h0M34 29.5h0M39.4 29.5h0M44.9 29.5h0M47.6 29.5h0M-1.4 29.5h0M2.7 31.9h0M2.7 -1.2h0M8.2 31.9h0M8.2 -1.2h0M10.9 31.9h0M10.9 -1.2h0M16.3 31.9h0M16.3 -1.2h0M32.6 31.9h0M32.6 -1.2h0M38.1 31.9h0M38.1 -1.2h0M40.8 31.9h0M40.8 -1.2h0M43.5 31.9h0M43.5 -1.2h0M46.2 31.9h0M46.2 -1.2h0" stroke="#9668c6"/></pattern><pattern id="p51" width="48.96" height="33.04" patternUnits="userSpaceOnUse" stroke-width="3" stroke-linecap="round" fill="none"><rect width="49.96" height="34.04" fill="#46a83c"/><path d="M44.9 1.2h0M44.9 34.2h0M21.8 8.3h0M42.2 10.6h0M29.9 22.4h0M1.4 24.8h0M50.3 24.8h0M43.5 27.1h0M36.7 29.5h0M43.5 31.9h0M43.5 -1.2h0" stroke="#df7fd3"/><path d="M23.1 1.2h0M23.1 34.2h0M16.3 13h0M13.6 17.7h0M16.3 17.7h0M1.4 20.1h0M50.3 20.1h0M12.2 20.1h0M43.5 22.4h0M34 29.5h0" stroke="#ee7d28"/><path d="M20.4 1.2h0M20.4 34.2h0M25.8 1.2h0M25.8 34.2h0M39.4 1.2h0M39.4 34.2h0M42.2 1.2h0M42.2 34.2h0M16.3 8.3h0M29.9 8.3h0M4.1 10.6h0M20.4 10.6h0M34 10.6h0M36.7 10.6h0M24.5 13h0M38.1 13h0M34 15.3h0M8.2 17.7h0M10.9 17.7h0M4.1 20.1h0M5.4 22.4h0M35.4 22.4h0M38.1 22.4h0M40.8 22.4h0M4.1 24.8h0M34 24.8h0M2.7 27.1h0M16.3 27.1h0M4.1 29.5h0" stroke="#d63031"/><path d="M31.3 1.2h0M31.3 34.2h0M34 1.2h0M34 34.2h0M21.8 3.5h0M34 5.9h0M27.2 8.3h0M46.2 8.3h0M6.8 10.6h0M19 13h0M28.6 15.3h0M42.2 15.3h0M21.8 17.7h0M15 20.1h0M2.7 22.4h0M19 22.4h0M32.6 22.4h0M9.5 24.8h0M17.7 24.8h0M31.3 24.8h0M42.2 24.8h0M9.5 29.5h0M15 29.5h0M31.3 29.5h0M10.9 31.9h0M10.9 -1.2h0M13.6 31.9h0M13.6 -1.2h0M16.3 31.9h0M16.3 -1.2h0" stroke="#9668c6"/></pattern><pattern id="p52" width="48.96" height="33.04" patternUnits="userSpaceOnUse" stroke-width="3" stroke-linecap="round" fill="none"><rect width="49.96" height="34.04" fill="#d63031"/><path d="M20.4 1.2h0M20.4 34.2h0M24.5 3.5h0M1.4 5.9h0M50.3 5.9h0M15 5.9h0M36.7 5.9h0M5.4 8.3h0M17.7 10.6h0M12.2 20.1h0M23.1 20.1h0M25.8 20.1h0M29.9 22.4h0M25.8 24.8h0M29.9 27.1h0" stroke="#df7fd3"/><path d="M12.2 1.2h0M12.2 34.2h0M25.8 1.2h0M25.8 34.2h0M34 1.2h0M34 34.2h0M36.7 1.2h0M36.7 34.2h0M44.9 1.2h0M44.9 34.2h0M47.6 1.2h0M-1.4 1.2h0M47.6 34.2h0M5.4 3.5h0M8.2 3.5h0M16.3 3.5h0M19 3.5h0M38.1 3.5h0M46.2 3.5h0M49 3.5h0M0 3.5h0M4.1 5.9h0M9.5 5.9h0M20.4 5.9h0M28.6 5.9h0M16.3 8.3h0M19 8.3h0M29.9 8.3h0M15 10.6h0M20.4 10.6h0M31.3 10.6h0M34 10.6h0M47.6 10.6h0M-1.4 10.6h0M21.8 13h0M49 13h0M0 13h0M20.4 15.3h0M23.1 15.3h0M27.2 17.7h0M29.9 17.7h0M32.6 17.7h0M15 20.1h0M31.3 20.1h0M34 20.1h0M36.7 20.1h0M44.9 20.1h0M47.6 20.1h0M-1.4 20.1h0M10.9 22.4h0M40.8 22.4h0M49 22.4h0M0 22.4h0M1.4 24.8h0M50.3 24.8h0M4.1 24.8h0M6.8 24.8h0M9.5 24.8h0M12.2 24.8h0M39.4 24.8h0M47.6 24.8h0M-1.4 24.8h0M5.4 27.1h0M8.2 27.1h0M13.6 27.1h0M16.3 27.1h0M21.8 27.1h0M27.2 27.1h0M43.5 27.1h0M46.2 27.1h0M49 27.1h0M0 27.1h0M1.4 29.5h0M50.3 29.5h0M6.8 29.5h0M9.5 29.5h0M12.2 29.5h0M15 29.5h0M25.8 29.5h0M28.6 29.5h0M31.3 29.5h0M42.2 29.5h0M44.9 29.5h0M47.6 29.5h0M-1.4 29.5h0M5.4 31.9h0M5.4 -1.2h0M8.2 31.9h0M8.2 -1.2h0M10.9 31.9h0M10.9 -1.2h0M13.6 31.9h0M13.6 -1.2h0M21.8 31.9h0M21.8 -1.2h0M29.9 31.9h0M29.9 -1.2h0M46.2 31.9h0M46.2 -1.2h0M49 31.9h0M0 31.9h0M49 -1.2h0" stroke="#46a83c"/></pattern><pattern id="p53" width="48.96" height="33.04" patternUnits="userSpaceOnUse" stroke-width="3" stroke-linecap="round" fill="none"><rect width="49.96" height="34.04" fill="#9668c6"/><path d="M4.1 1.2h0M4.1 34.2h0M6.8 1.2h0M6.8 34.2h0M9.5 1.2h0M9.5 34.2h0M17.7 1.2h0M17.7 34.2h0M23.1 1.2h0M23.1 34.2h0M34 1.2h0M34 34.2h0M36.7 1.2h0M36.7 34.2h0M47.6 1.2h0M-1.4 1.2h0M47.6 34.2h0M8.2 3.5h0M10.9 3.5h0M16.3 3.5h0M19 3.5h0M4.1 5.9h0M9.5 5.9h0M2.7 8.3h0M5.4 8.3h0M13.6 8.3h0M21.8 8.3h0M43.5 8.3h0M1.4 10.6h0M50.3 10.6h0M4.1 10.6h0M34 10.6h0M44.9 10.6h0M2.7 13h0M10.9 13h0M13.6 13h0M24.5 13h0M43.5 13h0M4.1 15.3h0M9.5 15.3h0M23.1 15.3h0M25.8 15.3h0M28.6 15.3h0M47.6 15.3h0M-1.4 15.3h0M2.7 17.7h0M5.4 17.7h0M8.2 17.7h0M13.6 17.7h0M16.3 17.7h0M24.5 17.7h0M27.2 17.7h0M40.8 17.7h0M46.2 17.7h0M9.5 20.1h0M15 20.1h0M28.6 20.1h0M36.7 20.1h0M10.9 22.4h0M13.6 22.4h0M19 22.4h0M24.5 22.4h0M4.1 24.8h0M5.4 27.1h0M8.2 27.1h0M35.4 27.1h0M43.5 27.1h0M4.1 29.5h0M6.8 29.5h0M5.4 31.9h0M5.4 -1.2h0M19 31.9h0M19 -1.2h0M21.8 31.9h0M21.8 -1.2h0M32.6 31.9h0M32.6 -1.2h0M35.4 31.9h0M35.4 -1.2h0" stroke="#df7fd3"/></pattern><pattern id="p54" width="48.96" height="33.04" patternUnits="userSpaceOnUse" stroke-width="3" stroke-linecap="round" fill="none"><rect width="49.96" height="34.04" fill="#9668c6"/><path d="M6.8 5.9h0M35.4 8.3h0M43.5 31.9h0M43.5 -1.2h0" stroke="#46a83c"/><path d="M15 1.2h0M15 34.2h0M24.5 3.5h0M29.9 8.3h0M42.2 10.6h0M16.3 13h0M4.1 15.3h0M42.2 15.3h0M8.2 17.7h0M23.1 20.1h0M42.2 20.1h0M19 22.4h0M27.2 27.1h0M13.6 31.9h0M13.6 -1.2h0" stroke="#df7fd3"/><path d="M17.7 1.2h0M17.7 34.2h0M8.2 3.5h0M10.9 3.5h0M13.6 3.5h0M16.3 3.5h0M43.5 3.5h0M9.5 5.9h0M15 5.9h0M17.7 5.9h0M16.3 8.3h0M32.6 8.3h0M15 10.6h0M5.4 13h0M27.2 13h0M40.8 13h0M49 13h0M0 13h0M1.4 15.3h0M50.3 15.3h0M15 15.3h0M25.8 15.3h0M29.9 17.7h0M31.3 20.1h0M47.6 20.1h0M-1.4 20.1h0M2.7 22.4h0M10.9 27.1h0M17.7 29.5h0" stroke="#d63031"/></pattern><pattern id="p55" width="48.96" height="33.04" patternUnits="userSpaceOnUse" stroke-width="3" stroke-linecap="round" fill="none"><rect width="49.96" height="34.04" fill="#46a83c"/><path d="M1.4 1.2h0M50.3 1.2h0M1.4 34.2h0M31.3 1.2h0M31.3 34.2h0M47.6 1.2h0M-1.4 1.2h0M47.6 34.2h0M35.4 3.5h0M40.8 13h0M44.9 15.3h0M36.7 20.1h0M21.8 27.1h0" stroke="#df7fd3"/><path d="M5.4 3.5h0M6.8 5.9h0M10.9 8.3h0M21.8 8.3h0M46.2 13h0M15 15.3h0M19 17.7h0M42.2 29.5h0" stroke="#9668c6"/><path d="M23.1 1.2h0M23.1 34.2h0M36.7 1.2h0M36.7 34.2h0M21.8 3.5h0M32.6 3.5h0M4.1 5.9h0M34 5.9h0M47.6 5.9h0M-1.4 5.9h0M13.6 8.3h0M16.3 8.3h0M15 10.6h0M17.7 10.6h0M19 13h0M12.2 15.3h0M16.3 17.7h0M46.2 17.7h0M23.1 20.1h0M39.4 20.1h0M10.9 22.4h0M24.5 22.4h0M20.4 24.8h0M23.1 24.8h0M25.8 24.8h0M13.6 27.1h0M5.4 31.9h0M5.4 -1.2h0M10.9 31.9h0M10.9 -1.2h0" stroke="#d63031"/></pattern><pattern id="p56" width="48.96" height="33.04" patternUnits="userSpaceOnUse" stroke-width="3" stroke-linecap="round" fill="none"><rect width="49.96" height="34.04" fill="#46a83c"/><path d="M1.4 1.2h0M50.3 1.2h0M1.4 34.2h0M34 1.2h0M34 34.2h0M36.7 1.2h0M36.7 34.2h0M5.4 3.5h0M10.9 3.5h0M40.8 3.5h0M43.5 3.5h0M13.6 8.3h0M46.2 8.3h0M6.8 10.6h0M47.6 10.6h0M-1.4 10.6h0M35.4 13h0M38.1 13h0M31.3 15.3h0M16.3 17.7h0M21.8 17.7h0M4.1 20.1h0M17.7 20.1h0M21.8 22.4h0M35.4 22.4h0M40.8 22.4h0M39.4 24.8h0M6.8 29.5h0M8.2 31.9h0M8.2 -1.2h0M32.6 31.9h0M32.6 -1.2h0" stroke="#503060"/><path d="M4.1 1.2h0M4.1 34.2h0M6.8 1.2h0M6.8 34.2h0M9.5 1.2h0M9.5 34.2h0M15 1.2h0M15 34.2h0M8.2 3.5h0M29.9 3.5h0M32.6 3.5h0M38.1 3.5h0M15 5.9h0M28.6 5.9h0M31.3 5.9h0M34 5.9h0M36.7 5.9h0M39.4 5.9h0M10.9 8.3h0M16.3 8.3h0M21.8 8.3h0M24.5 8.3h0M27.2 8.3h0M32.6 8.3h0M35.4 8.3h0M43.5 8.3h0M1.4 10.6h0M50.3 10.6h0M15 10.6h0M31.3 10.6h0M34 10.6h0M36.7 10.6h0M2.7 13h0M5.4 13h0M8.2 13h0M13.6 13h0M19 13h0M21.8 13h0M32.6 13h0M40.8 13h0M43.5 13h0M4.1 15.3h0M6.8 15.3h0M12.2 15.3h0M15 15.3h0M39.4 15.3h0M5.4 17.7h0M8.2 17.7h0M19 17.7h0M24.5 17.7h0M32.6 17.7h0M35.4 17.7h0M20.4 20.1h0M31.3 20.1h0M34 20.1h0M36.7 20.1h0M44.9 20.1h0M16.3 22.4h0M19 22.4h0M27.2 22.4h0M38.1 22.4h0M49 22.4h0M0 22.4h0M1.4 24.8h0M50.3 24.8h0M4.1 24.8h0M6.8 24.8h0M17.7 24.8h0M20.4 24.8h0M25.8 24.8h0M28.6 24.8h0M34 24.8h0M36.7 24.8h0M44.9 24.8h0M47.6 24.8h0M-1.4 24.8h0M2.7 27.1h0M5.4 27.1h0M8.2 27.1h0M10.9 27.1h0M16.3 27.1h0M21.8 27.1h0M24.5 27.1h0M38.1 27.1h0M40.8 27.1h0M43.5 27.1h0M46.2 27.1h0M9.5 29.5h0M23.1 29.5h0M25.8 29.5h0M28.6 29.5h0M5.4 31.9h0M5.4 -1.2h0M21.8 31.9h0M21.8 -1.2h0M27.2 31.9h0M27.2 -1.2h0M35.4 31.9h0M35.4 -1.2h0M38.1 31.9h0M38.1 -1.2h0" stroke="#d63031"/></pattern><pattern id="p57" width="48.96" height="33.04" patternUnits="userSpaceOnUse" stroke-width="3" stroke-linecap="round" fill="none"><rect width="49.96" height="34.04" fill="#d63031"/><path d="M39.4 1.2h0M39.4 34.2h0M2.7 3.5h0M5.4 3.5h0M10.9 3.5h0M46.2 3.5h0M28.6 5.9h0M2.7 8.3h0M16.3 8.3h0M35.4 8.3h0M49 8.3h0M0 8.3h0M5.4 13h0M10.9 13h0M13.6 13h0M32.6 13h0M28.6 15.3h0M44.9 15.3h0M8.2 17.7h0M29.9 17.7h0M38.1 17.7h0M49 17.7h0M0 17.7h0M4.1 20.1h0M6.8 20.1h0M23.1 20.1h0M27.2 22.4h0M24.5 27.1h0M29.9 27.1h0M4.1 29.5h0M6.8 29.5h0M28.6 29.5h0M36.7 29.5h0M39.4 29.5h0M42.2 29.5h0M44.9 29.5h0M47.6 29.5h0M-1.4 29.5h0M32.6 31.9h0M32.6 -1.2h0M38.1 31.9h0M38.1 -1.2h0M40.8 31.9h0M40.8 -1.2h0M46.2 31.9h0M46.2 -1.2h0" stroke="#46a83c"/></pattern><pattern id="p58" width="48.96" height="33.04" patternUnits="userSpaceOnUse" stroke-width="3" stroke-linecap="round" fill="none"><rect width="49.96" height="34.04" fill="#46a83c"/><path d="M4.1 1.2h0M4.1 34.2h0M28.6 1.2h0M28.6 34.2h0M29.9 3.5h0M15 5.9h0M16.3 8.3h0M19 8.3h0M43.5 8.3h0M20.4 15.3h0M19 17.7h0M5.4 22.4h0M8.2 22.4h0M19 27.1h0M21.8 27.1h0" stroke="#df7fd3"/><path d="M12.2 1.2h0M12.2 34.2h0M17.7 1.2h0M17.7 34.2h0M23.1 1.2h0M23.1 34.2h0M25.8 1.2h0M25.8 34.2h0M31.3 1.2h0M31.3 34.2h0M36.7 1.2h0M36.7 34.2h0M39.4 1.2h0M39.4 34.2h0M2.7 3.5h0M5.4 3.5h0M35.4 3.5h0M40.8 3.5h0M46.2 3.5h0M49 3.5h0M0 3.5h0M1.4 5.9h0M50.3 5.9h0M9.5 5.9h0M12.2 5.9h0M17.7 5.9h0M20.4 5.9h0M28.6 5.9h0M31.3 5.9h0M34 5.9h0M42.2 5.9h0M44.9 5.9h0M47.6 5.9h0M-1.4 5.9h0M2.7 8.3h0M5.4 8.3h0M8.2 8.3h0M10.9 8.3h0M21.8 8.3h0M24.5 8.3h0M27.2 8.3h0M29.9 8.3h0M32.6 8.3h0M6.8 10.6h0M15 10.6h0M17.7 10.6h0M20.4 10.6h0M31.3 10.6h0M39.4 10.6h0M42.2 10.6h0M44.9 10.6h0M19 13h0M29.9 13h0M38.1 13h0M40.8 13h0M43.5 13h0M46.2 13h0M49 13h0M0 13h0M1.4 15.3h0M50.3 15.3h0M9.5 15.3h0M12.2 15.3h0M15 15.3h0M23.1 15.3h0M28.6 15.3h0M31.3 15.3h0M42.2 15.3h0M16.3 17.7h0M21.8 17.7h0M24.5 17.7h0M27.2 17.7h0M29.9 17.7h0M32.6 17.7h0M35.4 17.7h0M1.4 20.1h0M50.3 20.1h0M4.1 20.1h0M6.8 20.1h0M9.5 20.1h0M12.2 20.1h0M23.1 20.1h0M25.8 20.1h0M28.6 20.1h0M31.3 20.1h0M34 20.1h0M36.7 20.1h0M42.2 20.1h0M10.9 22.4h0M13.6 22.4h0M16.3 22.4h0M19 22.4h0M21.8 22.4h0M24.5 22.4h0M27.2 22.4h0M29.9 22.4h0M40.8 22.4h0M43.5 22.4h0M46.2 22.4h0M6.8 24.8h0M17.7 24.8h0M20.4 24.8h0M23.1 24.8h0M31.3 24.8h0M36.7 24.8h0M47.6 24.8h0M-1.4 24.8h0M2.7 27.1h0M8.2 27.1h0M10.9 27.1h0M13.6 27.1h0M32.6 27.1h0M35.4 27.1h0M38.1 27.1h0M1.4 29.5h0M50.3 29.5h0M4.1 29.5h0M6.8 29.5h0M9.5 29.5h0M12.2 29.5h0M15 29.5h0M17.7 29.5h0M20.4 29.5h0M25.8 29.5h0M28.6 29.5h0M31.3 29.5h0M36.7 29.5h0M42.2 29.5h0M44.9 29.5h0M2.7 31.9h0M2.7 -1.2h0M5.4 31.9h0M5.4 -1.2h0M8.2 31.9h0M8.2 -1.2h0M10.9 31.9h0M10.9 -1.2h0M13.6 31.9h0M13.6 -1.2h0M16.3 31.9h0M16.3 -1.2h0M21.8 31.9h0M21.8 -1.2h0M29.9 31.9h0M29.9 -1.2h0M35.4 31.9h0M35.4 -1.2h0M38.1 31.9h0M38.1 -1.2h0M40.8 31.9h0M40.8 -1.2h0M43.5 31.9h0M43.5 -1.2h0" stroke="#d63031"/></pattern><pattern id="p59" width="48.96" height="33.04" patternUnits="userSpaceOnUse" stroke-width="3" stroke-linecap="round" fill="none"><rect width="49.96" height="34.04" fill="#d63031"/><path d="M17.7 1.2h0M17.7 34.2h0M20.4 1.2h0M20.4 34.2h0M34 1.2h0M34 34.2h0M21.8 3.5h0M12.2 5.9h0M15 5.9h0M12.2 10.6h0M17.7 10.6h0M35.4 13h0M43.5 13h0M12.2 15.3h0M49 17.7h0M0 17.7h0M9.5 20.1h0M17.7 20.1h0M24.5 22.4h0M32.6 22.4h0M6.8 24.8h0M23.1 24.8h0M36.7 24.8h0M44.9 24.8h0M35.4 27.1h0M1.4 29.5h0M50.3 29.5h0M16.3 31.9h0M16.3 -1.2h0M19 31.9h0M19 -1.2h0M27.2 31.9h0M27.2 -1.2h0" stroke="#46a83c"/></pattern><pattern id="p60" width="48.96" height="33.04" patternUnits="userSpaceOnUse" stroke-width="3" stroke-linecap="round" fill="none"><rect width="49.96" height="34.04" fill="#d63031"/><path d="M42.2 1.2h0M42.2 34.2h0M35.4 3.5h0M46.2 3.5h0M9.5 20.1h0M12.2 20.1h0M47.6 24.8h0M-1.4 24.8h0M4.1 29.5h0M32.6 31.9h0M32.6 -1.2h0" stroke="#46a83c"/><path d="M44.9 1.2h0M44.9 34.2h0M1.4 5.9h0M50.3 5.9h0M16.3 8.3h0M1.4 10.6h0M50.3 10.6h0M29.9 17.7h0M38.1 17.7h0M6.8 20.1h0M21.8 22.4h0M23.1 24.8h0M28.6 24.8h0M43.5 27.1h0M44.9 29.5h0M2.7 31.9h0M2.7 -1.2h0" stroke="#df7fd3"/><path d="M43.5 3.5h0M49 3.5h0M0 3.5h0M6.8 5.9h0M42.2 5.9h0M10.9 8.3h0M17.7 10.6h0M16.3 22.4h0M46.2 22.4h0M15 24.8h0M38.1 27.1h0M1.4 29.5h0M50.3 29.5h0M42.2 29.5h0M19 31.9h0M19 -1.2h0" stroke="#9668c6"/></pattern><pattern id="p61" width="48.96" height="33.04" patternUnits="userSpaceOnUse" stroke-width="3" stroke-linecap="round" fill="none"><rect width="49.96" height="34.04" fill="#9668c6"/><path d="M23.1 1.2h0M23.1 34.2h0M5.4 3.5h0M27.2 3.5h0M4.1 5.9h0M6.8 5.9h0M34 5.9h0M29.9 8.3h0M35.4 8.3h0M12.2 10.6h0M31.3 10.6h0M35.4 13h0M9.5 15.3h0M28.6 15.3h0M31.3 15.3h0M13.6 17.7h0M20.4 20.1h0M10.9 22.4h0M15 24.8h0M17.7 24.8h0M24.5 27.1h0M27.2 27.1h0M9.5 29.5h0M23.1 29.5h0M24.5 31.9h0M24.5 -1.2h0M27.2 31.9h0M27.2 -1.2h0" stroke="#df7fd3"/><path d="M15 1.2h0M15 34.2h0M17.7 1.2h0M17.7 34.2h0M20.4 1.2h0M20.4 34.2h0M25.8 1.2h0M25.8 34.2h0M28.6 1.2h0M28.6 34.2h0M31.3 1.2h0M31.3 34.2h0M10.9 3.5h0M19 3.5h0M24.5 3.5h0M35.4 3.5h0M12.2 5.9h0M15 5.9h0M20.4 5.9h0M25.8 5.9h0M31.3 5.9h0M44.9 5.9h0M2.7 8.3h0M8.2 8.3h0M13.6 8.3h0M16.3 8.3h0M21.8 8.3h0M27.2 8.3h0M40.8 8.3h0M46.2 8.3h0M49 8.3h0M0 8.3h0M4.1 10.6h0M6.8 10.6h0M9.5 10.6h0M15 10.6h0M17.7 10.6h0M23.1 10.6h0M39.4 10.6h0M42.2 10.6h0M44.9 10.6h0M47.6 10.6h0M-1.4 10.6h0M13.6 13h0M24.5 13h0M29.9 13h0M40.8 13h0M43.5 13h0M6.8 15.3h0M12.2 15.3h0M20.4 15.3h0M23.1 15.3h0M36.7 15.3h0M39.4 15.3h0M8.2 17.7h0M32.6 17.7h0M40.8 17.7h0M43.5 17.7h0M46.2 17.7h0M6.8 20.1h0M17.7 20.1h0M25.8 20.1h0M47.6 20.1h0M-1.4 20.1h0M2.7 22.4h0M49 22.4h0M0 22.4h0M1.4 24.8h0M50.3 24.8h0M9.5 24.8h0M25.8 24.8h0M31.3 24.8h0M39.4 24.8h0M42.2 24.8h0M47.6 24.8h0M-1.4 24.8h0M10.9 27.1h0M13.6 27.1h0M19 27.1h0M29.9 27.1h0M38.1 27.1h0M40.8 27.1h0M6.8 29.5h0M12.2 29.5h0M20.4 29.5h0M25.8 29.5h0M13.6 31.9h0M13.6 -1.2h0M21.8 31.9h0M21.8 -1.2h0" stroke="#d63031"/></pattern><pattern id="p62" width="48.96" height="33.04" patternUnits="userSpaceOnUse" stroke-width="3" stroke-linecap="round" fill="none"><rect width="49.96" height="34.04" fill="#d63031"/><path d="M23.1 5.9h0M2.7 8.3h0M46.2 8.3h0M43.5 13h0M16.3 17.7h0M38.1 17.7h0M15 20.1h0M36.7 24.8h0" stroke="#9668c6"/><path d="M12.2 10.6h0M35.4 13h0M36.7 15.3h0M40.8 17.7h0M12.2 20.1h0M42.2 20.1h0M9.5 24.8h0M13.6 27.1h0M43.5 27.1h0M46.2 27.1h0M15 29.5h0M17.7 29.5h0M44.9 29.5h0" stroke="#df7fd3"/><path d="M9.5 1.2h0M9.5 34.2h0M12.2 1.2h0M12.2 34.2h0M23.1 1.2h0M23.1 34.2h0M28.6 1.2h0M28.6 34.2h0M39.4 1.2h0M39.4 34.2h0M42.2 1.2h0M42.2 34.2h0M47.6 1.2h0M-1.4 1.2h0M47.6 34.2h0M2.7 3.5h0M8.2 3.5h0M10.9 3.5h0M13.6 3.5h0M16.3 3.5h0M24.5 3.5h0M29.9 3.5h0M32.6 3.5h0M40.8 3.5h0M46.2 3.5h0M4.1 5.9h0M17.7 5.9h0M25.8 5.9h0M34 5.9h0M36.7 5.9h0M39.4 5.9h0M44.9 5.9h0M5.4 8.3h0M8.2 8.3h0M13.6 8.3h0M27.2 8.3h0M32.6 8.3h0M38.1 8.3h0M40.8 8.3h0M43.5 8.3h0M4.1 10.6h0M6.8 10.6h0M9.5 10.6h0M20.4 10.6h0M23.1 10.6h0M28.6 10.6h0M31.3 10.6h0M34 10.6h0M39.4 10.6h0M42.2 10.6h0M44.9 10.6h0M47.6 10.6h0M-1.4 10.6h0M2.7 13h0M5.4 13h0M13.6 13h0M24.5 13h0M9.5 15.3h0M15 15.3h0M17.7 15.3h0M31.3 15.3h0M34 15.3h0M39.4 15.3h0M10.9 17.7h0M13.6 17.7h0M21.8 17.7h0M35.4 17.7h0M46.2 17.7h0M49 17.7h0M0 17.7h0M17.7 20.1h0M23.1 20.1h0M28.6 20.1h0M39.4 20.1h0M44.9 20.1h0M2.7 22.4h0M13.6 22.4h0M16.3 22.4h0M19 22.4h0M27.2 22.4h0M29.9 22.4h0M35.4 22.4h0M43.5 22.4h0M49 22.4h0M0 22.4h0M12.2 24.8h0M15 24.8h0M17.7 24.8h0M20.4 24.8h0M23.1 24.8h0M25.8 24.8h0M28.6 24.8h0M31.3 24.8h0M39.4 24.8h0M5.4 27.1h0M16.3 27.1h0M19 27.1h0M24.5 27.1h0M27.2 27.1h0M29.9 27.1h0M35.4 27.1h0M38.1 27.1h0M40.8 27.1h0M20.4 29.5h0M34 29.5h0M42.2 29.5h0M47.6 29.5h0M-1.4 29.5h0M10.9 31.9h0M10.9 -1.2h0M13.6 31.9h0M13.6 -1.2h0M16.3 31.9h0M16.3 -1.2h0M21.8 31.9h0M21.8 -1.2h0M29.9 31.9h0M29.9 -1.2h0" stroke="#46a83c"/></pattern><pattern id="p63" width="48.96" height="33.04" patternUnits="userSpaceOnUse" stroke-width="3" stroke-linecap="round" fill="none"><rect width="49.96" height="34.04" fill="#c5a6d6"/><path d="M17.7 1.2h0M17.7 34.2h0M44.9 1.2h0M44.9 34.2h0M24.5 3.5h0M25.8 5.9h0M16.3 8.3h0M27.2 8.3h0M29.9 8.3h0M35.4 8.3h0M15 10.6h0M16.3 13h0M38.1 13h0M40.8 13h0M6.8 15.3h0M17.7 15.3h0M20.4 15.3h0M44.9 15.3h0M8.2 17.7h0M43.5 17.7h0M46.2 17.7h0M4.1 20.1h0M6.8 20.1h0M36.7 20.1h0M39.4 20.1h0M42.2 20.1h0M44.9 20.1h0M19 22.4h0M32.6 22.4h0M43.5 22.4h0M46.2 22.4h0M1.4 24.8h0M50.3 24.8h0M4.1 24.8h0M20.4 24.8h0M23.1 24.8h0M25.8 24.8h0M34 24.8h0M36.7 24.8h0M44.9 24.8h0M5.4 27.1h0M13.6 27.1h0M21.8 27.1h0M24.5 27.1h0M46.2 27.1h0M1.4 29.5h0M50.3 29.5h0M4.1 29.5h0M15 29.5h0M17.7 29.5h0M25.8 29.5h0M44.9 29.5h0M47.6 29.5h0M-1.4 29.5h0M19 31.9h0M19 -1.2h0" stroke="#9668c6"/><path d="M31.3 1.2h0M31.3 34.2h0M13.6 3.5h0M21.8 3.5h0M32.6 3.5h0M43.5 3.5h0M46.2 3.5h0M1.4 5.9h0M50.3 5.9h0M6.8 5.9h0M9.5 5.9h0M12.2 5.9h0M34 5.9h0M36.7 5.9h0M39.4 5.9h0M42.2 5.9h0M47.6 5.9h0M-1.4 5.9h0M8.2 8.3h0M10.9 8.3h0M38.1 8.3h0M1.4 10.6h0M50.3 10.6h0M4.1 10.6h0M6.8 10.6h0M12.2 10.6h0M31.3 10.6h0M34 10.6h0M36.7 10.6h0M5.4 13h0M8.2 13h0M13.6 13h0M19 13h0M24.5 13h0M49 13h0M0 13h0M9.5 15.3h0M12.2 15.3h0M23.1 15.3h0M25.8 15.3h0M31.3 15.3h0M16.3 17.7h0M19 17.7h0M29.9 17.7h0M32.6 17.7h0M9.5 20.1h0M12.2 20.1h0M15 20.1h0M17.7 20.1h0M31.3 20.1h0M47.6 20.1h0M-1.4 20.1h0M2.7 22.4h0M5.4 22.4h0M8.2 22.4h0M10.9 22.4h0M16.3 22.4h0M21.8 22.4h0M24.5 22.4h0M27.2 22.4h0M29.9 22.4h0M40.8 22.4h0M49 22.4h0M0 22.4h0M12.2 24.8h0M15 24.8h0M31.3 24.8h0M47.6 24.8h0M-1.4 24.8h0M2.7 27.1h0M16.3 27.1h0M19 27.1h0M35.4 27.1h0M6.8 29.5h0M9.5 29.5h0M28.6 29.5h0M2.7 31.9h0M2.7 -1.2h0M13.6 31.9h0M13.6 -1.2h0M24.5 31.9h0M24.5 -1.2h0M29.9 31.9h0M29.9 -1.2h0M32.6 31.9h0M32.6 -1.2h0M35.4 31.9h0M35.4 -1.2h0M40.8 31.9h0M40.8 -1.2h0M49 31.9h0M0 31.9h0M49 -1.2h0" stroke="#d63031"/></pattern><pattern id="p64" width="48.96" height="33.04" patternUnits="userSpaceOnUse" stroke-width="3" stroke-linecap="round" fill="none"><rect width="49.96" height="34.04" fill="#ee7d28"/><path d="M46.2 8.3h0M13.6 22.4h0M27.2 31.9h0M27.2 -1.2h0" stroke="#df7fd3"/></pattern><pattern id="p65" width="48.96" height="33.04" patternUnits="userSpaceOnUse" stroke-width="3" stroke-linecap="round" fill="none"><rect width="49.96" height="34.04" fill="#9668c6"/><path d="M29.9 13h0M29.9 17.7h0M34 29.5h0" stroke="#d63031"/><path d="M39.4 10.6h0M16.3 13h0M32.6 17.7h0M1.4 20.1h0M50.3 20.1h0M39.4 20.1h0M42.2 20.1h0M15 29.5h0M23.1 29.5h0" stroke="#ee7d28"/><path d="M6.8 1.2h0M6.8 34.2h0M12.2 1.2h0M12.2 34.2h0M25.8 1.2h0M25.8 34.2h0M28.6 1.2h0M28.6 34.2h0M42.2 1.2h0M42.2 34.2h0M2.7 3.5h0M8.2 3.5h0M43.5 3.5h0M1.4 5.9h0M50.3 5.9h0M4.1 5.9h0M6.8 5.9h0M42.2 5.9h0M2.7 8.3h0M35.4 8.3h0M1.4 10.6h0M50.3 10.6h0M4.1 10.6h0M15 10.6h0M17.7 10.6h0M25.8 10.6h0M34 10.6h0M2.7 13h0M5.4 13h0M10.9 13h0M21.8 13h0M24.5 13h0M40.8 13h0M1.4 15.3h0M50.3 15.3h0M4.1 15.3h0M23.1 15.3h0M28.6 15.3h0M39.4 15.3h0M42.2 15.3h0M2.7 17.7h0M5.4 17.7h0M10.9 17.7h0M16.3 17.7h0M40.8 17.7h0M46.2 17.7h0M17.7 20.1h0M23.1 20.1h0M28.6 20.1h0M27.2 22.4h0M29.9 22.4h0M49 22.4h0M0 22.4h0M25.8 24.8h0M31.3 24.8h0M47.6 24.8h0M-1.4 24.8h0M16.3 27.1h0M27.2 27.1h0M29.9 27.1h0M46.2 27.1h0M49 27.1h0M0 27.1h0M1.4 29.5h0M50.3 29.5h0M9.5 29.5h0M17.7 29.5h0M20.4 29.5h0M25.8 29.5h0M28.6 29.5h0M2.7 31.9h0M2.7 -1.2h0M13.6 31.9h0M13.6 -1.2h0M19 31.9h0M19 -1.2h0M29.9 31.9h0M29.9 -1.2h0M46.2 31.9h0M46.2 -1.2h0" stroke="#46a83c"/></pattern><pattern id="p66" width="48.96" height="33.04" patternUnits="userSpaceOnUse" stroke-width="3" stroke-linecap="round" fill="none"><rect width="49.96" height="34.04" fill="#ee7d28"/><path d="M46.2 3.5h0M47.6 10.6h0M-1.4 10.6h0M49 17.7h0M0 17.7h0M28.6 20.1h0M36.7 20.1h0M42.2 20.1h0M46.2 22.4h0M23.1 24.8h0M27.2 27.1h0M9.5 29.5h0M25.8 29.5h0M31.3 29.5h0M21.8 31.9h0M21.8 -1.2h0" stroke="#9668c6"/><path d="M23.1 1.2h0M23.1 34.2h0M10.9 3.5h0M21.8 3.5h0M24.5 3.5h0M27.2 3.5h0M29.9 3.5h0M23.1 5.9h0M36.7 5.9h0M5.4 8.3h0M19 8.3h0M15 10.6h0M5.4 13h0M20.4 15.3h0M25.8 15.3h0M47.6 15.3h0M-1.4 15.3h0M2.7 17.7h0M5.4 17.7h0M12.2 20.1h0M2.7 22.4h0M40.8 22.4h0M20.4 24.8h0M40.8 27.1h0M2.7 31.9h0M2.7 -1.2h0M5.4 31.9h0M5.4 -1.2h0M13.6 31.9h0M13.6 -1.2h0" stroke="#46a83c"/></pattern><pattern id="p67" width="48.96" height="33.04" patternUnits="userSpaceOnUse" stroke-width="3" stroke-linecap="round" fill="none"><rect width="49.96" height="34.04" fill="#46a83c"/><path d="M16.3 3.5h0M17.7 5.9h0M34 10.6h0M46.2 13h0M1.4 15.3h0M50.3 15.3h0M23.1 15.3h0M38.1 17.7h0M46.2 17.7h0M25.8 24.8h0M25.8 29.5h0M10.9 31.9h0M10.9 -1.2h0M13.6 31.9h0M13.6 -1.2h0M27.2 31.9h0M27.2 -1.2h0" stroke="#d63031"/></pattern><pattern id="p68" width="48.96" height="33.04" patternUnits="userSpaceOnUse" stroke-width="3" stroke-linecap="round" fill="none"><rect width="49.96" height="34.04" fill="#9668c6"/><path d="M12.2 1.2h0M12.2 34.2h0M13.6 3.5h0M32.6 3.5h0M35.4 3.5h0M1.4 10.6h0M50.3 10.6h0M10.9 17.7h0M6.8 20.1h0M6.8 24.8h0" stroke="#d63031"/><path d="M4.1 1.2h0M4.1 34.2h0M24.5 3.5h0M20.4 10.6h0M39.4 10.6h0M2.7 13h0M40.8 13h0M47.6 29.5h0M-1.4 29.5h0M49 31.9h0M0 31.9h0M49 -1.2h0" stroke="#df7fd3"/></pattern><pattern id="p69" width="48.96" height="33.04" patternUnits="userSpaceOnUse" stroke-width="3" stroke-linecap="round" fill="none"><rect width="49.96" height="34.04" fill="#d63031"/><path d="M10.9 8.3h0M17.7 10.6h0M20.4 10.6h0M10.9 13h0M24.5 13h0M27.2 13h0M1.4 15.3h0M50.3 15.3h0M23.1 15.3h0M42.2 20.1h0M29.9 27.1h0M32.6 27.1h0M47.6 29.5h0M-1.4 29.5h0M32.6 31.9h0M32.6 -1.2h0" stroke="#df7fd3"/><path d="M9.5 1.2h0M9.5 34.2h0M23.1 1.2h0M23.1 34.2h0M42.2 1.2h0M42.2 34.2h0M44.9 1.2h0M44.9 34.2h0M5.4 3.5h0M10.9 3.5h0M13.6 3.5h0M21.8 3.5h0M40.8 3.5h0M1.4 5.9h0M50.3 5.9h0M12.2 5.9h0M20.4 5.9h0M23.1 5.9h0M39.4 5.9h0M24.5 8.3h0M28.6 10.6h0M34 10.6h0M42.2 10.6h0M8.2 13h0M19 13h0M21.8 13h0M32.6 13h0M9.5 15.3h0M25.8 15.3h0M28.6 15.3h0M34 15.3h0M36.7 15.3h0M10.9 17.7h0M27.2 17.7h0M32.6 17.7h0M38.1 17.7h0M40.8 17.7h0M43.5 17.7h0M20.4 20.1h0M36.7 20.1h0M39.4 20.1h0M47.6 20.1h0M-1.4 20.1h0M8.2 22.4h0M19 22.4h0M27.2 22.4h0M29.9 22.4h0M32.6 22.4h0M35.4 22.4h0M49 22.4h0M0 22.4h0M1.4 24.8h0M50.3 24.8h0M31.3 24.8h0M27.2 27.1h0M6.8 29.5h0M12.2 29.5h0M20.4 29.5h0" stroke="#46a83c"/><path d="M4.1 1.2h0M4.1 34.2h0M20.4 1.2h0M20.4 34.2h0M8.2 3.5h0M24.5 3.5h0M32.6 3.5h0M35.4 3.5h0M17.7 5.9h0M36.7 5.9h0M47.6 5.9h0M-1.4 5.9h0M46.2 8.3h0M1.4 10.6h0M50.3 10.6h0M9.5 10.6h0M39.4 10.6h0M47.6 10.6h0M-1.4 10.6h0M2.7 13h0M5.4 13h0M35.4 13h0M46.2 13h0M12.2 15.3h0M15 15.3h0M47.6 15.3h0M-1.4 15.3h0M2.7 17.7h0M13.6 17.7h0M21.8 17.7h0M24.5 17.7h0M49 17.7h0M0 17.7h0M15 20.1h0M23.1 20.1h0M34 20.1h0M44.9 20.1h0M2.7 22.4h0M16.3 22.4h0M21.8 22.4h0M38.1 22.4h0M46.2 22.4h0M4.1 24.8h0M28.6 24.8h0M39.4 24.8h0M35.4 27.1h0M43.5 27.1h0M28.6 29.5h0M42.2 29.5h0M5.4 31.9h0M5.4 -1.2h0M19 31.9h0M19 -1.2h0M24.5 31.9h0M24.5 -1.2h0M27.2 31.9h0M27.2 -1.2h0M38.1 31.9h0M38.1 -1.2h0M40.8 31.9h0M40.8 -1.2h0M43.5 31.9h0M43.5 -1.2h0M46.2 31.9h0M46.2 -1.2h0" stroke="#9668c6"/></pattern><pattern id="p70" width="48.96" height="33.04" patternUnits="userSpaceOnUse" stroke-width="3" stroke-linecap="round" fill="none"><rect width="49.96" height="34.04" fill="#46a83c"/><path d="M38.1 3.5h0M6.8 5.9h0M9.5 5.9h0M24.5 8.3h0M49 17.7h0M0 17.7h0M15 20.1h0M9.5 29.5h0M42.2 29.5h0" stroke="#9668c6"/><path d="M20.4 1.2h0M20.4 34.2h0M5.4 3.5h0M8.2 3.5h0M35.4 8.3h0M40.8 8.3h0M43.5 8.3h0M6.8 15.3h0M8.2 17.7h0M39.4 20.1h0M43.5 22.4h0M12.2 29.5h0M15 29.5h0M13.6 31.9h0M13.6 -1.2h0" stroke="#d63031"/></pattern><pattern id="p71" width="48.96" height="33.04" patternUnits="userSpaceOnUse" stroke-width="3" stroke-linecap="round" fill="none"><rect width="49.96" height="34.04" fill="#ee7d28"/><path d="M34 5.9h0M35.4 13h0M44.9 15.3h0M20.4 20.1h0M16.3 22.4h0M35.4 22.4h0M9.5 29.5h0M16.3 31.9h0M16.3 -1.2h0" stroke="#9668c6"/><path d="M31.3 1.2h0M31.3 34.2h0M16.3 3.5h0M19 3.5h0M6.8 5.9h0M24.5 8.3h0M43.5 8.3h0M25.8 10.6h0M42.2 15.3h0" stroke="#d63031"/></pattern><pattern id="p72" width="48.96" height="33.04" patternUnits="userSpaceOnUse" stroke-width="3" stroke-linecap="round" fill="none"><rect width="49.96" height="34.04" fill="#9668c6"/><path d="M49 8.3h0M0 8.3h0M15 10.6h0M17.7 10.6h0M24.5 13h0M27.2 13h0M42.2 20.1h0M13.6 27.1h0M8.2 31.9h0M8.2 -1.2h0" stroke="#d63031"/><path d="M23.1 5.9h0M29.9 8.3h0M21.8 13h0M23.1 15.3h0M24.5 17.7h0M20.4 20.1h0M23.1 20.1h0M25.8 20.1h0M1.4 24.8h0M50.3 24.8h0M6.8 24.8h0M5.4 27.1h0M15 29.5h0M39.4 29.5h0" stroke="#46a83c"/><path d="M6.8 1.2h0M6.8 34.2h0M15 1.2h0M15 34.2h0M17.7 1.2h0M17.7 34.2h0M32.6 3.5h0M36.7 5.9h0M39.4 5.9h0M10.9 8.3h0M43.5 8.3h0M12.2 10.6h0M42.2 10.6h0M19 13h0M35.4 13h0M17.7 15.3h0M2.7 17.7h0M5.4 17.7h0M32.6 17.7h0M34 20.1h0M36.7 20.1h0M9.5 24.8h0M8.2 27.1h0M1.4 29.5h0M50.3 29.5h0M17.7 29.5h0M20.4 29.5h0M19 31.9h0M19 -1.2h0M21.8 31.9h0M21.8 -1.2h0" stroke="#df7fd3"/></pattern><pattern id="p73" width="48.96" height="33.04" patternUnits="userSpaceOnUse" stroke-width="3" stroke-linecap="round" fill="none"><rect width="49.96" height="34.04" fill="#9a90a0"/><path d="M9.5 1.2h0M9.5 34.2h0M15 1.2h0M15 34.2h0M17.7 1.2h0M17.7 34.2h0M31.3 1.2h0M31.3 34.2h0M39.4 1.2h0M39.4 34.2h0M47.6 1.2h0M-1.4 1.2h0M47.6 34.2h0M27.2 3.5h0M29.9 3.5h0M32.6 3.5h0M46.2 3.5h0M49 3.5h0M0 3.5h0M1.4 5.9h0M50.3 5.9h0M4.1 5.9h0M12.2 5.9h0M17.7 5.9h0M23.1 5.9h0M28.6 5.9h0M34 5.9h0M36.7 5.9h0M39.4 5.9h0M42.2 5.9h0M47.6 5.9h0M-1.4 5.9h0M19 8.3h0M24.5 8.3h0M32.6 8.3h0M35.4 8.3h0M38.1 8.3h0M46.2 8.3h0M6.8 10.6h0M9.5 10.6h0M17.7 10.6h0M28.6 10.6h0M31.3 10.6h0M34 10.6h0M36.7 10.6h0M42.2 10.6h0M44.9 10.6h0M8.2 13h0M10.9 13h0M19 13h0M24.5 13h0M29.9 13h0M35.4 13h0M38.1 13h0M40.8 13h0M43.5 13h0M46.2 13h0M49 13h0M0 13h0M4.1 15.3h0M6.8 15.3h0M28.6 15.3h0M39.4 15.3h0M44.9 15.3h0M47.6 15.3h0M-1.4 15.3h0M5.4 17.7h0M10.9 17.7h0M24.5 17.7h0M27.2 17.7h0M29.9 17.7h0M1.4 20.1h0M50.3 20.1h0M4.1 20.1h0M6.8 20.1h0M28.6 20.1h0M34 20.1h0M42.2 20.1h0M44.9 20.1h0M2.7 22.4h0M16.3 22.4h0M19 22.4h0M24.5 22.4h0M49 22.4h0M0 22.4h0M9.5 24.8h0M17.7 24.8h0M5.4 27.1h0M8.2 27.1h0M13.6 27.1h0M16.3 27.1h0M19 27.1h0M29.9 27.1h0M32.6 27.1h0M40.8 27.1h0M6.8 29.5h0M9.5 29.5h0M12.2 29.5h0M15 29.5h0M17.7 29.5h0M20.4 29.5h0M23.1 29.5h0M28.6 29.5h0M34 29.5h0M39.4 29.5h0M47.6 29.5h0M-1.4 29.5h0M2.7 31.9h0M2.7 -1.2h0M5.4 31.9h0M5.4 -1.2h0M8.2 31.9h0M8.2 -1.2h0M10.9 31.9h0M10.9 -1.2h0M16.3 31.9h0M16.3 -1.2h0M21.8 31.9h0M21.8 -1.2h0M24.5 31.9h0M24.5 -1.2h0M43.5 31.9h0M43.5 -1.2h0M49 31.9h0M0 31.9h0M49 -1.2h0" stroke="#9668c6"/></pattern><pattern id="p74" width="48.96" height="33.04" patternUnits="userSpaceOnUse" stroke-width="3" stroke-linecap="round" fill="none"><rect width="49.96" height="34.04" fill="#9668c6"/><path d="M4.1 1.2h0M4.1 34.2h0M17.7 1.2h0M17.7 34.2h0M21.8 3.5h0M27.2 3.5h0M25.8 5.9h0M28.6 5.9h0M27.2 8.3h0M32.6 8.3h0M28.6 10.6h0M31.3 10.6h0M2.7 13h0M5.4 13h0M8.2 13h0M42.2 15.3h0M19 17.7h0M39.4 20.1h0M21.8 22.4h0M40.8 27.1h0M25.8 29.5h0M34 29.5h0M36.7 29.5h0M44.9 29.5h0M19 31.9h0M19 -1.2h0M38.1 31.9h0M38.1 -1.2h0M40.8 31.9h0M40.8 -1.2h0" stroke="#d63031"/><path d="M12.2 1.2h0M12.2 34.2h0M29.9 3.5h0M42.2 5.9h0M44.9 5.9h0M2.7 8.3h0M15 10.6h0M42.2 10.6h0M10.9 13h0M43.5 13h0M46.2 13h0M9.5 15.3h0M10.9 17.7h0M27.2 17.7h0M25.8 20.1h0M8.2 22.4h0M27.2 22.4h0M40.8 22.4h0M2.7 27.1h0M21.8 27.1h0M6.8 29.5h0M15 29.5h0M17.7 29.5h0M10.9 31.9h0M10.9 -1.2h0M13.6 31.9h0M13.6 -1.2h0M43.5 31.9h0M43.5 -1.2h0" stroke="#46a83c"/><path d="M20.4 1.2h0M20.4 34.2h0M47.6 1.2h0M-1.4 1.2h0M47.6 34.2h0M5.4 3.5h0M16.3 3.5h0M46.2 3.5h0M6.8 5.9h0M12.2 5.9h0M47.6 5.9h0M-1.4 5.9h0M19 8.3h0M29.9 8.3h0M12.2 10.6h0M23.1 10.6h0M36.7 10.6h0M39.4 10.6h0M44.9 10.6h0M32.6 13h0M38.1 13h0M40.8 13h0M15 15.3h0M23.1 15.3h0M28.6 15.3h0M44.9 15.3h0M21.8 17.7h0M32.6 17.7h0M35.4 17.7h0M40.8 17.7h0M43.5 17.7h0M46.2 17.7h0M49 17.7h0M0 17.7h0M1.4 20.1h0M50.3 20.1h0M6.8 20.1h0M9.5 20.1h0M20.4 20.1h0M2.7 22.4h0M10.9 22.4h0M13.6 22.4h0M29.9 22.4h0M1.4 24.8h0M50.3 24.8h0M4.1 24.8h0M12.2 24.8h0M20.4 24.8h0M16.3 27.1h0M19 27.1h0M20.4 29.5h0M31.3 29.5h0M16.3 31.9h0M16.3 -1.2h0M21.8 31.9h0M21.8 -1.2h0M27.2 31.9h0M27.2 -1.2h0M29.9 31.9h0M29.9 -1.2h0M49 31.9h0M0 31.9h0M49 -1.2h0" stroke="#df7fd3"/></pattern><pattern id="p75" width="48.96" height="33.04" patternUnits="userSpaceOnUse" stroke-width="3" stroke-linecap="round" fill="none"><rect width="49.96" height="34.04" fill="#9668c6"/><path d="M9.5 1.2h0M9.5 34.2h0M24.5 3.5h0M17.7 5.9h0M23.1 5.9h0M5.4 8.3h0M16.3 8.3h0M24.5 8.3h0M36.7 10.6h0M42.2 10.6h0M27.2 13h0M38.1 13h0M4.1 15.3h0M31.3 15.3h0M36.7 15.3h0M39.4 15.3h0M2.7 17.7h0M5.4 17.7h0M24.5 17.7h0M38.1 17.7h0M40.8 17.7h0M1.4 20.1h0M50.3 20.1h0M4.1 20.1h0M20.4 24.8h0M25.8 24.8h0M38.1 27.1h0" stroke="#d63031"/><path d="M1.4 1.2h0M50.3 1.2h0M1.4 34.2h0M28.6 1.2h0M28.6 34.2h0M42.2 1.2h0M42.2 34.2h0M44.9 1.2h0M44.9 34.2h0M2.7 3.5h0M5.4 3.5h0M10.9 3.5h0M13.6 3.5h0M16.3 3.5h0M29.9 3.5h0M32.6 3.5h0M35.4 3.5h0M38.1 3.5h0M40.8 3.5h0M46.2 3.5h0M49 3.5h0M0 3.5h0M1.4 5.9h0M50.3 5.9h0M4.1 5.9h0M15 5.9h0M28.6 5.9h0M42.2 5.9h0M47.6 5.9h0M-1.4 5.9h0M2.7 8.3h0M8.2 8.3h0M13.6 8.3h0M19 8.3h0M21.8 8.3h0M29.9 8.3h0M32.6 8.3h0M38.1 8.3h0M40.8 8.3h0M49 8.3h0M0 8.3h0M1.4 10.6h0M50.3 10.6h0M4.1 10.6h0M6.8 10.6h0M17.7 10.6h0M20.4 10.6h0M25.8 10.6h0M28.6 10.6h0M31.3 10.6h0M34 10.6h0M39.4 10.6h0M44.9 10.6h0M2.7 13h0M5.4 13h0M8.2 13h0M10.9 13h0M13.6 13h0M29.9 13h0M32.6 13h0M40.8 13h0M43.5 13h0M46.2 13h0M6.8 15.3h0M9.5 15.3h0M20.4 15.3h0M25.8 15.3h0M28.6 15.3h0M34 15.3h0M8.2 17.7h0M13.6 17.7h0M27.2 17.7h0M32.6 17.7h0M35.4 17.7h0M43.5 17.7h0M46.2 17.7h0M6.8 20.1h0M12.2 20.1h0M15 20.1h0M17.7 20.1h0M25.8 20.1h0M31.3 20.1h0M34 20.1h0M8.2 22.4h0M10.9 22.4h0M13.6 22.4h0M32.6 22.4h0M35.4 22.4h0M43.5 22.4h0M1.4 24.8h0M50.3 24.8h0M6.8 24.8h0M23.1 24.8h0M28.6 24.8h0M36.7 24.8h0M42.2 24.8h0M47.6 24.8h0M-1.4 24.8h0M2.7 27.1h0M5.4 27.1h0M8.2 27.1h0M10.9 27.1h0M19 27.1h0M24.5 27.1h0M27.2 27.1h0M43.5 27.1h0M46.2 27.1h0M1.4 29.5h0M50.3 29.5h0M4.1 29.5h0M6.8 29.5h0M9.5 29.5h0M20.4 29.5h0M28.6 29.5h0M39.4 29.5h0M42.2 29.5h0M47.6 29.5h0M-1.4 29.5h0M2.7 31.9h0M2.7 -1.2h0M13.6 31.9h0M13.6 -1.2h0M16.3 31.9h0M16.3 -1.2h0M21.8 31.9h0M21.8 -1.2h0M24.5 31.9h0M24.5 -1.2h0M29.9 31.9h0M29.9 -1.2h0M32.6 31.9h0M32.6 -1.2h0M43.5 31.9h0M43.5 -1.2h0M49 31.9h0M0 31.9h0M49 -1.2h0" stroke="#46a83c"/></pattern><pattern id="p76" width="48.96" height="33.04" patternUnits="userSpaceOnUse" stroke-width="3" stroke-linecap="round" fill="none"><rect width="49.96" height="34.04" fill="#46a83c"/><path d="M47.6 1.2h0M-1.4 1.2h0M47.6 34.2h0M4.1 5.9h0M6.8 5.9h0M6.8 10.6h0M17.7 10.6h0M10.9 13h0M27.2 13h0M1.4 15.3h0M50.3 15.3h0M25.8 15.3h0M28.6 15.3h0M36.7 15.3h0M29.9 17.7h0M20.4 20.1h0M25.8 20.1h0M28.6 20.1h0M16.3 22.4h0M46.2 22.4h0M12.2 24.8h0M15 24.8h0M10.9 27.1h0M43.5 27.1h0M46.2 27.1h0M4.1 29.5h0M13.6 31.9h0M13.6 -1.2h0M35.4 31.9h0M35.4 -1.2h0" stroke="#9668c6"/></pattern><pattern id="p77" width="48.96" height="33.04" patternUnits="userSpaceOnUse" stroke-width="3" stroke-linecap="round" fill="none"><rect width="49.96" height="34.04" fill="#d63031"/><path d="M43.5 3.5h0M13.6 17.7h0M15 20.1h0M28.6 20.1h0M25.8 24.8h0M43.5 27.1h0M31.3 29.5h0M34 29.5h0" stroke="#df7fd3"/><path d="M25.8 1.2h0M25.8 34.2h0M27.2 3.5h0M32.6 3.5h0M28.6 5.9h0M2.7 13h0M2.7 17.7h0M6.8 29.5h0M23.1 29.5h0" stroke="#9668c6"/><path d="M49 3.5h0M0 3.5h0M4.1 5.9h0M9.5 5.9h0M36.7 5.9h0M9.5 10.6h0M15 10.6h0M17.7 10.6h0M10.9 13h0M24.5 13h0M32.6 13h0M1.4 15.3h0M50.3 15.3h0M12.2 15.3h0M15 15.3h0M23.1 15.3h0M19 17.7h0M40.8 17.7h0M42.2 20.1h0M10.9 22.4h0M35.4 22.4h0M47.6 24.8h0M-1.4 24.8h0M5.4 27.1h0M16.3 27.1h0M32.6 27.1h0M15 29.5h0M27.2 31.9h0M27.2 -1.2h0" stroke="#46a83c"/></pattern><pattern id="p78" width="48.96" height="33.04" patternUnits="userSpaceOnUse" stroke-width="3" stroke-linecap="round" fill="none"><rect width="49.96" height="34.04" fill="#46a83c"/><path d="M9.5 1.2h0M9.5 34.2h0M47.6 1.2h0M-1.4 1.2h0M47.6 34.2h0M5.4 3.5h0M43.5 3.5h0M1.4 5.9h0M50.3 5.9h0M4.1 5.9h0M6.8 5.9h0M39.4 5.9h0M5.4 8.3h0M8.2 8.3h0M4.1 10.6h0M25.8 10.6h0M13.6 13h0M19 13h0M43.5 13h0M15 15.3h0M25.8 15.3h0M36.7 15.3h0M42.2 15.3h0M44.9 15.3h0M13.6 17.7h0M27.2 17.7h0M29.9 17.7h0M38.1 17.7h0M43.5 17.7h0M42.2 20.1h0M44.9 20.1h0M47.6 20.1h0M-1.4 20.1h0M10.9 22.4h0M13.6 22.4h0M32.6 22.4h0M12.2 24.8h0M34 24.8h0M39.4 24.8h0M38.1 27.1h0M20.4 29.5h0M39.4 29.5h0M5.4 31.9h0M5.4 -1.2h0" stroke="#d63031"/></pattern><pattern id="p79" width="48.96" height="33.04" patternUnits="userSpaceOnUse" stroke-width="3" stroke-linecap="round" fill="none"><rect width="49.96" height="34.04" fill="#d63031"/><path d="M1.4 1.2h0M50.3 1.2h0M1.4 34.2h0M17.7 1.2h0M17.7 34.2h0M23.1 1.2h0M23.1 34.2h0M25.8 1.2h0M25.8 34.2h0M31.3 1.2h0M31.3 34.2h0M36.7 1.2h0M36.7 34.2h0M42.2 1.2h0M42.2 34.2h0M44.9 1.2h0M44.9 34.2h0M21.8 3.5h0M27.2 3.5h0M29.9 3.5h0M32.6 3.5h0M35.4 3.5h0M38.1 3.5h0M43.5 3.5h0M1.4 5.9h0M50.3 5.9h0M4.1 5.9h0M15 5.9h0M34 5.9h0M44.9 5.9h0M8.2 8.3h0M40.8 8.3h0M1.4 10.6h0M50.3 10.6h0M28.6 10.6h0M39.4 10.6h0M42.2 10.6h0M16.3 13h0M32.6 13h0M38.1 13h0M40.8 13h0M46.2 13h0M1.4 15.3h0M50.3 15.3h0M12.2 15.3h0M23.1 15.3h0M44.9 15.3h0M47.6 15.3h0M-1.4 15.3h0M13.6 17.7h0M16.3 17.7h0M49 17.7h0M0 17.7h0M1.4 20.1h0M50.3 20.1h0M12.2 20.1h0M15 20.1h0M20.4 20.1h0M23.1 20.1h0M34 20.1h0M36.7 20.1h0M39.4 20.1h0M42.2 20.1h0M44.9 20.1h0M8.2 22.4h0M13.6 22.4h0M35.4 22.4h0M15 24.8h0M23.1 24.8h0M25.8 24.8h0M31.3 24.8h0M34 24.8h0M36.7 24.8h0M2.7 27.1h0M5.4 27.1h0M19 27.1h0M21.8 27.1h0M38.1 27.1h0M40.8 27.1h0M12.2 29.5h0M31.3 29.5h0M34 29.5h0M36.7 29.5h0M39.4 29.5h0M42.2 29.5h0M10.9 31.9h0M10.9 -1.2h0M13.6 31.9h0M13.6 -1.2h0M16.3 31.9h0M16.3 -1.2h0M24.5 31.9h0M24.5 -1.2h0M35.4 31.9h0M35.4 -1.2h0M38.1 31.9h0M38.1 -1.2h0" stroke="#46a83c"/></pattern></defs>
<clipPath id="c00"><rect x="9" y="71" width="209.2" height="202.3"/></clipPath><g clip-path="url(#c00)" stroke-linecap="round" stroke-width="3"><rect x="9" y="71" width="209.2" height="202.3" fill="#dbd5db"/><line x1="12" y1="75.2" x2="215.2" y2="75.2" stroke="#9c9ca8" stroke-width="2" stroke-linecap="round" opacity="0.8" stroke-dasharray="0 5.3" stroke-dashoffset="0.0"/>
<line x1="12" y1="77.8" x2="215.2" y2="77.8" stroke="#9c9ca8" stroke-width="2" stroke-linecap="round" opacity="0.8" stroke-dasharray="0 5.3" stroke-dashoffset="2.6"/>
<line x1="13.2" y1="74" x2="13.2" y2="270.3" stroke="#9c9ca8" stroke-width="2" stroke-linecap="round" opacity="0.8" stroke-dasharray="0 5.3" stroke-dashoffset="0.0"/>
<line x1="15.8" y1="74" x2="15.8" y2="270.3" stroke="#9c9ca8" stroke-width="2" stroke-linecap="round" opacity="0.8" stroke-dasharray="0 5.3" stroke-dashoffset="2.6"/>
<polygon points="26.35,76.16 58.19,76.16 62.25,80.22 28.38,81.58" fill="#8b3b76"/>
<polygon points="14.16,93.09 18.9,93.09 18.9,179.79 14.84,174.37 12.13,147.28" fill="#9a5a8a"/>
<polygon points="9.15,201.47 18.9,201.47 18.9,240.75 9.15,232.63" fill="#91467f"/>
<polyline points="12.13,141.86 17.55,136.44 13.48,152.7 17.55,159.47" fill="none" stroke="#e9dfe9" stroke-width="1.4" stroke-linecap="round" stroke-linejoin="round" />
<polyline points="62.25,79.55 71.73,84.97 98.83,84.29 125.92,82.93 146.24,77.51 157.08,79.55 193.66,78.87" fill="none" stroke="#dd8cc8" stroke-width="1.6" stroke-linecap="round" stroke-linejoin="round" />
<polygon points="28.38,79.55 62.25,79.55 71.73,84.97 98.83,84.29 125.92,82.93 146.24,77.51 157.08,79.55 193.66,78.87 199.75,84.97 199.75,106.64 180.11,120.19 184.17,124.25 201.78,129.67 201.11,174.37 204.49,201.47 207.88,215.02 207.2,235.34 200.43,239.4 205.85,243.46 190.95,251.59 192.3,258.37 186.88,261.07 178.75,255.66 177.4,262.43 106.96,263.11 105.6,254.3 79.86,251.59 58.19,251.59 47.35,259.72 40.58,262.43 32.45,252.95 18.9,240.75 18.22,227.21 22.97,226.53 18.22,224.5 18.22,181.15 22.97,180.47 18.22,178.44 18.22,93.09 31.09,95.13 28.38,86.32" fill="#4878b3"/>
<path d="M71.7 123.6h0M98.8 156.5h0M54.1 203.1h0" stroke="#c060c0" stroke-width="2.4" stroke-linecap="round" fill="none"/>
<circle cx="43.96" cy="102.31" r="2.6" fill="none" stroke="#3d65a0" stroke-width="1"/>
<circle cx="100.86" cy="99.87" r="2.6" fill="none" stroke="#3d65a0" stroke-width="1"/>
<circle cx="60.9" cy="178.44" r="2.6" fill="none" stroke="#3d65a0" stroke-width="1"/>
<circle cx="73.09" cy="206.21" r="2.6" fill="none" stroke="#3d65a0" stroke-width="1"/>
<circle cx="46.67" cy="219.08" r="2.6" fill="none" stroke="#3d65a0" stroke-width="1"/>
<circle cx="134.05" cy="190.63" r="2.6" fill="none" stroke="#3d65a0" stroke-width="1"/>
<circle cx="145.29" cy="233.98" r="2.6" fill="none" stroke="#3d65a0" stroke-width="1"/>
<circle cx="112.37" cy="172.75" r="2.6" fill="none" stroke="#3d65a0" stroke-width="1"/>
<circle cx="129.99" cy="112.74" r="2.6" fill="none" stroke="#3d65a0" stroke-width="1"/>
<path d="M21.6 146.6h0M27.7 146.6h0M33.1 146.6h0M130 113.7h0" stroke="#7a3f86" stroke-width="2" stroke-linecap="round" fill="none"/></g>
<clipPath id="c10"><rect x="221.4" y="71" width="209.2" height="202.3"/></clipPath><g clip-path="url(#c10)" stroke-linecap="round" stroke-width="3"><rect x="221.4" y="71" width="209.2" height="202.3" fill="#d7e7d4"/><line x1="224.4" y1="75.2" x2="427.6" y2="75.2" stroke="#b5c3c6" stroke-width="2" stroke-linecap="round" opacity="0.7" stroke-dasharray="0 5.3" stroke-dashoffset="0.0"/>
<line x1="224.4" y1="77.8" x2="427.6" y2="77.8" stroke="#b5c3c6" stroke-width="2" stroke-linecap="round" opacity="0.7" stroke-dasharray="0 5.3" stroke-dashoffset="2.6"/>
<line x1="225.6" y1="74" x2="225.6" y2="270.3" stroke="#b5c3c6" stroke-width="2" stroke-linecap="round" opacity="0.7" stroke-dasharray="0 5.3" stroke-dashoffset="0.0"/>
<line x1="228.2" y1="74" x2="228.2" y2="270.3" stroke="#b5c3c6" stroke-width="2" stroke-linecap="round" opacity="0.7" stroke-dasharray="0 5.3" stroke-dashoffset="2.6"/>
<line x1="224.4" y1="269.1" x2="427.6" y2="269.1" stroke="#b5c3c6" stroke-width="2" stroke-linecap="round" opacity="0.7" stroke-dasharray="0 5.3" stroke-dashoffset="0.0"/>
<line x1="224.4" y1="266.5" x2="427.6" y2="266.5" stroke="#b5c3c6" stroke-width="2" stroke-linecap="round" opacity="0.7" stroke-dasharray="0 5.3" stroke-dashoffset="2.6"/>
<line x1="426.4" y1="74" x2="426.4" y2="270.3" stroke="#b5c3c6" stroke-width="2" stroke-linecap="round" opacity="0.7" stroke-dasharray="0 5.3" stroke-dashoffset="0.0"/>
<line x1="423.8" y1="74" x2="423.8" y2="270.3" stroke="#b5c3c6" stroke-width="2" stroke-linecap="round" opacity="0.7" stroke-dasharray="0 5.3" stroke-dashoffset="2.6"/>
<polyline points="253.25,87 259.35,82.93 263.41,80.22" fill="none" stroke="#5a4a66" stroke-width="1.4" stroke-linecap="round" stroke-linejoin="round" />
<polyline points="231.58,110.7 240.38,102.58 260.7,95.13 302.7,89.03" fill="none" stroke="#a58cc0" stroke-width="2" stroke-linecap="round" stroke-linejoin="round" />
<polygon points="231.17,110.7 240.38,102.85 260.7,95.53 302.7,89.3 337.92,84.56 371.79,82.53 405.66,79.55 412.43,82.93 411.75,106.64 415.14,125.61 417.85,160.83 419.88,201.47 420.56,217.72 416.49,221.79 417.85,252.95 408.37,255.66 351.47,262.43 256.64,263.78 251.9,255.66 248.51,235.34 245.13,201.47 242.42,154.05 234.97,143.22 230.9,120.19" fill="#4878b3"/>
<polygon points="366.37,90.38 375.85,86.32 405.66,79.55 412.43,82.93 411.75,88.35 402.95,91.74 385.34,93.09 374.5,99.87 365.02,105.29 363.66,98.51" fill="#ee7d28"/>
<path d="M237 125.2h0M258.9 122.5h0M302.3 116.8h0M315 120.9h0M332 121.1h0M295.9 134.1h0M300.9 134.1h0M290.1 163.8h0M369.2 126.7h0M377.9 107.7h0M394.8 201.1h0M399 248.6h0M267.5 253.6h0M267.5 256.7h0M303.4 90.4h0M346.7 261.1h0M348.8 263.1h0M401.6 93.8h0" stroke="#ee7d28" stroke-width="3" stroke-linecap="round" fill="none"/>
<path d="M394.1 96.1h0M348.1 198.5h0M373.8 231.3h0" stroke="#6a5aa8" stroke-width="2.4" stroke-linecap="round" fill="none"/></g>
<clipPath id="c20"><rect x="434" y="71" width="209.2" height="202.3"/></clipPath><g clip-path="url(#c20)" stroke-linecap="round" stroke-width="3"><rect x="434" y="71" width="209.2" height="202.3" fill="#d9d7db"/><line x1="437" y1="75.2" x2="640.2" y2="75.2" stroke="#8e8e98" stroke-width="2" stroke-linecap="round" opacity="0.85" stroke-dasharray="0 5.3" stroke-dashoffset="0.0"/>
<line x1="437" y1="77.8" x2="640.2" y2="77.8" stroke="#8e8e98" stroke-width="2" stroke-linecap="round" opacity="0.85" stroke-dasharray="0 5.3" stroke-dashoffset="2.6"/>
<line x1="438.2" y1="74" x2="438.2" y2="270.3" stroke="#8e8e98" stroke-width="2" stroke-linecap="round" opacity="0.85" stroke-dasharray="0 5.3" stroke-dashoffset="0.0"/>
<line x1="440.8" y1="74" x2="440.8" y2="270.3" stroke="#8e8e98" stroke-width="2" stroke-linecap="round" opacity="0.85" stroke-dasharray="0 5.3" stroke-dashoffset="2.6"/>
<line x1="437" y1="269.1" x2="640.2" y2="269.1" stroke="#8e8e98" stroke-width="2" stroke-linecap="round" opacity="0.85" stroke-dasharray="0 5.3" stroke-dashoffset="0.0"/>
<line x1="437" y1="266.5" x2="640.2" y2="266.5" stroke="#8e8e98" stroke-width="2" stroke-linecap="round" opacity="0.85" stroke-dasharray="0 5.3" stroke-dashoffset="2.6"/>
<line x1="639" y1="74" x2="639" y2="270.3" stroke="#8e8e98" stroke-width="2" stroke-linecap="round" opacity="0.85" stroke-dasharray="0 5.3" stroke-dashoffset="0.0"/>
<line x1="636.4" y1="74" x2="636.4" y2="270.3" stroke="#8e8e98" stroke-width="2" stroke-linecap="round" opacity="0.85" stroke-dasharray="0 5.3" stroke-dashoffset="2.6"/>
<polygon points="584.79,262.43 643.04,261.07 643.04,273.27 609.17,273.27 598.34,267.85" fill="#6a2d5c"/>
<polygon points="632.88,136.44 643.04,136.44 643.04,152.7 633.56,152.7" fill="#f4f4f4"/>
<polygon points="632.2,171.67 643.04,171.67 643.04,187.92 632.88,187.92" fill="#ececec"/>
<polyline points="441.19,86.32 449.32,78.87 510.28,77.51 537.37,80.22 564.47,78.87 591.56,82.26 618.66,84.97 628.14,97.16 630.85,120.19" fill="none" stroke="#d78cc6" stroke-width="1.4" stroke-linecap="round" stroke-linejoin="round" />
<polygon points="443.9,80.9 531.96,81.58 534.67,86.32 618.66,86.32 629.49,99.87 632.2,131.02 632.88,160.83 630.85,187.92 633.56,201.47 629.49,235.34 628.14,262.43 578.02,261.07 544.15,258.37 510.28,261.07 476.41,258.37 456.09,259.72 446.61,255.66 446.61,246.17 448.64,201.47 447.97,152.7 443.9,120.19 448.64,93.09" fill="#4878b3"/>
<polygon points="534.67,86.32 618.66,86.32 629.49,99.87 624.07,110.7 617.3,109.35 618.66,97.16 605.11,90.38 598.34,97.16 591.56,91.06 580.72,93.09 572.6,105.29 565.82,103.93 564.47,98.51 559.05,89.71 534.67,90.11" fill="url(#p0)"/>
<polygon points="568.53,120.19 573.27,120.19 574.63,154.05 575.98,178.44 570.56,178.44 569.21,154.05" fill="url(#p1)"/>
<path d="M460.2 84.3h0M456.1 93.8h0M462.2 92.4h0M465.6 90.4h0M471 93.1h0M481.2 91.1h0M484.5 89h0M490 91.1h0M494 91.7h0M498.1 91.1h0M510.3 86.3h0M510.3 90.4h0M515 84.3h0M529.9 90.4h0M464.2 113h0M515.3 119.8h0M537.4 106.4h0M535.1 125.6h0M568.9 113.7h0M576.7 115h0M586.1 103.3h0M596 109.1h0M592.9 98.9h0M610.5 94.7h0M621.4 114.1h0M603.1 122.6h0M601 128.6h0M622.7 128.3h0M625.4 132.7h0M618 139.8h0M613 157.7h0M547.1 164.9h0M580 177.4h0M574 183.9h0M544.8 195.8h0M552 200.1h0M525.2 204.6h0M576.7 212.3h0M576.7 215h0M625.4 202.8h0M627.9 177.1h0M627.9 186.6h0M625.4 226.3h0M630.6 231.9h0M588.9 239.4h0M586.4 249.8h0M576.7 252.7h0M549.6 250.9h0M559.5 254h0M476.7 257.3h0M525.5 257.3h0M544.8 257.3h0M549.6 257.3h0M496.1 260.4h0M571.2 138.7h0M571.2 145.9h0M569.2 151.6h0" stroke="#ee7d28" stroke-width="3" stroke-linecap="round" fill="none"/>
<path d="M449.3 86.3h0M454.1 86.3h0M494 118.2h0M513.3 112.5h0M566.5 144.3h0" stroke="#3c3c7c" stroke-width="2.5" stroke-linecap="round" fill="none"/>
<polyline points="610.53,147.28 621.37,136.44 632.2,129.67" fill="none" stroke="#6f9fd0" stroke-width="1.6" stroke-linecap="round" stroke-linejoin="round" opacity="0.7"/>
<polyline points="598.34,158.12 601.04,152.7" fill="none" stroke="#6f9fd0" stroke-width="1.6" stroke-linecap="round" stroke-linejoin="round" opacity="0.7"/>
<polyline points="615.95,181.15 624.07,163.54" fill="none" stroke="#6f9fd0" stroke-width="1.6" stroke-linecap="round" stroke-linejoin="round" opacity="0.7"/></g>
<clipPath id="c30"><rect x="647" y="71" width="209.2" height="202.3"/></clipPath><g clip-path="url(#c30)" stroke-linecap="round" stroke-width="3"><rect x="647" y="71" width="209.2" height="202.3" fill="#c9cfc9"/><line x1="852" y1="74" x2="852" y2="270.3" stroke="#a8aeb0" stroke-width="2" stroke-linecap="round" opacity="0.6" stroke-dasharray="0 5.3" stroke-dashoffset="0.0"/>
<line x1="849.4" y1="74" x2="849.4" y2="270.3" stroke="#a8aeb0" stroke-width="2" stroke-linecap="round" opacity="0.6" stroke-dasharray="0 5.3" stroke-dashoffset="2.6"/>
<polygon points="656.22,87.67 709.73,87.67 763.92,87 818.11,82.93 831.66,80.22 843.85,83.61 845.2,120.19 847.91,187.92 851.3,242.11 853.33,250.24 838.43,255.66 804.56,261.07 800.5,266.49 763.92,265.14 682.64,273.27 677.22,265.14 663.67,259.72 659.61,215.02 658.26,160.83 656.22,120.19" fill="#7b7382"/>
<polygon points="656.22,87.67 763.92,87 818.11,82.93 830.3,80.9 839.78,99.87 841.14,133.73 831.66,152.7 811.34,163.54 797.79,173.02 784.24,166.25 763.92,163.54 736.83,160.83 712.44,167.6 696.19,160.83 675.87,158.12 659.61,160.83 656.9,120.19" fill="url(#p2)"/>
<polygon points="658.26,105.29 709.73,102.58 763.92,106.64 763.92,129.67 709.73,133.73 682.64,147.28 658.26,149.99" fill="url(#p3)"/>
<polygon points="797.79,87.67 830.3,80.9 839.78,99.87 841.14,133.73 834.37,152.7 818.11,158.12 797.79,147.28 811.34,120.19" fill="url(#p4)"/>
<polygon points="659.61,173.02 696.19,168.96 712.44,167.6 736.83,163.54 763.92,163.54 784.24,166.25 797.79,173.02 811.34,163.54 831.66,152.7 842.49,147.28 843.85,187.92 845.2,228.56 846.56,252.95 804.56,258.37 663.67,259.72 660.97,215.02" fill="url(#p5)"/>
<polygon points="659.61,160.83 696.19,161.51 712.44,168.96 696.19,173.02 659.61,178.44" fill="url(#p6)"/>
<polygon points="662.32,194.69 682.64,187.92 707.02,186.57 736.83,191.99 753.08,200.11 736.83,202.82 717.86,201.47 696.19,196.05 675.87,201.47 662.32,201.47" fill="url(#p7)"/>
<polygon points="707.02,186.57 717.86,183.86 728.7,187.92 723.28,191.99 712.44,191.99" fill="#ee7d28"/>
<polygon points="744.96,187.92 763.92,181.15 770.69,185.21 757.15,196.05 750.37,196.05" fill="url(#p8)"/>
<polygon points="801.85,187.92 811.34,181.15 822.17,185.21 842.49,201.47 842.49,219.08 831.66,215.02 815.4,201.47 807.27,196.05" fill="url(#p9)"/>
<polygon points="754.44,191.99 777.47,185.21 797.79,186.57 811.34,196.05 818.11,206.89 831.66,216.37 842.49,225.85 842.49,232.63 824.88,225.85 804.56,212.31 784.24,201.47 763.92,198.76" fill="#7b7382"/>
<polygon points="663.67,223.14 709.73,217.72 750.37,215.02 791.02,221.79 818.11,228.56 845.2,235.34 846.56,252.95 804.56,258.37 663.67,259.72" fill="url(#p10)"/>
<polygon points="669.09,242.11 763.92,239.4 811.34,242.11 804.56,258.37 675.87,261.07" fill="url(#p11)"/>
<polygon points="814.04,91.74 824.88,86.32 830.3,90.38 818.11,97.84" fill="#df7fd3"/></g>
<clipPath id="c40"><rect x="859.5" y="71" width="209.2" height="202.3"/></clipPath><g clip-path="url(#c40)" stroke-linecap="round" stroke-width="3"><rect x="859.5" y="71" width="209.2" height="202.3" fill="#ced4d0"/><line x1="863.7" y1="74" x2="863.7" y2="270.3" stroke="#b4babb" stroke-width="2" stroke-linecap="round" opacity="0.5" stroke-dasharray="0 5.3" stroke-dashoffset="0.0"/>
<line x1="866.3" y1="74" x2="866.3" y2="270.3" stroke="#b4babb" stroke-width="2" stroke-linecap="round" opacity="0.5" stroke-dasharray="0 5.3" stroke-dashoffset="2.6"/>
<line x1="862.5" y1="269.1" x2="1065.7" y2="269.1" stroke="#b4babb" stroke-width="2" stroke-linecap="round" opacity="0.5" stroke-dasharray="0 5.3" stroke-dashoffset="0.0"/>
<line x1="862.5" y1="266.5" x2="1065.7" y2="266.5" stroke="#b4babb" stroke-width="2" stroke-linecap="round" opacity="0.5" stroke-dasharray="0 5.3" stroke-dashoffset="2.6"/>
<polygon points="942.05,129.67 948.83,126.96 969.15,132.38 982.69,133.73 1003.02,122.9 1030.11,118.83 1043.66,113.41 1055.85,112.06 1058.56,120.19 1055.85,187.92 1054.49,248.88 1030.11,248.88 1003.02,250.24 982.69,250.24 962.37,255.66 948.83,255.66 940.7,242.11 931.22,221.79 933.93,201.47 927.15,160.83 932.57,136.44" fill="url(#p12)"/>
<polygon points="973.21,163.54 1054.49,160.83 1054.49,248.88 982.69,248.88 975.92,215.02 966.44,194.69" fill="url(#p13)"/>
<polygon points="1034.17,187.92 1055.85,187.92 1055.85,198.76 1034.17,196.05" fill="url(#p14)"/>
<polygon points="885.16,99.87 910.9,91.74 929.86,86.32 948.83,83.61 973.21,82.93 1003.02,86.32 1030.11,89.03 1047.72,80.22 1049.75,83.61 1035.53,93.09 1051.78,98.51 1055.85,112.06 1043.66,113.41 1030.11,118.83 1003.02,122.9 982.69,133.73 969.15,132.38 948.83,126.96 940.7,124.25 921.73,113.41 901.41,105.29" fill="#ee7d28"/>
<polygon points="874.32,102.58 885.16,99.87 901.41,105.29 921.73,113.41 940.7,124.25 942.05,129.67 932.57,136.44 927.15,160.83 933.93,201.47 931.22,221.79 940.7,242.11 948.83,255.66 935.28,261.07 920.38,265.14 894.64,258.37 879.74,258.37 881.09,242.11 878.38,201.47 874.32,160.83 870.26,120.19" fill="url(#p15)"/>
<polygon points="908.19,201.47 933.93,201.47 931.22,221.79 940.7,242.11 928.51,252.95 901.41,242.11" fill="url(#p16)"/>
<polygon points="929.86,141.86 962.37,133.73 969.15,149.99 948.83,154.05 935.28,152.7" fill="url(#p17)"/>
<polygon points="870.26,101.22 882.45,101.22 881.09,141.86 872.97,141.86 870.26,120.19" fill="url(#p18)"/>
<path d="M900.1 132.8h0M894.6 136.4h0M889.9 139.8h0M893.3 144.6h0M883.1 151.3h0M891.9 152.7h0M896 158.8h0M883.1 166.9h0M883.8 182.8h0M903 193.1h0M883.1 222.7h0M887.2 252.9h0M890.6 255h0M906.8 257.7h0" stroke="#46a83c" stroke-width="3" stroke-linecap="round" fill="none"/>
<polygon points="864.84,161.51 870.93,162.45 868.22,168.96" fill="#5a5060"/></g>
<clipPath id="c50"><rect x="1072" y="71" width="209.2" height="202.3"/></clipPath><g clip-path="url(#c50)" stroke-linecap="round" stroke-width="3"><rect x="1072" y="71" width="209.2" height="202.3" fill="#c9cfca"/><line x1="1075" y1="75.2" x2="1278.2" y2="75.2" stroke="#aab0b2" stroke-width="2" stroke-linecap="round" opacity="0.5" stroke-dasharray="0 5.3" stroke-dashoffset="0.0"/>
<line x1="1075" y1="77.8" x2="1278.2" y2="77.8" stroke="#aab0b2" stroke-width="2" stroke-linecap="round" opacity="0.5" stroke-dasharray="0 5.3" stroke-dashoffset="2.6"/>
<line x1="1076.2" y1="74" x2="1076.2" y2="270.3" stroke="#aab0b2" stroke-width="2" stroke-linecap="round" opacity="0.5" stroke-dasharray="0 5.3" stroke-dashoffset="0.0"/>
<line x1="1078.8" y1="74" x2="1078.8" y2="270.3" stroke="#aab0b2" stroke-width="2" stroke-linecap="round" opacity="0.5" stroke-dasharray="0 5.3" stroke-dashoffset="2.6"/>
<line x1="1075" y1="269.1" x2="1278.2" y2="269.1" stroke="#aab0b2" stroke-width="2" stroke-linecap="round" opacity="0.5" stroke-dasharray="0 5.3" stroke-dashoffset="0.0"/>
<line x1="1075" y1="266.5" x2="1278.2" y2="266.5" stroke="#aab0b2" stroke-width="2" stroke-linecap="round" opacity="0.5" stroke-dasharray="0 5.3" stroke-dashoffset="2.6"/>
<line x1="1277" y1="74" x2="1277" y2="270.3" stroke="#aab0b2" stroke-width="2" stroke-linecap="round" opacity="0.5" stroke-dasharray="0 5.3" stroke-dashoffset="0.0"/>
<line x1="1274.4" y1="74" x2="1274.4" y2="270.3" stroke="#aab0b2" stroke-width="2" stroke-linecap="round" opacity="0.5" stroke-dasharray="0 5.3" stroke-dashoffset="2.6"/>
<polygon points="1084.61,94.45 1130.67,94.45 1137.44,89.03 1175.37,85.64 1216.02,82.26 1243.11,82.93 1256.66,86.32 1263.43,93.09 1262.07,120.19 1264.11,174.37 1268.85,215.02 1270.88,246.17 1256.66,255.66 1243.11,259.72 1175.37,262.43 1134.73,263.78 1094.09,264.46 1090.03,242.11 1085.97,215.02 1089.35,183.86 1084.61,147.28 1082.58,136.44 1084.61,106.64" fill="url(#p19)"/>
<polygon points="1084.61,94.45 1094.09,101.22 1096.8,120.19 1121.19,126.96 1148.28,160.83 1175.37,187.92 1202.47,201.47 1243.11,215.02 1270.2,215.02 1270.88,246.17 1256.66,255.66 1243.11,259.72 1175.37,262.43 1094.09,264.46 1090.03,242.11 1085.97,215.02 1089.35,183.86 1084.61,147.28 1082.58,136.44" fill="url(#p20)"/>
<polygon points="1084.61,94.45 1094.09,101.22 1096.8,120.19 1098.16,147.28 1107.64,158.12 1127.96,163.54 1137.44,178.44 1148.28,187.92 1155.05,201.47 1175.37,215.02 1188.92,228.56 1216.02,236.69 1243.11,240.75 1270.2,239.4 1270.88,246.17 1256.66,255.66 1243.11,259.72 1175.37,262.43 1094.09,264.46 1090.03,242.11 1085.97,215.02 1089.35,183.86 1084.61,147.28 1082.58,136.44" fill="url(#p21)"/>
<polygon points="1089.35,183.86 1127.96,187.92 1148.28,215.02 1175.37,235.34 1229.56,250.24 1243.11,259.72 1175.37,262.43 1094.09,264.46 1090.03,242.11 1085.97,215.02" fill="url(#p22)"/>
<polygon points="1218.72,82.26 1226.85,81.58 1228.88,86.32 1222.79,88.35" fill="#d63031"/>
<polygon points="1245.82,91.74 1256.66,86.32 1262.07,90.38 1253.95,97.16" fill="#c0b4c4"/></g>
<clipPath id="c60"><rect x="1284.5" y="71" width="209.2" height="202.3"/></clipPath><g clip-path="url(#c60)" stroke-linecap="round" stroke-width="3"><rect x="1284.5" y="71" width="209.2" height="202.3" fill="#ced2cc"/><line x1="1287.5" y1="75.2" x2="1490.7" y2="75.2" stroke="#b6bab8" stroke-width="2" stroke-linecap="round" opacity="0.4" stroke-dasharray="0 5.3" stroke-dashoffset="0.0"/>
<line x1="1287.5" y1="77.8" x2="1490.7" y2="77.8" stroke="#b6bab8" stroke-width="2" stroke-linecap="round" opacity="0.4" stroke-dasharray="0 5.3" stroke-dashoffset="2.6"/>
<line x1="1287.5" y1="269.1" x2="1490.7" y2="269.1" stroke="#b6bab8" stroke-width="2" stroke-linecap="round" opacity="0.4" stroke-dasharray="0 5.3" stroke-dashoffset="0.0"/>
<line x1="1287.5" y1="266.5" x2="1490.7" y2="266.5" stroke="#b6bab8" stroke-width="2" stroke-linecap="round" opacity="0.4" stroke-dasharray="0 5.3" stroke-dashoffset="2.6"/>
<polygon points="1301.35,94.45 1346.73,90.38 1387.37,86.32 1414.47,82.93 1453.75,80.22 1468.66,86.32 1474.07,99.87 1474.07,133.73 1475.43,174.37 1478.14,215.02 1483.56,246.17 1475.43,252.95 1414.47,257.01 1373.83,261.07 1360.28,262.43 1307.45,261.07 1306.09,242.11 1303.38,215.02 1300.67,187.92 1297.97,160.83 1293.9,133.73 1293.22,109.35 1301.35,106.64" fill="url(#p23)"/>
<polygon points="1301.35,94.45 1346.73,90.38 1387.37,86.32 1414.47,82.93 1445.63,80.9 1448.34,86.32 1428.02,99.87 1414.47,110.7 1394.15,117.48 1373.83,126.96 1360.28,136.44 1353.51,160.83 1326.41,164.89 1330.48,174.37 1312.87,181.15 1300.67,178.44 1297.97,160.83 1293.9,133.73 1293.22,109.35 1301.35,106.64" fill="url(#p24)"/>
<polygon points="1360.28,136.44 1373.83,126.96 1394.15,117.48 1398.21,126.96 1373.83,147.28 1354.86,160.83" fill="url(#p25)"/>
<polygon points="1421.24,136.44 1474.07,131.02 1475.43,174.37 1478.14,215.02 1465.95,215.02 1464.59,242.11 1453.75,251.59 1414.47,257.01 1392.79,246.17 1373.83,255.66 1367.05,242.11 1354.86,219.08 1362.99,208.24 1373.83,194.69 1380.6,174.37 1400.92,163.54 1407.69,147.28" fill="url(#p26)"/>
<polyline points="1390.08,197.4 1407.69,196.73 1421.24,198.08 1432.08,196.05 1445.63,196.73" fill="none" stroke="#e2e2e0" stroke-width="1.6" stroke-linecap="round" stroke-linejoin="round" />
<polygon points="1465.95,215.02 1478.14,215.02 1483.56,246.17 1475.43,252.95 1453.75,251.59 1464.59,242.11" fill="url(#p27)"/>
<polygon points="1306.09,242.11 1312.87,242.11 1319.64,259.72 1307.45,261.07" fill="url(#p8)"/>
<polygon points="1315.58,95.8 1323.7,95.13 1323.7,105.29 1316.93,105.29" fill="#df7fd3"/>
<polygon points="1394.15,116.12 1402.28,113.41 1404.99,121.54 1396.86,122.9" fill="#df7fd3"/>
<polygon points="1380.6,254.98 1391.44,251.59 1392.79,255.66 1387.37,261.07" fill="#ee7d28"/>
<path d="M1461.9 170.3h0M1462.6 173h0M1355.5 236h0M1356.9 238.7h0M1358.2 266.5h0" stroke="#111" stroke-width="2.6" stroke-linecap="round" fill="none"/></g>
<clipPath id="c70"><rect x="1497" y="71" width="209.2" height="202.3"/></clipPath><g clip-path="url(#c70)" stroke-linecap="round" stroke-width="3"><rect x="1497" y="71" width="209.2" height="202.3" fill="#c4c4c4"/><line x1="1500" y1="75.2" x2="1703.2" y2="75.2" stroke="#9fa3ac" stroke-width="2" stroke-linecap="round" opacity="0.8" stroke-dasharray="0 5.3" stroke-dashoffset="0.0"/>
<line x1="1500" y1="77.8" x2="1703.2" y2="77.8" stroke="#9fa3ac" stroke-width="2" stroke-linecap="round" opacity="0.8" stroke-dasharray="0 5.3" stroke-dashoffset="2.6"/>
<line x1="1501.2" y1="74" x2="1501.2" y2="270.3" stroke="#9fa3ac" stroke-width="2" stroke-linecap="round" opacity="0.8" stroke-dasharray="0 5.3" stroke-dashoffset="0.0"/>
<line x1="1503.8" y1="74" x2="1503.8" y2="270.3" stroke="#9fa3ac" stroke-width="2" stroke-linecap="round" opacity="0.8" stroke-dasharray="0 5.3" stroke-dashoffset="2.6"/>
<line x1="1500" y1="269.1" x2="1703.2" y2="269.1" stroke="#9fa3ac" stroke-width="2" stroke-linecap="round" opacity="0.8" stroke-dasharray="0 5.3" stroke-dashoffset="0.0"/>
<line x1="1500" y1="266.5" x2="1703.2" y2="266.5" stroke="#9fa3ac" stroke-width="2" stroke-linecap="round" opacity="0.8" stroke-dasharray="0 5.3" stroke-dashoffset="2.6"/>
<line x1="1702" y1="74" x2="1702" y2="270.3" stroke="#9fa3ac" stroke-width="2" stroke-linecap="round" opacity="0.8" stroke-dasharray="0 5.3" stroke-dashoffset="0.0"/>
<line x1="1699.4" y1="74" x2="1699.4" y2="270.3" stroke="#9fa3ac" stroke-width="2" stroke-linecap="round" opacity="0.8" stroke-dasharray="0 5.3" stroke-dashoffset="2.6"/>
<polygon points="1512.32,83.61 1600.37,82.26 1607.15,86.32 1661.34,84.97 1668.11,80.9 1693.85,82.26 1695.2,133.73 1695.88,187.92 1696.56,242.11 1687.07,257.01 1668.11,259.72 1613.92,255.66 1573.28,261.07 1519.09,262.43 1513.67,248.88 1515.03,201.47 1512.32,181.15 1520.45,171.67 1513.67,163.54 1508.26,133.73 1507.58,113.41 1513.67,106.64 1508.26,94.45" fill="url(#p28)"/>
<polygon points="1512.32,83.61 1559.73,82.93 1562.44,120.19 1557.02,160.83 1559.73,201.47 1515.03,201.47 1512.32,181.15 1520.45,171.67 1513.67,163.54 1508.26,133.73 1507.58,113.41 1513.67,106.64 1508.26,94.45" fill="url(#p29)"/>
<polygon points="1513.67,86.32 1546.19,86.32 1543.48,113.41 1539.41,131.02 1509.61,128.32 1513.67,106.64" fill="url(#p30)"/>
<polygon points="1654.56,84.97 1668.11,80.9 1693.85,82.26 1695.2,133.73 1674.88,136.44 1657.27,120.19" fill="url(#p31)"/>
<polygon points="1668.11,136.44 1695.2,133.73 1695.88,201.47 1674.88,201.47" fill="url(#p32)"/>
<polygon points="1515.03,201.47 1586.83,201.47 1641.02,194.69 1695.88,201.47 1696.56,242.11 1687.07,257.01 1668.11,259.72 1613.92,255.66 1573.28,261.07 1519.09,262.43 1513.67,248.88" fill="url(#p33)"/>
<polyline points="1512.32,83.61 1546.19,80.22 1575.99,80.9 1600.37,82.26" fill="none" stroke="#5a5560" stroke-width="1.5" stroke-linecap="round" stroke-linejoin="round" /></g>
<clipPath id="c80"><rect x="1710" y="71" width="209.2" height="202.3"/></clipPath><g clip-path="url(#c80)" stroke-linecap="round" stroke-width="3"><rect x="1710" y="71" width="209.2" height="202.3" fill="#d0d0d0"/><line x1="1713" y1="75.2" x2="1916.2" y2="75.2" stroke="#aeb0b8" stroke-width="2" stroke-linecap="round" opacity="0.7" stroke-dasharray="0 5.3" stroke-dashoffset="0.0"/>
<line x1="1713" y1="77.8" x2="1916.2" y2="77.8" stroke="#aeb0b8" stroke-width="2" stroke-linecap="round" opacity="0.7" stroke-dasharray="0 5.3" stroke-dashoffset="2.6"/>
<line x1="1714.2" y1="74" x2="1714.2" y2="270.3" stroke="#aeb0b8" stroke-width="2" stroke-linecap="round" opacity="0.7" stroke-dasharray="0 5.3" stroke-dashoffset="0.0"/>
<line x1="1716.8" y1="74" x2="1716.8" y2="270.3" stroke="#aeb0b8" stroke-width="2" stroke-linecap="round" opacity="0.7" stroke-dasharray="0 5.3" stroke-dashoffset="2.6"/>
<line x1="1713" y1="269.1" x2="1916.2" y2="269.1" stroke="#aeb0b8" stroke-width="2" stroke-linecap="round" opacity="0.7" stroke-dasharray="0 5.3" stroke-dashoffset="0.0"/>
<line x1="1713" y1="266.5" x2="1916.2" y2="266.5" stroke="#aeb0b8" stroke-width="2" stroke-linecap="round" opacity="0.7" stroke-dasharray="0 5.3" stroke-dashoffset="2.6"/>
<line x1="1915" y1="74" x2="1915" y2="270.3" stroke="#aeb0b8" stroke-width="2" stroke-linecap="round" opacity="0.7" stroke-dasharray="0 5.3" stroke-dashoffset="0.0"/>
<line x1="1912.4" y1="74" x2="1912.4" y2="270.3" stroke="#aeb0b8" stroke-width="2" stroke-linecap="round" opacity="0.7" stroke-dasharray="0 5.3" stroke-dashoffset="2.6"/>
<polygon points="1717.19,83.61 1759.19,74.13 1807.96,71.42 1901.43,71.42 1901.43,83.61 1732.09,90.38 1726.67,255.66 1719.9,255.66 1718.55,133.73" fill="#a39ba1"/>
<polyline points="1807.28,71.42 1809.31,83.61" fill="none" stroke="#4a464c" stroke-width="1.5" stroke-linecap="round" stroke-linejoin="round" />
<path d="M1860.8 79.5h0M1727.4 82.9h0M1749.7 80.9h0M1722.6 254.3h0" stroke="#2a2630" stroke-width="2.6" stroke-linecap="round" fill="none"/>
<polygon points="1719.9,93.09 1732.09,87.67 1786.28,84.97 1840.47,82.26 1901.43,79.55 1906.85,86.32 1905.49,133.73 1906.85,215.02 1902.78,228.56 1908.2,242.11 1894.66,254.3 1840.47,257.01 1799.83,258.37 1752.41,262.43 1729.38,261.07 1725.32,215.02 1722.61,160.83 1721.26,120.19" fill="url(#p34)"/>
<polygon points="1786.28,103.93 1826.92,106.64 1854.02,120.19 1860.79,160.83 1864.85,201.47 1860.79,248.88 1799.83,258.37 1752.41,262.43 1729.38,261.07 1725.32,215.02 1723.97,160.83 1745.64,147.28 1772.73,133.73" fill="url(#p35)"/>
<polygon points="1725.32,201.47 1759.19,201.47 1772.73,235.34 1765.96,258.37 1729.38,261.07" fill="url(#p36)"/>
<polygon points="1845.89,83.61 1881.11,83.61 1901.43,93.09 1894.66,113.41 1854.02,110.7" fill="url(#p37)"/>
<polygon points="1723.97,141.86 1772.73,149.99 1770.02,187.92 1725.32,187.92" fill="url(#p38)"/></g>
<clipPath id="c01"><rect x="9" y="301.25" width="209.2" height="202.3"/></clipPath><g clip-path="url(#c01)" stroke-linecap="round" stroke-width="3"><rect x="9" y="301.25" width="209.2" height="202.3" fill="#e7e7e9"/><line x1="13.2" y1="304.25" x2="13.2" y2="500.55" stroke="#d0d0d6" stroke-width="2" stroke-linecap="round" opacity="0.5" stroke-dasharray="0 5.3" stroke-dashoffset="0.0"/>
<line x1="15.8" y1="304.25" x2="15.8" y2="500.55" stroke="#d0d0d6" stroke-width="2" stroke-linecap="round" opacity="0.5" stroke-dasharray="0 5.3" stroke-dashoffset="2.6"/>
<line x1="12" y1="499.35" x2="215.2" y2="499.35" stroke="#d0d0d6" stroke-width="2" stroke-linecap="round" opacity="0.5" stroke-dasharray="0 5.3" stroke-dashoffset="0.0"/>
<line x1="12" y1="496.75" x2="215.2" y2="496.75" stroke="#d0d0d6" stroke-width="2" stroke-linecap="round" opacity="0.5" stroke-dasharray="0 5.3" stroke-dashoffset="2.6"/>
<polygon points="12.13,472.11 17.55,458.56 18.9,493.78 12.13,493.78" fill="#3a2a4a"/>
<polygon points="24.32,342.06 29.74,323.09 36.51,317 69.02,320.38 74.44,311.58 79.86,319.03 85.28,317.67 119.15,319.71 153.02,323.09 180.11,325.13 200.43,323.09 207.2,332.58 205.85,363.73 203.14,388.12 196.37,397.6 193.66,417.92 193.66,445.02 189.59,465.34 190.95,482.95 177.4,481.59 153.02,479.56 112.37,480.91 85.28,484.3 58.19,485.66 37.87,489.72 18.9,493.78 17.55,458.56 19.58,417.92 20.26,390.83 24.32,363.73" fill="#3f79b6"/>
<polygon points="25.67,332.58 29.74,323.09 36.51,317 48.7,321.06 62.25,323.09 63.61,331.22 54.12,336.64 44.64,339.35 33.8,338 25.67,340.7" fill="url(#p39)"/>
<polygon points="166.56,324.45 200.43,322.42 207.88,332.58 199.07,335.29 184.17,331.22 169.27,328.51" fill="url(#p40)"/>
<polygon points="98.83,320.38 166.56,323.09 166.56,326.48 98.83,323.09" fill="url(#p41)"/>
<path d="M23.4 353.4h0M22.1 370.6h0M25 342.2h0M24.4 353.4h0M20.9 383.2h0M24 350.2h0M19.7 412.5h0M20.7 393.6h0M18.6 403.9h0M19.8 410.9h0M19.7 419.6h0M18.5 424.3h0M202.6 381.1h0M206.3 347.7h0M203.7 368.9h0M204.5 356.7h0M205.1 367.1h0M204.1 385.5h0M203.3 372h0M204.1 386.4h0M203.3 374.1h0M194.3 423.8h0M195.1 437.2h0M194 434.8h0M196.2 412.3h0M196.5 398.7h0M194.1 432.5h0M193.7 445.2h0M194.6 412.5h0M195.6 398.9h0M189.8 469.8h0M190 479.8h0M190.1 479.6h0M190.9 468.2h0M190.8 470.2h0M190.5 468.1h0M48.7 488.8h0M62.7 485.2h0M57.7 485.8h0M67.4 484.8h0M67.5 486h0M55 487.6h0M38 489.3h0M83 483.7h0M147.5 481.7h0M118 483h0M116.8 483.4h0M88.3 484.1h0M117.4 483.4h0M109.8 482.8h0M158.2 481.3h0M121.3 482.6h0M175 481h0M154.8 481.8h0M108.2 483.1h0M106.1 483.8h0M104.2 483.8h0M153.8 481.5h0M98.5 483.9h0M113.6 482.7h0M129.4 483.4h0M100.7 484.2h0M36.6 489.4h0M37.8 488.6h0M33.8 490.4h0M28.3 490.7h0M22.3 492.4h0" stroke="#ee7d28" stroke-width="3" stroke-linecap="round" fill="none"/>
<path d="M73.5 342.1h0M92.7 342.7h0M81.2 332.3h0M97.9 331.5h0M107 350.6h0M57.8 356.8h0M35.6 354.7h0M85.7 366h0M80.3 369.8h0M107.9 367.8h0M135.1 363.1h0M167.9 357.9h0M156.1 340.7h0M175.6 341.4h0M172.7 336.2h0M116.7 376.3h0M135.8 377.3h0M149.8 378h0M161.1 388.1h0M172.4 391.1h0M139.1 389.5h0M43.3 385.4h0M45.3 384.1h0M137.2 405.5h0M112.6 408.2h0M134.7 414.1h0M159.8 417.9h0M35.6 412.8h0M52.4 419h0M130 425.1h0M175 427.4h0M173.3 429.4h0M146.6 431.1h0M119.1 433.1h0M86 430.9h0M55.9 430.9h0M100.2 439.2h0M100.5 446.1h0M141.8 445.6h0M164 451.2h0M142.2 456.1h0M95.2 457.2h0M98.4 462.2h0M186.5 457.2h0M86.6 468h0M85.3 470.8h0M83.9 473.5h0M96.1 471h0M143.1 470.2h0M126.6 474.5h0M54.8 475.2h0M27.7 480.2h0M85.3 483.6h0M73.1 313.6h0M77.8 312.9h0" stroke="#ee7d28" stroke-width="3" stroke-linecap="round" fill="none"/></g>
<clipPath id="c11"><rect x="221.4" y="301.25" width="209.2" height="202.3"/></clipPath><g clip-path="url(#c11)" stroke-linecap="round" stroke-width="3"><rect x="221.4" y="301.25" width="209.2" height="202.3" fill="#d5e5d5"/><line x1="224.4" y1="305.45" x2="427.6" y2="305.45" stroke="#b8c6c8" stroke-width="2" stroke-linecap="round" opacity="0.6" stroke-dasharray="0 5.3" stroke-dashoffset="0.0"/>
<line x1="224.4" y1="308.05" x2="427.6" y2="308.05" stroke="#b8c6c8" stroke-width="2" stroke-linecap="round" opacity="0.6" stroke-dasharray="0 5.3" stroke-dashoffset="2.6"/>
<line x1="225.6" y1="304.25" x2="225.6" y2="500.55" stroke="#b8c6c8" stroke-width="2" stroke-linecap="round" opacity="0.6" stroke-dasharray="0 5.3" stroke-dashoffset="0.0"/>
<line x1="228.2" y1="304.25" x2="228.2" y2="500.55" stroke="#b8c6c8" stroke-width="2" stroke-linecap="round" opacity="0.6" stroke-dasharray="0 5.3" stroke-dashoffset="2.6"/>
<line x1="224.4" y1="499.35" x2="427.6" y2="499.35" stroke="#b8c6c8" stroke-width="2" stroke-linecap="round" opacity="0.6" stroke-dasharray="0 5.3" stroke-dashoffset="0.0"/>
<line x1="224.4" y1="496.75" x2="427.6" y2="496.75" stroke="#b8c6c8" stroke-width="2" stroke-linecap="round" opacity="0.6" stroke-dasharray="0 5.3" stroke-dashoffset="2.6"/>
<line x1="426.4" y1="304.25" x2="426.4" y2="500.55" stroke="#b8c6c8" stroke-width="2" stroke-linecap="round" opacity="0.6" stroke-dasharray="0 5.3" stroke-dashoffset="0.0"/>
<line x1="423.8" y1="304.25" x2="423.8" y2="500.55" stroke="#b8c6c8" stroke-width="2" stroke-linecap="round" opacity="0.6" stroke-dasharray="0 5.3" stroke-dashoffset="2.6"/>
<polygon points="255.29,312.26 289.15,310.9 291.86,308.87 365.02,306.84 415.14,309.55 419.2,350.19 420.56,390.83 419.2,431.47 421.91,485.66 378.56,491.07 318.96,495.14 262.06,497.85 260.7,489.72 245.8,488.37" fill="#b58ec2"/>
<polygon points="230.9,324.45 249.87,315.64 276.96,316.32 290.51,313.61 365.02,310.22 412.43,308.87 413.78,336.64 416.49,377.28 417.85,431.47 420.56,485.66 378.56,488.37 324.37,491.07 263.41,493.78 264.77,488.37 245.13,488.37 243.09,472.11 237.67,451.79 236.32,404.37 233.61,371.86 234.97,342.06 231.58,340.7" fill="#4a7eb6"/>
<path d="M377 322.8h0M363.1 316.1h0M366.3 321.6h0M370.4 319.8h0M374.7 320h0M376 314.7h0M372.7 314.8h0M376.4 324.1h0" stroke="#9a7aa8" stroke-width="2.2" stroke-linecap="round" fill="none"/>
<path d="M394.9 335.5h0M396.2 331h0M397.9 333.8h0M394 337.6h0M400.1 337.2h0" stroke="#9a7aa8" stroke-width="2.2" stroke-linecap="round" fill="none"/>
<polyline points="295.93,495.14 308.12,494.05 317.6,495.82" fill="none" stroke="#3a3046" stroke-width="1.6" stroke-linecap="round" stroke-linejoin="round" />
<polyline points="420.56,445.02 427.33,442.98 426.65,447.05 421.23,449.08" fill="none" stroke="#4a4650" stroke-width="1.2" stroke-linecap="round" stroke-linejoin="round" />
<polyline points="283.06,313.34 287.12,313.34" fill="none" stroke="#2a2030" stroke-width="2" stroke-linecap="round" stroke-linejoin="round" /></g>
<clipPath id="c21"><rect x="434" y="301.25" width="209.2" height="202.3"/></clipPath><g clip-path="url(#c21)" stroke-linecap="round" stroke-width="3"><rect x="434" y="301.25" width="209.2" height="202.3" fill="#d5e3d5"/><line x1="438.2" y1="304.25" x2="438.2" y2="500.55" stroke="#bccaca" stroke-width="2" stroke-linecap="round" opacity="0.5" stroke-dasharray="0 5.3" stroke-dashoffset="0.0"/>
<line x1="440.8" y1="304.25" x2="440.8" y2="500.55" stroke="#bccaca" stroke-width="2" stroke-linecap="round" opacity="0.5" stroke-dasharray="0 5.3" stroke-dashoffset="2.6"/>
<line x1="437" y1="499.35" x2="640.2" y2="499.35" stroke="#bccaca" stroke-width="2" stroke-linecap="round" opacity="0.5" stroke-dasharray="0 5.3" stroke-dashoffset="0.0"/>
<line x1="437" y1="496.75" x2="640.2" y2="496.75" stroke="#bccaca" stroke-width="2" stroke-linecap="round" opacity="0.5" stroke-dasharray="0 5.3" stroke-dashoffset="2.6"/>
<polygon points="443.9,313.61 466.93,305.48 488.61,304.13 537.37,301.42 578.02,301.42 611.88,306.84 637.62,320.38 640.33,377.28 643.04,431.47 641.69,472.11 632.2,482.95 592.92,489.72 591.56,493.78 510.28,496.49 473.7,495.14 460.16,488.37 446.61,336.64" fill="#8d6e96"/>
<polygon points="445.26,316.32 452.03,312.93 523.83,312.26 598.34,310.22 618.66,313.61 630.85,320.38 632.2,363.73 633.56,417.92 633.56,482.95 602.4,487.01 592.92,489.04 591.56,492.43 550.92,491.07 523.83,493.78 475.06,495.14 471,492.43 460.84,488.37 460.16,465.34 469.64,468.04 466.93,458.56 457.45,449.08 458.13,417.92 455.42,390.83 450.67,356.96 446.61,336.64" fill="#4a7eb6"/>
<path d="M616.8 354h0M600.5 345.2h0M607.9 343.1h0M604.2 351.7h0M619.6 347.3h0M614.9 341.5h0M616.9 342.8h0M617 348h0M620 350.8h0M608 342.6h0M610.3 343.8h0M602.6 350h0M608.3 348.7h0M609.8 353.4h0" stroke="#96708e" stroke-width="2.3" stroke-linecap="round" fill="none"/>
<path d="M584.1 404.9h0M597.4 406.5h0M587.1 391.4h0M589.9 394.1h0M595.5 395.5h0M583.8 395.2h0M603.9 406.2h0M597.9 395.6h0M586.3 404.3h0M586.1 395.2h0M595.9 393.6h0M593.3 391.9h0M591.1 403.5h0M602 404.2h0M597.8 406.7h0M585.5 393.7h0" stroke="#96708e" stroke-width="2.3" stroke-linecap="round" fill="none"/>
<path d="M590.6 431.9h0M610.8 430.5h0M594.5 429.4h0M614.5 430.7h0M588.2 427.5h0M583.9 427.7h0M595.3 429h0M605.1 427.5h0M593.7 428.4h0M614.2 431.7h0M601.8 432.8h0M591.6 431.9h0" stroke="#96708e" stroke-width="2.3" stroke-linecap="round" fill="none"/>
<path d="M491.3 484.8h0M498.7 483h0M503.3 463.7h0M508.9 466.9h0M496.7 476.5h0M513.1 465h0M494.7 464.1h0M483.6 467h0M512 460.7h0M501.2 472h0M490.8 482.2h0M488.4 462.8h0M489.1 476.6h0M492 467.4h0M510 464h0M486.5 461.8h0M497.9 468.5h0M499 471.7h0M505.7 469.6h0M491.5 462h0M493.6 462.3h0M497.1 470.8h0M503.8 462.9h0M489.7 465.5h0M501.3 465h0M497.4 476h0" stroke="#96708e" stroke-width="2.3" stroke-linecap="round" fill="none"/>
<path d="M575.3 460h0M559.2 467.6h0M565 464.5h0M566.8 460.7h0M558.6 461.5h0M574 461.4h0M560.2 460.6h0M559.7 468.4h0M572 466.4h0M560.3 460.7h0" stroke="#96708e" stroke-width="2.3" stroke-linecap="round" fill="none"/>
<path d="M554.5 456.9h0M517.3 438.1h0M540.9 468.5h0M537.5 476h0M590.6 441.7h0M602.7 466h0M567.9 431.1h0M519.6 482.6h0M558.2 449.8h0M521.5 465.9h0M519.3 472h0M584.1 459.7h0M560.3 486.6h0M624.3 439.8h0M523.3 456h0M596.1 424.5h0M553.9 457.5h0M557.6 439.6h0M482.6 472.4h0M505.9 446.8h0M523.5 455.6h0M517.1 428.9h0M526.1 461.6h0M618.3 446.7h0M549.9 448.7h0M566 448.2h0M583.2 481.3h0M622.1 472.5h0M551.4 470.4h0M495.8 438.8h0M529.1 443.4h0M522.5 466.7h0M606.9 464.3h0M527.4 441.1h0M601.3 468.9h0M532.5 443.3h0M497 459.3h0M537.7 484.4h0M471.5 442.3h0M581.6 483.4h0" stroke="#96708e" stroke-width="2.1" stroke-linecap="round" fill="none"/>
<path d="M590.2 317.7h0M596.3 309.5h0M624.1 463.3h0M509.6 442.3h0M487.3 474.8h0" stroke="#2a2a48" stroke-width="2.4" stroke-linecap="round" fill="none"/></g>
<clipPath id="c31"><rect x="647" y="301.25" width="209.2" height="202.3"/></clipPath><g clip-path="url(#c31)" stroke-linecap="round" stroke-width="3"><rect x="647" y="301.25" width="209.2" height="202.3" fill="#c1c3c5"/><line x1="650" y1="305.45" x2="853.2" y2="305.45" stroke="#a6a8ae" stroke-width="2" stroke-linecap="round" opacity="0.5" stroke-dasharray="0 5.3" stroke-dashoffset="0.0"/>
<line x1="650" y1="308.05" x2="853.2" y2="308.05" stroke="#a6a8ae" stroke-width="2" stroke-linecap="round" opacity="0.5" stroke-dasharray="0 5.3" stroke-dashoffset="2.6"/>
<line x1="651.2" y1="304.25" x2="651.2" y2="500.55" stroke="#a6a8ae" stroke-width="2" stroke-linecap="round" opacity="0.5" stroke-dasharray="0 5.3" stroke-dashoffset="0.0"/>
<line x1="653.8" y1="304.25" x2="653.8" y2="500.55" stroke="#a6a8ae" stroke-width="2" stroke-linecap="round" opacity="0.5" stroke-dasharray="0 5.3" stroke-dashoffset="2.6"/>
<line x1="852" y1="304.25" x2="852" y2="500.55" stroke="#a6a8ae" stroke-width="2" stroke-linecap="round" opacity="0.5" stroke-dasharray="0 5.3" stroke-dashoffset="0.0"/>
<line x1="849.4" y1="304.25" x2="849.4" y2="500.55" stroke="#a6a8ae" stroke-width="2" stroke-linecap="round" opacity="0.5" stroke-dasharray="0 5.3" stroke-dashoffset="2.6"/>
<polygon points="648.1,328.51 682.64,320.38 705.67,316.32 791.02,311.58 841.14,312.93 843.85,363.73 850.62,417.92 850.62,485.66 831.66,491.07 791.02,499.2 750.37,503.27 675.87,503.27 671.8,485.66 669.09,431.47 663.67,377.28 662.32,336.64 652.84,335.29" fill="#8b8791"/>
<polygon points="671.8,465.34 696.19,472.11 723.28,465.34 750.37,458.56 763.92,465.34 757.15,485.66 804.56,488.37 818.11,491.07 791.02,499.2 750.37,501.91 682.64,501.91 671.8,492.43" fill="url(#p42)"/>
<polygon points="669.09,428.76 682.64,430.11 702.96,436.89 723.28,439.6 750.37,436.89 770.69,431.47 784.24,439.6 791.02,451.79 804.56,478.88 807.27,488.37 757.15,485.66 763.92,465.34 750.37,458.56 723.28,465.34 696.19,472.11 671.8,492.43 669.09,458.56" fill="url(#p43)"/>
<polygon points="656.9,328.51 682.64,321.06 705.67,316.32 791.02,311.99 824.88,312.26 818.11,323.09 797.79,336.64 777.47,352.9 763.92,370.51 750.37,384.05 730.05,404.37 709.73,417.92 689.41,426.05 666.38,426.05 663.67,377.28 662.32,336.64" fill="url(#p44)"/>
<polygon points="824.88,312.26 841.14,312.93 842.49,363.73 843.85,407.08 831.66,408.44 831.66,424.69 824.88,445.02 818.11,472.11 804.56,478.88 791.02,451.79 784.24,439.6 770.69,431.47 750.37,436.89 723.28,439.6 702.96,436.89 682.64,430.11 669.09,428.76 689.41,426.05 709.73,417.92 730.05,404.37 750.37,384.05 763.92,370.51 777.47,352.9 797.79,336.64 818.11,323.09" fill="url(#p45)"/>
<polygon points="824.88,312.26 841.14,312.93 842.49,363.73 818.11,370.51 811.34,350.19 804.56,333.93 818.11,323.09" fill="url(#p46)"/>
<polygon points="791.02,451.79 818.11,445.02 820.82,472.11 804.56,478.88" fill="url(#p47)"/>
<polyline points="780.18,417.24 797.79,401.67 822.17,375.25" fill="none" stroke="#df7fd3" stroke-width="3.4" stroke-linecap="round" stroke-linejoin="round" />
<polygon points="831.66,408.44 843.85,407.08 845.2,417.92 847.91,485.66 807.27,488.37 808.63,477.53 818.11,472.11 824.88,445.02 831.66,424.69" fill="#ee7d28"/>
<polygon points="678.58,336.64 689.41,335.29 690.77,347.48 679.93,347.48" fill="url(#p48)"/></g>
<clipPath id="c41"><rect x="859.5" y="301.25" width="209.2" height="202.3"/></clipPath><g clip-path="url(#c41)" stroke-linecap="round" stroke-width="3"><rect x="859.5" y="301.25" width="209.2" height="202.3" fill="#d9d9d9"/><line x1="862.5" y1="305.45" x2="1065.7" y2="305.45" stroke="#a6a8b2" stroke-width="2" stroke-linecap="round" opacity="0.8" stroke-dasharray="0 5.3" stroke-dashoffset="0.0"/>
<line x1="862.5" y1="308.05" x2="1065.7" y2="308.05" stroke="#a6a8b2" stroke-width="2" stroke-linecap="round" opacity="0.8" stroke-dasharray="0 5.3" stroke-dashoffset="2.6"/>
<line x1="863.7" y1="304.25" x2="863.7" y2="500.55" stroke="#a6a8b2" stroke-width="2" stroke-linecap="round" opacity="0.8" stroke-dasharray="0 5.3" stroke-dashoffset="0.0"/>
<line x1="866.3" y1="304.25" x2="866.3" y2="500.55" stroke="#a6a8b2" stroke-width="2" stroke-linecap="round" opacity="0.8" stroke-dasharray="0 5.3" stroke-dashoffset="2.6"/>
<line x1="862.5" y1="499.35" x2="1065.7" y2="499.35" stroke="#a6a8b2" stroke-width="2" stroke-linecap="round" opacity="0.8" stroke-dasharray="0 5.3" stroke-dashoffset="0.0"/>
<line x1="862.5" y1="496.75" x2="1065.7" y2="496.75" stroke="#a6a8b2" stroke-width="2" stroke-linecap="round" opacity="0.8" stroke-dasharray="0 5.3" stroke-dashoffset="2.6"/>
<line x1="1064.5" y1="304.25" x2="1064.5" y2="500.55" stroke="#a6a8b2" stroke-width="2" stroke-linecap="round" opacity="0.8" stroke-dasharray="0 5.3" stroke-dashoffset="0.0"/>
<line x1="1061.9" y1="304.25" x2="1061.9" y2="500.55" stroke="#a6a8b2" stroke-width="2" stroke-linecap="round" opacity="0.8" stroke-dasharray="0 5.3" stroke-dashoffset="2.6"/>
<polygon points="883.8,301.42 981.34,301.42 981.34,310.9 908.19,309.55 883.8,306.16" fill="#9166a0"/>
<polygon points="878.38,310.9 914.96,310.22 981.34,310.9 1003.02,314.97 1053.14,319.03 1054.49,350.19 1057.2,384.05 1058.56,431.47 1059.91,472.11 1057.2,493.78 1016.56,495.14 1003.02,492.43 982.69,492.43 948.83,489.72 921.73,491.07 878.38,491.07 877.03,451.79 874.32,390.83 872.97,370.51 871.61,336.64 868.9,323.09" fill="url(#p49)"/>
<polygon points="875.67,390.83 894.64,390.83 901.41,417.92 898.7,438.24 881.09,447.72 875.67,431.47" fill="url(#p50)"/>
<polygon points="981.34,310.9 1003.02,314.97 1053.14,319.03 1054.49,350.19 1057.2,384.05 1058.56,431.47 1059.91,472.11 1057.2,493.78 1016.56,495.14 1003.02,492.43 982.69,492.43 978.63,458.56 962.37,438.24 975.92,442.31 1016.56,445.02 1023.34,431.47 1036.88,417.92 1030.11,397.6 1003.02,384.05 1003.02,363.73 996.24,336.64" fill="url(#p51)"/>
<polygon points="914.96,310.9 981.34,310.9 996.24,336.64 1003.02,363.73 989.47,384.05 989.47,404.37 1003.02,417.92 1023.34,431.47 1016.56,445.02 975.92,442.31 962.37,431.47 948.83,411.15 942.05,384.05 935.28,363.73 928.51,343.41 917.67,323.09" fill="url(#p52)"/>
<polygon points="989.47,384.05 1003.02,388.12 1023.34,401.67 1030.11,424.69 1023.34,431.47 1003.02,417.92 989.47,404.37" fill="url(#p53)"/>
<polygon points="1023.34,401.67 1032.82,396.25 1035.53,417.92 1028.75,423.34" fill="#d63031"/>
<polygon points="1013.85,333.93 1030.11,335.29 1027.4,343.41 1016.56,342.06" fill="#9668c6"/>
<polygon points="943.41,482.95 951.54,484.3 975.92,489.72 973.21,493.11 948.83,488.37" fill="#ee7d28"/>
<polygon points="982.69,484.3 986.76,484.3 985.4,492.43 982.02,492.43" fill="#ee7d28"/></g>
<clipPath id="c51"><rect x="1072" y="301.25" width="209.2" height="202.3"/></clipPath><g clip-path="url(#c51)" stroke-linecap="round" stroke-width="3"><rect x="1072" y="301.25" width="209.2" height="202.3" fill="#c3c3c3"/><line x1="1075" y1="305.45" x2="1278.2" y2="305.45" stroke="#a8aab0" stroke-width="2" stroke-linecap="round" opacity="0.55" stroke-dasharray="0 5.3" stroke-dashoffset="0.0"/>
<line x1="1075" y1="308.05" x2="1278.2" y2="308.05" stroke="#a8aab0" stroke-width="2" stroke-linecap="round" opacity="0.55" stroke-dasharray="0 5.3" stroke-dashoffset="2.6"/>
<line x1="1076.2" y1="304.25" x2="1076.2" y2="500.55" stroke="#a8aab0" stroke-width="2" stroke-linecap="round" opacity="0.55" stroke-dasharray="0 5.3" stroke-dashoffset="0.0"/>
<line x1="1078.8" y1="304.25" x2="1078.8" y2="500.55" stroke="#a8aab0" stroke-width="2" stroke-linecap="round" opacity="0.55" stroke-dasharray="0 5.3" stroke-dashoffset="2.6"/>
<line x1="1075" y1="499.35" x2="1278.2" y2="499.35" stroke="#a8aab0" stroke-width="2" stroke-linecap="round" opacity="0.55" stroke-dasharray="0 5.3" stroke-dashoffset="0.0"/>
<line x1="1075" y1="496.75" x2="1278.2" y2="496.75" stroke="#a8aab0" stroke-width="2" stroke-linecap="round" opacity="0.55" stroke-dasharray="0 5.3" stroke-dashoffset="2.6"/>
<line x1="1277" y1="304.25" x2="1277" y2="500.55" stroke="#a8aab0" stroke-width="2" stroke-linecap="round" opacity="0.55" stroke-dasharray="0 5.3" stroke-dashoffset="0.0"/>
<line x1="1274.4" y1="304.25" x2="1274.4" y2="500.55" stroke="#a8aab0" stroke-width="2" stroke-linecap="round" opacity="0.55" stroke-dasharray="0 5.3" stroke-dashoffset="2.6"/>
<polygon points="1083.26,329.87 1094.09,323.09 1110.35,320.38 1155.05,317 1175.37,316.32 1209.24,312.26 1232.27,310.22 1243.11,313.61 1247.17,325.8 1253.95,356.96 1259.37,390.83 1263.43,417.92 1267.49,445.02 1270.2,451.79 1262.07,465.34 1259.37,487.01 1236.34,487.01 1188.92,489.72 1155.05,492.43 1121.19,493.78 1094.09,489.72 1092.74,458.56 1087.32,417.92 1083.26,377.28 1081.9,350.19" fill="url(#p19)"/>
<polygon points="1188.92,377.28 1256.66,377.28 1259.37,411.15 1188.92,411.15 1175.37,431.47 1182.15,465.34 1168.6,458.56" fill="url(#p54)"/>
<polygon points="1083.26,329.87 1094.09,323.09 1110.35,320.38 1118.48,331.22 1121.19,347.48 1132.02,361.02 1148.28,369.15 1155.05,390.83 1159.12,417.92 1164.54,431.47 1161.83,445.02 1169.96,458.56 1182.15,472.11 1184.86,489.72 1155.05,492.43 1121.19,493.78 1094.09,489.72 1092.74,458.56 1087.32,417.92 1083.26,377.28 1081.9,350.19" fill="url(#p55)"/>
<polygon points="1104.93,323.09 1111.7,321.06 1118.48,331.22 1121.19,347.48 1132.02,361.02 1125.25,363.73 1121.19,354.25 1107.64,336.64" fill="#d63031"/>
<polygon points="1096.8,336.64 1118.48,336.64 1121.19,354.25 1107.64,363.73 1098.16,352.9" fill="url(#p56)"/>
<polygon points="1148.28,369.15 1161.83,371.86 1182.15,374.57 1186.21,382.7 1175.37,397.6 1174.02,417.92 1168.6,426.05 1161.83,420.63 1159.12,404.37 1150.99,393.54" fill="url(#p57)"/>
<polygon points="1127.96,431.47 1161.83,431.47 1164.54,451.79 1148.28,458.56 1132.02,445.02" fill="url(#p58)"/>
<polygon points="1182.15,472.11 1195.69,469.4 1209.24,472.11 1222.79,482.95 1232.27,487.01 1184.86,489.72" fill="url(#p59)"/>
<polygon points="1169.96,319.03 1188.92,314.97 1209.24,312.26 1232.27,310.22 1243.11,313.61 1247.17,327.16 1229.56,329.87 1210.6,325.8 1202.47,320.38 1188.92,323.09 1172.67,321.74" fill="#ee7d28"/>
<path d="M1229.6 343.4h0M1243.1 343.4h0M1232.3 354.3h0M1226.9 342.7h0M1099.5 449.1h0M1100.9 451.1h0M1206.5 369.4h0M1113.7 478.9h0M1083.9 378.6h0M1260 469.4h0" stroke="#ee7d28" stroke-width="3" stroke-linecap="round" fill="none"/></g>
<clipPath id="c61"><rect x="1284.5" y="301.25" width="209.2" height="202.3"/></clipPath><g clip-path="url(#c61)" stroke-linecap="round" stroke-width="3"><rect x="1284.5" y="301.25" width="209.2" height="202.3" fill="#d6dbd6"/><line x1="1287.5" y1="305.45" x2="1490.7" y2="305.45" stroke="#c2c6c6" stroke-width="2" stroke-linecap="round" opacity="0.5" stroke-dasharray="0 5.3" stroke-dashoffset="0.0"/>
<line x1="1287.5" y1="308.05" x2="1490.7" y2="308.05" stroke="#c2c6c6" stroke-width="2" stroke-linecap="round" opacity="0.5" stroke-dasharray="0 5.3" stroke-dashoffset="2.6"/>
<polygon points="1312.87,328.51 1316.93,313.61 1346.73,310.9 1373.83,308.19 1414.47,310.9 1422.6,306.84 1428.02,312.26 1333.19,319.03 1316.93,332.58 1297.97,336.64 1296.61,361.02 1306.09,356.96" fill="#c5a6d6"/>
<polygon points="1294.58,336.64 1312.87,328.51 1316.93,313.61 1346.73,310.9 1373.83,308.19 1414.47,310.9 1480.85,311.58 1482.2,363.73 1479.49,404.37 1475.43,431.47 1475.43,478.88 1468.66,482.95 1460.53,478.88 1459.17,468.04 1448.34,469.4 1437.5,455.85 1428.02,466.69 1421.24,476.17 1403.63,485.66 1391.44,478.88 1380.6,469.4 1373.83,468.04 1372.47,476.17 1367.05,477.53 1362.99,480.24 1371.12,488.37 1365.7,491.07 1346.73,489.72 1329.12,493.78 1314.22,491.07 1308.8,472.11 1303.38,445.02 1302.03,404.37 1296.61,377.28" fill="url(#p19)"/>
<polygon points="1295.26,340.7 1319.64,323.09 1330.48,316.32 1414.47,312.93 1480.85,311.58 1482.2,363.73 1479.49,404.37 1475.43,431.47 1474.07,449.08 1465.95,449.08 1455.11,431.47 1434.79,415.21 1414.47,404.37 1394.15,397.6 1373.83,390.83 1353.51,388.12 1333.19,382.7 1312.87,379.99 1296.61,379.99" fill="url(#p60)"/>
<polygon points="1296.61,371.86 1333.19,377.28 1360.28,384.05 1373.83,390.83 1353.51,393.54 1319.64,390.83 1297.97,393.54" fill="url(#p61)"/>
<polygon points="1346.73,316.32 1414.47,312.93 1480.85,311.58 1481.53,356.96 1455.11,370.51 1428.02,361.02 1400.92,350.19 1367.05,339.35 1349.44,329.87" fill="url(#p62)"/>
<polygon points="1293.9,336.64 1312.87,329.87 1314.22,340.7 1306.09,352.9 1296.61,361.02" fill="url(#p63)"/>
<polygon points="1349.44,481.59 1365.7,482.95 1369.76,488.37 1360.28,491.07 1346.73,487.01" fill="#df7fd3"/>
<polyline points="1312.87,327.84 1316.93,320.38 1329.12,312.93" fill="none" stroke="#3a2a5a" stroke-width="2" stroke-linecap="round" stroke-linejoin="round" /></g>
<clipPath id="c71"><rect x="1497" y="301.25" width="209.2" height="202.3"/></clipPath><g clip-path="url(#c71)" stroke-linecap="round" stroke-width="3"><rect x="1497" y="301.25" width="209.2" height="202.3" fill="#c3c4c4"/><line x1="1500" y1="305.45" x2="1703.2" y2="305.45" stroke="#a4a6ae" stroke-width="2" stroke-linecap="round" opacity="0.7" stroke-dasharray="0 5.3" stroke-dashoffset="0.0"/>
<line x1="1500" y1="308.05" x2="1703.2" y2="308.05" stroke="#a4a6ae" stroke-width="2" stroke-linecap="round" opacity="0.7" stroke-dasharray="0 5.3" stroke-dashoffset="2.6"/>
<line x1="1501.2" y1="304.25" x2="1501.2" y2="500.55" stroke="#a4a6ae" stroke-width="2" stroke-linecap="round" opacity="0.7" stroke-dasharray="0 5.3" stroke-dashoffset="0.0"/>
<line x1="1503.8" y1="304.25" x2="1503.8" y2="500.55" stroke="#a4a6ae" stroke-width="2" stroke-linecap="round" opacity="0.7" stroke-dasharray="0 5.3" stroke-dashoffset="2.6"/>
<line x1="1500" y1="499.35" x2="1703.2" y2="499.35" stroke="#a4a6ae" stroke-width="2" stroke-linecap="round" opacity="0.7" stroke-dasharray="0 5.3" stroke-dashoffset="0.0"/>
<line x1="1500" y1="496.75" x2="1703.2" y2="496.75" stroke="#a4a6ae" stroke-width="2" stroke-linecap="round" opacity="0.7" stroke-dasharray="0 5.3" stroke-dashoffset="2.6"/>
<line x1="1702" y1="304.25" x2="1702" y2="500.55" stroke="#a4a6ae" stroke-width="2" stroke-linecap="round" opacity="0.7" stroke-dasharray="0 5.3" stroke-dashoffset="0.0"/>
<line x1="1699.4" y1="304.25" x2="1699.4" y2="500.55" stroke="#a4a6ae" stroke-width="2" stroke-linecap="round" opacity="0.7" stroke-dasharray="0 5.3" stroke-dashoffset="2.6"/>
<polygon points="1529.93,326.48 1552.96,323.09 1573.28,320.38 1594.96,316.32 1613.92,312.93 1670.82,309.55 1684.37,310.22 1687.07,323.09 1693.85,333.93 1695.2,356.96 1692.49,377.28 1689.78,404.37 1654.56,407.08 1627.47,400.31 1607.15,401.67 1600.37,411.15 1597.67,415.21 1586.83,407.08 1566.51,398.96 1550.25,389.47 1550.25,377.28 1543.48,363.73 1536.7,350.19 1532.64,336.64" fill="url(#p64)"/>
<polygon points="1578.7,321.74 1594.96,316.32 1613.92,312.93 1622.05,323.09 1641.02,324.45 1674.88,319.03 1685.72,321.74 1693.85,333.93 1692.49,350.19 1668.11,351.54 1641.02,361.02 1627.47,363.73 1607.15,356.96 1586.83,352.9 1584.12,336.64" fill="url(#p65)"/>
<polygon points="1647.79,354.25 1692.49,347.48 1693.85,371.86 1674.88,377.28 1654.56,363.73" fill="url(#p66)"/>
<polygon points="1536.7,326.48 1546.19,325.8 1544.83,336.64 1548.9,358.32 1551.61,377.28 1554.32,384.05 1566.51,388.12 1586.83,393.54 1600.37,400.31 1597.67,415.21 1586.83,407.08 1566.51,398.96 1550.25,389.47 1543.48,363.73 1536.7,350.19 1532.64,336.64" fill="url(#p67)"/>
<polygon points="1529.93,326.48 1535.35,326.48 1536.7,339.35 1543.48,347.48 1544.83,356.96 1539.41,352.9 1534,342.06" fill="#d63031"/>
<polyline points="1548.9,358.32 1551.61,377.28 1550.25,389.47 1566.51,398.96 1586.83,407.08 1597.67,415.21" fill="none" stroke="#8b564c" stroke-width="2.6" stroke-linecap="round" stroke-linejoin="round" />
<polygon points="1506.9,411.15 1519.09,409.79 1538.06,405.05 1559.73,411.15 1562.44,409.12 1580.05,416.57 1597.67,413.86 1600.37,411.15 1607.15,401.67 1627.47,400.31 1654.56,407.08 1689.78,404.37 1693.85,424.69 1695.2,458.56 1696.56,485.66 1692.49,488.37 1674.88,481.59 1641.02,478.88 1620.69,484.3 1593.6,485.66 1589.54,491.07 1580.05,492.43 1559.73,491.07 1550.25,493.78 1534,493.78 1527.22,485.66 1523.16,458.56 1516.38,445.02 1516.38,417.92 1512.32,416.57" fill="url(#p68)"/>
<polygon points="1607.15,401.67 1627.47,400.31 1641.02,407.08 1634.24,417.92 1627.47,431.47 1634.24,445.02 1613.92,458.56 1600.37,472.11 1573.28,478.88 1559.73,472.11 1559.73,458.56 1573.28,438.24 1600.37,431.47 1607.15,417.92 1597.67,413.86" fill="url(#p69)"/>
<polygon points="1586.83,401.67 1607.15,401.67 1627.47,400.31 1641.02,407.08 1613.92,417.92 1600.37,411.15" fill="url(#p57)"/>
<polygon points="1641.02,407.08 1654.56,407.08 1689.78,404.37 1693.85,424.69 1695.2,458.56 1668.11,461.27 1654.56,472.11 1641.02,476.17 1620.69,480.24 1600.37,478.88 1600.37,472.11 1613.92,458.56 1634.24,445.02 1627.47,431.47 1634.24,417.92" fill="url(#p70)"/>
<polygon points="1668.11,461.27 1681.66,455.85 1695.2,458.56 1696.56,485.66 1692.49,488.37 1674.88,481.59 1641.02,478.88 1641.02,476.17 1654.56,472.11" fill="url(#p71)"/>
<polygon points="1593.6,482.95 1620.69,477.53 1641.02,477.53 1620.69,484.3 1593.6,485.66 1589.54,491.07 1580.05,492.43 1559.73,491.07 1573.28,485.66" fill="#ee7d28"/>
<polyline points="1506.9,411.15 1519.09,409.79 1538.06,405.05 1559.73,411.15 1562.44,409.12 1580.05,416.57 1597.67,413.86 1600.37,411.83" fill="none" stroke="#8b564c" stroke-width="3" stroke-linecap="round" stroke-linejoin="round" />
<polygon points="1535.35,493.78 1543.48,493.78 1542.12,501.91 1538.06,502.59" fill="#7a5a78"/>
<polygon points="1551.61,494.46 1563.8,493.78 1562.44,500.56 1554.32,499.2" fill="#8a7a90"/></g>
<clipPath id="c81"><rect x="1710" y="301.25" width="209.2" height="202.3"/></clipPath><g clip-path="url(#c81)" stroke-linecap="round" stroke-width="3"><rect x="1710" y="301.25" width="209.2" height="202.3" fill="#c0c1c0"/><line x1="1713" y1="305.45" x2="1916.2" y2="305.45" stroke="#aaacb0" stroke-width="2" stroke-linecap="round" opacity="0.5" stroke-dasharray="0 5.3" stroke-dashoffset="0.0"/>
<line x1="1713" y1="308.05" x2="1916.2" y2="308.05" stroke="#aaacb0" stroke-width="2" stroke-linecap="round" opacity="0.5" stroke-dasharray="0 5.3" stroke-dashoffset="2.6"/>
<line x1="1915" y1="304.25" x2="1915" y2="500.55" stroke="#aaacb0" stroke-width="2" stroke-linecap="round" opacity="0.5" stroke-dasharray="0 5.3" stroke-dashoffset="0.0"/>
<line x1="1912.4" y1="304.25" x2="1912.4" y2="500.55" stroke="#aaacb0" stroke-width="2" stroke-linecap="round" opacity="0.5" stroke-dasharray="0 5.3" stroke-dashoffset="2.6"/>
<polygon points="1736.16,301.42 1802.54,301.42 1826.92,304.13 1854.02,310.9 1799.83,313.61 1759.19,316.32 1745.64,333.93 1734.8,323.09" fill="#8c878e"/>
<polygon points="1734.8,317.67 1765.96,313.61 1799.83,312.26 1826.92,310.9 1854.02,310.22 1874.34,319.03 1894.66,318.35 1898.72,329.87 1900.07,350.19 1902.78,370.51 1908.2,373.22 1906.85,398.96 1887.88,413.86 1867.56,417.92 1840.47,424.69 1813.37,431.47 1812.02,447.72 1806.6,458.56 1805.25,465.34 1799.83,472.11 1793.05,485.66 1788.99,492.43 1765.96,491.07 1752.41,493.78 1732.09,489.72 1721.26,472.11 1719.9,451.79 1725.32,431.47 1722.61,404.37 1726.67,377.28 1726.67,361.02 1732.09,336.64" fill="url(#p72)"/>
<polygon points="1736.16,325.8 1749.7,323.09 1751.06,336.64 1738.87,340.7" fill="url(#p73)"/>
<polygon points="1752.41,397.6 1793.05,396.25 1813.37,393.54 1833.69,404.37 1826.92,417.92 1806.6,424.69 1786.28,438.24 1759.19,445.02 1745.64,431.47 1738.87,411.15" fill="url(#p74)"/>
<polygon points="1726.67,361.02 1745.64,355.61 1765.96,350.19 1770.02,363.73 1759.19,377.28 1745.64,390.83 1742.93,404.37 1725.32,411.15 1722.61,404.37 1726.67,377.28" fill="url(#p75)"/>
<polygon points="1722.61,397.6 1742.93,397.6 1745.64,411.15 1725.32,417.92" fill="url(#p76)"/>
<polygon points="1788.99,314.97 1840.47,311.58 1847.24,329.87 1847.24,356.96 1837.76,377.28 1835.05,390.83 1813.37,393.54 1793.05,396.25 1782.22,384.05 1780.86,363.73 1770.02,363.73 1779.51,347.48 1791.7,336.64" fill="url(#p77)"/>
<polygon points="1824.21,312.26 1854.02,310.22 1874.34,319.03 1894.66,318.35 1898.72,329.87 1900.07,350.19 1902.78,370.51 1894.66,377.28 1881.11,371.86 1867.56,369.15 1854.02,377.28 1843.18,385.41 1835.05,377.28 1847.24,356.96 1847.24,329.87 1837.76,320.38" fill="url(#p78)"/>
<polygon points="1793.05,316.32 1826.92,312.26 1840.47,336.64 1799.83,343.41" fill="url(#p79)"/>
<polygon points="1856.72,373.22 1874.34,369.15 1881.11,374.57 1891.95,377.28 1890.59,390.83 1893.3,394.89 1886.53,404.37 1879.75,409.79 1871.63,403.02 1864.85,411.15 1854.02,408.44 1851.31,398.96 1840.47,390.83 1848.6,382.7" fill="#ee7d28"/>
<polygon points="1891.95,377.28 1908.2,373.22 1906.85,398.96 1887.88,413.86 1879.75,409.79 1886.53,404.37 1893.3,394.89 1890.59,390.83" fill="#9668c6"/>
<polygon points="1770.02,385.41 1780.86,388.12 1788.99,401.67 1778.15,398.96" fill="#8c878e"/>
<polygon points="1864.85,401.67 1872.98,404.37 1877.04,412.5 1868.92,409.79" fill="#8c878e"/>
<polyline points="1906.85,400.31 1887.88,413.86 1867.56,417.92 1840.47,424.69 1813.37,431.47 1805.92,432.82 1805.25,465.34 1799.83,472.11 1793.05,485.66" fill="none" stroke="#8b564c" stroke-width="3" stroke-linecap="round" stroke-linejoin="round" />
<polyline points="1805.92,432.82 1812.02,434.18 1812.02,447.72 1805.25,451.79" fill="none" stroke="#8b564c" stroke-width="2.2" stroke-linecap="round" stroke-linejoin="round" />
<polygon points="1803.89,455.85 1807.96,457.21 1806.6,465.34 1802.54,463.98" fill="#46a83c"/>
<path d="M1751.1 491.8h0M1789 490.4h0M1757.2 386.8h0M1734.1 409.1h0" stroke="#ee7d28" stroke-width="3" stroke-linecap="round" fill="none"/></g>
<rect x="91.25" y="808.39" width="80" height="147.91" fill="#d5de8c"/>
<rect x="91.25" y="640.6" width="80" height="168.09" fill="#a8e5e6"/>
<rect x="185.75" y="951.9" width="80" height="4.4" fill="#f08024"/>
<rect x="185.75" y="942.44" width="80" height="9.76" fill="#4fac72"/>
<rect x="185.75" y="929.82" width="80" height="12.92" fill="#dc2d2c"/>
<rect x="185.75" y="864.53" width="80" height="65.59" fill="#dc78d0"/>
<rect x="185.75" y="828.58" width="80" height="36.26" fill="#b1c261"/>
<rect x="185.75" y="824.48" width="80" height="4.4" fill="#b0cbe9"/>
<rect x="185.75" y="723.87" width="80" height="100.91" fill="#edb277"/>
<rect x="185.75" y="719.13" width="80" height="5.03" fill="#a5ee8c"/>
<rect x="185.75" y="712.83" width="80" height="6.61" fill="#f29394"/>
<rect x="185.75" y="650.06" width="80" height="63.06" fill="#d5de8c"/>
<rect x="185.75" y="640.6" width="80" height="9.76" fill="#a8e5e6"/>
<rect x="280.25" y="948.43" width="80" height="7.87" fill="#dc78d0"/>
<rect x="280.25" y="924.46" width="80" height="24.27" fill="#b1c261"/>
<rect x="280.25" y="880.3" width="80" height="44.46" fill="#62d3d5"/>
<rect x="280.25" y="856.65" width="80" height="23.95" fill="#b0cbe9"/>
<rect x="280.25" y="848.45" width="80" height="8.5" fill="#edb277"/>
<rect x="280.25" y="816.28" width="80" height="32.47" fill="#a5ee8c"/>
<rect x="280.25" y="784.42" width="80" height="32.16" fill="#f29394"/>
<rect x="280.25" y="761.71" width="80" height="23.01" fill="#c3aed8"/>
<rect x="280.25" y="716.61" width="80" height="45.4" fill="#be9a90"/>
<rect x="280.25" y="677.82" width="80" height="39.09" fill="#eeb2d6"/>
<rect x="280.25" y="658.58" width="80" height="19.54" fill="#d5de8c"/>
<rect x="280.25" y="640.6" width="80" height="18.28" fill="#a8e5e6"/>
<rect x="374.75" y="920.36" width="80" height="35.94" fill="#dc78d0"/>
<rect x="374.75" y="882.83" width="80" height="37.83" fill="#b1c261"/>
<rect x="374.75" y="836.78" width="80" height="46.35" fill="#62d3d5"/>
<rect x="374.75" y="829.52" width="80" height="7.55" fill="#b0cbe9"/>
<rect x="374.75" y="799.88" width="80" height="29.95" fill="#edb277"/>
<rect x="374.75" y="773.38" width="80" height="26.79" fill="#a5ee8c"/>
<rect x="374.75" y="756.98" width="80" height="16.7" fill="#f29394"/>
<rect x="374.75" y="717.56" width="80" height="39.73" fill="#c3aed8"/>
<rect x="374.75" y="688.23" width="80" height="29.63" fill="#be9a90"/>
<rect x="374.75" y="674.66" width="80" height="13.86" fill="#eeb2d6"/>
<rect x="374.75" y="661.73" width="80" height="13.23" fill="#d5de8c"/>
<rect x="374.75" y="640.6" width="80" height="21.43" fill="#a8e5e6"/>
<rect x="469.25" y="934.55" width="80" height="21.75" fill="#dc78d0"/>
<rect x="469.25" y="930.14" width="80" height="4.72" fill="#b1c261"/>
<rect x="469.25" y="905.85" width="80" height="24.59" fill="#b0cbe9"/>
<rect x="469.25" y="880.3" width="80" height="25.85" fill="#edb277"/>
<rect x="469.25" y="837.09" width="80" height="43.51" fill="#a5ee8c"/>
<rect x="469.25" y="794.2" width="80" height="43.19" fill="#f29394"/>
<rect x="469.25" y="784.42" width="80" height="10.08" fill="#c3aed8"/>
<rect x="469.25" y="754.77" width="80" height="29.95" fill="#be9a90"/>
<rect x="469.25" y="693.9" width="80" height="61.17" fill="#eeb2d6"/>
<rect x="469.25" y="663.94" width="80" height="30.26" fill="#d5de8c"/>
<rect x="469.25" y="640.6" width="80" height="23.64" fill="#a8e5e6"/>
<rect x="563.75" y="937.39" width="80" height="18.91" fill="#dc78d0"/>
<rect x="563.75" y="921.94" width="80" height="15.75" fill="#b1c261"/>
<rect x="563.75" y="877.47" width="80" height="44.77" fill="#62d3d5"/>
<rect x="563.75" y="862.01" width="80" height="15.75" fill="#b0cbe9"/>
<rect x="563.75" y="832.05" width="80" height="30.26" fill="#edb277"/>
<rect x="563.75" y="808.39" width="80" height="23.95" fill="#a5ee8c"/>
<rect x="563.75" y="783.16" width="80" height="25.53" fill="#f29394"/>
<rect x="563.75" y="756.04" width="80" height="27.42" fill="#c3aed8"/>
<rect x="563.75" y="722.29" width="80" height="34.05" fill="#be9a90"/>
<rect x="563.75" y="674.98" width="80" height="47.61" fill="#eeb2d6"/>
<rect x="563.75" y="667.72" width="80" height="7.55" fill="#d5de8c"/>
<rect x="563.75" y="640.6" width="80" height="27.42" fill="#a8e5e6"/>
<rect x="657.7" y="903.33" width="80" height="52.97" fill="#4682b9"/>
<rect x="657.7" y="850.97" width="80" height="52.66" fill="#f08024"/>
<rect x="657.7" y="792.94" width="80" height="58.33" fill="#4fac72"/>
<rect x="657.7" y="755.72" width="80" height="37.52" fill="#dc2d2c"/>
<rect x="657.7" y="695.8" width="80" height="60.23" fill="#c03cff"/>
<rect x="657.7" y="640.6" width="80" height="55.5" fill="#8b564c"/>
<rect x="90.75" y="640.6" width="647.25" height="315.4" fill="none" stroke="#111" stroke-width="1.6"/>
<line x1="80.75" y1="956" x2="90.75" y2="956" stroke="#111" stroke-width="1.6" />
<text x="79.75" y="963.2" font-size="20.8" text-anchor="end" stroke="#111" stroke-width="0.35">0</text>
<line x1="80.75" y1="892.92" x2="90.75" y2="892.92" stroke="#111" stroke-width="1.6" />
<text x="79.75" y="900.12" font-size="20.8" text-anchor="end" stroke="#111" stroke-width="0.35">20</text>
<line x1="80.75" y1="829.84" x2="90.75" y2="829.84" stroke="#111" stroke-width="1.6" />
<text x="79.75" y="837.04" font-size="20.8" text-anchor="end" stroke="#111" stroke-width="0.35">40</text>
<line x1="80.75" y1="766.76" x2="90.75" y2="766.76" stroke="#111" stroke-width="1.6" />
<text x="79.75" y="773.96" font-size="20.8" text-anchor="end" stroke="#111" stroke-width="0.35">60</text>
<line x1="80.75" y1="703.68" x2="90.75" y2="703.68" stroke="#111" stroke-width="1.6" />
<text x="79.75" y="710.88" font-size="20.8" text-anchor="end" stroke="#111" stroke-width="0.35">80</text>
<line x1="80.75" y1="640.6" x2="90.75" y2="640.6" stroke="#111" stroke-width="1.6" />
<text x="79.75" y="647.8" font-size="20.8" text-anchor="end" stroke="#111" stroke-width="0.35">100</text>
<line x1="131.25" y1="956" x2="131.25" y2="964" stroke="#111" stroke-width="1.6" />
<line x1="225.75" y1="956" x2="225.75" y2="964" stroke="#111" stroke-width="1.6" />
<line x1="320.25" y1="956" x2="320.25" y2="964" stroke="#111" stroke-width="1.6" />
<line x1="414.75" y1="956" x2="414.75" y2="964" stroke="#111" stroke-width="1.6" />
<line x1="509.25" y1="956" x2="509.25" y2="964" stroke="#111" stroke-width="1.6" />
<line x1="603.75" y1="956" x2="603.75" y2="964" stroke="#111" stroke-width="1.6" />
<line x1="698.25" y1="956" x2="698.25" y2="964" stroke="#111" stroke-width="1.6" />
<text font-size="21.7" text-anchor="end" stroke="#111" stroke-width="0.35" transform="translate(144.25 977.5) rotate(-45)">EP</text>
<text font-size="21.7" text-anchor="end" stroke="#111" stroke-width="0.35" transform="translate(238.75 977.5) rotate(-45)">GM</text>
<text font-size="21.7" text-anchor="end" stroke="#111" stroke-width="0.35" transform="translate(333.25 977.5) rotate(-45)">LC</text>
<text font-size="21.7" text-anchor="end" stroke="#111" stroke-width="0.35" transform="translate(427.75 977.5) rotate(-45)">LR</text>
<text font-size="21.7" text-anchor="end" stroke="#111" stroke-width="0.35" transform="translate(522.25 977.5) rotate(-45)">PPWM</text>
<text font-size="21.7" text-anchor="end" stroke="#111" stroke-width="0.35" transform="translate(616.75 977.5) rotate(-45)">VI</text>
<text font-size="21.7" text-anchor="end" stroke="#111" stroke-width="0.35" transform="translate(711.25 977.5) rotate(-45)">WM</text>
<rect x="745.3" y="641.2" width="24.8" height="24.3" fill="#4682b9" stroke="#111" stroke-width="1.3"/>
<text x="780.3" y="660.6" font-size="20.8" stroke="#111" stroke-width="0.35">CO1</text>
<rect x="745.3" y="677.42" width="24.8" height="24.3" fill="#f08024" stroke="#111" stroke-width="1.3"/>
<text x="780.3" y="696.82" font-size="20.8" stroke="#111" stroke-width="0.35">CO2</text>
<rect x="745.3" y="713.64" width="24.8" height="24.3" fill="#4fac72" stroke="#111" stroke-width="1.3"/>
<text x="780.3" y="733.04" font-size="20.8" stroke="#111" stroke-width="0.35">CO3</text>
<rect x="745.3" y="749.86" width="24.8" height="24.3" fill="#dc2d2c" stroke="#111" stroke-width="1.3"/>
<text x="780.3" y="769.26" font-size="20.8" stroke="#111" stroke-width="0.35">CO5</text>
<rect x="745.3" y="786.08" width="24.8" height="24.3" fill="#c03cff" stroke="#111" stroke-width="1.3"/>
<text x="780.3" y="805.48" font-size="20.8" stroke="#111" stroke-width="0.35">CO6</text>
<rect x="745.3" y="822.3" width="24.8" height="24.3" fill="#8b564c" stroke="#111" stroke-width="1.3"/>
<text x="780.3" y="841.7" font-size="20.8" stroke="#111" stroke-width="0.35">CO7</text>
<rect x="745.3" y="858.52" width="24.8" height="24.3" fill="#dc78d0" stroke="#111" stroke-width="1.3"/>
<text x="780.3" y="877.92" font-size="20.8" stroke="#111" stroke-width="0.35">MS1</text>
<rect x="745.3" y="894.74" width="24.8" height="24.3" fill="#b1c261" stroke="#111" stroke-width="1.3"/>
<text x="780.3" y="914.14" font-size="20.8" stroke="#111" stroke-width="0.35">MS2</text>
<rect x="745.3" y="930.96" width="24.8" height="24.3" fill="#62d3d5" stroke="#111" stroke-width="1.3"/>
<text x="780.3" y="950.36" font-size="20.8" stroke="#111" stroke-width="0.35">MS3</text>
<rect x="872.3" y="641.2" width="24.8" height="24.3" fill="#b0cbe9" stroke="#111" stroke-width="1.3"/>
<text x="907.3" y="660.6" font-size="20.8" stroke="#111" stroke-width="0.35">MS4</text>
<rect x="872.3" y="677.42" width="24.8" height="24.3" fill="#edb277" stroke="#111" stroke-width="1.3"/>
<text x="907.3" y="696.82" font-size="20.8" stroke="#111" stroke-width="0.35">MS5</text>
<rect x="872.3" y="713.64" width="24.8" height="24.3" fill="#a5ee8c" stroke="#111" stroke-width="1.3"/>
<text x="907.3" y="733.04" font-size="20.8" stroke="#111" stroke-width="0.35">MS6</text>
<rect x="872.3" y="749.86" width="24.8" height="24.3" fill="#f29394" stroke="#111" stroke-width="1.3"/>
<text x="907.3" y="769.26" font-size="20.8" stroke="#111" stroke-width="0.35">MS7</text>
<rect x="872.3" y="786.08" width="24.8" height="24.3" fill="#c3aed8" stroke="#111" stroke-width="1.3"/>
<text x="907.3" y="805.48" font-size="20.8" stroke="#111" stroke-width="0.35">MS8</text>
<rect x="872.3" y="822.3" width="24.8" height="24.3" fill="#be9a90" stroke="#111" stroke-width="1.3"/>
<text x="907.3" y="841.7" font-size="20.8" stroke="#111" stroke-width="0.35">MS9</text>
<rect x="872.3" y="858.52" width="24.8" height="24.3" fill="#eeb2d6" stroke="#111" stroke-width="1.3"/>
<text x="907.3" y="877.92" font-size="20.8" stroke="#111" stroke-width="0.35">MS10</text>
<rect x="872.3" y="894.74" width="24.8" height="24.3" fill="#d5de8c" stroke="#111" stroke-width="1.3"/>
<text x="907.3" y="914.14" font-size="20.8" stroke="#111" stroke-width="0.35">MS11</text>
<rect x="872.3" y="930.96" width="24.8" height="24.3" fill="#a8e5e6" stroke="#111" stroke-width="1.3"/>
<text x="907.3" y="950.36" font-size="20.8" stroke="#111" stroke-width="0.35">MS12</text>
<rect x="1150.5" y="643.8" width="80" height="315" fill="#e66ee2"/>
<rect x="1245" y="742.3" width="80" height="216.5" fill="#87dbe0"/>
<rect x="1245" y="671.18" width="80" height="71.42" fill="#e66ee2"/>
<rect x="1245" y="643.8" width="80" height="27.68" fill="#5fe05b"/>
<rect x="1339.5" y="764.64" width="80" height="194.16" fill="#87dbe0"/>
<rect x="1339.5" y="643.8" width="80" height="121.14" fill="#e66ee2"/>
<rect x="1434" y="720.27" width="80" height="238.53" fill="#87dbe0"/>
<rect x="1434" y="643.8" width="80" height="76.77" fill="#e66ee2"/>
<rect x="1528.5" y="786.67" width="80" height="172.13" fill="#87dbe0"/>
<rect x="1528.5" y="643.8" width="80" height="143.17" fill="#e66ee2"/>
<rect x="1623" y="759.29" width="80" height="199.51" fill="#87dbe0"/>
<rect x="1623" y="643.8" width="80" height="115.79" fill="#e66ee2"/>
<rect x="1716.7" y="643.8" width="80" height="315" fill="#5fe05b"/>
<rect x="1150" y="643.8" width="647" height="314.7" fill="none" stroke="#111" stroke-width="1.6"/>
<line x1="1140" y1="958.5" x2="1150" y2="958.5" stroke="#111" stroke-width="1.6" />
<text x="1139" y="965.7" font-size="20.8" text-anchor="end" stroke="#111" stroke-width="0.35">0</text>
<line x1="1140" y1="895.56" x2="1150" y2="895.56" stroke="#111" stroke-width="1.6" />
<text x="1139" y="902.76" font-size="20.8" text-anchor="end" stroke="#111" stroke-width="0.35">20</text>
<line x1="1140" y1="832.62" x2="1150" y2="832.62" stroke="#111" stroke-width="1.6" />
<text x="1139" y="839.82" font-size="20.8" text-anchor="end" stroke="#111" stroke-width="0.35">40</text>
<line x1="1140" y1="769.68" x2="1150" y2="769.68" stroke="#111" stroke-width="1.6" />
<text x="1139" y="776.88" font-size="20.8" text-anchor="end" stroke="#111" stroke-width="0.35">60</text>
<line x1="1140" y1="706.74" x2="1150" y2="706.74" stroke="#111" stroke-width="1.6" />
<text x="1139" y="713.94" font-size="20.8" text-anchor="end" stroke="#111" stroke-width="0.35">80</text>
<line x1="1140" y1="643.8" x2="1150" y2="643.8" stroke="#111" stroke-width="1.6" />
<text x="1139" y="651" font-size="20.8" text-anchor="end" stroke="#111" stroke-width="0.35">100</text>
<line x1="1190.5" y1="958.5" x2="1190.5" y2="966.5" stroke="#111" stroke-width="1.6" />
<line x1="1285" y1="958.5" x2="1285" y2="966.5" stroke="#111" stroke-width="1.6" />
<line x1="1379.5" y1="958.5" x2="1379.5" y2="966.5" stroke="#111" stroke-width="1.6" />
<line x1="1474" y1="958.5" x2="1474" y2="966.5" stroke="#111" stroke-width="1.6" />
<line x1="1568.5" y1="958.5" x2="1568.5" y2="966.5" stroke="#111" stroke-width="1.6" />
<line x1="1663" y1="958.5" x2="1663" y2="966.5" stroke="#111" stroke-width="1.6" />
<line x1="1757.5" y1="958.5" x2="1757.5" y2="966.5" stroke="#111" stroke-width="1.6" />
<text font-size="21.7" text-anchor="end" stroke="#111" stroke-width="0.35" transform="translate(1203.5 980) rotate(-45)">EP</text>
<text font-size="21.7" text-anchor="end" stroke="#111" stroke-width="0.35" transform="translate(1298 980) rotate(-45)">GM</text>
<text font-size="21.7" text-anchor="end" stroke="#111" stroke-width="0.35" transform="translate(1392.5 980) rotate(-45)">LC</text>
<text font-size="21.7" text-anchor="end" stroke="#111" stroke-width="0.35" transform="translate(1487 980) rotate(-45)">LR</text>
<text font-size="21.7" text-anchor="end" stroke="#111" stroke-width="0.35" transform="translate(1581.5 980) rotate(-45)">PPWM</text>
<text font-size="21.7" text-anchor="end" stroke="#111" stroke-width="0.35" transform="translate(1676 980) rotate(-45)">VI</text>
<text font-size="21.7" text-anchor="end" stroke="#111" stroke-width="0.35" transform="translate(1770.5 980) rotate(-45)">WM</text>
<rect x="1807.5" y="644.5" width="24.8" height="24.3" fill="#5fe05b" stroke="#111" stroke-width="1.3"/>
<text x="1842.3" y="661.4" font-size="21.3" stroke="#111" stroke-width="0.35">CTRL</text>
<rect x="1807.5" y="680.5" width="24.8" height="24.3" fill="#e66ee2" stroke="#111" stroke-width="1.3"/>
<text x="1842.3" y="697.4" font-size="21.3" stroke="#111" stroke-width="0.35">MS-CI</text>
<rect x="1807.5" y="716.5" width="24.8" height="24.3" fill="#87dbe0" stroke="#111" stroke-width="1.3"/>
<text x="1842.3" y="733.4" font-size="21.3" stroke="#111" stroke-width="0.35">MS-CA</text>
<line x1="106" y1="1095.5" x2="106" y2="1312.5" stroke="#222" stroke-width="1.6" />
<line x1="105.2" y1="1311.75" x2="278.75" y2="1311.75" stroke="#222" stroke-width="1.6" />
<line x1="100" y1="1105" x2="106" y2="1105" stroke="#222" stroke-width="1.6" />
<text x="99" y="1112.4" font-size="21" text-anchor="end" stroke="#111" stroke-width="0.35">1.00</text>
<line x1="100" y1="1154.19" x2="106" y2="1154.19" stroke="#222" stroke-width="1.6" />
<text x="99" y="1161.59" font-size="21" text-anchor="end" stroke="#111" stroke-width="0.35">0.75</text>
<line x1="100" y1="1203.38" x2="106" y2="1203.38" stroke="#222" stroke-width="1.6" />
<text x="99" y="1210.78" font-size="21" text-anchor="end" stroke="#111" stroke-width="0.35">0.50</text>
<line x1="100" y1="1252.56" x2="106" y2="1252.56" stroke="#222" stroke-width="1.6" />
<text x="99" y="1259.96" font-size="21" text-anchor="end" stroke="#111" stroke-width="0.35">0.25</text>
<line x1="100" y1="1301.75" x2="106" y2="1301.75" stroke="#222" stroke-width="1.6" />
<text x="99" y="1309.15" font-size="21" text-anchor="end" stroke="#111" stroke-width="0.35">0.00</text>
<line x1="120.25" y1="1311.75" x2="120.25" y2="1318.5" stroke="#222" stroke-width="1.6" />
<line x1="149" y1="1311.75" x2="149" y2="1318.5" stroke="#222" stroke-width="1.6" />
<line x1="177.75" y1="1311.75" x2="177.75" y2="1318.5" stroke="#222" stroke-width="1.6" />
<line x1="206.5" y1="1311.75" x2="206.5" y2="1318.5" stroke="#222" stroke-width="1.6" />
<line x1="235.25" y1="1311.75" x2="235.25" y2="1318.5" stroke="#222" stroke-width="1.6" />
<line x1="264" y1="1311.75" x2="264" y2="1318.5" stroke="#222" stroke-width="1.6" />
<text font-size="21.5" text-anchor="end" stroke="#111" stroke-width="0.35" transform="translate(132.75 1330.75) rotate(-45)">WM</text>
<text font-size="21.5" text-anchor="end" stroke="#111" stroke-width="0.35" transform="translate(161.5 1330.75) rotate(-45)">LC</text>
<text font-size="21.5" text-anchor="end" stroke="#111" stroke-width="0.35" transform="translate(190.25 1330.75) rotate(-45)">GM</text>
<text font-size="21.5" text-anchor="end" stroke="#111" stroke-width="0.35" transform="translate(219 1330.75) rotate(-45)">EP</text>
<text font-size="21.5" text-anchor="end" stroke="#111" stroke-width="0.35" transform="translate(247.75 1330.75) rotate(-45)">PPWM</text>
<text font-size="21.5" text-anchor="end" stroke="#111" stroke-width="0.35" transform="translate(276.5 1330.75) rotate(-45)">LR</text>
<text font-size="21.3" text-anchor="middle" stroke="#111" stroke-width="0.35" transform="translate(45.5 1203.5) rotate(-90)">Jaccard index</text>
<line x1="108.75" y1="1105" x2="131.75" y2="1105" stroke="#111" stroke-width="1.5" />
<circle cx="120.25" cy="1107.25" r="4.6" fill="none" stroke="#000" stroke-width="1.5"/>
<line x1="149" y1="1105" x2="149" y2="1135.5" stroke="#111" stroke-width="1.5" />
<line x1="143.18" y1="1105" x2="154.82" y2="1105" stroke="#111" stroke-width="1.5" />
<line x1="149" y1="1210.25" x2="149" y2="1268.25" stroke="#111" stroke-width="1.5" />
<line x1="143.18" y1="1268.25" x2="154.82" y2="1268.25" stroke="#111" stroke-width="1.5" />
<rect x="137.35" y="1135.5" width="23.3" height="74.75" fill="#9467c5" stroke="#111" stroke-width="1.5"/>
<line x1="137.35" y1="1157" x2="160.65" y2="1157" stroke="#111" stroke-width="1.5" />
<line x1="177.75" y1="1130" x2="177.75" y2="1150.25" stroke="#111" stroke-width="1.5" />
<line x1="171.93" y1="1130" x2="183.57" y2="1130" stroke="#111" stroke-width="1.5" />
<line x1="177.75" y1="1188.25" x2="177.75" y2="1192" stroke="#111" stroke-width="1.5" />
<line x1="171.93" y1="1192" x2="183.57" y2="1192" stroke="#111" stroke-width="1.5" />
<rect x="166.1" y="1150.25" width="23.3" height="38" fill="#f08024" stroke="#111" stroke-width="1.5"/>
<line x1="166.1" y1="1171.25" x2="189.4" y2="1171.25" stroke="#111" stroke-width="1.5" />
<circle cx="179.5" cy="1271.25" r="4.8" fill="none" stroke="#000" stroke-width="1.5"/>
<line x1="206.5" y1="1177.75" x2="206.5" y2="1181.75" stroke="#111" stroke-width="1.5" />
<line x1="200.68" y1="1177.75" x2="212.32" y2="1177.75" stroke="#111" stroke-width="1.5" />
<line x1="206.5" y1="1190.25" x2="206.5" y2="1194.25" stroke="#111" stroke-width="1.5" />
<line x1="200.68" y1="1194.25" x2="212.32" y2="1194.25" stroke="#111" stroke-width="1.5" />
<rect x="194.85" y="1181.75" width="23.3" height="8.5" fill="#8b564c" stroke="#111" stroke-width="1.5"/>
<line x1="194.85" y1="1186.5" x2="218.15" y2="1186.5" stroke="#111" stroke-width="1.5" />
<line x1="195" y1="1186.5" x2="218.25" y2="1186.5" stroke="#111" stroke-width="2.2" />
<line x1="235.25" y1="1169" x2="235.25" y2="1200.25" stroke="#111" stroke-width="1.5" />
<line x1="229.43" y1="1169" x2="241.07" y2="1169" stroke="#111" stroke-width="1.5" />
<line x1="235.25" y1="1253" x2="235.25" y2="1276.25" stroke="#111" stroke-width="1.5" />
<line x1="229.43" y1="1276.25" x2="241.07" y2="1276.25" stroke="#111" stroke-width="1.5" />
<rect x="223.6" y="1200.25" width="23.3" height="52.75" fill="#43a939" stroke="#111" stroke-width="1.5"/>
<line x1="223.6" y1="1213.5" x2="246.9" y2="1213.5" stroke="#111" stroke-width="1.5" />
<line x1="264" y1="1186.5" x2="264" y2="1208.25" stroke="#111" stroke-width="1.5" />
<line x1="258.18" y1="1186.5" x2="269.82" y2="1186.5" stroke="#111" stroke-width="1.5" />
<line x1="264" y1="1256.75" x2="264" y2="1281.75" stroke="#111" stroke-width="1.5" />
<line x1="258.18" y1="1281.75" x2="269.82" y2="1281.75" stroke="#111" stroke-width="1.5" />
<rect x="252.35" y="1208.25" width="23.3" height="48.5" fill="#dc2d2c" stroke="#111" stroke-width="1.5"/>
<line x1="252.35" y1="1222.5" x2="275.65" y2="1222.5" stroke="#111" stroke-width="1.5" />
<line x1="106" y1="1404" x2="106" y2="1617.8" stroke="#222" stroke-width="1.6" />
<line x1="105.2" y1="1617" x2="233.75" y2="1617" stroke="#222" stroke-width="1.6" />
<line x1="100" y1="1413.75" x2="106" y2="1413.75" stroke="#222" stroke-width="1.6" />
<text x="99" y="1421.15" font-size="21" text-anchor="end" stroke="#111" stroke-width="0.35">1.00</text>
<line x1="100" y1="1462.06" x2="106" y2="1462.06" stroke="#222" stroke-width="1.6" />
<text x="99" y="1469.46" font-size="21" text-anchor="end" stroke="#111" stroke-width="0.35">0.75</text>
<line x1="100" y1="1510.38" x2="106" y2="1510.38" stroke="#222" stroke-width="1.6" />
<text x="99" y="1517.78" font-size="21" text-anchor="end" stroke="#111" stroke-width="0.35">0.50</text>
<line x1="100" y1="1558.69" x2="106" y2="1558.69" stroke="#222" stroke-width="1.6" />
<text x="99" y="1566.09" font-size="21" text-anchor="end" stroke="#111" stroke-width="0.35">0.25</text>
<line x1="100" y1="1607" x2="106" y2="1607" stroke="#222" stroke-width="1.6" />
<text x="99" y="1614.4" font-size="21" text-anchor="end" stroke="#111" stroke-width="0.35">0.00</text>
<line x1="124" y1="1617" x2="124" y2="1623.5" stroke="#222" stroke-width="1.6" />
<line x1="165.75" y1="1617" x2="165.75" y2="1623.5" stroke="#222" stroke-width="1.6" />
<line x1="207.5" y1="1617" x2="207.5" y2="1623.5" stroke="#222" stroke-width="1.6" />
<text font-size="21.5" text-anchor="end" stroke="#111" stroke-width="0.35" transform="translate(136.5 1636) rotate(-45)">Ctrl</text>
<text font-size="21.5" text-anchor="end" stroke="#111" stroke-width="0.35" transform="translate(178.25 1636) rotate(-45)">MS-CA</text>
<text font-size="21.5" text-anchor="end" stroke="#111" stroke-width="0.35" transform="translate(220 1636) rotate(-45)">MS-CI</text>
<text font-size="21.3" text-anchor="middle" stroke="#111" stroke-width="0.35" transform="translate(45.5 1510.5) rotate(-90)">Adjusted Rand Index</text>
<line x1="112" y1="1413.75" x2="136.25" y2="1413.75" stroke="#111" stroke-width="1.5" />
<circle cx="124" cy="1455.5" r="4.8" fill="none" stroke="#000" stroke-width="1.5"/>
<line x1="165.88" y1="1481.75" x2="165.88" y2="1498.5" stroke="#111" stroke-width="1.5" />
<line x1="160" y1="1481.75" x2="171.75" y2="1481.75" stroke="#111" stroke-width="1.5" />
<rect x="154.12" y="1498.5" width="23.5" height="32.75" fill="#87dbe0" stroke="#111" stroke-width="1.5"/>
<line x1="154.12" y1="1505.75" x2="177.62" y2="1505.75" stroke="#111" stroke-width="1.5" />
<circle cx="165.75" cy="1584.5" r="5.2" fill="none" stroke="#000" stroke-width="1.5"/>
<circle cx="165.75" cy="1592.5" r="5.2" fill="none" stroke="#000" stroke-width="1.5"/>
<line x1="207.88" y1="1414" x2="207.88" y2="1489" stroke="#111" stroke-width="1.5" />
<line x1="202" y1="1414" x2="213.75" y2="1414" stroke="#111" stroke-width="1.5" />
<line x1="207.88" y1="1561" x2="207.88" y2="1595.5" stroke="#111" stroke-width="1.5" />
<line x1="202" y1="1595.5" x2="213.75" y2="1595.5" stroke="#111" stroke-width="1.5" />
<rect x="196.12" y="1489" width="23.5" height="72" fill="#e66ee2" stroke="#111" stroke-width="1.5"/>
<line x1="196.12" y1="1531.25" x2="219.62" y2="1531.25" stroke="#111" stroke-width="1.5" />
<line x1="420.25" y1="1098.75" x2="420.25" y2="1340.5" stroke="#222" stroke-width="1.5" />
<line x1="419.55" y1="1339.75" x2="683" y2="1339.75" stroke="#222" stroke-width="1.5" />
<line x1="415.25" y1="1106.5" x2="420.25" y2="1106.5" stroke="#222" stroke-width="1.5" />
<text x="412.75" y="1113.9" font-size="21" text-anchor="end" stroke="#111" stroke-width="0.35">1.0</text>
<line x1="415.25" y1="1133.56" x2="420.25" y2="1133.56" stroke="#222" stroke-width="1.5" />
<text x="412.75" y="1140.96" font-size="21" text-anchor="end" stroke="#111" stroke-width="0.35">0.8</text>
<line x1="415.25" y1="1160.62" x2="420.25" y2="1160.62" stroke="#222" stroke-width="1.5" />
<text x="412.75" y="1168.03" font-size="21" text-anchor="end" stroke="#111" stroke-width="0.35">0.6</text>
<line x1="415.25" y1="1187.69" x2="420.25" y2="1187.69" stroke="#222" stroke-width="1.5" />
<text x="412.75" y="1195.09" font-size="21" text-anchor="end" stroke="#111" stroke-width="0.35">0.4</text>
<line x1="415.25" y1="1214.75" x2="420.25" y2="1214.75" stroke="#222" stroke-width="1.5" />
<text x="412.75" y="1222.15" font-size="21" text-anchor="end" stroke="#111" stroke-width="0.35">0.2</text>
<line x1="415.25" y1="1241.81" x2="420.25" y2="1241.81" stroke="#222" stroke-width="1.5" />
<text x="412.75" y="1249.21" font-size="21" text-anchor="end" stroke="#111" stroke-width="0.35">0.0</text>
<line x1="415.25" y1="1268.88" x2="420.25" y2="1268.88" stroke="#222" stroke-width="1.5" />
<text x="412.75" y="1276.28" font-size="21" text-anchor="end" stroke="#111" stroke-width="0.35">-0.2</text>
<line x1="415.25" y1="1295.94" x2="420.25" y2="1295.94" stroke="#222" stroke-width="1.5" />
<text x="412.75" y="1303.34" font-size="21" text-anchor="end" stroke="#111" stroke-width="0.35">-0.4</text>
<line x1="415.25" y1="1323" x2="420.25" y2="1323" stroke="#222" stroke-width="1.5" />
<text x="412.75" y="1330.4" font-size="21" text-anchor="end" stroke="#111" stroke-width="0.35">-0.6</text>
<line x1="439" y1="1339.75" x2="439" y2="1343.75" stroke="#222" stroke-width="1.5" />
<path d="M431 1104.5 V1103 H447 V1104.5" fill="none" stroke="#222" stroke-width="1.2"/>
<text x="439" y="1106.75" font-size="18" text-anchor="middle" stroke="#111" stroke-width="0.35">*</text>
<line x1="476.5" y1="1339.75" x2="476.5" y2="1343.75" stroke="#222" stroke-width="1.5" />
<path d="M468.5 1104.5 V1103 H484.5 V1104.5" fill="none" stroke="#222" stroke-width="1.2"/>
<text x="476.5" y="1106.75" font-size="18" text-anchor="middle" stroke="#111" stroke-width="0.35">*</text>
<line x1="514" y1="1339.75" x2="514" y2="1343.75" stroke="#222" stroke-width="1.5" />
<path d="M506 1104.5 V1103 H522 V1104.5" fill="none" stroke="#222" stroke-width="1.2"/>
<text x="514" y="1106.75" font-size="18" text-anchor="middle" stroke="#111" stroke-width="0.35">*</text>
<line x1="551.5" y1="1339.75" x2="551.5" y2="1343.75" stroke="#222" stroke-width="1.5" />
<path d="M543.5 1104.5 V1103 H559.5 V1104.5" fill="none" stroke="#222" stroke-width="1.2"/>
<text x="551.5" y="1106.75" font-size="18" text-anchor="middle" stroke="#111" stroke-width="0.35">*</text>
<line x1="589" y1="1339.75" x2="589" y2="1343.75" stroke="#222" stroke-width="1.5" />
<path d="M581 1104.5 V1103 H597 V1104.5" fill="none" stroke="#222" stroke-width="1.2"/>
<text x="589" y="1106.75" font-size="18" text-anchor="middle" stroke="#111" stroke-width="0.35">*</text>
<line x1="626.5" y1="1339.75" x2="626.5" y2="1343.75" stroke="#222" stroke-width="1.5" />
<path d="M618.5 1104.5 V1103 H634.5 V1104.5" fill="none" stroke="#222" stroke-width="1.2"/>
<text x="626.5" y="1106.75" font-size="18" text-anchor="middle" stroke="#111" stroke-width="0.35">*</text>
<line x1="663.88" y1="1339.75" x2="663.88" y2="1343.75" stroke="#222" stroke-width="1.5" />
<path d="M655.88 1104.5 V1103 H671.88 V1104.5" fill="none" stroke="#222" stroke-width="1.2"/>
<text x="663.88" y="1106.75" font-size="18" text-anchor="middle" stroke="#111" stroke-width="0.35">*</text>
<text font-size="21.3" text-anchor="middle" stroke="#111" stroke-width="0.35" transform="translate(339.5 1219) rotate(-90)">Gene Expression</text>
<text font-size="21.3" text-anchor="middle" stroke="#111" stroke-width="0.35" transform="translate(363 1218.5) rotate(-90)">(Pearson)</text>
<line x1="431.5" y1="1186.5" x2="431.5" y2="1230.25" stroke="#111" stroke-width="1.3" />
<line x1="428" y1="1186.5" x2="435" y2="1186.5" stroke="#111" stroke-width="1.3" />
<line x1="431.5" y1="1266" x2="431.5" y2="1299.5" stroke="#111" stroke-width="1.3" />
<line x1="428" y1="1299.5" x2="435" y2="1299.5" stroke="#111" stroke-width="1.3" />
<rect x="424" y="1230.25" width="15" height="35.75" fill="#7fe8c8" stroke="#111" stroke-width="1.3"/>
<line x1="424" y1="1242.5" x2="439" y2="1242.5" stroke="#111" stroke-width="1.3" />
<line x1="439.25" y1="1151" x2="453.75" y2="1151" stroke="#111" stroke-width="1.4" />
<line x1="469" y1="1192.5" x2="469" y2="1242.5" stroke="#111" stroke-width="1.3" />
<line x1="465.5" y1="1192.5" x2="472.5" y2="1192.5" stroke="#111" stroke-width="1.3" />
<line x1="469" y1="1276.5" x2="469" y2="1325" stroke="#111" stroke-width="1.3" />
<line x1="465.5" y1="1325" x2="472.5" y2="1325" stroke="#111" stroke-width="1.3" />
<rect x="461.5" y="1242.5" width="15" height="34" fill="#7fe8c8" stroke="#111" stroke-width="1.3"/>
<line x1="461.5" y1="1262" x2="476.5" y2="1262" stroke="#111" stroke-width="1.3" />
<circle cx="469" cy="1173" r="3.9" fill="none" stroke="#000" stroke-width="1.3"/>
<circle cx="469" cy="1176.25" r="3.9" fill="none" stroke="#000" stroke-width="1.3"/>
<circle cx="469" cy="1179.5" r="3.9" fill="none" stroke="#000" stroke-width="1.3"/>
<circle cx="469" cy="1182.5" r="3.9" fill="none" stroke="#000" stroke-width="1.3"/>
<circle cx="469" cy="1185.5" r="3.9" fill="none" stroke="#000" stroke-width="1.3"/>
<circle cx="469" cy="1188.75" r="3.9" fill="none" stroke="#000" stroke-width="1.3"/>
<circle cx="469" cy="1192" r="3.9" fill="none" stroke="#000" stroke-width="1.3"/>
<circle cx="469" cy="1328.75" r="3.9" fill="none" stroke="#000" stroke-width="1.3"/>
<line x1="484" y1="1130.25" x2="484" y2="1186.75" stroke="#111" stroke-width="1.3" />
<line x1="480.5" y1="1130.25" x2="487.5" y2="1130.25" stroke="#111" stroke-width="1.3" />
<line x1="484" y1="1226" x2="484" y2="1267.5" stroke="#111" stroke-width="1.3" />
<line x1="480.5" y1="1267.5" x2="487.5" y2="1267.5" stroke="#111" stroke-width="1.3" />
<rect x="476.5" y="1186.75" width="15" height="39.25" fill="#e07a5f" stroke="#111" stroke-width="1.3"/>
<line x1="476.5" y1="1206" x2="491.5" y2="1206" stroke="#111" stroke-width="1.3" />
<circle cx="484" cy="1116.5" r="3.9" fill="none" stroke="#000" stroke-width="1.3"/>
<circle cx="484" cy="1293.25" r="3.9" fill="none" stroke="#000" stroke-width="1.3"/>
<line x1="506.5" y1="1180" x2="506.5" y2="1234.75" stroke="#111" stroke-width="1.3" />
<line x1="503" y1="1180" x2="510" y2="1180" stroke="#111" stroke-width="1.3" />
<line x1="506.5" y1="1272.5" x2="506.5" y2="1320.75" stroke="#111" stroke-width="1.3" />
<line x1="503" y1="1320.75" x2="510" y2="1320.75" stroke="#111" stroke-width="1.3" />
<rect x="499" y="1234.75" width="15" height="37.75" fill="#7fe8c8" stroke="#111" stroke-width="1.3"/>
<line x1="499" y1="1254.75" x2="514" y2="1254.75" stroke="#111" stroke-width="1.3" />
<circle cx="506.5" cy="1137.5" r="3.9" fill="none" stroke="#000" stroke-width="1.3"/>
<circle cx="506.5" cy="1142.5" r="3.9" fill="none" stroke="#000" stroke-width="1.3"/>
<circle cx="506.5" cy="1147.5" r="3.9" fill="none" stroke="#000" stroke-width="1.3"/>
<circle cx="506.5" cy="1152" r="3.9" fill="none" stroke="#000" stroke-width="1.3"/>
<circle cx="506.5" cy="1156.25" r="3.9" fill="none" stroke="#000" stroke-width="1.3"/>
<circle cx="506.5" cy="1173.25" r="3.9" fill="none" stroke="#000" stroke-width="1.3"/>
<circle cx="506.5" cy="1177.5" r="3.9" fill="none" stroke="#000" stroke-width="1.3"/>
<line x1="521.5" y1="1160" x2="521.5" y2="1204.75" stroke="#111" stroke-width="1.3" />
<line x1="518" y1="1160" x2="525" y2="1160" stroke="#111" stroke-width="1.3" />
<line x1="521.5" y1="1253" x2="521.5" y2="1281.5" stroke="#111" stroke-width="1.3" />
<line x1="518" y1="1281.5" x2="525" y2="1281.5" stroke="#111" stroke-width="1.3" />
<rect x="514" y="1204.75" width="15" height="48.25" fill="#e07a5f" stroke="#111" stroke-width="1.3"/>
<line x1="514" y1="1221.75" x2="529" y2="1221.75" stroke="#111" stroke-width="1.3" />
<circle cx="521.5" cy="1111.5" r="3.9" fill="none" stroke="#000" stroke-width="1.3"/>
<circle cx="521.5" cy="1119.25" r="3.9" fill="none" stroke="#000" stroke-width="1.3"/>
<line x1="544" y1="1167.5" x2="544" y2="1227.75" stroke="#111" stroke-width="1.3" />
<line x1="540.5" y1="1167.5" x2="547.5" y2="1167.5" stroke="#111" stroke-width="1.3" />
<line x1="544" y1="1269" x2="544" y2="1325" stroke="#111" stroke-width="1.3" />
<line x1="540.5" y1="1325" x2="547.5" y2="1325" stroke="#111" stroke-width="1.3" />
<rect x="536.5" y="1227.75" width="15" height="41.25" fill="#7fe8c8" stroke="#111" stroke-width="1.3"/>
<line x1="536.5" y1="1246" x2="551.5" y2="1246" stroke="#111" stroke-width="1.3" />
<circle cx="544" cy="1132.75" r="3.9" fill="none" stroke="#000" stroke-width="1.3"/>
<circle cx="544" cy="1141.25" r="3.9" fill="none" stroke="#000" stroke-width="1.3"/>
<circle cx="544" cy="1147" r="3.9" fill="none" stroke="#000" stroke-width="1.3"/>
<circle cx="544" cy="1151.75" r="3.9" fill="none" stroke="#000" stroke-width="1.3"/>
<circle cx="544" cy="1164" r="3.9" fill="none" stroke="#000" stroke-width="1.3"/>
<line x1="559" y1="1158.25" x2="559" y2="1212.75" stroke="#111" stroke-width="1.3" />
<line x1="555.5" y1="1158.25" x2="562.5" y2="1158.25" stroke="#111" stroke-width="1.3" />
<line x1="559" y1="1253" x2="559" y2="1312" stroke="#111" stroke-width="1.3" />
<line x1="555.5" y1="1312" x2="562.5" y2="1312" stroke="#111" stroke-width="1.3" />
<rect x="551.5" y="1212.75" width="15" height="40.25" fill="#e07a5f" stroke="#111" stroke-width="1.3"/>
<line x1="551.5" y1="1229" x2="566.5" y2="1229" stroke="#111" stroke-width="1.3" />
<circle cx="559" cy="1111.5" r="3.9" fill="none" stroke="#000" stroke-width="1.3"/>
<line x1="581.5" y1="1164" x2="581.5" y2="1227" stroke="#111" stroke-width="1.3" />
<line x1="578" y1="1164" x2="585" y2="1164" stroke="#111" stroke-width="1.3" />
<line x1="581.5" y1="1270.75" x2="581.5" y2="1328.5" stroke="#111" stroke-width="1.3" />
<line x1="578" y1="1328.5" x2="585" y2="1328.5" stroke="#111" stroke-width="1.3" />
<rect x="574" y="1227" width="15" height="43.75" fill="#7fe8c8" stroke="#111" stroke-width="1.3"/>
<line x1="574" y1="1249.5" x2="589" y2="1249.5" stroke="#111" stroke-width="1.3" />
<circle cx="581.5" cy="1132.75" r="3.9" fill="none" stroke="#000" stroke-width="1.3"/>
<circle cx="581.5" cy="1138" r="3.9" fill="none" stroke="#000" stroke-width="1.3"/>
<circle cx="581.5" cy="1152" r="3.9" fill="none" stroke="#000" stroke-width="1.3"/>
<line x1="596.5" y1="1131" x2="596.5" y2="1200" stroke="#111" stroke-width="1.3" />
<line x1="593" y1="1131" x2="600" y2="1131" stroke="#111" stroke-width="1.3" />
<line x1="596.5" y1="1248.25" x2="596.5" y2="1315.5" stroke="#111" stroke-width="1.3" />
<line x1="593" y1="1315.5" x2="600" y2="1315.5" stroke="#111" stroke-width="1.3" />
<rect x="589" y="1200" width="15" height="48.25" fill="#e07a5f" stroke="#111" stroke-width="1.3"/>
<line x1="589" y1="1225" x2="604" y2="1225" stroke="#111" stroke-width="1.3" />
<line x1="619" y1="1192.5" x2="619" y2="1238" stroke="#111" stroke-width="1.3" />
<line x1="615.5" y1="1192.5" x2="622.5" y2="1192.5" stroke="#111" stroke-width="1.3" />
<line x1="619" y1="1268.25" x2="619" y2="1312" stroke="#111" stroke-width="1.3" />
<line x1="615.5" y1="1312" x2="622.5" y2="1312" stroke="#111" stroke-width="1.3" />
<rect x="611.5" y="1238" width="15" height="30.25" fill="#7fe8c8" stroke="#111" stroke-width="1.3"/>
<line x1="611.5" y1="1253" x2="626.5" y2="1253" stroke="#111" stroke-width="1.3" />
<circle cx="619" cy="1156.25" r="3.9" fill="none" stroke="#000" stroke-width="1.3"/>
<circle cx="619" cy="1171.5" r="3.9" fill="none" stroke="#000" stroke-width="1.3"/>
<circle cx="619" cy="1177.5" r="3.9" fill="none" stroke="#000" stroke-width="1.3"/>
<circle cx="619" cy="1180.5" r="3.9" fill="none" stroke="#000" stroke-width="1.3"/>
<circle cx="619" cy="1183.5" r="3.9" fill="none" stroke="#000" stroke-width="1.3"/>
<circle cx="619" cy="1186.5" r="3.9" fill="none" stroke="#000" stroke-width="1.3"/>
<circle cx="619" cy="1189.5" r="3.9" fill="none" stroke="#000" stroke-width="1.3"/>
<circle cx="619" cy="1192" r="3.9" fill="none" stroke="#000" stroke-width="1.3"/>
<circle cx="619" cy="1319.5" r="3.9" fill="none" stroke="#000" stroke-width="1.3"/>
<line x1="634" y1="1161.75" x2="634" y2="1203" stroke="#111" stroke-width="1.3" />
<line x1="630.5" y1="1161.75" x2="637.5" y2="1161.75" stroke="#111" stroke-width="1.3" />
<line x1="634" y1="1243" x2="634" y2="1270.25" stroke="#111" stroke-width="1.3" />
<line x1="630.5" y1="1270.25" x2="637.5" y2="1270.25" stroke="#111" stroke-width="1.3" />
<rect x="626.5" y="1203" width="15" height="40" fill="#e07a5f" stroke="#111" stroke-width="1.3"/>
<line x1="626.5" y1="1226.75" x2="641.5" y2="1226.75" stroke="#111" stroke-width="1.3" />
<line x1="656.38" y1="1168.5" x2="656.38" y2="1223.5" stroke="#111" stroke-width="1.3" />
<line x1="652.88" y1="1168.5" x2="659.88" y2="1168.5" stroke="#111" stroke-width="1.3" />
<line x1="656.38" y1="1270.5" x2="656.38" y2="1309" stroke="#111" stroke-width="1.3" />
<line x1="652.88" y1="1309" x2="659.88" y2="1309" stroke="#111" stroke-width="1.3" />
<rect x="648.88" y="1223.5" width="15" height="47" fill="#7fe8c8" stroke="#111" stroke-width="1.3"/>
<line x1="648.88" y1="1250.25" x2="663.88" y2="1250.25" stroke="#111" stroke-width="1.3" />
<line x1="671.38" y1="1111.75" x2="671.38" y2="1138" stroke="#111" stroke-width="1.3" />
<line x1="667.88" y1="1111.75" x2="674.88" y2="1111.75" stroke="#111" stroke-width="1.3" />
<line x1="671.38" y1="1164" x2="671.38" y2="1190.75" stroke="#111" stroke-width="1.3" />
<line x1="667.88" y1="1190.75" x2="674.88" y2="1190.75" stroke="#111" stroke-width="1.3" />
<rect x="663.88" y="1138" width="15" height="26" fill="#e07a5f" stroke="#111" stroke-width="1.3"/>
<line x1="663.88" y1="1145.75" x2="678.88" y2="1145.75" stroke="#111" stroke-width="1.3" />
<line x1="419" y1="1374.5" x2="419" y2="1616" stroke="#222" stroke-width="1.5" />
<line x1="418.3" y1="1615.25" x2="681.25" y2="1615.25" stroke="#222" stroke-width="1.5" />
<line x1="414" y1="1382" x2="419" y2="1382" stroke="#222" stroke-width="1.5" />
<text x="411.5" y="1389.4" font-size="21" text-anchor="end" stroke="#111" stroke-width="0.35">1.0</text>
<line x1="414" y1="1409.1" x2="419" y2="1409.1" stroke="#222" stroke-width="1.5" />
<text x="411.5" y="1416.5" font-size="21" text-anchor="end" stroke="#111" stroke-width="0.35">0.8</text>
<line x1="414" y1="1436.2" x2="419" y2="1436.2" stroke="#222" stroke-width="1.5" />
<text x="411.5" y="1443.6" font-size="21" text-anchor="end" stroke="#111" stroke-width="0.35">0.6</text>
<line x1="414" y1="1463.3" x2="419" y2="1463.3" stroke="#222" stroke-width="1.5" />
<text x="411.5" y="1470.7" font-size="21" text-anchor="end" stroke="#111" stroke-width="0.35">0.4</text>
<line x1="414" y1="1490.4" x2="419" y2="1490.4" stroke="#222" stroke-width="1.5" />
<text x="411.5" y="1497.8" font-size="21" text-anchor="end" stroke="#111" stroke-width="0.35">0.2</text>
<line x1="414" y1="1517.5" x2="419" y2="1517.5" stroke="#222" stroke-width="1.5" />
<text x="411.5" y="1524.9" font-size="21" text-anchor="end" stroke="#111" stroke-width="0.35">0.0</text>
<line x1="414" y1="1544.6" x2="419" y2="1544.6" stroke="#222" stroke-width="1.5" />
<text x="411.5" y="1552" font-size="21" text-anchor="end" stroke="#111" stroke-width="0.35">-0.2</text>
<line x1="414" y1="1571.7" x2="419" y2="1571.7" stroke="#222" stroke-width="1.5" />
<text x="411.5" y="1579.1" font-size="21" text-anchor="end" stroke="#111" stroke-width="0.35">-0.4</text>
<line x1="414" y1="1598.8" x2="419" y2="1598.8" stroke="#222" stroke-width="1.5" />
<text x="411.5" y="1606.2" font-size="21" text-anchor="end" stroke="#111" stroke-width="0.35">-0.6</text>
<line x1="437.75" y1="1615.25" x2="437.75" y2="1619.5" stroke="#222" stroke-width="1.5" />
<path d="M429.75 1380.25 V1378.75 H445.75 V1380.25" fill="none" stroke="#222" stroke-width="1.2"/>
<text x="437.75" y="1382.5" font-size="18" text-anchor="middle" stroke="#111" stroke-width="0.35">*</text>
<line x1="475.25" y1="1615.25" x2="475.25" y2="1619.5" stroke="#222" stroke-width="1.5" />
<path d="M467.25 1380.25 V1378.75 H483.25 V1380.25" fill="none" stroke="#222" stroke-width="1.2"/>
<text x="475.25" y="1382.5" font-size="18" text-anchor="middle" stroke="#111" stroke-width="0.35">*</text>
<line x1="512.75" y1="1615.25" x2="512.75" y2="1619.5" stroke="#222" stroke-width="1.5" />
<path d="M504.75 1380.25 V1378.75 H520.75 V1380.25" fill="none" stroke="#222" stroke-width="1.2"/>
<text x="512.75" y="1382.5" font-size="18" text-anchor="middle" stroke="#111" stroke-width="0.35">*</text>
<line x1="550.12" y1="1615.25" x2="550.12" y2="1619.5" stroke="#222" stroke-width="1.5" />
<path d="M542.12 1380.25 V1378.75 H558.12 V1380.25" fill="none" stroke="#222" stroke-width="1.2"/>
<text x="550.12" y="1382.5" font-size="18" text-anchor="middle" stroke="#111" stroke-width="0.35">*</text>
<line x1="587.5" y1="1615.25" x2="587.5" y2="1619.5" stroke="#222" stroke-width="1.5" />
<path d="M579.5 1380.25 V1378.75 H595.5 V1380.25" fill="none" stroke="#222" stroke-width="1.2"/>
<text x="587.5" y="1382.5" font-size="18" text-anchor="middle" stroke="#111" stroke-width="0.35">*</text>
<line x1="625" y1="1615.25" x2="625" y2="1619.5" stroke="#222" stroke-width="1.5" />
<path d="M617 1380.25 V1378.75 H633 V1380.25" fill="none" stroke="#222" stroke-width="1.2"/>
<text x="625" y="1382.5" font-size="18" text-anchor="middle" stroke="#111" stroke-width="0.35">*</text>
<line x1="662.5" y1="1615.25" x2="662.5" y2="1619.5" stroke="#222" stroke-width="1.5" />
<path d="M654.5 1380.25 V1378.75 H670.5 V1380.25" fill="none" stroke="#222" stroke-width="1.2"/>
<text x="662.5" y="1382.5" font-size="18" text-anchor="middle" stroke="#111" stroke-width="0.35">*</text>
<text font-size="21.5" text-anchor="end" stroke="#111" stroke-width="0.35" transform="translate(450.25 1634.25) rotate(-45)">EP</text>
<text font-size="21.5" text-anchor="end" stroke="#111" stroke-width="0.35" transform="translate(487.75 1634.25) rotate(-45)">GM</text>
<text font-size="21.5" text-anchor="end" stroke="#111" stroke-width="0.35" transform="translate(525.25 1634.25) rotate(-45)">LC</text>
<text font-size="21.5" text-anchor="end" stroke="#111" stroke-width="0.35" transform="translate(562.62 1634.25) rotate(-45)">LR</text>
<text font-size="21.5" text-anchor="end" stroke="#111" stroke-width="0.35" transform="translate(600 1634.25) rotate(-45)">PPWM</text>
<text font-size="21.5" text-anchor="end" stroke="#111" stroke-width="0.35" transform="translate(637.5 1634.25) rotate(-45)">VI</text>
<text font-size="21.5" text-anchor="end" stroke="#111" stroke-width="0.35" transform="translate(675 1634.25) rotate(-45)">WM</text>
<text font-size="21.3" text-anchor="middle" stroke="#111" stroke-width="0.35" transform="translate(339.5 1492.5) rotate(-90)">Cell type proportion</text>
<text font-size="21.3" text-anchor="middle" stroke="#111" stroke-width="0.35" transform="translate(363 1493) rotate(-90)">(Pearson)</text>
<line x1="430.25" y1="1406.25" x2="430.25" y2="1432.75" stroke="#111" stroke-width="1.3" />
<line x1="426.75" y1="1406.25" x2="433.75" y2="1406.25" stroke="#111" stroke-width="1.3" />
<line x1="430.25" y1="1465.25" x2="430.25" y2="1498.25" stroke="#111" stroke-width="1.3" />
<line x1="426.75" y1="1498.25" x2="433.75" y2="1498.25" stroke="#111" stroke-width="1.3" />
<rect x="422.75" y="1432.75" width="15" height="32.5" fill="#7fe8c8" stroke="#111" stroke-width="1.3"/>
<line x1="422.75" y1="1449.5" x2="437.75" y2="1449.5" stroke="#111" stroke-width="1.3" />
<line x1="438" y1="1392" x2="452.75" y2="1392" stroke="#111" stroke-width="1.4" />
<line x1="467.75" y1="1388.25" x2="467.75" y2="1428.25" stroke="#111" stroke-width="1.3" />
<line x1="464.25" y1="1388.25" x2="471.25" y2="1388.25" stroke="#111" stroke-width="1.3" />
<line x1="467.75" y1="1479.25" x2="467.75" y2="1554.25" stroke="#111" stroke-width="1.3" />
<line x1="464.25" y1="1554.25" x2="471.25" y2="1554.25" stroke="#111" stroke-width="1.3" />
<rect x="460.25" y="1428.25" width="15" height="51" fill="#7fe8c8" stroke="#111" stroke-width="1.3"/>
<line x1="460.25" y1="1451.75" x2="475.25" y2="1451.75" stroke="#111" stroke-width="1.3" />
<circle cx="467.75" cy="1562.5" r="3.9" fill="none" stroke="#000" stroke-width="1.3"/>
<circle cx="467.75" cy="1566.5" r="3.9" fill="none" stroke="#000" stroke-width="1.3"/>
<circle cx="467.75" cy="1570.5" r="3.9" fill="none" stroke="#000" stroke-width="1.3"/>
<circle cx="467.75" cy="1574" r="3.9" fill="none" stroke="#000" stroke-width="1.3"/>
<circle cx="467.75" cy="1583.25" r="3.9" fill="none" stroke="#000" stroke-width="1.3"/>
<circle cx="467.75" cy="1589.5" r="3.9" fill="none" stroke="#000" stroke-width="1.3"/>
<line x1="482.75" y1="1387" x2="482.75" y2="1410" stroke="#111" stroke-width="1.3" />
<line x1="479.25" y1="1387" x2="486.25" y2="1387" stroke="#111" stroke-width="1.3" />
<line x1="482.75" y1="1440.5" x2="482.75" y2="1483.25" stroke="#111" stroke-width="1.3" />
<line x1="479.25" y1="1483.25" x2="486.25" y2="1483.25" stroke="#111" stroke-width="1.3" />
<rect x="475.25" y="1410" width="15" height="30.5" fill="#e07a5f" stroke="#111" stroke-width="1.3"/>
<line x1="475.25" y1="1419.5" x2="490.25" y2="1419.5" stroke="#111" stroke-width="1.3" />
<circle cx="482.75" cy="1500.5" r="3.9" fill="none" stroke="#000" stroke-width="1.3"/>
<line x1="505.25" y1="1388.5" x2="505.25" y2="1413.75" stroke="#111" stroke-width="1.3" />
<line x1="501.75" y1="1388.5" x2="508.75" y2="1388.5" stroke="#111" stroke-width="1.3" />
<line x1="505.25" y1="1448.25" x2="505.25" y2="1500.5" stroke="#111" stroke-width="1.3" />
<line x1="501.75" y1="1500.5" x2="508.75" y2="1500.5" stroke="#111" stroke-width="1.3" />
<rect x="497.75" y="1413.75" width="15" height="34.5" fill="#7fe8c8" stroke="#111" stroke-width="1.3"/>
<line x1="497.75" y1="1427.5" x2="512.75" y2="1427.5" stroke="#111" stroke-width="1.3" />
<circle cx="505.25" cy="1503" r="3.9" fill="none" stroke="#000" stroke-width="1.3"/>
<circle cx="505.25" cy="1505" r="3.9" fill="none" stroke="#000" stroke-width="1.3"/>
<circle cx="505.25" cy="1514.25" r="3.9" fill="none" stroke="#000" stroke-width="1.3"/>
<circle cx="505.25" cy="1533" r="3.9" fill="none" stroke="#000" stroke-width="1.3"/>
<circle cx="505.25" cy="1547.5" r="3.9" fill="none" stroke="#000" stroke-width="1.3"/>
<line x1="520.25" y1="1388.75" x2="520.25" y2="1400.25" stroke="#111" stroke-width="1.3" />
<line x1="516.75" y1="1388.75" x2="523.75" y2="1388.75" stroke="#111" stroke-width="1.3" />
<line x1="520.25" y1="1420.25" x2="520.25" y2="1441.75" stroke="#111" stroke-width="1.3" />
<line x1="516.75" y1="1441.75" x2="523.75" y2="1441.75" stroke="#111" stroke-width="1.3" />
<rect x="512.75" y="1400.25" width="15" height="20" fill="#e07a5f" stroke="#111" stroke-width="1.3"/>
<line x1="512.75" y1="1408.75" x2="527.75" y2="1408.75" stroke="#111" stroke-width="1.3" />
<line x1="542.62" y1="1385.25" x2="542.62" y2="1409" stroke="#111" stroke-width="1.3" />
<line x1="539.12" y1="1385.25" x2="546.12" y2="1385.25" stroke="#111" stroke-width="1.3" />
<line x1="542.62" y1="1452" x2="542.62" y2="1515" stroke="#111" stroke-width="1.3" />
<line x1="539.12" y1="1515" x2="546.12" y2="1515" stroke="#111" stroke-width="1.3" />
<rect x="535.12" y="1409" width="15" height="43" fill="#7fe8c8" stroke="#111" stroke-width="1.3"/>
<line x1="535.12" y1="1425.25" x2="550.12" y2="1425.25" stroke="#111" stroke-width="1.3" />
<circle cx="542.62" cy="1517" r="3.9" fill="none" stroke="#000" stroke-width="1.3"/>
<circle cx="542.62" cy="1520" r="3.9" fill="none" stroke="#000" stroke-width="1.3"/>
<circle cx="542.62" cy="1523" r="3.9" fill="none" stroke="#000" stroke-width="1.3"/>
<circle cx="542.62" cy="1526" r="3.9" fill="none" stroke="#000" stroke-width="1.3"/>
<circle cx="542.62" cy="1529" r="3.9" fill="none" stroke="#000" stroke-width="1.3"/>
<circle cx="542.62" cy="1532" r="3.9" fill="none" stroke="#000" stroke-width="1.3"/>
<circle cx="542.62" cy="1535" r="3.9" fill="none" stroke="#000" stroke-width="1.3"/>
<circle cx="542.62" cy="1537.5" r="3.9" fill="none" stroke="#000" stroke-width="1.3"/>
<line x1="557.62" y1="1385" x2="557.62" y2="1398.75" stroke="#111" stroke-width="1.3" />
<line x1="554.12" y1="1385" x2="561.12" y2="1385" stroke="#111" stroke-width="1.3" />
<line x1="557.62" y1="1417.25" x2="557.62" y2="1435.25" stroke="#111" stroke-width="1.3" />
<line x1="554.12" y1="1435.25" x2="561.12" y2="1435.25" stroke="#111" stroke-width="1.3" />
<rect x="550.12" y="1398.75" width="15" height="18.5" fill="#e07a5f" stroke="#111" stroke-width="1.3"/>
<line x1="550.12" y1="1407" x2="565.12" y2="1407" stroke="#111" stroke-width="1.3" />
<circle cx="557.62" cy="1448.5" r="3.9" fill="none" stroke="#000" stroke-width="1.3"/>
<line x1="580" y1="1385.25" x2="580" y2="1409" stroke="#111" stroke-width="1.3" />
<line x1="576.5" y1="1385.25" x2="583.5" y2="1385.25" stroke="#111" stroke-width="1.3" />
<line x1="580" y1="1450.25" x2="580" y2="1511.25" stroke="#111" stroke-width="1.3" />
<line x1="576.5" y1="1511.25" x2="583.5" y2="1511.25" stroke="#111" stroke-width="1.3" />
<rect x="572.5" y="1409" width="15" height="41.25" fill="#7fe8c8" stroke="#111" stroke-width="1.3"/>
<line x1="572.5" y1="1425.75" x2="587.5" y2="1425.75" stroke="#111" stroke-width="1.3" />
<circle cx="580" cy="1513" r="3.9" fill="none" stroke="#000" stroke-width="1.3"/>
<circle cx="580" cy="1516.25" r="3.9" fill="none" stroke="#000" stroke-width="1.3"/>
<circle cx="580" cy="1519.5" r="3.9" fill="none" stroke="#000" stroke-width="1.3"/>
<circle cx="580" cy="1522.75" r="3.9" fill="none" stroke="#000" stroke-width="1.3"/>
<circle cx="580" cy="1526" r="3.9" fill="none" stroke="#000" stroke-width="1.3"/>
<circle cx="580" cy="1529.25" r="3.9" fill="none" stroke="#000" stroke-width="1.3"/>
<circle cx="580" cy="1532.5" r="3.9" fill="none" stroke="#000" stroke-width="1.3"/>
<circle cx="580" cy="1535.75" r="3.9" fill="none" stroke="#000" stroke-width="1.3"/>
<circle cx="580" cy="1539" r="3.9" fill="none" stroke="#000" stroke-width="1.3"/>
<circle cx="580" cy="1545" r="3.9" fill="none" stroke="#000" stroke-width="1.3"/>
<circle cx="580" cy="1548.75" r="3.9" fill="none" stroke="#000" stroke-width="1.3"/>
<circle cx="580" cy="1552.5" r="3.9" fill="none" stroke="#000" stroke-width="1.3"/>
<line x1="595" y1="1385.5" x2="595" y2="1400" stroke="#111" stroke-width="1.3" />
<line x1="591.5" y1="1385.5" x2="598.5" y2="1385.5" stroke="#111" stroke-width="1.3" />
<line x1="595" y1="1422" x2="595" y2="1440.25" stroke="#111" stroke-width="1.3" />
<line x1="591.5" y1="1440.25" x2="598.5" y2="1440.25" stroke="#111" stroke-width="1.3" />
<rect x="587.5" y="1400" width="15" height="22" fill="#e07a5f" stroke="#111" stroke-width="1.3"/>
<line x1="587.5" y1="1409.25" x2="602.5" y2="1409.25" stroke="#111" stroke-width="1.3" />
<circle cx="595" cy="1457.5" r="3.9" fill="none" stroke="#000" stroke-width="1.3"/>
<line x1="617.5" y1="1395" x2="617.5" y2="1430.5" stroke="#111" stroke-width="1.3" />
<line x1="614" y1="1395" x2="621" y2="1395" stroke="#111" stroke-width="1.3" />
<line x1="617.5" y1="1488.75" x2="617.5" y2="1573.75" stroke="#111" stroke-width="1.3" />
<line x1="614" y1="1573.75" x2="621" y2="1573.75" stroke="#111" stroke-width="1.3" />
<rect x="610" y="1430.5" width="15" height="58.25" fill="#7fe8c8" stroke="#111" stroke-width="1.3"/>
<line x1="610" y1="1454" x2="625" y2="1454" stroke="#111" stroke-width="1.3" />
<circle cx="617.5" cy="1582.5" r="3.9" fill="none" stroke="#000" stroke-width="1.3"/>
<circle cx="617.5" cy="1589.5" r="3.9" fill="none" stroke="#000" stroke-width="1.3"/>
<line x1="632.5" y1="1385" x2="632.5" y2="1413.75" stroke="#111" stroke-width="1.3" />
<line x1="629" y1="1385" x2="636" y2="1385" stroke="#111" stroke-width="1.3" />
<line x1="632.5" y1="1464.75" x2="632.5" y2="1519.25" stroke="#111" stroke-width="1.3" />
<line x1="629" y1="1519.25" x2="636" y2="1519.25" stroke="#111" stroke-width="1.3" />
<rect x="625" y="1413.75" width="15" height="51" fill="#e07a5f" stroke="#111" stroke-width="1.3"/>
<line x1="625" y1="1439.25" x2="640" y2="1439.25" stroke="#111" stroke-width="1.3" />
<line x1="655" y1="1389.5" x2="655" y2="1406.5" stroke="#111" stroke-width="1.3" />
<line x1="651.5" y1="1389.5" x2="658.5" y2="1389.5" stroke="#111" stroke-width="1.3" />
<line x1="655" y1="1450" x2="655" y2="1513.75" stroke="#111" stroke-width="1.3" />
<line x1="651.5" y1="1513.75" x2="658.5" y2="1513.75" stroke="#111" stroke-width="1.3" />
<rect x="647.5" y="1406.5" width="15" height="43.5" fill="#7fe8c8" stroke="#111" stroke-width="1.3"/>
<line x1="647.5" y1="1420.75" x2="662.5" y2="1420.75" stroke="#111" stroke-width="1.3" />
<circle cx="655" cy="1517" r="3.9" fill="none" stroke="#000" stroke-width="1.3"/>
<circle cx="655" cy="1520" r="3.9" fill="none" stroke="#000" stroke-width="1.3"/>
<circle cx="655" cy="1523" r="3.9" fill="none" stroke="#000" stroke-width="1.3"/>
<circle cx="655" cy="1526" r="3.9" fill="none" stroke="#000" stroke-width="1.3"/>
<circle cx="655" cy="1530" r="3.9" fill="none" stroke="#000" stroke-width="1.3"/>
<circle cx="655" cy="1538.75" r="3.9" fill="none" stroke="#000" stroke-width="1.3"/>
<rect x="662.5" y="1385.75" width="15" height="4.75" fill="#e07a5f" stroke="#111" stroke-width="1.3"/>
<line x1="662.5" y1="1388" x2="677.5" y2="1388" stroke="#111" stroke-width="1.3" />
<circle cx="670" cy="1398.75" r="3.9" fill="none" stroke="#000" stroke-width="1.3"/>
<rect x="685.6" y="1567.8" width="20" height="20" fill="#7fe8c8" stroke="#222" stroke-width="1.3"/>
<rect x="685.6" y="1597.4" width="20" height="20" fill="#e07a5f" stroke="#222" stroke-width="1.3"/>
<text x="687" y="1582.5" font-size="18" stroke="#111" stroke-width="0.35">* : P &lt; 1x10<tspan font-size="10.5" dy="-7.5">-16</tspan></text>
<text x="710" y="1585.2" font-size="21.3" stroke="#111" stroke-width="0.35">Interniche</text>
<text x="710" y="1614.8" font-size="21.3" stroke="#111" stroke-width="0.35">Intraniche</text>
<defs><filter id="fb1" x="-30%" y="-30%" width="160%" height="160%"><feGaussianBlur stdDeviation="0.9"/></filter><filter id="fb2" x="-30%" y="-30%" width="160%" height="160%"><feGaussianBlur stdDeviation="2"/></filter><filter id="fb4" x="-30%" y="-30%" width="160%" height="160%"><feGaussianBlur stdDeviation="4"/></filter><filter id="fb8" x="-30%" y="-30%" width="160%" height="160%"><feGaussianBlur stdDeviation="9"/></filter><filter id="fw" x="0" y="0" width="1" height="1" color-interpolation-filters="sRGB"><feTurbulence type="fractalNoise" baseFrequency="0.16 0.13" numOctaves="3" seed="4"/><feColorMatrix type="matrix" values="1 0 0 0 0 1 0 0 0 0 1 0 0 0 0 0 0 0 0 1"/><feComponentTransfer><feFuncR type="table" tableValues="0 0 0 0 0.1 0.55 1 0.55 0.1 0 0 0 0"/><feFuncG type="table" tableValues="0 0 0 0 0.1 0.55 1 0.55 0.1 0 0 0 0"/><feFuncB type="table" tableValues="0 0 0 0 0.1 0.55 1 0.55 0.1 0 0 0 0"/></feComponentTransfer><feColorMatrix type="matrix" values="0.8 0 0 0 0 0 0.72 0 0 0 0 0 0.8 0 0 0 0 0 1 0"/><feGaussianBlur stdDeviation="0.6" result="t"/><feGaussianBlur in="SourceAlpha" stdDeviation="3" result="a"/><feComposite in="t" in2="a" operator="in"/></filter><filter id="fm" x="0" y="0" width="1" height="1" color-interpolation-filters="sRGB"><feTurbulence type="fractalNoise" baseFrequency="0.16 0.13" numOctaves="3" seed="4"/><feColorMatrix type="matrix" values="1 0 0 0 0 1 0 0 0 0 1 0 0 0 0 0 0 0 0 1"/><feComponentTransfer><feFuncR type="table" tableValues="0 0 0 0 0.1 0.55 1 0.55 0.1 0 0 0 0"/><feFuncG type="table" tableValues="0 0 0 0 0.1 0.55 1 0.55 0.1 0 0 0 0"/><feFuncB type="table" tableValues="0 0 0 0 0.1 0.55 1 0.55 0.1 0 0 0 0"/></feComponentTransfer><feColorMatrix type="matrix" values="0.36 0 0 0 0 0 0.05 0 0 0 0 0 0.38 0 0 0 0 0 1 0"/><feGaussianBlur stdDeviation="0.6" result="t"/><feGaussianBlur in="SourceAlpha" stdDeviation="3" result="a"/><feComposite in="t" in2="a" operator="in"/></filter><filter id="fg" x="0" y="0" width="1" height="1" color-interpolation-filters="sRGB"><feTurbulence type="fractalNoise" baseFrequency="0.16 0.13" numOctaves="3" seed="4"/><feColorMatrix type="matrix" values="1 0 0 0 0 1 0 0 0 0 1 0 0 0 0 0 0 0 0 1"/><feComponentTransfer><feFuncR type="table" tableValues="0 0 0 0 0.1 0.55 1 0.55 0.1 0 0 0 0"/><feFuncG type="table" tableValues="0 0 0 0 0.1 0.55 1 0.55 0.1 0 0 0 0"/><feFuncB type="table" tableValues="0 0 0 0 0.1 0.55 1 0.55 0.1 0 0 0 0"/></feComponentTransfer><feColorMatrix type="matrix" values="0.08 0 0 0 0 0 0.36 0 0 0 0 0 0.07 0 0 0 0 0 1 0"/><feGaussianBlur stdDeviation="0.6" result="t"/><feGaussianBlur in="SourceAlpha" stdDeviation="3" result="a"/><feComposite in="t" in2="a" operator="in"/></filter><filter id="fgr" x="0" y="0" width="1" height="1" color-interpolation-filters="sRGB"><feTurbulence type="fractalNoise" baseFrequency="0.16 0.13" numOctaves="3" seed="4"/><feColorMatrix type="matrix" values="1 0 0 0 0 1 0 0 0 0 1 0 0 0 0 0 0 0 0 1"/><feComponentTransfer><feFuncR type="table" tableValues="0 0 0 0 0.1 0.55 1 0.55 0.1 0 0 0 0"/><feFuncG type="table" tableValues="0 0 0 0 0.1 0.55 1 0.55 0.1 0 0 0 0"/><feFuncB type="table" tableValues="0 0 0 0 0.1 0.55 1 0.55 0.1 0 0 0 0"/></feComponentTransfer><feColorMatrix type="matrix" values="0.74 0 0 0 0 0 0.74 0 0 0 0 0 0.74 0 0 0 0 0 1 0"/><feGaussianBlur stdDeviation="0.6" result="t"/><feGaussianBlur in="SourceAlpha" stdDeviation="3" result="a"/><feComposite in="t" in2="a" operator="in"/></filter><filter id="sw" x="0" y="0" width="1" height="1" color-interpolation-filters="sRGB"><feTurbulence type="fractalNoise" baseFrequency="0.03 0.13" numOctaves="2" seed="9"/><feColorMatrix type="matrix" values="1 0 0 0 0 1 0 0 0 0 1 0 0 0 0 0 0 0 0 1"/><feComponentTransfer><feFuncR type="table" tableValues="0 0 0 0 0 0.1 0.9 0.1 0 0 0 0 0"/><feFuncG type="table" tableValues="0 0 0 0 0 0.1 0.9 0.1 0 0 0 0 0"/><feFuncB type="table" tableValues="0 0 0 0 0 0.1 0.9 0.1 0 0 0 0 0"/></feComponentTransfer><feColorMatrix type="matrix" values="0.5 0 0 0 0 0 0.3 0 0 0 0 0 0.46 0 0 0 0 0 1 0"/><feGaussianBlur stdDeviation="0.6" result="t"/><feGaussianBlur in="SourceAlpha" stdDeviation="3" result="a"/><feComposite in="t" in2="a" operator="in"/></filter><filter id="sm" x="0" y="0" width="1" height="1" color-interpolation-filters="sRGB"><feTurbulence type="fractalNoise" baseFrequency="0.03 0.13" numOctaves="2" seed="9"/><feColorMatrix type="matrix" values="1 0 0 0 0 1 0 0 0 0 1 0 0 0 0 0 0 0 0 1"/><feComponentTransfer><feFuncR type="table" tableValues="0 0 0 0 0 0.1 0.9 0.1 0 0 0 0 0"/><feFuncG type="table" tableValues="0 0 0 0 0 0.1 0.9 0.1 0 0 0 0 0"/><feFuncB type="table" tableValues="0 0 0 0 0 0.1 0.9 0.1 0 0 0 0 0"/></feComponentTransfer><feColorMatrix type="matrix" values="0.3 0 0 0 0 0 0.02 0 0 0 0 0 0.3 0 0 0 0 0 1 0"/><feGaussianBlur stdDeviation="0.8" result="t"/><feGaussianBlur in="SourceAlpha" stdDeviation="3" result="a"/><feComposite in="t" in2="a" operator="in"/></filter><filter id="sg" x="0" y="0" width="1" height="1" color-interpolation-filters="sRGB"><feTurbulence type="fractalNoise" baseFrequency="0.03 0.13" numOctaves="2" seed="9"/><feColorMatrix type="matrix" values="1 0 0 0 0 1 0 0 0 0 1 0 0 0 0 0 0 0 0 1"/><feComponentTransfer><feFuncR type="table" tableValues="0 0 0 0 0.1 0.55 1 0.55 0.1 0 0 0 0"/><feFuncG type="table" tableValues="0 0 0 0 0.1 0.55 1 0.55 0.1 0 0 0 0"/><feFuncB type="table" tableValues="0 0 0 0 0.1 0.55 1 0.55 0.1 0 0 0 0"/></feComponentTransfer><feColorMatrix type="matrix" values="0.08 0 0 0 0 0 0.42 0 0 0 0 0 0.06 0 0 0 0 0 1 0"/><feGaussianBlur stdDeviation="0.7" result="t"/><feGaussianBlur in="SourceAlpha" stdDeviation="3" result="a"/><feComposite in="t" in2="a" operator="in"/></filter><filter id="sgr" x="0" y="0" width="1" height="1" color-interpolation-filters="sRGB"><feTurbulence type="fractalNoise" baseFrequency="0.03 0.13" numOctaves="2" seed="9"/><feColorMatrix type="matrix" values="1 0 0 0 0 1 0 0 0 0 1 0 0 0 0 0 0 0 0 1"/><feComponentTransfer><feFuncR type="table" tableValues="0 0 0 0 0 0.1 0.9 0.1 0 0 0 0 0"/><feFuncG type="table" tableValues="0 0 0 0 0 0.1 0.9 0.1 0 0 0 0 0"/><feFuncB type="table" tableValues="0 0 0 0 0 0.1 0.9 0.1 0 0 0 0 0"/></feComponentTransfer><feColorMatrix type="matrix" values="0.55 0 0 0 0 0 0.55 0 0 0 0 0 0.55 0 0 0 0 0 1 0"/><feGaussianBlur stdDeviation="0.6" result="t"/><feGaussianBlur in="SourceAlpha" stdDeviation="3" result="a"/><feComposite in="t" in2="a" operator="in"/></filter><g id="m1a" filter="url(#fb4)" stroke-linecap="round" stroke-linejoin="round"><ellipse cx="921.5" cy="1160.2" rx="15.8" ry="30.8" fill="#ff28f0" transform="rotate(-25 921.5 1160.2)" opacity="0.8"/><ellipse cx="963.1" cy="1180.2" rx="8.3" ry="20" fill="#ff28f0" transform="rotate(-42 963.1 1180.2)" opacity="0.75"/><ellipse cx="983.1" cy="1192.7" rx="8.3" ry="5" fill="#ff28f0" opacity="0.65"/><ellipse cx="1003.8" cy="1228.4" rx="20" ry="30.8" fill="#ff28f0" transform="rotate(-22 1003.8 1228.4)" opacity="0.75"/><ellipse cx="1018" cy="1266.6" rx="5.8" ry="7.5" fill="#ff28f0" opacity="0.65"/><path d="M1037.9 1293.2L1044.6 1319.8L1057.9 1333.1L1076.2 1341.5L1094.5 1336.5L1104.4 1323.2L1099.4 1303.2L1089.5 1284.9" fill="none" stroke="#ff28f0" stroke-width="11.6" opacity="0.7"/><path d="M1051.2 1251.7L1071.2 1273.3" fill="none" stroke="#ff28f0" stroke-width="3.7" opacity="0.45"/></g><g id="m1b" filter="url(#fb2)" stroke-linecap="round" stroke-linejoin="round"><ellipse cx="924" cy="1170.2" rx="9.1" ry="10.8" fill="#ff48ff" transform="rotate(-20 924 1170.2)" opacity="0.95"/><ellipse cx="913.2" cy="1145.3" rx="5.8" ry="8.3" fill="#f040f8" transform="rotate(-20 913.2 1145.3)" opacity="0.7"/><ellipse cx="964.8" cy="1183.5" rx="5.3" ry="7" fill="#ff48ff" transform="rotate(-40 964.8 1183.5)" opacity="0.8"/><ellipse cx="1008" cy="1243.4" rx="7" ry="8" fill="#ff48ff" opacity="0.9"/><ellipse cx="1011.3" cy="1221.7" rx="6.3" ry="8" fill="#ff48ff" opacity="0.75"/><ellipse cx="1049.6" cy="1324.8" rx="6.3" ry="5.7" fill="#ff48ff" opacity="0.85"/><ellipse cx="1101.1" cy="1326.5" rx="7" ry="6" fill="#ff48ff" opacity="0.85"/><ellipse cx="1081.2" cy="1339.8" rx="5.3" ry="4.3" fill="#ff48ff" opacity="0.75"/><ellipse cx="1042.9" cy="1293.2" rx="3.3" ry="6.3" fill="#ff48ff" transform="rotate(-20 1042.9 1293.2)" opacity="0.75"/></g><g id="g1a" filter="url(#fb4)" stroke-linecap="round" stroke-linejoin="round"><ellipse cx="924.9" cy="1165.2" rx="16.6" ry="26.6" fill="#22e83a" transform="rotate(-25 924.9 1165.2)" opacity="0.65"/><ellipse cx="959.8" cy="1178.5" rx="8.3" ry="15.8" fill="#22e83a" transform="rotate(-40 959.8 1178.5)" opacity="0.55"/><ellipse cx="1006.3" cy="1226.7" rx="21.6" ry="26.6" fill="#22e83a" transform="rotate(-20 1006.3 1226.7)" opacity="0.7"/><path d="M1042.9 1308.2L1051.2 1328.2L1071.2 1338.1L1092.8 1333.1L1101.1 1311.5L1096.1 1291.6L1084.5 1274.9L1062.9 1258.3" fill="none" stroke="#22e83a" stroke-width="11" opacity="0.55"/></g><g id="g1b" filter="url(#fb2)" stroke-linecap="round" stroke-linejoin="round"><ellipse cx="927.4" cy="1173.5" rx="8.6" ry="8" fill="#50ff70" opacity="0.9"/><ellipse cx="1003" cy="1218.4" rx="10.3" ry="7" fill="#50ff80" transform="rotate(-20 1003 1218.4)" opacity="0.85"/><ellipse cx="1008" cy="1236.7" rx="8" ry="8.6" fill="#40ff60" opacity="0.8"/><ellipse cx="1021.3" cy="1218.4" rx="4.3" ry="7.6" fill="#30f050" transform="rotate(10 1021.3 1218.4)" opacity="0.85"/><ellipse cx="1040.4" cy="1228.4" rx="7.3" ry="4.2" fill="#30f050" transform="rotate(25 1040.4 1228.4)" opacity="0.95"/><ellipse cx="1096.1" cy="1308.2" rx="6" ry="10.3" fill="#30f050" transform="rotate(-20 1096.1 1308.2)" opacity="0.85"/><ellipse cx="1099.4" cy="1293.2" rx="4.3" ry="5.3" fill="#30f050" opacity="0.8"/><ellipse cx="1089.5" cy="1274.9" rx="3.7" ry="6.7" fill="#40e0c0" transform="rotate(-35 1089.5 1274.9)" opacity="0.8"/><ellipse cx="946.5" cy="1123.7" rx="4.2" ry="4.2" fill="#30c890" opacity="0.8"/><ellipse cx="963.1" cy="1186.8" rx="4.2" ry="4.2" fill="#30f050" opacity="0.7"/><ellipse cx="944.8" cy="1198.5" rx="2.3" ry="2.3" fill="#30f050" opacity="0.8"/><ellipse cx="1086.1" cy="1235" rx="4.2" ry="2.3" fill="#30f050" opacity="0.6"/></g><g id="w1" filter="url(#fb2)" stroke-linecap="round" stroke-linejoin="round"><ellipse cx="924" cy="1166.9" rx="11" ry="16.6" fill="#f4f0ff" transform="rotate(-25 924 1166.9)" opacity="0.85"/><ellipse cx="913.2" cy="1155.2" rx="3.7" ry="6.3" fill="#f4f0ff" opacity="0.7"/><ellipse cx="969.8" cy="1151.9" rx="5" ry="4.7" fill="#f4f0ff" opacity="0.75"/><ellipse cx="959.8" cy="1175.2" rx="5.3" ry="8" fill="#f4f0ff" transform="rotate(-35 959.8 1175.2)" opacity="0.75"/><ellipse cx="1001.3" cy="1210.1" rx="6.3" ry="14.1" fill="#f4f0ff" transform="rotate(-25 1001.3 1210.1)" opacity="0.9"/><ellipse cx="1003.8" cy="1236.7" rx="6.3" ry="6.3" fill="#f4f0ff" opacity="0.85"/><ellipse cx="994.7" cy="1240" rx="4.2" ry="3" fill="#f4f0ff" opacity="0.6"/><ellipse cx="1052.1" cy="1323.2" rx="6.7" ry="6" fill="#f4f0ff" opacity="0.9"/><ellipse cx="1103.6" cy="1324.8" rx="7.3" ry="6.3" fill="#f4f0ff" opacity="0.9"/><ellipse cx="1093.6" cy="1284.9" rx="5.3" ry="5.3" fill="#f4f0ff" opacity="0.65"/><path d="M1064.5 1265L1072.8 1271.6L1079.5 1274.9" fill="none" stroke="#f4f0ff" stroke-width="2.3" opacity="0.7"/><path d="M1076.2 1329.8L1091.1 1321.5L1101.1 1309.9" fill="none" stroke="#f4f0ff" stroke-width="1.7" opacity="0.5"/><path d="M1011.3 1278.3L1014.6 1286.6" fill="none" stroke="#f4f0ff" stroke-width="1.3" opacity="0.6"/><path d="M1029.6 1289.9L1034.6 1298.2" fill="none" stroke="#f4f0ff" stroke-width="1.3" opacity="0.6"/><path d="M989.7 1173.5L994.7 1170.2" fill="none" stroke="#f4f0ff" stroke-width="1.2" opacity="0.6"/><path d="M993 1181.8L1003 1179.4" fill="none" stroke="#f4f0ff" stroke-width="1.2" opacity="0.5"/></g><g id="n1" filter="url(#fb1)" stroke-linecap="round" stroke-linejoin="round"><path d="M945.7 1121.2l0.3 1.8M959.8 1124.5l-1.5 0.4M1095.3 1142.8l-0 1.9M1136 1169.4l1.4 0.9M892.5 1176.9l-1 2.2M903.3 1231.7l1.1 0.3M943.2 1240l2.4 0.7M940.7 1255.8l-0.2 0.3M907.4 1260.8l-2.9 0.2M969.8 1230.1l-0.9 1.7M963.9 1210.1l0.3 0.2M892.5 1284.9l-0 0.5M899.9 1291.6l0.8 0.5M909.9 1299.9l1.5 0.1M927.4 1310.7l0.5 2.5M983.1 1270l-0.1 2M899.1 1349.8l0 2.1M1091.1 1228.4l0.1 1M906.6 1150.3l-3 0M933.2 1191.8l-1.9 1.1M954.8 1166.9l0.5 0.8M963.1 1186.8l0.3 0.4M979.7 1190.2l-1 0.9M989.7 1193.5l-1.2 0.6M999.7 1196.8l-2.6 0.3M988 1215.1l0.9 0M996.4 1245l-1.5 0.4M1003 1255l-1.4 0.1M1018 1266.6l1.9 0.5M989.7 1231.7l-0.8 0.7M1046.2 1303.2l1.2 0.3M1046.2 1311.5l-2.3 0.3M1056.2 1301.5l0.9 0.3M1087.8 1271.6l0.4 0.1M1092.8 1294.9l-0.6 0.5M1111.1 1311.5l-0.3 1.5M1079.5 1339.8l1.9 1.3M1104.4 1328.2l1.9 0.8M1056.2 1333.1l1.3 0.5M1042.1 1230.1l0.8 0.6M1097.8 1231.7l-2.5 0.2M1024.6 1121.2l1.6 2.2M1059.5 1255l1.1 0.8M1013 1218.4l-1.8 0.9M1019.6 1241.7l2.8 0.9M904.9 1133.6l0.8 0.6M914.9 1166.9l-0.9 0.8M1094.5 1341.5l0.3 0.4M1139.3 1326.5l1.8 0.5M1146 1176.9l1.4 1.3M929.9 1181.8l0.6 1.4M996.4 1211.8l-1.6 0.2M1009.7 1228.4l-0.6 2.6M1047.9 1294.9l0.6 0.4M1096.1 1319.8l-2.4 0.7" fill="none" stroke="#2818f5" stroke-width="7"/></g><g id="m2a" filter="url(#fb4)" stroke-linecap="round" stroke-linejoin="round"><path d="M1006.3 1436.5L1013 1483L1009.7 1524.6L993 1557.8L986.4 1572.8" fill="none" stroke="#ff28f0" stroke-width="24.9" opacity="0.3"/><path d="M996.4 1566.2L1046.2 1591.1L1096.1 1624.3L1129.4 1649.3" fill="none" stroke="#ff28f0" stroke-width="18.3" opacity="0.3"/></g><g id="m2b" filter="url(#fb1)" stroke-linecap="round" stroke-linejoin="round"><path d="M1021.3 1458.1l-2.4 0.3M1008 1512.1l0.5 0.1M1018 1511.3l-1.7 0.9M1003 1522.9l-0.5 0.8M1021.3 1529.6l-0.5 1.5M981.4 1546.2l-0.2 0.6M983.1 1564.5l0.3 1.1M1013 1574.5l-1.6 1.9M1126 1649.3l-1.5 0.2M1097.8 1619.4l0.2 0.9" fill="none" stroke="#f436f4" stroke-width="7.2"/><path d="M999.7 1449.8l0.7 0.6M1009.7 1440.6l0.4 0.9M996.4 1461.4l-0.1 0.3M1004.7 1473l1.3 0.1M1016.3 1466.4l0.4 0.4M1029.6 1469.7l-0.9 0M999.7 1483l-0.8 0.4M1019.6 1483l-0.2 0.4M1013 1493l-0.6 1.2M1026.3 1491.3l-0.1 1.2M1003 1503l-0.2 0.3M1016.3 1503l-0.7 0.7M1042.9 1496.3l0.2 0.3M1013 1531.2l-0.8 0.4M1032.9 1521.3l-0.9 1M1039.6 1541.2l-0.9 1.1M1029.6 1542.9l0.4 1.2M996.4 1537.9l0.2 1.4M989.7 1539.5l-0.4 0.2M999.7 1552.9l0.5 0.2M978.1 1571.1l-0.8 0.1M1019.6 1575.3l-0.3 0.6M996.4 1574.5l-0 0.8M1062.9 1526.2l0.5 0.9M1067.9 1546.2l-0.4 1.3M1106.1 1571.1l-0.8 1.2M1101.1 1654.3l-1.3 0.6M1109.4 1627.7l-0.3 0.4M1071.2 1619.4l-1.3 0.6M1076.2 1629.3l-0.9 0.3M1099.4 1375l-0.3 0.4M1071.2 1476.4l-0.9 0.5M968.1 1554.5l0.2 0.3" fill="none" stroke="#c430ea" stroke-width="5.2" opacity="0.85"/><path d="M1094.5 1611L1102.8 1616L1099.4 1631Z" fill="#ff50ff" stroke="#ff50ff" stroke-width="1.7" opacity="0.9"/><path d="M1107.8 1624.3L1111.9 1631L1106.1 1632.7Z" fill="#ff50ff" stroke="#ff50ff" stroke-width="1" opacity="0.9"/><path d="M1069.5 1609.4L1079.5 1629.3L1089.5 1642.6L1101.1 1652.6" fill="none" stroke="#d030e0" stroke-width="2" opacity="0.7"/><path d="M969.8 1657.6L973.1 1650.9" fill="none" stroke="#f040f0" stroke-width="1.7" opacity="0.8"/><path d="M983.1 1657.6L986.4 1649.3" fill="none" stroke="#f040f0" stroke-width="1.7" opacity="0.8"/></g><g id="g2a" filter="url(#fb4)" stroke-linecap="round" stroke-linejoin="round"><path d="M1013 1491.3L1026.3 1516.3L1016.3 1549.5L1006.3 1564.5" fill="none" stroke="#22e83a" stroke-width="21.6" opacity="0.4"/><path d="M1006.3 1562.8L1046.2 1587.8L1096.1 1616L1134.4 1642.6" fill="none" stroke="#22e83a" stroke-width="20" opacity="0.45"/></g><g id="g2b" filter="url(#fb1)" stroke-linecap="round" stroke-linejoin="round"><path d="M1014.6 1547.9L1024.6 1554.5" fill="none" stroke="#40ff70" stroke-width="3.7" opacity="0.9"/><path d="M1003 1562.8L1013 1566.2" fill="none" stroke="#40ff70" stroke-width="3.7" opacity="0.9"/><path d="M1026.3 1571.1L1046.2 1582.8" fill="none" stroke="#40ff70" stroke-width="3.7" opacity="0.9"/><path d="M1052.9 1589.4L1072.8 1604.4" fill="none" stroke="#40ff70" stroke-width="3.7" opacity="0.9"/><path d="M1057.9 1574.5L1074.5 1581.1" fill="none" stroke="#40ff70" stroke-width="3.7" opacity="0.9"/><path d="M1102.8 1607.7L1121.1 1616" fill="none" stroke="#40ff70" stroke-width="3.7" opacity="0.9"/><path d="M1126 1629.3L1136 1639.3" fill="none" stroke="#40ff70" stroke-width="3.7" opacity="0.9"/><path d="M1046.2 1564.5L1049.6 1569.5" fill="none" stroke="#40ff70" stroke-width="3.7" opacity="0.9"/><path d="M1062.9 1604.4L1072.8 1616" fill="none" stroke="#40ff70" stroke-width="3.7" opacity="0.9"/><path d="M1109.4 1622.7L1112.7 1629.3" fill="none" stroke="#40ff70" stroke-width="3.7" opacity="0.9"/><path d="M1016.3 1556.2L1026.3 1561.2" fill="none" stroke="#60e8e0" stroke-width="3.3" opacity="0.85"/><path d="M1052.9 1586.1L1062.9 1592.8" fill="none" stroke="#60e8e0" stroke-width="3.3" opacity="0.85"/><path d="M1066.2 1577.8L1076.2 1581.1" fill="none" stroke="#60e8e0" stroke-width="3.3" opacity="0.85"/><path d="M1079.5 1599.4L1089.5 1609.4" fill="none" stroke="#60e8e0" stroke-width="3.3" opacity="0.85"/><path d="M1112.7 1611L1126 1619.4" fill="none" stroke="#60e8e0" stroke-width="3.3" opacity="0.85"/><path d="M1097.8 1616L1101.1 1612.7L1096.1 1632.7" fill="none" stroke="#40ff70" stroke-width="1.3" opacity="0.8"/><path d="M1076.2 1441.8l0.3 0.3M954.8 1534.6l0.1 0.4M1009.7 1534.6l0.6 0.1M954 1432.3l-0.8 0.2M978.1 1399.1l-0.3 0.3M1089.5 1582.8l-0.1 0.5M923.2 1587.8l0.3 0.2M923.2 1646l0.7 0.6M914.9 1517.1l-0.7 0.4M903.3 1551.2l-0.4 0.3" fill="none" stroke="#40d8a0" stroke-width="6.5" opacity="0.8"/></g><g id="w2" filter="url(#fb1)" stroke-linecap="round" stroke-linejoin="round"><path d="M1092.8 1609.4L1101.1 1614.4L1097.8 1632.7Z" fill="#f4f0ff" stroke="#f4f0ff" stroke-width="2" opacity="0.95"/><path d="M1107.8 1622.7L1112.7 1631L1106.1 1632.7Z" fill="#f4f0ff" stroke="#f4f0ff" stroke-width="1.3" opacity="0.9"/><path d="M918.2 1483L929.9 1484.7L943.2 1481.4L949.8 1488" fill="none" stroke="#f4f0ff" stroke-width="2" opacity="0.8"/><path d="M1047.9 1424.8L1059.5 1426.5L1067.9 1428.2" fill="none" stroke="#f4f0ff" stroke-width="1.7" opacity="0.7"/><path d="M1092.8 1398.2L1102.8 1393.2L1106.1 1399.9L1101.1 1403.2" fill="none" stroke="#f4f0ff" stroke-width="1.5" opacity="0.7"/><path d="M1003 1549.5L996.4 1554.5" fill="none" stroke="#f4f0ff" stroke-width="2" opacity="0.7"/><path d="M1086.1 1524.6L1089.5 1549.5L1094.5 1562.8" fill="none" stroke="#f4f0ff" stroke-width="1.5" opacity="0.6"/><path d="M890 1365L896.6 1361.7" fill="none" stroke="#f4f0ff" stroke-width="2.3" opacity="0.7"/><path d="M1004.7 1586.1L1013 1589.4" fill="none" stroke="#f4f0ff" stroke-width="2.3" opacity="0.7"/><path d="M1066.2 1544.5L1069.5 1549.5" fill="none" stroke="#f4f0ff" stroke-width="2.3" opacity="0.7"/></g><g id="n2" filter="url(#fb1)" stroke-linecap="round" stroke-linejoin="round"><path d="M1045.1 1580.7l1.6 0.9M1088.9 1641.1l-0.6 1.3M1074.8 1635l1.7 1.3M894 1497.6l-1.2 0.8M1126.6 1552.8l-0 0.8M1115.8 1391.6l1.2 0M1005.9 1431.7l-0.1 0.4M1024.9 1530.2l-0.7 0.5M890 1422.7l0.3 0.3M957.7 1633.2l-2 0M1043.7 1395.6l-1.6 0.7M941.4 1653.1l1.1 0.1M960.2 1646.8l0 0.6M1059.1 1419.1l-1.1 0.2M1126 1565.3l1.9 1M1132.5 1626.4l2.2 0.9M903.2 1448.2l0.2 1.6M1040 1358.5l0.7 1.2M967 1502.3l0.3 0.2M1065.9 1374.7l-0.8 0.3M1134.7 1364.4l-0.6 0.5M1077.4 1611.7l-2.3 0.2M898.5 1411.9l-1.5 1.4M1129.6 1416.6l-0.5 1.9M1126.3 1461.1l1.3 0.5M976.9 1515.4l-0.7 0.4M1083.9 1390l-2.3 0.6M1077 1597.4l0.3 1.1M1105.3 1368.5l0.2 1.2M1127.2 1384.9l-1.2 0M973.3 1541.3l0.5 0M1121.7 1521.5l-1.6 2M924.5 1564.9l0 1.4M1140.2 1406.1l-0.3 2M899 1654.4l1.3 1.1M1002.5 1484.4l-0.3 1.7M1072.7 1643.3l0.6 0.4M1047 1594.6l1.1 2.2M913.8 1488.3l0.8 1.5M1001.9 1658.2l0.3 0.4M1134.9 1494l2.1 0.4M1010.8 1577l-0.9 0.7M1008.5 1445.1l-1 1.6M982.5 1654.9l-2.4 0.8M1046.1 1507.8l0.7 2.5M955.9 1592.8l-1.6 0.2M978.5 1594l-1.3 0.5M1065.8 1442l0.3 0.8M1010.2 1589.1l-0.6 0.3M1025.8 1432.9l2.1 0.5M1094.4 1552.3l-1.1 0.9M1089.5 1462.2l-0.4 0.2M1097.3 1462.8l0.7 0.7M1101 1619.3l0.2 0.7M1061.7 1651.2l1.1 0.2M1129.9 1513.4l-2.4 0.8M1099.4 1639.6l-1 1M1008 1565.6l1.8 1.8M1069.7 1577.3l-0.2 2M930.3 1592.3l0.8 0.1M893.7 1405.7l-1.9 1M998.8 1553.1l-1.6 0.6M942.3 1563.9l0.4 1.6M1047.1 1370.1l-0.9 0.5M1005 1471.9l-0.1 0.9M1042.3 1535.1l-0.2 0.2M895.8 1542.1l-1.4 2.1M910.8 1521.6l1.7 0.1M973 1532.3l-1 2M1130.4 1603.8l-0.2 0.9M993.2 1602.1l0.7 2.4M1038.2 1527.2l-0.6 0.2M1130.1 1648.8l0.5 0.2M1113.9 1357.8l1.3 0.1M982.2 1487.4l2.1 1M1134 1471.8l-0.3 0.5M1038.2 1435.7l-0.1 1M1136.2 1506.8l0 0.8M992.3 1453.5l0.6 0.4M959.5 1501l0.7 1.8M917.6 1544.6l-0.1 0.4M999.4 1445.7l-1.4 1.8M1085.5 1606.3l-1.6 1.4M890 1517.8l1.4 0M1041.3 1500.3l2 0.4M1050.7 1539.2l1.7 1M1075.8 1393.1l1.3 1.4M1080.1 1448l0.2 0.3M1022.3 1458.6l0.3 1M962.1 1516.9l-0.9 0.3M895.9 1433.5l-0 1.6M1002.5 1633.3l-0.5 0.1M1025.4 1361.9l-0.5 1.4M1084.6 1486.2l-1.7 1.9M1033.1 1570.6l1.1 1.6M1118.5 1473.5l-0.1 1.6M1099.4 1566.5l2.1 0.4M1085.2 1631.5l-1.1 0.1M922.9 1501.5l1.4 2.2M1026.3 1507.3l0.4 0.2M1035.7 1601.8l2.1 0.5M1095.1 1595.8l-1 0.9M1055.4 1365.2l-0.1 0.3M1070.4 1652l-0.6 1.2M1140.6 1568.5l-0.1 1.2M1050.9 1644.1l0.2 0.8M1067.9 1398l1.3 0.2M1042 1482.1l1.4 1.3M927.6 1544.8l-1.6 1.1M897.7 1390.1l0.1 0.8M901.3 1530.6l0.5 1.3M1075.5 1621.8l-1 2.3M900.8 1567.3l1.4 0.4M1015.3 1631.5l0 1.9M981.1 1579.2l-2 0.7M932.2 1572.1l-0.8 1.9M1053.2 1383.2l-1.1 2M918.4 1536.2l-1.1 1.5M925 1644l1.7 1.7M1134.1 1557.6l0.6 1.6M1095.4 1399.6l-2.1 1.3M1103.2 1513.2l-0.3 0M1112.8 1502.2l0.6 0.8M1080 1357.6l0.2 0.6M1006.2 1625.3l-0.1 0.5M995.7 1497.6l1.4 2M946.5 1502.6l-0.9 1M1127.1 1393l2.4 0.8M1058.2 1577l-0.5 0.6M906.5 1478.2l0.9 1.5M958.7 1577.9l-0.5 0.8M1069.3 1406.7l-1 0.2M898.1 1522.5l1.6 1.6M1124.7 1373.7l1.7 0.9M951.6 1480.1l1.4 1M1016 1478.6l0.8 0.9M1021.8 1382.9l-1.4 0.3M1024.5 1634.7l0.3 1.7M1104.6 1422l0.4 0.5M1010.4 1529.5l0.3 0.9M982.4 1545.6l2.1 1.4M964.9 1492.6l2.2 0.2M1096.8 1424.9l-1.9 0.4M908.9 1589.9l1.5 0.1M1095.1 1451.7l1.7 0.2M995.7 1531.1l-0.5 0.7M1114.6 1554.3l1.6 0M1129.5 1576.6l1 0.3M1093.2 1472.6l0.3 2.3M977.5 1616.2l0.2 0.6M1042.3 1427l-1.7 1.3M995.7 1466.6l-0 0.4M1071.5 1386.2l1 0.7M1125.4 1596.7l-0.1 0.8M1119.4 1496.2l-1.8 1.3M1022.1 1649.3l-2.3 0.5M1033.4 1502.5l1.6 0.1M1110.9 1475.7l2.3 0.6M937.8 1526.7l-1.4 1.5M949.8 1653.1l0.4 0.2M1102.8 1543.5l-1.4 0.9M1098.2 1505l-0.5 1.3M911.7 1573.5l-0.9 0.6M1115.6 1417.5l0.7 0.8M1060.3 1617.2l1 1.4M1016.8 1534l-0.4 0.2M1037.6 1562l1.4 0.3M1019.5 1443l-0.4 0.6M1079.9 1572.5l0.3 0.3M1061.6 1609.8l1.4 0.2M939.7 1513l-1 1.5M1114.6 1429.4l0.5 0.3M1134.6 1521.2l-1.5 0.3M986.7 1358.4l0.5 1.8M1118.2 1542.1l-1 1.1M1081.6 1425.1l2.1 0.5M994.8 1516.6l0.3 0.2M1116.8 1448.5l0.7 1.4M958 1539.7l-0.3 0.6M1029.7 1539.1l-0.9 1.1M1037.9 1552l2 1.1M902.2 1503.4l-2 1.4M967.6 1613.4l-0.4 0.7M1122.4 1426.4l-1.8 1.5M1130 1545.6l-0.2 2.4M1038.5 1470.2l-1.2 0.1M1063.9 1594.9l-2.4 0.4M1033.1 1446.6l-0.3 0.2M899.5 1484.1l0.8 1.5M947.1 1558l-0.7 1.9M905.3 1439.1l-0.3 0.6M911.1 1501.2l-1.5 0.3M1081.5 1466.1l-0.7 0.3M1018.1 1373.5l-1.6 0M1006.7 1383.2l-1.5 1.3M1037.6 1629l-1.1 0.4M1050.7 1548.8l1.2 0.3M895.8 1364.7l1.3 0.8M1109 1606l-0.9 0.6M1140.8 1585.1l0.3 0.1M1113.5 1402.1l0.4 1.6M1133.9 1656.7l1.8 0.2M941.8 1484.3l0.4 0.3M959.5 1558.1l-1.5 0.3M983.6 1627.5l-1.4 0.5M946.8 1634.4l0.8 0.3M995.8 1437.8l0.4 1.7M1083.8 1403.2l-1.5 1.3M980.4 1501.2l-0.4 0.8M1034.6 1648.1l0.3 1.1M947.9 1528.6l0 0.9M953.5 1521.6l-0.2 1.3M888.7 1589.6l2.2 0.2M993.2 1509.2l-0.6 2.1M896.4 1473.5l-1.3 1.5M1053.2 1635.8l-1.2 0M1000.8 1579l0.1 0.3M939.4 1494.1l-0.8 1.4M1132.7 1436.7l-0.6 2.5M953.3 1607l0.7 0.5M1109.6 1489.5l-1.5 1.6M889.1 1370.5l0 0.4M1036.4 1392.8l0.9 2M1113.5 1574.4l0 1.4M904.3 1551l0.6 1.6M1101.2 1393.8l-0.6 1.8M1078.6 1435.3l-1.8 0.8M962.6 1357.9l0.3 0.8M909.1 1463.6l-1.6 1.3M1112.9 1437.1l-0.7 0.2M1021.9 1458.7l-2.1 1.1M1001.8 1448l1 0.2M1010.9 1439.9l-0.3 0.6M994.5 1462l-0.8 0.5M1006.3 1473.4l-0.5 0.8M1014.2 1468.6l0.6 0.5M1029.1 1470.4l0 1.9M1000.7 1481.9l1.5 1.2M1019.2 1482.2l0.9 1.6M1011.1 1491l0.3 0.7M1027.3 1490.9l0.4 0.2M1004.7 1500.9l-0.7 1M1015.4 1501.5l2.2 0.9M1045 1497.7l-0.2 0.3M1009.8 1512.1l-1.1 1.3M1016.1 1510.9l0.3 1.4M1001.7 1520.7l-1.2 0.1M1021.6 1528.6l-0.7 1.6M1011.2 1531.3l0.4 1M1035 1523.3l-1.3 1.2M1039.4 1539.4l0.2 1.5M1030.9 1541.1l1.6 1.4M981.6 1544.3l1.8 0.1M998.6 1538.1l0.1 0.8M989.4 1538.5l-0.4 1.6M999.9 1555.1l1.4 0.4M982.7 1563.1l1.9 1.1M978.1 1573.1l0.5 0.9M1012.4 1575.1l0.3 0.3M1021.6 1574.5l0.5 0.4M997.8 1574.6l-0.9 2.1M1061.2 1524.2l0.4 0.4M1069.9 1546l-0.1 0.6M1105.8 1573.1l0.6 2M1101.4 1654.3l1.5 1.1M1125 1650.4l-0.1 0.5M1096.6 1619.2l1.2 1.2M1110.6 1628.2l0.7 0.2M1069.5 1618l-0.5 2.1M1077.1 1630.4l-0.1 1.8M1097.6 1377.3l1 0M1069.5 1474.8l1.3 2M966.2 1554.3l0.9 1.9M1094.6 1605.4l1.4 0.2M1083.3 1625.3l-2 0.7M1027.7 1567.9l-0.2 0.7M1086.9 1632.8l-0.5 0.1M1046.7 1593.3l-2.1 0.2M1076.6 1615.9l-1 1.2M1031.2 1595.4l0.9 0.5M1012.7 1567.7l-0.9 1.6M1123.2 1653.4l0.7 2M1110.2 1613.4l0.9 0.2M1124.1 1656.3l1 0.3M1087.4 1629.5l-1.6 1.2M1087.1 1627.7l0.9 0.5M1074.1 1608.3l1.7 0.6M1098.7 1631.8l0.1 0.8M1005.2 1566.1l0.9 2.1M1101 1636.8l0.4 1.8M1052.6 1593.5l-0.5 1.3M1144.6 1640.7l-0.2 1.1M1118 1631.6l1.2 0.8M1079.4 1611.1l0.6 0.9M1002.5 1561.2l2 1.3M1101.5 1625.1l0.2 0.7M1046.7 1582.6l0.8 0.1M1088.4 1611.7l-1 0.4M1080.2 1614.6l-0.4 0.7M1104.6 1622.8l-0.6 1.2M1006.4 1547.4l-1 1.1M1059.3 1609.6l0.4 0.9M1064.4 1588l-0.6 2.1M1116.7 1635.6l-0.8 1.2M1117.7 1642l1.2 2M1120.1 1622.7l-0.6 0.3M1136 1631.3l-1.1 1.8M1000.9 1552l-1.3 2.1M1036.3 1583.9l-0.8 0.3M994.7 1552.2l-1.1 0M1096 1615.7l0.9 2.4M1142.9 1652.3l1 0.6M1024.1 1576.6l-0.4 0.9M1014.8 1423.5l1.4 1.6M1017.3 1525.8l-0.7 1.9M1029.9 1538.6l-1.8 1.4M1029.4 1525.1l-2.1 0.7M1039.4 1546.4l-1.4 0.1M1035.2 1477.3l-0.9 1.2M1028.1 1510.7l-1.8 0.2M1040 1518.3l0.4 1.8M1016.6 1446.2l0.4 0.5M1010.5 1454.4l0.2 0.6M1029.3 1526l0.5 0M1003.3 1493.5l0.3 2M1037.7 1470.3l1.7 0.3M998.1 1503.4l1.4 0.5M1012.3 1439.7l0.8 1.1M1008.4 1420.8l-0.8 1M1001 1478.5l0.7 1.9M998.6 1420.7l1 0.4M1022.3 1552l-1.3 1.8M1037.4 1464.9l-0.9 0.1M1042.2 1430.9l-0.4 0.9M1001 1420.8l-1.3 1.8M996.1 1502.9l1 0.5M1033.3 1485.8l-1.1 0.2M1035.8 1482.1l-0.9 2M1041.9 1503.7l1.3 1.6M1021.6 1443.4l1.1 0M1015.7 1480.6l0.9 0.5M1036.8 1451.5l0.3 0.2M1008.7 1532.5l-0.6 0.4M953.1 1432.3l-0.4 1.5M978.1 1399.9l-2 1" fill="none" stroke="#2818f5" stroke-width="5.8"/></g><mask id="pm2" maskUnits="userSpaceOnUse" x="875.8" y="1347" width="275.9" height="322.3"><rect x="875.8" y="1347" width="275.9" height="322.3" fill="#fff"/><path d="M896.6 1355L988 1355L1013 1391.6L1024.6 1413.2L996.4 1421.5L993 1449.8L979.7 1474.7L963.1 1483L954.8 1479.7L929.9 1476.4L916.6 1463.1L904.9 1433.1L898.3 1399.9ZM1046.2 1436.5L1079.5 1453.1L1084.5 1499.6L1087.8 1532.9L1082.8 1566.2L1062.9 1557.8L1054.6 1516.3L1042.9 1483L1037.9 1458.1ZM1021.3 1599.4L1054.6 1609.4L1062.9 1636L1029.6 1626ZM966.4 1486.3L996.4 1499.6L988 1524.6L973.1 1516.3Z" fill="#000" filter="url(#fb2)"/><path d="M988 1419.8L1029.6 1416.5L1046.2 1436.5L1042.9 1483L1054.6 1516.3L1062.9 1557.8L1029.6 1566.2L996.4 1557.8L973.1 1532.9L988 1499.6L979.7 1474.7L993 1449.8Z" fill="#000" opacity="0.75" filter="url(#fb4)"/><path d="M886.6 1596.1L1046.2 1587.8L1071.2 1665.9L886.6 1665.9ZM1029.6 1356.7L1146 1356.7L1146 1399.9L1096.1 1383.3L1046.2 1391.6Z" fill="#000" opacity="0.5" filter="url(#fb8)"/></mask><polygon id="ah" points="0,0 -13.2,-6.2 -8.6,0 -13.2,6.2" fill="#e9f53e"/></defs>
<clipPath id="f00"><rect x="885.8" y="1119" width="255.9" height="234.1"/></clipPath><g clip-path="url(#f00)" style="isolation:isolate"><rect x="885.8" y="1119" width="255.9" height="234.1" fill="#020003"/><rect x="805.8" y="1019" width="415.9" height="434.1" fill="#fff" filter="url(#sw)" opacity="0.3" transform="rotate(58 1013.75 1236.05)"/><use href="#m1a" opacity="0.95" style="mix-blend-mode:screen"/><use href="#m1b" opacity="0.95" style="mix-blend-mode:screen"/><use href="#g1a" opacity="0.4" style="mix-blend-mode:screen"/><use href="#g1b" opacity="0.6" style="mix-blend-mode:screen"/><use href="#n1" opacity="0.95" style="mix-blend-mode:screen"/><use href="#w1" opacity="0.95" style="mix-blend-mode:screen"/></g>
<clipPath id="f10"><rect x="1144.9" y="1119" width="255.9" height="234.1"/></clipPath><g clip-path="url(#f10)" style="isolation:isolate"><rect x="1144.9" y="1119" width="255.9" height="234.1" fill="#020003"/><rect x="1064.9" y="1019" width="415.9" height="434.1" fill="#fff" filter="url(#sm)" opacity="0.14" transform="rotate(58 1272.85 1236.05)"/><use href="#m1a" x="259.1" opacity="0.9" style="mix-blend-mode:screen"/><use href="#m1b" x="259.1" opacity="0.9" style="mix-blend-mode:screen"/><use href="#n1" x="259.1" opacity="0.95" style="mix-blend-mode:screen"/><use href="#ah" transform="translate(1163.6 1134.9) rotate(49)"/><use href="#ah" transform="translate(1248.7 1187.6) rotate(127)"/><use href="#ah" transform="translate(1213.5 1203.1) rotate(180)"/><use href="#ah" transform="translate(1277.8 1274.9) rotate(-43)"/><use href="#ah" transform="translate(1338.5 1334) rotate(71)"/></g>
<clipPath id="f20"><rect x="1404" y="1119" width="255.9" height="234.1"/></clipPath><g clip-path="url(#f20)" style="isolation:isolate"><rect x="1404" y="1119" width="255.9" height="234.1" fill="#020003"/><rect x="1324" y="1019" width="415.9" height="434.1" fill="#fff" filter="url(#sg)" opacity="0.36" transform="rotate(58 1531.95 1236.05)"/><ellipse cx="1531.95" cy="1236.05" rx="150" ry="90" fill="#0c3a0a" opacity="0.55" filter="url(#fb8)" transform="rotate(38 1531.95 1236.05)"/><use href="#g1a" x="518.2" style="mix-blend-mode:screen"/><use href="#g1b" x="518.2" style="mix-blend-mode:screen"/><use href="#n1" x="518.2" opacity="0.95" style="mix-blend-mode:screen"/><use href="#ah" transform="translate(1478.5 1125) rotate(212)"/><use href="#ah" transform="translate(1494.9 1243.3) rotate(248)"/><use href="#ah" transform="translate(1564.3 1238.4) rotate(248)"/><use href="#ah" transform="translate(1608.3 1281.6) rotate(312)"/><use href="#ah" transform="translate(1455.4 1318.2) rotate(210)"/></g>
<clipPath id="f30"><rect x="1663.1" y="1119" width="255.9" height="234.1"/></clipPath><g clip-path="url(#f30)" style="isolation:isolate"><rect x="1663.1" y="1119" width="255.9" height="234.1" fill="#020003"/><rect x="1583.1" y="1019" width="415.9" height="434.1" fill="#fff" filter="url(#sgr)" opacity="0.2" transform="rotate(58 1791.05 1236.05)"/><use href="#n1" x="777.3" opacity="0.95" style="mix-blend-mode:screen"/><use href="#w1" x="777.3" opacity="0.9" style="mix-blend-mode:screen"/><use href="#ah" transform="translate(1750.1 1146.1) rotate(110)"/><use href="#ah" transform="translate(1782.5 1191.8) rotate(110)"/><use href="#ah" transform="translate(1790.8 1212.6) rotate(169)"/><use href="#ah" transform="translate(1895.1 1305.2) rotate(129)"/><use href="#ah" transform="translate(1897.2 1332.3) rotate(195)"/><rect x="1888.1" y="1345.4" width="26.6" height="2.2" fill="#fff"/></g>
<clipPath id="f01"><rect x="885.8" y="1357" width="255.9" height="302.3"/></clipPath><g clip-path="url(#f01)" style="isolation:isolate"><rect x="885.8" y="1357" width="255.9" height="302.3" fill="#020003"/><g transform="translate(0 0)"><rect x="879.8" y="1351" width="267.9" height="314.3" fill="#fff" filter="url(#fw)" mask="url(#pm2)" opacity="0.72"/></g><use href="#n2" opacity="0.82" style="mix-blend-mode:screen"/><use href="#g2a" opacity="0.7" style="mix-blend-mode:screen"/><use href="#g2b" opacity="0.75" style="mix-blend-mode:screen"/><use href="#m2a" opacity="0.95" style="mix-blend-mode:screen"/><use href="#m2b" opacity="0.95" style="mix-blend-mode:screen"/><use href="#w2" opacity="0.9" style="mix-blend-mode:screen"/></g>
<clipPath id="f11"><rect x="1144.9" y="1357" width="255.9" height="302.3"/></clipPath><g clip-path="url(#f11)" style="isolation:isolate"><rect x="1144.9" y="1357" width="255.9" height="302.3" fill="#020003"/><g transform="translate(259.1 0)"><rect x="879.8" y="1351" width="267.9" height="314.3" fill="#fff" filter="url(#fm)" mask="url(#pm2)" opacity="0.7"/></g><use href="#n2" x="259.1" opacity="0.82" style="mix-blend-mode:screen"/><use href="#m2a" x="259.1" opacity="0.95" style="mix-blend-mode:screen"/><use href="#m2b" x="259.1" opacity="0.95" style="mix-blend-mode:screen"/><use href="#ah" transform="translate(1249.6 1453.1) rotate(41)"/><use href="#ah" transform="translate(1341 1477.2) rotate(181)"/><use href="#ah" transform="translate(1250.1 1531.2) rotate(41)"/><use href="#ah" transform="translate(1326.9 1527.6) rotate(155)"/><use href="#ah" transform="translate(1293.6 1548.7) rotate(235)"/><use href="#ah" transform="translate(1373.4 1571.1) rotate(166)"/><use href="#ah" transform="translate(1240.4 1576.9) rotate(280)"/><use href="#ah" transform="translate(1282 1594.4) rotate(280)"/><use href="#ah" transform="translate(1328.5 1626) rotate(324)"/></g>
<clipPath id="f21"><rect x="1404" y="1357" width="255.9" height="302.3"/></clipPath><g clip-path="url(#f21)" style="isolation:isolate"><rect x="1404" y="1357" width="255.9" height="302.3" fill="#020003"/><g transform="translate(518.2 0)"><rect x="879.8" y="1351" width="267.9" height="314.3" fill="#fff" filter="url(#fg)" mask="url(#pm2)" opacity="0.55"/></g><use href="#n2" x="518.2" opacity="0.85" style="mix-blend-mode:screen"/><use href="#g2a" x="518.2" style="mix-blend-mode:screen"/><use href="#g2b" x="518.2" style="mix-blend-mode:screen"/><use href="#ah" transform="translate(1599.2 1437.3) rotate(98)"/><use href="#ah" transform="translate(1527.7 1487.2) rotate(2)"/><use href="#ah" transform="translate(1472.8 1531.2) rotate(64)"/><use href="#ah" transform="translate(1538.5 1550.3) rotate(110)"/><use href="#ah" transform="translate(1442.1 1583.6) rotate(110)"/><use href="#ah" transform="translate(1612.5 1581.1) rotate(131)"/><use href="#ah" transform="translate(1557.6 1600.2) rotate(309)"/><use href="#ah" transform="translate(1446.2 1640.1) rotate(110)"/></g>
<clipPath id="f31"><rect x="1663.1" y="1357" width="255.9" height="302.3"/></clipPath><g clip-path="url(#f31)" style="isolation:isolate"><rect x="1663.1" y="1357" width="255.9" height="302.3" fill="#020003"/><g transform="translate(777.3 0)"><rect x="879.8" y="1351" width="267.9" height="314.3" fill="#fff" filter="url(#fgr)" mask="url(#pm2)" opacity="0.72"/></g><use href="#n2" x="777.3" opacity="0.85" style="mix-blend-mode:screen"/><use href="#w2" x="777.3" opacity="0.95" style="mix-blend-mode:screen"/><use href="#ah" transform="translate(1780.9 1369.1) rotate(240)"/><use href="#ah" transform="translate(1686.6 1451.4) rotate(132)"/><use href="#ah" transform="translate(1789.2 1456.4) rotate(132)"/><use href="#ah" transform="translate(1801.6 1536.2) rotate(266)"/><use href="#ah" transform="translate(1757.6 1559.2) rotate(132)"/><use href="#ah" transform="translate(1740.1 1572.8) rotate(270)"/><use href="#ah" transform="translate(1837.4 1607.7) rotate(314)"/><use href="#ah" transform="translate(1901.7 1636) rotate(90)"/><rect x="1893.9" y="1653.3" width="19.2" height="2.2" fill="#fff"/></g>
<text x="1013.7" y="1110" font-size="21.3" text-anchor="middle" font-weight="bold" fill="#000" stroke="#000" stroke-width="0.35">Merged</text>
<text x="1272.8" y="1110" font-size="21.3" text-anchor="middle" font-weight="bold" fill="#ff2af2" stroke="#ff2af2" stroke-width="0.35">CD3</text>
<text x="1531.9" y="1110" font-size="21.3" text-anchor="middle" font-weight="bold" fill="#35d329" stroke="#35d329" stroke-width="0.35">CD11B</text>
<text x="1791" y="1110" font-size="21.3" text-anchor="middle" font-weight="bold" fill="#c8c8c8" stroke="#c8c8c8" stroke-width="0.35">CD19</text>
<text font-size="21.3" text-anchor="middle" font-weight="bold" fill="#000" stroke="#000" stroke-width="0.35" transform="translate(870.5 1391) rotate(-90)">VI niche</text>
<rect x="68.6" y="1748.2" width="75.4" height="69.1" fill="#cfe1f2"/>
<text x="106.1" y="1789.95" font-size="20.6" text-anchor="middle" fill="#111" stroke="#111" stroke-width="0.35">0.18</text>
<rect x="143.6" y="1748.2" width="75.4" height="69.1" fill="#4a8fc9"/>
<text x="181.1" y="1789.95" font-size="20.6" text-anchor="middle" fill="#fff" stroke="#fff" stroke-width="0.35">0.51</text>
<rect x="218.6" y="1748.2" width="75.4" height="69.1" fill="#d6e6f4"/>
<text x="256.1" y="1789.95" font-size="20.6" text-anchor="middle" fill="#111" stroke="#111" stroke-width="0.35">0.15</text>
<rect x="293.6" y="1748.2" width="75.4" height="69.1" fill="#d0e2f2"/>
<text x="331.1" y="1789.95" font-size="20.6" text-anchor="middle" fill="#111" stroke="#111" stroke-width="0.35">0.17</text>
<rect x="68.6" y="1816.9" width="75.4" height="69.1" fill="#e8f1fa"/>
<text x="106.1" y="1858.65" font-size="20.6" text-anchor="middle" fill="#111" stroke="#111" stroke-width="0.35">0.084</text>
<rect x="143.6" y="1816.9" width="75.4" height="69.1" fill="#1d3a7a"/>
<text x="181.1" y="1858.65" font-size="20.6" text-anchor="middle" fill="#fff" stroke="#fff" stroke-width="0.35">0.71</text>
<rect x="218.6" y="1816.9" width="75.4" height="69.1" fill="#e1edf8"/>
<text x="256.1" y="1858.65" font-size="20.6" text-anchor="middle" fill="#111" stroke="#111" stroke-width="0.35">0.11</text>
<rect x="293.6" y="1816.9" width="75.4" height="69.1" fill="#e3eef8"/>
<text x="331.1" y="1858.65" font-size="20.6" text-anchor="middle" fill="#111" stroke="#111" stroke-width="0.35">0.1</text>
<rect x="68.6" y="1885.6" width="75.4" height="69.1" fill="#f2f7fd"/>
<text x="106.1" y="1927.35" font-size="20.6" text-anchor="middle" fill="#111" stroke="#111" stroke-width="0.35">0.047</text>
<rect x="143.6" y="1885.6" width="75.4" height="69.1" fill="#c9ddf0"/>
<text x="181.1" y="1927.35" font-size="20.6" text-anchor="middle" fill="#111" stroke="#111" stroke-width="0.35">0.2</text>
<rect x="218.6" y="1885.6" width="75.4" height="69.1" fill="#4f94cb"/>
<text x="256.1" y="1927.35" font-size="20.6" text-anchor="middle" fill="#fff" stroke="#fff" stroke-width="0.35">0.49</text>
<rect x="293.6" y="1885.6" width="75.4" height="69.1" fill="#a3cce3"/>
<text x="331.1" y="1927.35" font-size="20.6" text-anchor="middle" fill="#111" stroke="#111" stroke-width="0.35">0.29</text>
<rect x="68.6" y="1954.3" width="75.4" height="69.1" fill="#f5f9fe"/>
<text x="106.1" y="1996.05" font-size="20.6" text-anchor="middle" fill="#111" stroke="#111" stroke-width="0.35">0.041</text>
<rect x="143.6" y="1954.3" width="75.4" height="69.1" fill="#cfe1f2"/>
<text x="181.1" y="1996.05" font-size="20.6" text-anchor="middle" fill="#111" stroke="#111" stroke-width="0.35">0.18</text>
<rect x="218.6" y="1954.3" width="75.4" height="69.1" fill="#abd0e6"/>
<text x="256.1" y="1996.05" font-size="20.6" text-anchor="middle" fill="#111" stroke="#111" stroke-width="0.35">0.27</text>
<rect x="293.6" y="1954.3" width="75.4" height="69.1" fill="#4a8fc9"/>
<text x="331.1" y="1996.05" font-size="20.6" text-anchor="middle" fill="#fff" stroke="#fff" stroke-width="0.35">0.51</text>
<rect x="68.6" y="1748.2" width="300" height="274.8" fill="none" stroke="#333" stroke-width="1.2"/>
<line x1="62.6" y1="1782.55" x2="68.6" y2="1782.55" stroke="#333" stroke-width="1.3" />
<text font-size="20.6" text-anchor="middle" stroke="#111" stroke-width="0.35" transform="translate(54.5 1782.55) rotate(-90)">VI</text>
<line x1="62.6" y1="1851.25" x2="68.6" y2="1851.25" stroke="#333" stroke-width="1.3" />
<text font-size="20.6" text-anchor="middle" stroke="#111" stroke-width="0.35" transform="translate(54.5 1851.25) rotate(-90)">LC</text>
<line x1="62.6" y1="1919.95" x2="68.6" y2="1919.95" stroke="#333" stroke-width="1.3" />
<text font-size="20.6" text-anchor="middle" stroke="#111" stroke-width="0.35" transform="translate(54.5 1919.95) rotate(-90)">LR</text>
<line x1="62.6" y1="1988.65" x2="68.6" y2="1988.65" stroke="#333" stroke-width="1.3" />
<text font-size="20.6" text-anchor="middle" stroke="#111" stroke-width="0.35" transform="translate(54.5 1988.65) rotate(-90)">PPWM</text>
<line x1="106.1" y1="2023" x2="106.1" y2="2029" stroke="#333" stroke-width="1.3" />
<line x1="181.1" y1="2023" x2="181.1" y2="2029" stroke="#333" stroke-width="1.3" />
<line x1="256.1" y1="2023" x2="256.1" y2="2029" stroke="#333" stroke-width="1.3" />
<line x1="331.1" y1="2023" x2="331.1" y2="2029" stroke="#333" stroke-width="1.3" />
<text font-size="21" text-anchor="end" stroke="#111" stroke-width="0.35" transform="translate(116.6 2039) rotate(-45)">VI</text>
<text font-size="21" text-anchor="end" stroke="#111" stroke-width="0.35" transform="translate(191.6 2039) rotate(-45)">LC</text>
<text font-size="21" text-anchor="end" stroke="#111" stroke-width="0.35" transform="translate(266.6 2039) rotate(-45)">LR</text>
<text font-size="21" text-anchor="end" stroke="#111" stroke-width="0.35" transform="translate(341.6 2039) rotate(-45)">PPWM</text>
<text font-size="20.6" text-anchor="middle" stroke="#111" stroke-width="0.35" transform="translate(24.5 1886) rotate(-90)">source</text>
<text x="218.7" y="2099.8" font-size="20.6" text-anchor="middle" stroke="#111" stroke-width="0.35">target</text>
<defs><linearGradient id="gblues" x1="0" y1="0" x2="0" y2="1"><stop offset="0%" stop-color="#1d3a7a"/><stop offset="10%" stop-color="#2a5798"/><stop offset="20%" stop-color="#3974b3"/><stop offset="30%" stop-color="#4b90c9"/><stop offset="40%" stop-color="#64a3d1"/><stop offset="50%" stop-color="#80b6da"/><stop offset="60%" stop-color="#9ec9e2"/><stop offset="70%" stop-color="#bad7eb"/><stop offset="80%" stop-color="#d1e3f2"/><stop offset="90%" stop-color="#e4eef8"/><stop offset="100%" stop-color="#f6fafe"/></linearGradient></defs>
<rect x="370.3" y="1814.7" width="6.8" height="136.5" fill="url(#gblues)"/>
<line x1="377.1" y1="1838" x2="383" y2="1838" stroke="#333" stroke-width="1.3" />
<text x="384.3" y="1845.3" font-size="20.6" stroke="#111" stroke-width="0.35">0.6</text>
<line x1="377.1" y1="1879" x2="383" y2="1879" stroke="#333" stroke-width="1.3" />
<text x="384.3" y="1886.3" font-size="20.6" stroke="#111" stroke-width="0.35">0.4</text>
<line x1="377.1" y1="1920.2" x2="383" y2="1920.2" stroke="#333" stroke-width="1.3" />
<text x="384.3" y="1927.5" font-size="20.6" stroke="#111" stroke-width="0.35">0.2</text>
<text font-size="20.6" text-anchor="middle" stroke="#111" stroke-width="0.35" transform="translate(437 1885.6) rotate(-90)">Mean proportion</text>
<rect x="546.1" y="1751.2" width="44.34" height="42" fill="#eff142"/>
<rect x="590.14" y="1751.2" width="44.34" height="42" fill="#eff142"/>
<rect x="634.18" y="1751.2" width="44.34" height="42" fill="#eff142"/>
<rect x="678.22" y="1751.2" width="44.34" height="42" fill="#eff142"/>
<rect x="722.26" y="1751.2" width="44.34" height="42" fill="#eff142"/>
<rect x="766.3" y="1751.2" width="44.34" height="42" fill="#eff142"/>
<rect x="810.34" y="1751.2" width="44.34" height="42" fill="#eff142"/>
<rect x="854.38" y="1751.2" width="44.34" height="42" fill="#eff142"/>
<rect x="898.42" y="1751.2" width="44.34" height="42" fill="#eff142"/>
<rect x="942.46" y="1751.2" width="44.34" height="42" fill="#eff142"/>
<rect x="986.5" y="1751.2" width="44.34" height="42" fill="#46085c"/>
<rect x="1030.54" y="1751.2" width="44.34" height="42" fill="#46085c"/>
<rect x="1074.58" y="1751.2" width="44.34" height="42" fill="#46085c"/>
<rect x="1118.62" y="1751.2" width="44.34" height="42" fill="#46085c"/>
<rect x="1162.66" y="1751.2" width="44.34" height="42" fill="#46085c"/>
<rect x="1206.7" y="1751.2" width="44.34" height="42" fill="#46085c"/>
<rect x="1250.74" y="1751.2" width="44.34" height="42" fill="#46085c"/>
<rect x="1294.78" y="1751.2" width="44.34" height="42" fill="#46085c"/>
<rect x="1338.82" y="1751.2" width="44.34" height="42" fill="#46085c"/>
<rect x="1382.86" y="1751.2" width="44.34" height="42" fill="#46085c"/>
<rect x="546.1" y="1792.9" width="44.34" height="42" fill="#355f8d"/>
<rect x="590.14" y="1792.9" width="44.34" height="42" fill="#48aa8c"/>
<rect x="634.18" y="1792.9" width="44.34" height="42" fill="#357990"/>
<rect x="678.22" y="1792.9" width="44.34" height="42" fill="#306f8f"/>
<rect x="722.26" y="1792.9" width="44.34" height="42" fill="#4bad8a"/>
<rect x="766.3" y="1792.9" width="44.34" height="42" fill="#306f8f"/>
<rect x="810.34" y="1792.9" width="44.34" height="42" fill="#306f8f"/>
<rect x="854.38" y="1792.9" width="44.34" height="42" fill="#31718f"/>
<rect x="898.42" y="1792.9" width="44.34" height="42" fill="#3b8b92"/>
<rect x="942.46" y="1792.9" width="44.34" height="42" fill="#38588c"/>
<rect x="986.5" y="1792.9" width="44.34" height="42" fill="#482878"/>
<rect x="1030.54" y="1792.9" width="44.34" height="42" fill="#440154"/>
<rect x="1074.58" y="1792.9" width="44.34" height="42" fill="#471365"/>
<rect x="1118.62" y="1792.9" width="44.34" height="42" fill="#481769"/>
<rect x="1162.66" y="1792.9" width="44.34" height="42" fill="#440154"/>
<rect x="1206.7" y="1792.9" width="44.34" height="42" fill="#440154"/>
<rect x="1250.74" y="1792.9" width="44.34" height="42" fill="#440154"/>
<rect x="1294.78" y="1792.9" width="44.34" height="42" fill="#414487"/>
<rect x="1338.82" y="1792.9" width="44.34" height="42" fill="#481a6c"/>
<rect x="1382.86" y="1792.9" width="44.34" height="42" fill="#482878"/>
<rect x="546.1" y="1834.6" width="44.34" height="42" fill="#472e7c"/>
<rect x="590.14" y="1834.6" width="44.34" height="42" fill="#3b528b"/>
<rect x="634.18" y="1834.6" width="44.34" height="42" fill="#404688"/>
<rect x="678.22" y="1834.6" width="44.34" height="42" fill="#472e7c"/>
<rect x="722.26" y="1834.6" width="44.34" height="42" fill="#3b528b"/>
<rect x="766.3" y="1834.6" width="44.34" height="42" fill="#472e7c"/>
<rect x="810.34" y="1834.6" width="44.34" height="42" fill="#472e7c"/>
<rect x="854.38" y="1834.6" width="44.34" height="42" fill="#46307e"/>
<rect x="898.42" y="1834.6" width="44.34" height="42" fill="#2f6c8e"/>
<rect x="942.46" y="1834.6" width="44.34" height="42" fill="#443a83"/>
<rect x="986.5" y="1834.6" width="44.34" height="42" fill="#55b683"/>
<rect x="1030.54" y="1834.6" width="44.34" height="42" fill="#409991"/>
<rect x="1074.58" y="1834.6" width="44.34" height="42" fill="#42a190"/>
<rect x="1118.62" y="1834.6" width="44.34" height="42" fill="#42a190"/>
<rect x="1162.66" y="1834.6" width="44.34" height="42" fill="#327490"/>
<rect x="1206.7" y="1834.6" width="44.34" height="42" fill="#355f8d"/>
<rect x="1250.74" y="1834.6" width="44.34" height="42" fill="#3f9792"/>
<rect x="1294.78" y="1834.6" width="44.34" height="42" fill="#45a68e"/>
<rect x="1338.82" y="1834.6" width="44.34" height="42" fill="#3d9092"/>
<rect x="1382.86" y="1834.6" width="44.34" height="42" fill="#377e91"/>
<rect x="546.1" y="1876.3" width="44.34" height="42" fill="#472a7a"/>
<rect x="590.14" y="1876.3" width="44.34" height="42" fill="#3e4c8a"/>
<rect x="634.18" y="1876.3" width="44.34" height="42" fill="#46307e"/>
<rect x="678.22" y="1876.3" width="44.34" height="42" fill="#482878"/>
<rect x="722.26" y="1876.3" width="44.34" height="42" fill="#433e85"/>
<rect x="766.3" y="1876.3" width="44.34" height="42" fill="#471063"/>
<rect x="810.34" y="1876.3" width="44.34" height="42" fill="#46085c"/>
<rect x="854.38" y="1876.3" width="44.34" height="42" fill="#46307e"/>
<rect x="898.42" y="1876.3" width="44.34" height="42" fill="#453781"/>
<rect x="942.46" y="1876.3" width="44.34" height="42" fill="#481d6f"/>
<rect x="986.5" y="1876.3" width="44.34" height="42" fill="#a5da3f"/>
<rect x="1030.54" y="1876.3" width="44.34" height="42" fill="#52b486"/>
<rect x="1074.58" y="1876.3" width="44.34" height="42" fill="#67c177"/>
<rect x="1118.62" y="1876.3" width="44.34" height="42" fill="#76c96b"/>
<rect x="1162.66" y="1876.3" width="44.34" height="42" fill="#3f9792"/>
<rect x="1206.7" y="1876.3" width="44.34" height="42" fill="#42a190"/>
<rect x="1250.74" y="1876.3" width="44.34" height="42" fill="#5cbb7f"/>
<rect x="1294.78" y="1876.3" width="44.34" height="42" fill="#5cbb7f"/>
<rect x="1338.82" y="1876.3" width="44.34" height="42" fill="#97d64d"/>
<rect x="1382.86" y="1876.3" width="44.34" height="42" fill="#409c91"/>
<rect x="546.1" y="1918" width="44.34" height="42" fill="#450457"/>
<rect x="590.14" y="1918" width="44.34" height="42" fill="#450457"/>
<rect x="634.18" y="1918" width="44.34" height="42" fill="#450457"/>
<rect x="678.22" y="1918" width="44.34" height="42" fill="#450457"/>
<rect x="722.26" y="1918" width="44.34" height="42" fill="#450457"/>
<rect x="766.3" y="1918" width="44.34" height="42" fill="#450457"/>
<rect x="810.34" y="1918" width="44.34" height="42" fill="#450457"/>
<rect x="854.38" y="1918" width="44.34" height="42" fill="#450457"/>
<rect x="898.42" y="1918" width="44.34" height="42" fill="#450457"/>
<rect x="942.46" y="1918" width="44.34" height="42" fill="#450457"/>
<rect x="986.5" y="1918" width="44.34" height="42" fill="#eff142"/>
<rect x="1030.54" y="1918" width="44.34" height="42" fill="#eff142"/>
<rect x="1074.58" y="1918" width="44.34" height="42" fill="#eff142"/>
<rect x="1118.62" y="1918" width="44.34" height="42" fill="#eff142"/>
<rect x="1162.66" y="1918" width="44.34" height="42" fill="#eff142"/>
<rect x="1206.7" y="1918" width="44.34" height="42" fill="#eff142"/>
<rect x="1250.74" y="1918" width="44.34" height="42" fill="#eff142"/>
<rect x="1294.78" y="1918" width="44.34" height="42" fill="#eff142"/>
<rect x="1338.82" y="1918" width="44.34" height="42" fill="#eff142"/>
<rect x="1382.86" y="1918" width="44.34" height="42" fill="#eff142"/>
<line x1="590.14" y1="1751.2" x2="590.14" y2="1959.7" stroke="#8a8a8a" stroke-width="0.5" opacity="0.7"/>
<line x1="634.18" y1="1751.2" x2="634.18" y2="1959.7" stroke="#8a8a8a" stroke-width="0.5" opacity="0.7"/>
<line x1="678.22" y1="1751.2" x2="678.22" y2="1959.7" stroke="#8a8a8a" stroke-width="0.5" opacity="0.7"/>
<line x1="722.26" y1="1751.2" x2="722.26" y2="1959.7" stroke="#8a8a8a" stroke-width="0.5" opacity="0.7"/>
<line x1="766.3" y1="1751.2" x2="766.3" y2="1959.7" stroke="#8a8a8a" stroke-width="0.5" opacity="0.7"/>
<line x1="810.34" y1="1751.2" x2="810.34" y2="1959.7" stroke="#8a8a8a" stroke-width="0.5" opacity="0.7"/>
<line x1="854.38" y1="1751.2" x2="854.38" y2="1959.7" stroke="#8a8a8a" stroke-width="0.5" opacity="0.7"/>
<line x1="898.42" y1="1751.2" x2="898.42" y2="1959.7" stroke="#8a8a8a" stroke-width="0.5" opacity="0.7"/>
<line x1="942.46" y1="1751.2" x2="942.46" y2="1959.7" stroke="#8a8a8a" stroke-width="0.5" opacity="0.7"/>
<line x1="986.5" y1="1751.2" x2="986.5" y2="1959.7" stroke="#8a8a8a" stroke-width="0.5" opacity="0.7"/>
<line x1="1030.54" y1="1751.2" x2="1030.54" y2="1959.7" stroke="#8a8a8a" stroke-width="0.5" opacity="0.7"/>
<line x1="1074.58" y1="1751.2" x2="1074.58" y2="1959.7" stroke="#8a8a8a" stroke-width="0.5" opacity="0.7"/>
<line x1="1118.62" y1="1751.2" x2="1118.62" y2="1959.7" stroke="#8a8a8a" stroke-width="0.5" opacity="0.7"/>
<line x1="1162.66" y1="1751.2" x2="1162.66" y2="1959.7" stroke="#8a8a8a" stroke-width="0.5" opacity="0.7"/>
<line x1="1206.7" y1="1751.2" x2="1206.7" y2="1959.7" stroke="#8a8a8a" stroke-width="0.5" opacity="0.7"/>
<line x1="1250.74" y1="1751.2" x2="1250.74" y2="1959.7" stroke="#8a8a8a" stroke-width="0.5" opacity="0.7"/>
<line x1="1294.78" y1="1751.2" x2="1294.78" y2="1959.7" stroke="#8a8a8a" stroke-width="0.5" opacity="0.7"/>
<line x1="1338.82" y1="1751.2" x2="1338.82" y2="1959.7" stroke="#8a8a8a" stroke-width="0.5" opacity="0.7"/>
<line x1="1382.86" y1="1751.2" x2="1382.86" y2="1959.7" stroke="#8a8a8a" stroke-width="0.5" opacity="0.7"/>
<line x1="546.1" y1="1792.9" x2="1426.9" y2="1792.9" stroke="#8a8a8a" stroke-width="0.5" opacity="0.7"/>
<line x1="546.1" y1="1834.6" x2="1426.9" y2="1834.6" stroke="#8a8a8a" stroke-width="0.5" opacity="0.7"/>
<line x1="546.1" y1="1876.3" x2="1426.9" y2="1876.3" stroke="#8a8a8a" stroke-width="0.5" opacity="0.7"/>
<line x1="546.1" y1="1918" x2="1426.9" y2="1918" stroke="#8a8a8a" stroke-width="0.5" opacity="0.7"/>
<rect x="546.1" y="1751.2" width="880.8" height="208.5" fill="none" stroke="#111" stroke-width="1.6"/>
<line x1="539.1" y1="1772.05" x2="546.1" y2="1772.05" stroke="#111" stroke-width="1.5" />
<text x="538.1" y="1779.45" font-size="20.8" text-anchor="end" stroke="#111" stroke-width="0.35">VI</text>
<line x1="539.1" y1="1813.75" x2="546.1" y2="1813.75" stroke="#111" stroke-width="1.5" />
<text x="538.1" y="1821.15" font-size="20.8" text-anchor="end" stroke="#111" stroke-width="0.35">LC</text>
<line x1="539.1" y1="1855.45" x2="546.1" y2="1855.45" stroke="#111" stroke-width="1.5" />
<text x="538.1" y="1862.85" font-size="20.8" text-anchor="end" stroke="#111" stroke-width="0.35">LR</text>
<line x1="539.1" y1="1897.15" x2="546.1" y2="1897.15" stroke="#111" stroke-width="1.5" />
<text x="538.1" y="1904.55" font-size="20.8" text-anchor="end" stroke="#111" stroke-width="0.35">PPWM</text>
<line x1="539.1" y1="1938.85" x2="546.1" y2="1938.85" stroke="#111" stroke-width="1.5" />
<text x="538.1" y="1946.25" font-size="20.8" text-anchor="end" stroke="#111" stroke-width="0.35">WM</text>
<line x1="568.12" y1="1959.7" x2="568.12" y2="1966.7" stroke="#111" stroke-width="1.5" />
<text font-size="21.2" text-anchor="end" stroke="#111" stroke-width="0.35" transform="translate(575.62 1969.2) rotate(-90)">LAMA5</text>
<line x1="612.16" y1="1959.7" x2="612.16" y2="1966.7" stroke="#111" stroke-width="1.5" />
<text font-size="21.2" text-anchor="end" stroke="#111" stroke-width="0.35" transform="translate(619.66 1969.2) rotate(-90)">CRIP2</text>
<line x1="656.2" y1="1959.7" x2="656.2" y2="1966.7" stroke="#111" stroke-width="1.5" />
<text font-size="21.2" text-anchor="end" stroke="#111" stroke-width="0.35" transform="translate(663.7 1969.2) rotate(-90)">TUBB6</text>
<line x1="700.24" y1="1959.7" x2="700.24" y2="1966.7" stroke="#111" stroke-width="1.5" />
<text font-size="21.2" text-anchor="end" stroke="#111" stroke-width="0.35" transform="translate(707.74 1969.2) rotate(-90)">TPM2</text>
<line x1="744.28" y1="1959.7" x2="744.28" y2="1966.7" stroke="#111" stroke-width="1.5" />
<text font-size="21.2" text-anchor="end" stroke="#111" stroke-width="0.35" transform="translate(751.78 1969.2) rotate(-90)">AMOTL1</text>
<line x1="788.32" y1="1959.7" x2="788.32" y2="1966.7" stroke="#111" stroke-width="1.5" />
<text font-size="21.2" text-anchor="end" stroke="#111" stroke-width="0.35" transform="translate(795.82 1969.2) rotate(-90)">CRIP1</text>
<line x1="832.36" y1="1959.7" x2="832.36" y2="1966.7" stroke="#111" stroke-width="1.5" />
<text font-size="21.2" text-anchor="end" stroke="#111" stroke-width="0.35" transform="translate(839.86 1969.2) rotate(-90)">EMP2</text>
<line x1="876.4" y1="1959.7" x2="876.4" y2="1966.7" stroke="#111" stroke-width="1.5" />
<text font-size="21.2" text-anchor="end" stroke="#111" stroke-width="0.35" transform="translate(883.9 1969.2) rotate(-90)">LHFPL6</text>
<line x1="920.44" y1="1959.7" x2="920.44" y2="1966.7" stroke="#111" stroke-width="1.5" />
<text font-size="21.2" text-anchor="end" stroke="#111" stroke-width="0.35" transform="translate(927.94 1969.2) rotate(-90)">NECTIN2</text>
<line x1="964.48" y1="1959.7" x2="964.48" y2="1966.7" stroke="#111" stroke-width="1.5" />
<text font-size="21.2" text-anchor="end" stroke="#111" stroke-width="0.35" transform="translate(971.98 1969.2) rotate(-90)">SOX18</text>
<line x1="1008.52" y1="1959.7" x2="1008.52" y2="1966.7" stroke="#111" stroke-width="1.5" />
<text font-size="21.2" text-anchor="end" stroke="#111" stroke-width="0.35" transform="translate(1016.02 1969.2) rotate(-90)">ANKS1B</text>
<line x1="1052.56" y1="1959.7" x2="1052.56" y2="1966.7" stroke="#111" stroke-width="1.5" />
<text font-size="21.2" text-anchor="end" stroke="#111" stroke-width="0.35" transform="translate(1060.06 1969.2) rotate(-90)">ERMN</text>
<line x1="1096.6" y1="1959.7" x2="1096.6" y2="1966.7" stroke="#111" stroke-width="1.5" />
<text font-size="21.2" text-anchor="end" stroke="#111" stroke-width="0.35" transform="translate(1104.1 1969.2) rotate(-90)">TTLL7</text>
<line x1="1140.64" y1="1959.7" x2="1140.64" y2="1966.7" stroke="#111" stroke-width="1.5" />
<text font-size="21.2" text-anchor="end" stroke="#111" stroke-width="0.35" transform="translate(1148.14 1969.2) rotate(-90)">SILC1</text>
<line x1="1184.68" y1="1959.7" x2="1184.68" y2="1966.7" stroke="#111" stroke-width="1.5" />
<text font-size="21.2" text-anchor="end" stroke="#111" stroke-width="0.35" transform="translate(1192.18 1969.2) rotate(-90)">PRR18</text>
<line x1="1228.72" y1="1959.7" x2="1228.72" y2="1966.7" stroke="#111" stroke-width="1.5" />
<text font-size="21.2" text-anchor="end" stroke="#111" stroke-width="0.35" transform="translate(1236.22 1969.2) rotate(-90)">ASPHD1</text>
<line x1="1272.76" y1="1959.7" x2="1272.76" y2="1966.7" stroke="#111" stroke-width="1.5" />
<text font-size="21.2" text-anchor="end" stroke="#111" stroke-width="0.35" transform="translate(1280.26 1969.2) rotate(-90)">LGI3</text>
<line x1="1316.8" y1="1959.7" x2="1316.8" y2="1966.7" stroke="#111" stroke-width="1.5" />
<text font-size="21.2" text-anchor="end" stroke="#111" stroke-width="0.35" transform="translate(1324.3 1969.2) rotate(-90)">HTRA1</text>
<line x1="1360.84" y1="1959.7" x2="1360.84" y2="1966.7" stroke="#111" stroke-width="1.5" />
<text font-size="21.2" text-anchor="end" stroke="#111" stroke-width="0.35" transform="translate(1368.34 1969.2) rotate(-90)">AC009041.2</text>
<line x1="1404.88" y1="1959.7" x2="1404.88" y2="1966.7" stroke="#111" stroke-width="1.5" />
<text font-size="21.2" text-anchor="end" stroke="#111" stroke-width="0.35" transform="translate(1412.38 1969.2) rotate(-90)">HDAC11</text>
<defs><linearGradient id="gvir" x1="0" y1="0" x2="0" y2="1"><stop offset="0%" stop-color="#eff142"/><stop offset="10%" stop-color="#bddf26"/><stop offset="20%" stop-color="#8ed355"/><stop offset="30%" stop-color="#67c177"/><stop offset="40%" stop-color="#48aa8c"/><stop offset="50%" stop-color="#3d9292"/><stop offset="60%" stop-color="#357990"/><stop offset="70%" stop-color="#355f8d"/><stop offset="80%" stop-color="#414487"/><stop offset="90%" stop-color="#482475"/><stop offset="100%" stop-color="#440154"/></linearGradient></defs>
<rect x="1440.5" y="1882.2" width="11.7" height="76.5" fill="url(#gvir)" stroke="#111" stroke-width="1.2"/>
<line x1="1452.2" y1="1882.2" x2="1459" y2="1882.2" stroke="#111" stroke-width="1.3" />
<text x="1461.2" y="1889.5" font-size="20.5" stroke="#111" stroke-width="0.35">1.0</text>
<line x1="1452.2" y1="1920.5" x2="1459" y2="1920.5" stroke="#111" stroke-width="1.3" />
<text x="1461.2" y="1927.8" font-size="20.5" stroke="#111" stroke-width="0.35">0.5</text>
<line x1="1452.2" y1="1958.7" x2="1459" y2="1958.7" stroke="#111" stroke-width="1.3" />
<text x="1461.2" y="1966" font-size="20.5" stroke="#111" stroke-width="0.35">0.0</text>
<text x="1439.9" y="1840.7" font-size="21.2" stroke="#111" stroke-width="0.35">Mean</text>
<text x="1439.9" y="1863" font-size="21.2" stroke="#111" stroke-width="0.35">z-scores</text>
<rect x="1615.4" y="1750.7" width="45.3" height="46.2" fill="#e8cfc3"/>
<rect x="1660.4" y="1750.7" width="45.3" height="46.2" fill="#ebbfaa"/>
<rect x="1705.4" y="1750.7" width="45.3" height="46.2" fill="#b91c2c"/>
<rect x="1750.4" y="1750.7" width="45.3" height="46.2" fill="#92b1fa"/>
<rect x="1615.4" y="1796.6" width="45.3" height="46.2" fill="#c5d5f2"/>
<rect x="1660.4" y="1796.6" width="45.3" height="46.2" fill="#c7d6f0"/>
<rect x="1705.4" y="1796.6" width="45.3" height="46.2" fill="#cc3c3a"/>
<rect x="1750.4" y="1796.6" width="45.3" height="46.2" fill="#7694f4"/>
<rect x="1615.4" y="1842.5" width="45.3" height="46.2" fill="#a9c4fa"/>
<rect x="1660.4" y="1842.5" width="45.3" height="46.2" fill="#8ba9fa"/>
<rect x="1705.4" y="1842.5" width="45.3" height="46.2" fill="#ca3a38"/>
<rect x="1750.4" y="1842.5" width="45.3" height="46.2" fill="#5d77e5"/>
<rect x="1615.4" y="1888.4" width="45.3" height="46.2" fill="#7a98f6"/>
<rect x="1660.4" y="1888.4" width="45.3" height="46.2" fill="#7e9cf7"/>
<rect x="1705.4" y="1888.4" width="45.3" height="46.2" fill="#e5826a"/>
<rect x="1750.4" y="1888.4" width="45.3" height="46.2" fill="#4f64d6"/>
<rect x="1615.4" y="1934.3" width="45.3" height="46.2" fill="#6580ea"/>
<rect x="1660.4" y="1934.3" width="45.3" height="46.2" fill="#728eef"/>
<rect x="1705.4" y="1934.3" width="45.3" height="46.2" fill="#d7dce6"/>
<rect x="1750.4" y="1934.3" width="45.3" height="46.2" fill="#4856ce"/>
<rect x="1615.4" y="1750.7" width="180" height="229.5" fill="none" stroke="#111" stroke-width="1.8"/>
<line x1="1608.4" y1="1773.65" x2="1615.4" y2="1773.65" stroke="#111" stroke-width="1.5" />
<text x="1607.4" y="1781.05" font-size="20.8" text-anchor="end" stroke="#111" stroke-width="0.35">VI</text>
<line x1="1608.4" y1="1819.55" x2="1615.4" y2="1819.55" stroke="#111" stroke-width="1.5" />
<text x="1607.4" y="1826.95" font-size="20.8" text-anchor="end" stroke="#111" stroke-width="0.35">LC</text>
<line x1="1608.4" y1="1865.45" x2="1615.4" y2="1865.45" stroke="#111" stroke-width="1.5" />
<text x="1607.4" y="1872.85" font-size="20.8" text-anchor="end" stroke="#111" stroke-width="0.35">LR</text>
<line x1="1608.4" y1="1911.35" x2="1615.4" y2="1911.35" stroke="#111" stroke-width="1.5" />
<text x="1607.4" y="1918.75" font-size="20.8" text-anchor="end" stroke="#111" stroke-width="0.35">PPWM</text>
<line x1="1608.4" y1="1957.25" x2="1615.4" y2="1957.25" stroke="#111" stroke-width="1.5" />
<text x="1607.4" y="1964.65" font-size="20.8" text-anchor="end" stroke="#111" stroke-width="0.35">WM</text>
<line x1="1637.9" y1="1980.2" x2="1637.9" y2="1988.2" stroke="#111" stroke-width="1.5" />
<text font-size="21.2" text-anchor="end" stroke="#111" stroke-width="0.35" transform="translate(1650.4 1997.2) rotate(-45)">JAK-STAT</text>
<line x1="1682.9" y1="1980.2" x2="1682.9" y2="1988.2" stroke="#111" stroke-width="1.5" />
<text font-size="21.2" text-anchor="end" stroke="#111" stroke-width="0.35" transform="translate(1695.4 1997.2) rotate(-45)">TFGβ</text>
<line x1="1727.9" y1="1980.2" x2="1727.9" y2="1988.2" stroke="#111" stroke-width="1.5" />
<text font-size="21.2" text-anchor="end" stroke="#111" stroke-width="0.35" transform="translate(1740.4 1997.2) rotate(-45)">TNFα</text>
<line x1="1772.9" y1="1980.2" x2="1772.9" y2="1988.2" stroke="#111" stroke-width="1.5" />
<text font-size="21.2" text-anchor="end" stroke="#111" stroke-width="0.35" transform="translate(1785.4 1997.2) rotate(-45)">WNT</text>
<defs><linearGradient id="gcw" x1="0" y1="0" x2="0" y2="1"><stop offset="0%" stop-color="#b40426"/><stop offset="10%" stop-color="#d65244"/><stop offset="20%" stop-color="#ee8468"/><stop offset="30%" stop-color="#f7ac8e"/><stop offset="40%" stop-color="#f2cbb7"/><stop offset="50%" stop-color="#dddcdc"/><stop offset="60%" stop-color="#c0d4f5"/><stop offset="70%" stop-color="#9ebeff"/><stop offset="80%" stop-color="#7b9ff9"/><stop offset="90%" stop-color="#5977e3"/><stop offset="100%" stop-color="#3b4cc0"/></linearGradient></defs>
<rect x="1807.4" y="1893.2" width="13.2" height="84.3" fill="url(#gcw)" stroke="#111" stroke-width="1.2"/>
<line x1="1820.6" y1="1893.2" x2="1828.5" y2="1893.2" stroke="#111" stroke-width="1.3" />
<text x="1836.5" y="1900.5" font-size="20.5" stroke="#111" stroke-width="0.35">2.5</text>
<line x1="1820.6" y1="1935.4" x2="1828.5" y2="1935.4" stroke="#111" stroke-width="1.3" />
<text x="1836.5" y="1942.7" font-size="20.5" stroke="#111" stroke-width="0.35">0.0</text>
<line x1="1820.6" y1="1977.5" x2="1828.5" y2="1977.5" stroke="#111" stroke-width="1.3" />
<text x="1832.2" y="1984.8" font-size="20.5" stroke="#111" stroke-width="0.35">-2.5</text>
<text x="1808.5" y="1845.8" font-size="21.3" stroke="#111" stroke-width="0.35">Mean</text>
<text x="1808.5" y="1868.5" font-size="21.3" stroke="#111" stroke-width="0.35">activity</text>
<line x1="586" y1="2150.4" x2="586" y2="2621.9" stroke="#cfcfcf" stroke-width="1.5" />
<line x1="694.5" y1="2150.4" x2="694.5" y2="2621.9" stroke="#cfcfcf" stroke-width="1.5" />
<line x1="803" y1="2150.4" x2="803" y2="2621.9" stroke="#cfcfcf" stroke-width="1.5" />
<line x1="477.5" y1="2180" x2="911.5" y2="2180" stroke="#cfcfcf" stroke-width="1.5" />
<line x1="477.5" y1="2225.95" x2="911.5" y2="2225.95" stroke="#cfcfcf" stroke-width="1.5" />
<line x1="477.5" y1="2271.9" x2="911.5" y2="2271.9" stroke="#cfcfcf" stroke-width="1.5" />
<line x1="477.5" y1="2317.85" x2="911.5" y2="2317.85" stroke="#cfcfcf" stroke-width="1.5" />
<line x1="477.5" y1="2363.8" x2="911.5" y2="2363.8" stroke="#cfcfcf" stroke-width="1.5" />
<line x1="477.5" y1="2409.75" x2="911.5" y2="2409.75" stroke="#cfcfcf" stroke-width="1.5" />
<line x1="477.5" y1="2455.7" x2="911.5" y2="2455.7" stroke="#cfcfcf" stroke-width="1.5" />
<line x1="477.5" y1="2501.65" x2="911.5" y2="2501.65" stroke="#cfcfcf" stroke-width="1.5" />
<line x1="477.5" y1="2547.6" x2="911.5" y2="2547.6" stroke="#cfcfcf" stroke-width="1.5" />
<line x1="477.5" y1="2593.55" x2="911.5" y2="2593.55" stroke="#cfcfcf" stroke-width="1.5" />
<rect x="477.5" y="2161.5" width="393.64" height="37" fill="#4682b9"/>
<line x1="469.5" y1="2180" x2="477.5" y2="2180" stroke="#111" stroke-width="1.6" />
<text x="460.4" y="2187.2" font-size="21.5" text-anchor="end" stroke="#111" stroke-width="0.35">Extracellular matrix organization</text>
<rect x="477.5" y="2207.45" width="393.64" height="37" fill="#4682b9"/>
<line x1="469.5" y1="2225.95" x2="477.5" y2="2225.95" stroke="#111" stroke-width="1.6" />
<text x="460.4" y="2233.15" font-size="21.5" text-anchor="end" stroke="#111" stroke-width="0.35">Smooth muscle contraction</text>
<rect x="477.5" y="2253.4" width="356.75" height="37" fill="#4682b9"/>
<line x1="469.5" y1="2271.9" x2="477.5" y2="2271.9" stroke="#111" stroke-width="1.6" />
<text x="460.4" y="2279.1" font-size="21.5" text-anchor="end" stroke="#111" stroke-width="0.35">Cytokine signaling in immune system</text>
<rect x="477.5" y="2299.35" width="344.6" height="37" fill="#4682b9"/>
<line x1="469.5" y1="2317.85" x2="477.5" y2="2317.85" stroke="#111" stroke-width="1.6" />
<text x="460.4" y="2312.65" font-size="21.5" text-anchor="end" stroke="#111" stroke-width="0.35">Regulation of IGF transport and uptake by</text>
<text x="460.4" y="2337.65" font-size="21.5" text-anchor="end" stroke="#111" stroke-width="0.35">IGFBPS</text>
<rect x="477.5" y="2345.3" width="225.68" height="37" fill="#4682b9"/>
<line x1="469.5" y1="2363.8" x2="477.5" y2="2363.8" stroke="#111" stroke-width="1.6" />
<text x="460.4" y="2371" font-size="21.5" text-anchor="end" stroke="#111" stroke-width="0.35">Nervous system development</text>
<rect x="477.5" y="2391.25" width="217.87" height="37" fill="#4682b9"/>
<line x1="469.5" y1="2409.75" x2="477.5" y2="2409.75" stroke="#111" stroke-width="1.6" />
<text x="460.4" y="2416.95" font-size="21.5" text-anchor="end" stroke="#111" stroke-width="0.35">Signaling by interleukins</text>
<rect x="477.5" y="2437.2" width="211.36" height="37" fill="#4682b9"/>
<line x1="469.5" y1="2455.7" x2="477.5" y2="2455.7" stroke="#111" stroke-width="1.6" />
<text x="460.4" y="2462.9" font-size="21.5" text-anchor="end" stroke="#111" stroke-width="0.35">Signaling by receptor tyrosine kinases</text>
<rect x="477.5" y="2483.15" width="206.15" height="37" fill="#4682b9"/>
<line x1="469.5" y1="2501.65" x2="477.5" y2="2501.65" stroke="#111" stroke-width="1.6" />
<text x="460.4" y="2508.85" font-size="21.5" text-anchor="end" stroke="#111" stroke-width="0.35">Cell junction organization</text>
<rect x="477.5" y="2529.1" width="206.15" height="37" fill="#4682b9"/>
<line x1="469.5" y1="2547.6" x2="477.5" y2="2547.6" stroke="#111" stroke-width="1.6" />
<text x="460.4" y="2554.8" font-size="21.5" text-anchor="end" stroke="#111" stroke-width="0.35">Response to elevated platelet cytosolic CA2</text>
<rect x="477.5" y="2575.05" width="206.15" height="37" fill="#4682b9"/>
<line x1="469.5" y1="2593.55" x2="477.5" y2="2593.55" stroke="#111" stroke-width="1.6" />
<text x="460.4" y="2598.85" font-size="21.5" text-anchor="end" stroke="#111" stroke-width="0.35">Antigen presentation folding assembly and</text>
<text x="460.4" y="2623.85" font-size="21.5" text-anchor="end" stroke="#111" stroke-width="0.35">peptide loading of class I MHC</text>
<line x1="533.92" y1="2150.4" x2="533.92" y2="2621.9" stroke="#111" stroke-width="3.3" stroke-dasharray="11.5 5"/>
<rect x="477.5" y="2150.4" width="434" height="471.5" fill="none" stroke="#111" stroke-width="1.7"/>
<line x1="477.5" y1="2621.9" x2="477.5" y2="2629.9" stroke="#111" stroke-width="1.6" />
<text x="477.5" y="2654.5" font-size="21.5" text-anchor="middle" stroke="#111" stroke-width="0.35">0.0</text>
<line x1="586" y1="2621.9" x2="586" y2="2629.9" stroke="#111" stroke-width="1.6" />
<text x="586" y="2654.5" font-size="21.5" text-anchor="middle" stroke="#111" stroke-width="0.35">2.5</text>
<line x1="694.5" y1="2621.9" x2="694.5" y2="2629.9" stroke="#111" stroke-width="1.6" />
<text x="694.5" y="2654.5" font-size="21.5" text-anchor="middle" stroke="#111" stroke-width="0.35">5.0</text>
<line x1="803" y1="2621.9" x2="803" y2="2629.9" stroke="#111" stroke-width="1.6" />
<text x="803" y="2654.5" font-size="21.5" text-anchor="middle" stroke="#111" stroke-width="0.35">7.5</text>
<line x1="911.5" y1="2621.9" x2="911.5" y2="2629.9" stroke="#111" stroke-width="1.6" />
<text x="911.5" y="2654.5" font-size="21.5" text-anchor="middle" stroke="#111" stroke-width="0.35">10.0</text>
<text x="694.5" y="2682" font-size="21.5" text-anchor="middle" stroke="#111" stroke-width="0.35">-log10 (FDR)</text>
<text x="125.4" y="2712" font-size="21.5" stroke="#111" stroke-width="0.35">IGF: Insuline like growth factor | IGFBP: Insuline like growth factor binding proteins</text>
<line x1="1584.33" y1="2149.5" x2="1584.33" y2="2619.9" stroke="#cfcfcf" stroke-width="1.5" />
<line x1="1695.75" y1="2149.5" x2="1695.75" y2="2619.9" stroke="#cfcfcf" stroke-width="1.5" />
<line x1="1807.17" y1="2149.5" x2="1807.17" y2="2619.9" stroke="#cfcfcf" stroke-width="1.5" />
<line x1="1472.9" y1="2178.3" x2="1918.6" y2="2178.3" stroke="#cfcfcf" stroke-width="1.5" />
<line x1="1472.9" y1="2224.15" x2="1918.6" y2="2224.15" stroke="#cfcfcf" stroke-width="1.5" />
<line x1="1472.9" y1="2270" x2="1918.6" y2="2270" stroke="#cfcfcf" stroke-width="1.5" />
<line x1="1472.9" y1="2315.85" x2="1918.6" y2="2315.85" stroke="#cfcfcf" stroke-width="1.5" />
<line x1="1472.9" y1="2361.7" x2="1918.6" y2="2361.7" stroke="#cfcfcf" stroke-width="1.5" />
<line x1="1472.9" y1="2407.55" x2="1918.6" y2="2407.55" stroke="#cfcfcf" stroke-width="1.5" />
<line x1="1472.9" y1="2453.4" x2="1918.6" y2="2453.4" stroke="#cfcfcf" stroke-width="1.5" />
<line x1="1472.9" y1="2499.25" x2="1918.6" y2="2499.25" stroke="#cfcfcf" stroke-width="1.5" />
<line x1="1472.9" y1="2545.1" x2="1918.6" y2="2545.1" stroke="#cfcfcf" stroke-width="1.5" />
<line x1="1472.9" y1="2590.95" x2="1918.6" y2="2590.95" stroke="#cfcfcf" stroke-width="1.5" />
<rect x="1472.9" y="2160.05" width="253.16" height="36.5" fill="#dc2d2c"/>
<line x1="1464.9" y1="2178.3" x2="1472.9" y2="2178.3" stroke="#111" stroke-width="1.6" />
<text x="1459" y="2185.5" font-size="21.5" text-anchor="end" stroke="#111" stroke-width="0.35">Metabolism of lipids</text>
<rect x="1472.9" y="2205.9" width="253.16" height="36.5" fill="#dc2d2c"/>
<line x1="1464.9" y1="2224.15" x2="1472.9" y2="2224.15" stroke="#111" stroke-width="1.6" />
<text x="1459" y="2231.35" font-size="21.5" text-anchor="end" stroke="#111" stroke-width="0.35">Membrane trafficking</text>
<rect x="1472.9" y="2251.75" width="253.16" height="36.5" fill="#dc2d2c"/>
<line x1="1464.9" y1="2270" x2="1472.9" y2="2270" stroke="#111" stroke-width="1.6" />
<text x="1459" y="2277.2" font-size="21.5" text-anchor="end" stroke="#111" stroke-width="0.35">Clathrin mediated endocytosis</text>
<rect x="1472.9" y="2297.6" width="183.18" height="36.5" fill="#dc2d2c"/>
<line x1="1464.9" y1="2315.85" x2="1472.9" y2="2315.85" stroke="#111" stroke-width="1.6" />
<text x="1459" y="2323.05" font-size="21.5" text-anchor="end" stroke="#111" stroke-width="0.35">Cholesterol biosynthesis</text>
<rect x="1472.9" y="2343.45" width="163.13" height="36.5" fill="#dc2d2c"/>
<line x1="1464.9" y1="2361.7" x2="1472.9" y2="2361.7" stroke="#111" stroke-width="1.6" />
<text x="1459" y="2368.9" font-size="21.5" text-anchor="end" stroke="#111" stroke-width="0.35">Vesicle mediated transport</text>
<rect x="1472.9" y="2389.3" width="127.02" height="36.5" fill="#dc2d2c"/>
<line x1="1464.9" y1="2407.55" x2="1472.9" y2="2407.55" stroke="#111" stroke-width="1.6" />
<text x="1459" y="2414.75" font-size="21.5" text-anchor="end" stroke="#111" stroke-width="0.35">Sphingolipid de novo biosynthesis</text>
<rect x="1472.9" y="2435.15" width="120.34" height="36.5" fill="#dc2d2c"/>
<line x1="1464.9" y1="2453.4" x2="1472.9" y2="2453.4" stroke="#111" stroke-width="1.6" />
<text x="1459" y="2450.2" font-size="21.5" text-anchor="end" stroke="#111" stroke-width="0.35">Cargo recognition for clathrin mediated</text>
<text x="1459" y="2475.2" font-size="21.5" text-anchor="end" stroke="#111" stroke-width="0.35">endocytosis</text>
<rect x="1472.9" y="2481" width="107.41" height="36.5" fill="#dc2d2c"/>
<line x1="1464.9" y1="2499.25" x2="1472.9" y2="2499.25" stroke="#111" stroke-width="1.6" />
<text x="1459" y="2506.45" font-size="21.5" text-anchor="end" stroke="#111" stroke-width="0.35">Sphingolipid metabolism</text>
<rect x="1472.9" y="2526.85" width="78.44" height="36.5" fill="#dc2d2c"/>
<line x1="1464.9" y1="2545.1" x2="1472.9" y2="2545.1" stroke="#111" stroke-width="1.6" />
<text x="1459" y="2552.3" font-size="21.5" text-anchor="end" stroke="#111" stroke-width="0.35">Activation of gene expression by SREBF-SREBP</text>
<rect x="1472.9" y="2572.7" width="78.44" height="36.5" fill="#dc2d2c"/>
<line x1="1464.9" y1="2590.95" x2="1472.9" y2="2590.95" stroke="#111" stroke-width="1.6" />
<text x="1459" y="2598.15" font-size="21.5" text-anchor="end" stroke="#111" stroke-width="0.35">Nervous system development</text>
<line x1="1530.84" y1="2149.5" x2="1530.84" y2="2619.9" stroke="#111" stroke-width="3.3" stroke-dasharray="11.5 5"/>
<rect x="1472.9" y="2149.5" width="445.7" height="470.4" fill="none" stroke="#111" stroke-width="1.7"/>
<line x1="1472.9" y1="2619.9" x2="1472.9" y2="2627.9" stroke="#111" stroke-width="1.6" />
<text x="1470.3" y="2652" font-size="21.5" text-anchor="middle" stroke="#111" stroke-width="0.35">0.0</text>
<line x1="1584.33" y1="2619.9" x2="1584.33" y2="2627.9" stroke="#111" stroke-width="1.6" />
<text x="1581.73" y="2652" font-size="21.5" text-anchor="middle" stroke="#111" stroke-width="0.35">2.5</text>
<line x1="1695.75" y1="2619.9" x2="1695.75" y2="2627.9" stroke="#111" stroke-width="1.6" />
<text x="1693.15" y="2652" font-size="21.5" text-anchor="middle" stroke="#111" stroke-width="0.35">5.0</text>
<line x1="1807.17" y1="2619.9" x2="1807.17" y2="2627.9" stroke="#111" stroke-width="1.6" />
<text x="1804.58" y="2652" font-size="21.5" text-anchor="middle" stroke="#111" stroke-width="0.35">7.5</text>
<line x1="1918.6" y1="2619.9" x2="1918.6" y2="2627.9" stroke="#111" stroke-width="1.6" />
<text x="1916" y="2652" font-size="21.5" text-anchor="middle" stroke="#111" stroke-width="0.35">10.0</text>
<text x="1693.15" y="2680" font-size="21.5" text-anchor="middle" stroke="#111" stroke-width="0.35">-log10 (FDR)</text>
</svg>
</body></html>
